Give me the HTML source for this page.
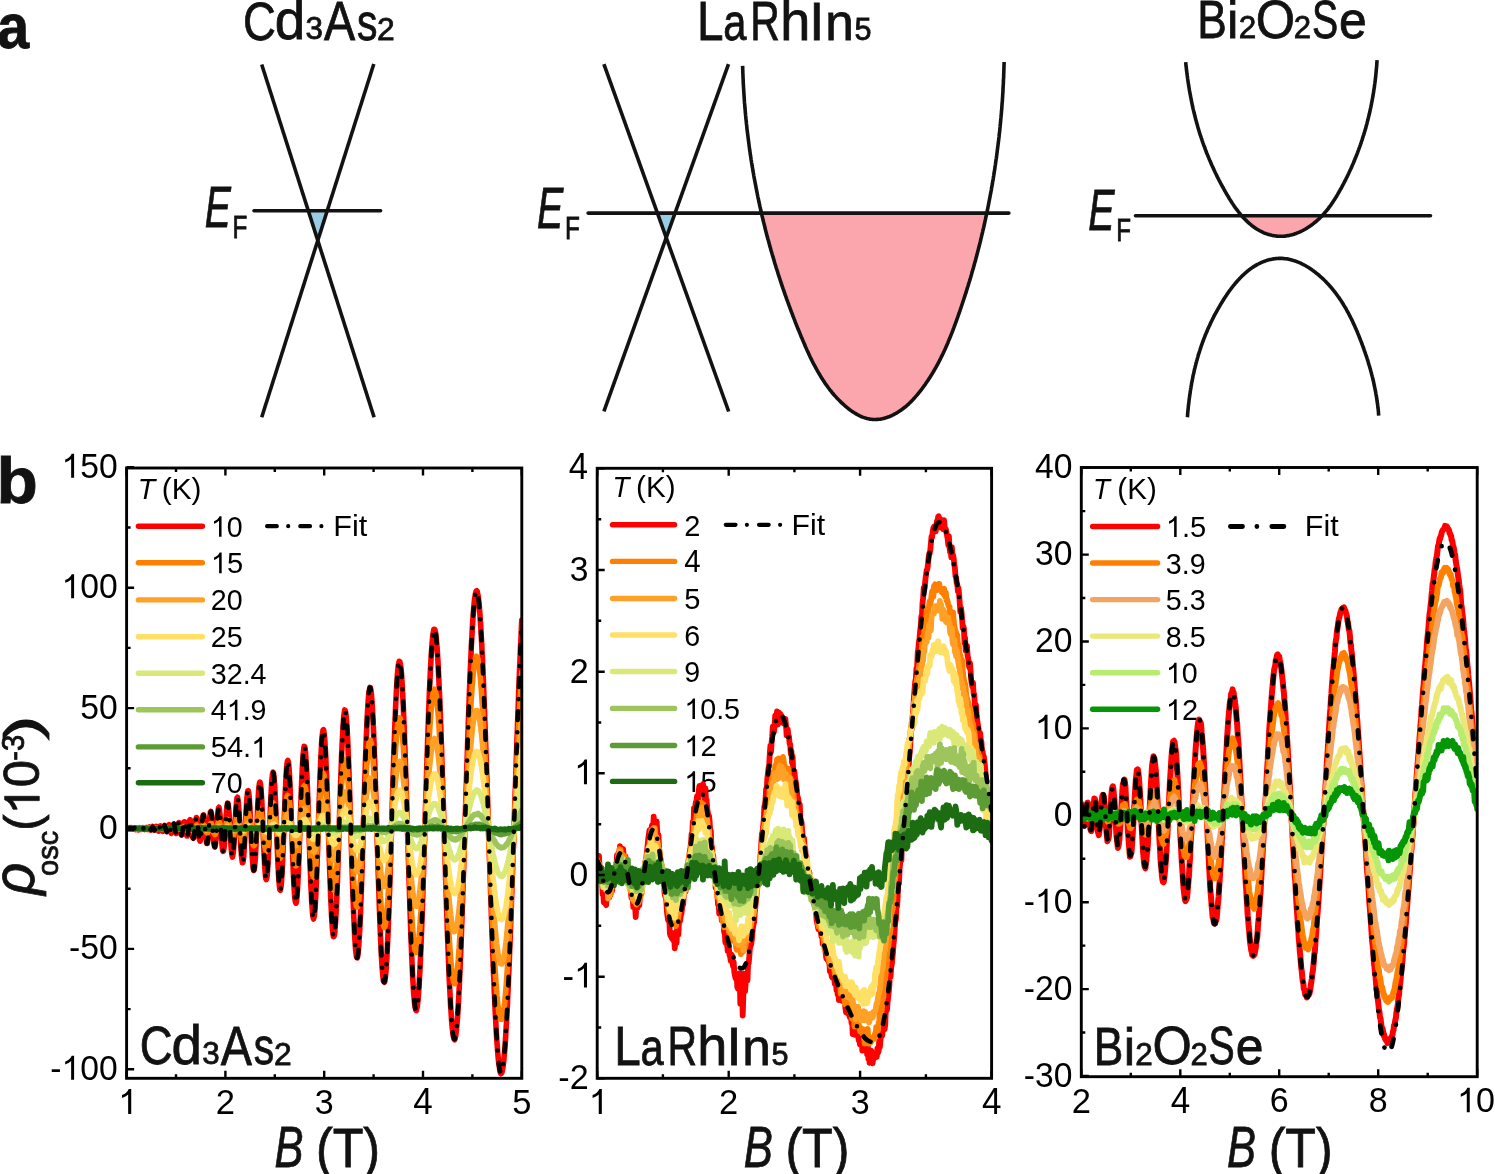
<!DOCTYPE html>
<html><head><meta charset="utf-8"><title>figure</title>
<style>html,body{margin:0;padding:0;background:#fff;overflow:hidden}svg{display:block;will-change:transform}</style></head>
<body><svg width="1495" height="1174" viewBox="0 0 1495 1174" font-family="'Liberation Sans', sans-serif">
<rect width="1495" height="1174" fill="#fff"/>
<text x="-2.68" y="47.99" font-size="62.06" font-weight="bold" textLength="31.92" lengthAdjust="spacingAndGlyphs" fill="#121212" stroke="#121212" stroke-width="0.8">a</text>
<text x="242.89" y="39.57" font-size="54.38" textLength="32.84" lengthAdjust="spacingAndGlyphs" fill="#121212" stroke="#121212" stroke-width="0.8">C</text>
<text x="274.74" y="39.27" font-size="54.74" textLength="30.44" lengthAdjust="spacingAndGlyphs" fill="#121212" stroke="#121212" stroke-width="0.8">d</text>
<text x="305.42" y="39.49" font-size="31.36" textLength="17.44" lengthAdjust="spacingAndGlyphs" fill="#121212" stroke="#121212" stroke-width="0.8">3</text>
<text x="323.91" y="39.90" font-size="54.72" textLength="31.18" lengthAdjust="spacingAndGlyphs" fill="#121212" stroke="#121212" stroke-width="0.8">A</text>
<text x="356.96" y="39.60" font-size="51.06" textLength="20.41" lengthAdjust="spacingAndGlyphs" fill="#121212" stroke="#121212" stroke-width="0.8">s</text>
<text x="377.11" y="39.90" font-size="31.79" textLength="17.68" lengthAdjust="spacingAndGlyphs" fill="#121212" stroke="#121212" stroke-width="0.8">2</text>
<text x="697.09" y="39.90" font-size="54.65" textLength="26.49" lengthAdjust="spacingAndGlyphs" fill="#121212" stroke="#121212" stroke-width="0.8">L</text>
<text x="723.33" y="39.70" font-size="50.93" textLength="23.17" lengthAdjust="spacingAndGlyphs" fill="#121212" stroke="#121212" stroke-width="0.8">a</text>
<text x="750.34" y="39.90" font-size="54.94" textLength="29.56" lengthAdjust="spacingAndGlyphs" fill="#121212" stroke="#121212" stroke-width="0.8">R</text>
<text x="780.15" y="39.70" font-size="55.34" textLength="30.06" lengthAdjust="spacingAndGlyphs" fill="#121212" stroke="#121212" stroke-width="0.8">h</text>
<text x="809.37" y="39.70" font-size="54.22" textLength="15.06" lengthAdjust="spacingAndGlyphs" fill="#121212" stroke="#121212" stroke-width="0.8">I</text>
<text x="825.15" y="39.70" font-size="51.29" textLength="28.53" lengthAdjust="spacingAndGlyphs" fill="#121212" stroke="#121212" stroke-width="0.8">n</text>
<text x="854.38" y="39.59" font-size="31.24" textLength="17.01" lengthAdjust="spacingAndGlyphs" fill="#121212" stroke="#121212" stroke-width="0.8">5</text>
<text x="1197.16" y="38.00" font-size="53.85" textLength="29.58" lengthAdjust="spacingAndGlyphs" fill="#121212" stroke="#121212" stroke-width="0.8">B</text>
<text x="1227.11" y="37.80" font-size="51.34" textLength="11.41" lengthAdjust="spacingAndGlyphs" fill="#121212" stroke="#121212" stroke-width="0.8">i</text>
<text x="1238.74" y="37.80" font-size="31.51" textLength="17.52" lengthAdjust="spacingAndGlyphs" fill="#121212" stroke="#121212" stroke-width="0.8">2</text>
<text x="1255.81" y="37.57" font-size="54.24" textLength="39.31" lengthAdjust="spacingAndGlyphs" fill="#121212" stroke="#121212" stroke-width="0.8">O</text>
<text x="1293.86" y="37.70" font-size="31.08" textLength="17.28" lengthAdjust="spacingAndGlyphs" fill="#121212" stroke="#121212" stroke-width="0.8">2</text>
<text x="1312.02" y="37.57" font-size="54.24" textLength="26.18" lengthAdjust="spacingAndGlyphs" fill="#121212" stroke="#121212" stroke-width="0.8">S</text>
<text x="1339.08" y="37.60" font-size="50.93" textLength="27.73" lengthAdjust="spacingAndGlyphs" fill="#121212" stroke="#121212" stroke-width="0.8">e</text>
<text x="204.79" y="226.50" font-size="57.56" font-style="italic" textLength="26.14" lengthAdjust="spacingAndGlyphs" fill="#121212" stroke="#121212" stroke-width="0.8">E</text>
<text x="232.50" y="237.50" font-size="31.83" textLength="14.87" lengthAdjust="spacingAndGlyphs" fill="#121212" stroke="#121212" stroke-width="0.8">F</text>
<text x="537.09" y="227.70" font-size="57.27" font-style="italic" textLength="26.25" lengthAdjust="spacingAndGlyphs" fill="#121212" stroke="#121212" stroke-width="0.8">E</text>
<text x="565.00" y="239.00" font-size="31.83" textLength="14.87" lengthAdjust="spacingAndGlyphs" fill="#121212" stroke="#121212" stroke-width="0.8">F</text>
<text x="1088.29" y="229.80" font-size="57.27" font-style="italic" textLength="26.25" lengthAdjust="spacingAndGlyphs" fill="#121212" stroke="#121212" stroke-width="0.8">E</text>
<text x="1116.22" y="240.90" font-size="31.54" textLength="14.75" lengthAdjust="spacingAndGlyphs" fill="#121212" stroke="#121212" stroke-width="0.8">F</text>
<polygon points="308.3,210.7 327.2,210.7 317.8,240.5" fill="#9acde3"/>
<line x1="261.7" y1="64.5" x2="374.1" y2="417.2" stroke="#121212" stroke-width="3.6"/>
<line x1="373.8" y1="64.0" x2="261.7" y2="417.2" stroke="#121212" stroke-width="3.6"/>
<line x1="254.0" y1="210.7" x2="380.6" y2="210.7" stroke="#121212" stroke-width="3.6" stroke-linecap="round"/>
<polygon points="657.4,213.1 675.0,213.1 666.2,237.7" fill="#9acde3"/>
<polygon points="761.7,214.1 762.0,215.7 762.4,217.2 762.8,218.8 763.1,220.3 763.5,221.9 763.9,223.4 764.3,224.9 764.7,226.5 765.0,228.0 765.4,229.5 765.8,231.1 766.2,232.6 766.6,234.2 767.0,235.7 767.4,237.2 767.8,238.8 768.3,240.3 768.7,241.8 769.1,243.3 769.5,244.9 769.9,246.4 770.4,247.9 770.8,249.5 771.2,251.0 771.7,252.5 772.1,254.0 772.6,255.6 773.0,257.1 773.5,258.6 773.9,260.1 774.4,261.7 774.8,263.2 775.3,264.7 775.8,266.2 776.2,267.7 776.7,269.2 777.2,270.8 777.7,272.3 778.1,273.8 778.6,275.3 779.1,276.8 779.6,278.3 780.1,279.8 780.6,281.4 781.1,282.9 781.6,284.4 782.1,285.9 782.6,287.4 783.1,288.9 783.7,290.4 784.2,291.9 784.7,293.4 785.2,294.9 785.8,296.4 786.3,297.9 786.8,299.4 787.4,300.9 787.9,302.4 788.5,303.9 789.0,305.4 789.6,306.9 790.1,308.4 790.7,309.9 791.2,311.4 791.8,312.9 792.4,314.4 792.9,315.9 793.5,317.4 794.1,318.9 794.7,320.3 795.2,321.8 795.8,323.3 796.4,324.8 797.0,326.3 797.6,327.8 798.2,329.3 798.8,330.7 799.4,332.2 800.0,333.7 800.6,335.2 801.2,336.7 801.9,338.1 802.5,339.6 803.1,341.1 803.7,342.6 804.4,344.0 805.0,345.5 805.6,347.0 806.3,348.4 806.9,349.9 807.6,351.4 808.3,352.8 808.9,354.3 809.6,355.7 810.3,357.2 811.0,358.6 811.7,360.0 812.4,361.5 813.1,362.9 813.9,364.3 814.6,365.7 815.4,367.1 816.1,368.5 816.9,369.9 817.7,371.3 818.5,372.7 819.3,374.0 820.1,375.4 820.9,376.8 821.7,378.1 822.6,379.4 823.5,380.8 824.3,382.1 825.2,383.4 826.1,384.7 827.1,386.0 828.0,387.3 828.9,388.5 829.9,389.8 830.9,391.0 831.9,392.3 832.9,393.5 833.9,394.7 835.0,395.9 836.1,397.1 837.1,398.3 838.3,399.4 839.4,400.6 840.5,401.7 841.7,402.8 842.9,403.9 844.1,405.0 845.3,406.1 846.5,407.1 847.8,408.2 849.1,409.2 850.3,410.1 851.6,411.1 853.0,412.0 854.3,412.8 855.7,413.6 857.0,414.4 858.4,415.2 859.8,415.8 861.2,416.5 862.6,417.1 864.1,417.6 865.5,418.1 867.0,418.5 868.4,418.8 869.9,419.1 871.4,419.3 872.9,419.5 874.4,419.5 875.9,419.5 877.4,419.4 879.0,419.3 880.5,419.1 882.0,418.8 883.6,418.4 885.1,418.0 886.6,417.6 888.1,417.0 889.6,416.5 891.1,415.8 892.6,415.2 894.0,414.4 895.4,413.7 896.8,412.9 898.2,412.0 899.6,411.1 900.9,410.2 902.2,409.3 903.5,408.3 904.8,407.3 906.0,406.3 907.3,405.2 908.5,404.1 909.6,403.0 910.8,401.9 911.9,400.7 913.1,399.5 914.2,398.3 915.2,397.1 916.3,395.9 917.4,394.7 918.4,393.4 919.4,392.2 920.4,390.9 921.4,389.6 922.4,388.3 923.3,387.0 924.3,385.7 925.2,384.4 926.1,383.1 927.0,381.8 927.9,380.5 928.8,379.1 929.7,377.8 930.5,376.4 931.4,375.1 932.2,373.7 933.0,372.4 933.8,371.0 934.6,369.6 935.4,368.3 936.2,366.9 937.0,365.5 937.7,364.1 938.5,362.7 939.2,361.3 939.9,359.9 940.6,358.5 941.3,357.0 942.0,355.6 942.7,354.2 943.4,352.8 944.1,351.3 944.7,349.9 945.4,348.5 946.0,347.0 946.7,345.6 947.3,344.1 947.9,342.7 948.5,341.2 949.1,339.7 949.7,338.3 950.3,336.8 950.9,335.3 951.5,333.9 952.1,332.4 952.7,330.9 953.2,329.4 953.8,327.9 954.3,326.5 954.9,325.0 955.4,323.5 956.0,322.0 956.5,320.5 957.1,319.0 957.6,317.5 958.1,316.0 958.6,314.5 959.2,313.0 959.7,311.5 960.2,310.0 960.7,308.5 961.2,307.0 961.7,305.5 962.2,304.0 962.7,302.5 963.2,301.0 963.7,299.5 964.2,298.0 964.7,296.4 965.2,294.9 965.7,293.4 966.2,291.9 966.6,290.4 967.1,288.9 967.6,287.3 968.1,285.8 968.5,284.3 969.0,282.8 969.5,281.3 969.9,279.7 970.4,278.2 970.8,276.7 971.3,275.2 971.7,273.6 972.1,272.1 972.6,270.6 973.0,269.1 973.5,267.5 973.9,266.0 974.3,264.5 974.7,262.9 975.2,261.4 975.6,259.9 976.0,258.3 976.4,256.8 976.8,255.2 977.2,253.7 977.6,252.2 978.0,250.6 978.4,249.1 978.8,247.5 979.2,246.0 979.6,244.5 980.0,242.9 980.4,241.4 980.7,239.8 981.1,238.3 981.5,236.7 981.8,235.2 982.2,233.6 982.6,232.1 982.9,230.5 983.3,229.0 983.7,227.4 984.0,225.9 984.4,224.3 984.7,222.8 985.0,221.2 985.4,219.7 985.7,218.1 986.0,216.5 986.4,215.0 986.7,213.4" fill="#fba6ad"/>
<polyline points="742.6,65.9 742.7,67.6 742.7,69.2 742.8,70.8 742.8,72.4 742.9,74.0 743.0,75.6 743.0,77.2 743.1,78.8 743.2,80.4 743.2,82.0 743.3,83.6 743.4,85.2 743.5,86.8 743.6,88.4 743.7,90.0 743.8,91.6 743.9,93.2 744.0,94.8 744.1,96.4 744.2,97.9 744.3,99.5 744.4,101.1 744.5,102.7 744.7,104.3 744.8,105.9 744.9,107.5 745.1,109.1 745.2,110.7 745.3,112.3 745.5,113.9 745.6,115.4 745.8,117.0 745.9,118.6 746.1,120.2 746.3,121.8 746.4,123.4 746.6,125.0 746.8,126.5 746.9,128.1 747.1,129.7 747.3,131.3 747.5,132.9 747.7,134.4 747.9,136.0 748.1,137.6 748.3,139.2 748.5,140.8 748.7,142.3 748.9,143.9 749.1,145.5 749.3,147.1 749.5,148.6 749.7,150.2 750.0,151.8 750.2,153.4 750.4,154.9 750.7,156.5 750.9,158.1 751.1,159.6 751.4,161.2 751.6,162.8 751.9,164.3 752.1,165.9 752.4,167.5 752.7,169.0 752.9,170.6 753.2,172.2 753.5,173.7 753.7,175.3 754.0,176.9 754.3,178.4 754.6,180.0 754.9,181.5 755.2,183.1 755.5,184.7 755.8,186.2 756.1,187.8 756.4,189.3 756.7,190.9 757.0,192.4 757.3,194.0 757.6,195.5 757.9,197.1 758.3,198.7 758.6,200.2 758.9,201.8 759.3,203.3 759.6,204.9 759.9,206.4 760.3,208.0 760.6,209.5 761.0,211.0 761.3,212.6 761.7,214.1 762.0,215.7 762.4,217.2 762.8,218.8 763.1,220.3 763.5,221.9 763.9,223.4 764.3,224.9 764.7,226.5 765.0,228.0 765.4,229.5 765.8,231.1 766.2,232.6 766.6,234.2 767.0,235.7 767.4,237.2 767.8,238.8 768.3,240.3 768.7,241.8 769.1,243.3 769.5,244.9 769.9,246.4 770.4,247.9 770.8,249.5 771.2,251.0 771.7,252.5 772.1,254.0 772.6,255.6 773.0,257.1 773.5,258.6 773.9,260.1 774.4,261.7 774.8,263.2 775.3,264.7 775.8,266.2 776.2,267.7 776.7,269.2 777.2,270.8 777.7,272.3 778.1,273.8 778.6,275.3 779.1,276.8 779.6,278.3 780.1,279.8 780.6,281.4 781.1,282.9 781.6,284.4 782.1,285.9 782.6,287.4 783.1,288.9 783.7,290.4 784.2,291.9 784.7,293.4 785.2,294.9 785.8,296.4 786.3,297.9 786.8,299.4 787.4,300.9 787.9,302.4 788.5,303.9 789.0,305.4 789.6,306.9 790.1,308.4 790.7,309.9 791.2,311.4 791.8,312.9 792.4,314.4 792.9,315.9 793.5,317.4 794.1,318.9 794.7,320.3 795.2,321.8 795.8,323.3 796.4,324.8 797.0,326.3 797.6,327.8 798.2,329.3 798.8,330.7 799.4,332.2 800.0,333.7 800.6,335.2 801.2,336.7 801.9,338.1 802.5,339.6 803.1,341.1 803.7,342.6 804.4,344.0 805.0,345.5 805.6,347.0 806.3,348.4 806.9,349.9 807.6,351.4 808.3,352.8 808.9,354.3 809.6,355.7 810.3,357.2 811.0,358.6 811.7,360.0 812.4,361.5 813.1,362.9 813.9,364.3 814.6,365.7 815.4,367.1 816.1,368.5 816.9,369.9 817.7,371.3 818.5,372.7 819.3,374.0 820.1,375.4 820.9,376.8 821.7,378.1 822.6,379.4 823.5,380.8 824.3,382.1 825.2,383.4 826.1,384.7 827.1,386.0 828.0,387.3 828.9,388.5 829.9,389.8 830.9,391.0 831.9,392.3 832.9,393.5 833.9,394.7 835.0,395.9 836.1,397.1 837.1,398.3 838.3,399.4 839.4,400.6 840.5,401.7 841.7,402.8 842.9,403.9 844.1,405.0 845.3,406.1 846.5,407.1 847.8,408.2 849.1,409.2 850.3,410.1 851.6,411.1 853.0,412.0 854.3,412.8 855.7,413.6 857.0,414.4 858.4,415.2 859.8,415.8 861.2,416.5 862.6,417.1 864.1,417.6 865.5,418.1 867.0,418.5 868.4,418.8 869.9,419.1 871.4,419.3 872.9,419.5 874.4,419.5 875.9,419.5 877.4,419.4 879.0,419.3 880.5,419.1 882.0,418.8 883.6,418.4 885.1,418.0 886.6,417.6 888.1,417.0 889.6,416.5 891.1,415.8 892.6,415.2 894.0,414.4 895.4,413.7 896.8,412.9 898.2,412.0 899.6,411.1 900.9,410.2 902.2,409.3 903.5,408.3 904.8,407.3 906.0,406.3 907.3,405.2 908.5,404.1 909.6,403.0 910.8,401.9 911.9,400.7 913.1,399.5 914.2,398.3 915.2,397.1 916.3,395.9 917.4,394.7 918.4,393.4 919.4,392.2 920.4,390.9 921.4,389.6 922.4,388.3 923.3,387.0 924.3,385.7 925.2,384.4 926.1,383.1 927.0,381.8 927.9,380.5 928.8,379.1 929.7,377.8 930.5,376.4 931.4,375.1 932.2,373.7 933.0,372.4 933.8,371.0 934.6,369.6 935.4,368.3 936.2,366.9 937.0,365.5 937.7,364.1 938.5,362.7 939.2,361.3 939.9,359.9 940.6,358.5 941.3,357.0 942.0,355.6 942.7,354.2 943.4,352.8 944.1,351.3 944.7,349.9 945.4,348.5 946.0,347.0 946.7,345.6 947.3,344.1 947.9,342.7 948.5,341.2 949.1,339.7 949.7,338.3 950.3,336.8 950.9,335.3 951.5,333.9 952.1,332.4 952.7,330.9 953.2,329.4 953.8,327.9 954.3,326.5 954.9,325.0 955.4,323.5 956.0,322.0 956.5,320.5 957.1,319.0 957.6,317.5 958.1,316.0 958.6,314.5 959.2,313.0 959.7,311.5 960.2,310.0 960.7,308.5 961.2,307.0 961.7,305.5 962.2,304.0 962.7,302.5 963.2,301.0 963.7,299.5 964.2,298.0 964.7,296.4 965.2,294.9 965.7,293.4 966.2,291.9 966.6,290.4 967.1,288.9 967.6,287.3 968.1,285.8 968.5,284.3 969.0,282.8 969.5,281.3 969.9,279.7 970.4,278.2 970.8,276.7 971.3,275.2 971.7,273.6 972.1,272.1 972.6,270.6 973.0,269.1 973.5,267.5 973.9,266.0 974.3,264.5 974.7,262.9 975.2,261.4 975.6,259.9 976.0,258.3 976.4,256.8 976.8,255.2 977.2,253.7 977.6,252.2 978.0,250.6 978.4,249.1 978.8,247.5 979.2,246.0 979.6,244.5 980.0,242.9 980.4,241.4 980.7,239.8 981.1,238.3 981.5,236.7 981.8,235.2 982.2,233.6 982.6,232.1 982.9,230.5 983.3,229.0 983.7,227.4 984.0,225.9 984.4,224.3 984.7,222.8 985.0,221.2 985.4,219.7 985.7,218.1 986.0,216.5 986.4,215.0 986.7,213.4 987.0,211.9 987.4,210.3 987.7,208.7 988.0,207.2 988.3,205.6 988.6,204.1 988.9,202.5 989.2,200.9 989.5,199.4 989.8,197.8 990.1,196.2 990.4,194.7 990.7,193.1 991.0,191.5 991.3,190.0 991.5,188.4 991.8,186.8 992.1,185.3 992.4,183.7 992.6,182.1 992.9,180.6 993.2,179.0 993.4,177.4 993.7,175.8 993.9,174.3 994.2,172.7 994.4,171.1 994.7,169.6 994.9,168.0 995.1,166.4 995.4,164.8 995.6,163.3 995.8,161.7 996.0,160.1 996.3,158.5 996.5,157.0 996.7,155.4 996.9,153.8 997.1,152.2 997.3,150.6 997.5,149.1 997.7,147.5 997.9,145.9 998.1,144.3 998.3,142.7 998.5,141.2 998.7,139.6 998.9,138.0 999.1,136.4 999.2,134.8 999.4,133.3 999.6,131.7 999.8,130.1 999.9,128.5 1000.1,126.9 1000.2,125.3 1000.4,123.8 1000.5,122.2 1000.7,120.6 1000.8,119.0 1001.0,117.4 1001.1,115.8 1001.3,114.3 1001.4,112.7 1001.5,111.1 1001.7,109.5 1001.8,107.9 1001.9,106.3 1002.0,104.8 1002.1,103.2 1002.3,101.6 1002.4,100.0 1002.5,98.4 1002.6,96.8 1002.7,95.2 1002.8,93.7 1002.9,92.1 1003.0,90.5 1003.0,88.9 1003.1,87.3 1003.2,85.7 1003.3,84.1 1003.4,82.6 1003.4,81.0 1003.5,79.4 1003.6,77.8 1003.7,76.2 1003.7,74.6 1003.8,73.0 1003.8,71.5 1003.9,69.9 1003.9,68.3 1004.0,66.7 1004.0,65.1 1004.1,63.5 1004.1,61.9" fill="none" stroke="#121212" stroke-width="3.6"/>
<line x1="603.9" y1="64.2" x2="728.7" y2="411.5" stroke="#121212" stroke-width="3.6"/>
<line x1="728.5" y1="64.2" x2="603.9" y2="411.3" stroke="#121212" stroke-width="3.6"/>
<line x1="588.1" y1="213.1" x2="1008.9" y2="213.1" stroke="#121212" stroke-width="3.6" stroke-linecap="round"/>
<polygon points="1242.4,216.5 1243.1,217.4 1243.9,218.1 1244.6,218.9 1245.3,219.7 1246.1,220.4 1246.8,221.2 1247.6,221.9 1248.4,222.6 1249.2,223.3 1250.0,224.0 1250.8,224.7 1251.6,225.4 1252.4,226.0 1253.2,226.6 1254.1,227.2 1254.9,227.8 1255.8,228.4 1256.6,229.0 1257.5,229.5 1258.4,230.0 1259.3,230.5 1260.2,231.0 1261.1,231.5 1262.0,231.9 1263.0,232.4 1263.9,232.8 1264.9,233.2 1265.8,233.5 1266.8,233.9 1267.8,234.2 1268.8,234.5 1269.7,234.8 1270.7,235.0 1271.7,235.3 1272.7,235.5 1273.7,235.7 1274.7,235.8 1275.8,236.0 1276.8,236.1 1277.8,236.2 1278.8,236.2 1279.8,236.3 1280.8,236.3 1281.9,236.3 1282.9,236.2 1283.9,236.2 1284.9,236.1 1285.9,236.0 1286.9,235.8 1288.0,235.6 1289.0,235.5 1290.0,235.2 1291.0,235.0 1292.0,234.8 1293.0,234.5 1294.0,234.2 1295.0,233.8 1296.0,233.5 1296.9,233.1 1297.9,232.7 1298.9,232.3 1299.9,231.9 1300.8,231.5 1301.8,231.0 1302.8,230.5 1303.7,230.0 1304.6,229.5 1305.6,229.0 1306.5,228.4 1307.4,227.8 1308.3,227.3 1309.3,226.6 1310.2,226.0 1311.0,225.4 1311.9,224.8 1312.8,224.1 1313.7,223.4 1314.5,222.7 1315.4,222.0 1316.2,221.3 1317.0,220.6 1317.9,219.9 1318.7,219.1 1319.5,218.4 1320.3,217.6 1321.0,216.8 1321.8,216.1" fill="#fba6ad"/>
<polyline points="1185.7,62.2 1185.8,63.3 1185.9,64.4 1186.0,65.5 1186.1,66.6 1186.3,67.7 1186.4,68.7 1186.5,69.8 1186.6,70.9 1186.8,72.0 1186.9,73.1 1187.0,74.2 1187.2,75.2 1187.3,76.3 1187.5,77.4 1187.6,78.5 1187.8,79.5 1187.9,80.6 1188.1,81.7 1188.2,82.8 1188.4,83.8 1188.6,84.9 1188.7,85.9 1188.9,87.0 1189.1,88.1 1189.2,89.1 1189.4,90.2 1189.6,91.2 1189.8,92.3 1190.0,93.3 1190.2,94.4 1190.4,95.4 1190.6,96.5 1190.8,97.5 1191.0,98.5 1191.2,99.6 1191.4,100.6 1191.6,101.7 1191.8,102.7 1192.0,103.7 1192.2,104.8 1192.5,105.8 1192.7,106.8 1192.9,107.9 1193.1,108.9 1193.4,109.9 1193.6,110.9 1193.9,112.0 1194.1,113.0 1194.4,114.0 1194.6,115.0 1194.9,116.0 1195.1,117.0 1195.4,118.1 1195.6,119.1 1195.9,120.1 1196.2,121.1 1196.5,122.1 1196.7,123.1 1197.0,124.1 1197.3,125.1 1197.6,126.1 1197.9,127.2 1198.2,128.2 1198.5,129.2 1198.8,130.2 1199.1,131.2 1199.4,132.2 1199.7,133.2 1200.0,134.2 1200.3,135.2 1200.7,136.1 1201.0,137.1 1201.3,138.1 1201.7,139.1 1202.0,140.1 1202.3,141.1 1202.7,142.1 1203.0,143.1 1203.4,144.1 1203.7,145.1 1204.1,146.1 1204.5,147.0 1204.8,148.0 1205.2,149.0 1205.6,150.0 1205.9,151.0 1206.3,152.0 1206.7,153.0 1207.1,153.9 1207.5,154.9 1207.9,155.9 1208.3,156.9 1208.7,157.9 1209.1,158.8 1209.5,159.8 1209.9,160.8 1210.4,161.8 1210.8,162.8 1211.2,163.7 1211.6,164.7 1212.1,165.7 1212.5,166.7 1213.0,167.6 1213.4,168.6 1213.9,169.6 1214.3,170.6 1214.8,171.5 1215.2,172.5 1215.7,173.5 1216.2,174.4 1216.7,175.4 1217.1,176.4 1217.6,177.4 1218.1,178.3 1218.6,179.3 1219.1,180.3 1219.6,181.2 1220.1,182.2 1220.6,183.2 1221.1,184.2 1221.7,185.1 1222.2,186.1 1222.7,187.1 1223.3,188.0 1223.8,189.0 1224.3,190.0 1224.9,191.0 1225.4,191.9 1226.0,192.9 1226.5,193.9 1227.1,194.8 1227.7,195.8 1228.3,196.7 1228.8,197.7 1229.4,198.7 1230.0,199.6 1230.6,200.6 1231.2,201.5 1231.8,202.4 1232.4,203.4 1233.0,204.3 1233.7,205.2 1234.3,206.2 1234.9,207.1 1235.6,208.0 1236.2,208.9 1236.9,209.8 1237.6,210.6 1238.2,211.5 1238.9,212.4 1239.6,213.2 1240.3,214.1 1241.0,214.9 1241.7,215.7 1242.4,216.5 1243.1,217.4 1243.9,218.1 1244.6,218.9 1245.3,219.7 1246.1,220.4 1246.8,221.2 1247.6,221.9 1248.4,222.6 1249.2,223.3 1250.0,224.0 1250.8,224.7 1251.6,225.4 1252.4,226.0 1253.2,226.6 1254.1,227.2 1254.9,227.8 1255.8,228.4 1256.6,229.0 1257.5,229.5 1258.4,230.0 1259.3,230.5 1260.2,231.0 1261.1,231.5 1262.0,231.9 1263.0,232.4 1263.9,232.8 1264.9,233.2 1265.8,233.5 1266.8,233.9 1267.8,234.2 1268.8,234.5 1269.7,234.8 1270.7,235.0 1271.7,235.3 1272.7,235.5 1273.7,235.7 1274.7,235.8 1275.8,236.0 1276.8,236.1 1277.8,236.2 1278.8,236.2 1279.8,236.3 1280.8,236.3 1281.9,236.3 1282.9,236.2 1283.9,236.2 1284.9,236.1 1285.9,236.0 1286.9,235.8 1288.0,235.6 1289.0,235.5 1290.0,235.2 1291.0,235.0 1292.0,234.8 1293.0,234.5 1294.0,234.2 1295.0,233.8 1296.0,233.5 1296.9,233.1 1297.9,232.7 1298.9,232.3 1299.9,231.9 1300.8,231.5 1301.8,231.0 1302.8,230.5 1303.7,230.0 1304.6,229.5 1305.6,229.0 1306.5,228.4 1307.4,227.8 1308.3,227.3 1309.3,226.6 1310.2,226.0 1311.0,225.4 1311.9,224.8 1312.8,224.1 1313.7,223.4 1314.5,222.7 1315.4,222.0 1316.2,221.3 1317.0,220.6 1317.9,219.9 1318.7,219.1 1319.5,218.4 1320.3,217.6 1321.0,216.8 1321.8,216.1 1322.5,215.3 1323.3,214.5 1324.0,213.6 1324.7,212.8 1325.4,212.0 1326.1,211.2 1326.8,210.3 1327.5,209.5 1328.2,208.6 1328.8,207.7 1329.5,206.9 1330.1,206.0 1330.8,205.1 1331.4,204.2 1332.0,203.3 1332.6,202.4 1333.2,201.5 1333.8,200.6 1334.4,199.7 1335.0,198.8 1335.5,197.9 1336.1,197.0 1336.7,196.0 1337.2,195.1 1337.8,194.2 1338.3,193.2 1338.8,192.3 1339.4,191.3 1339.9,190.4 1340.4,189.5 1341.0,188.5 1341.5,187.6 1342.0,186.6 1342.5,185.7 1343.0,184.7 1343.5,183.8 1344.0,182.8 1344.5,181.9 1345.0,180.9 1345.5,179.9 1346.0,179.0 1346.4,178.0 1346.9,177.1 1347.4,176.1 1347.9,175.1 1348.3,174.2 1348.8,173.2 1349.2,172.2 1349.7,171.3 1350.1,170.3 1350.6,169.3 1351.0,168.4 1351.5,167.4 1351.9,166.4 1352.3,165.4 1352.7,164.4 1353.2,163.5 1353.6,162.5 1354.0,161.5 1354.4,160.5 1354.8,159.5 1355.2,158.6 1355.6,157.6 1356.0,156.6 1356.4,155.6 1356.8,154.6 1357.2,153.6 1357.6,152.6 1357.9,151.6 1358.3,150.6 1358.7,149.6 1359.0,148.6 1359.4,147.6 1359.8,146.6 1360.1,145.6 1360.5,144.6 1360.8,143.6 1361.2,142.6 1361.5,141.6 1361.8,140.6 1362.2,139.6 1362.5,138.6 1362.8,137.6 1363.1,136.6 1363.4,135.6 1363.8,134.6 1364.1,133.6 1364.4,132.5 1364.7,131.5 1365.0,130.5 1365.3,129.5 1365.6,128.5 1365.9,127.5 1366.1,126.4 1366.4,125.4 1366.7,124.4 1367.0,123.4 1367.2,122.3 1367.5,121.3 1367.8,120.3 1368.0,119.3 1368.3,118.2 1368.5,117.2 1368.8,116.2 1369.0,115.1 1369.3,114.1 1369.5,113.1 1369.8,112.0 1370.0,111.0 1370.2,110.0 1370.4,108.9 1370.7,107.9 1370.9,106.8 1371.1,105.8 1371.3,104.8 1371.5,103.7 1371.7,102.7 1371.9,101.6 1372.1,100.6 1372.3,99.5 1372.5,98.5 1372.7,97.4 1372.9,96.4 1373.0,95.3 1373.2,94.3 1373.4,93.2 1373.6,92.2 1373.7,91.1 1373.9,90.1 1374.0,89.0 1374.2,88.0 1374.4,86.9 1374.5,85.9 1374.6,84.8 1374.8,83.7 1374.9,82.7 1375.1,81.6 1375.2,80.5 1375.3,79.5 1375.4,78.4 1375.6,77.4 1375.7,76.3 1375.8,75.2 1375.9,74.2 1376.0,73.1 1376.1,72.0 1376.2,70.9 1376.3,69.9 1376.4,68.8 1376.5,67.7 1376.6,66.7 1376.7,65.6 1376.8,64.5 1376.8,63.4 1376.9,62.4 1377.0,61.3 1377.1,60.2" fill="none" stroke="#121212" stroke-width="3.6"/>
<polyline points="1187.4,417.3 1187.5,416.3 1187.6,415.3 1187.6,414.2 1187.7,413.2 1187.8,412.2 1187.9,411.2 1188.0,410.2 1188.1,409.2 1188.2,408.1 1188.3,407.1 1188.4,406.1 1188.5,405.1 1188.6,404.1 1188.8,403.1 1188.9,402.1 1189.0,401.1 1189.1,400.1 1189.2,399.1 1189.4,398.1 1189.5,397.1 1189.6,396.2 1189.8,395.2 1189.9,394.2 1190.1,393.2 1190.2,392.2 1190.3,391.2 1190.5,390.2 1190.7,389.3 1190.8,388.3 1191.0,387.3 1191.1,386.3 1191.3,385.4 1191.5,384.4 1191.6,383.4 1191.8,382.4 1192.0,381.5 1192.2,380.5 1192.4,379.5 1192.6,378.6 1192.8,377.6 1192.9,376.6 1193.1,375.7 1193.3,374.7 1193.6,373.8 1193.8,372.8 1194.0,371.9 1194.2,370.9 1194.4,369.9 1194.6,369.0 1194.9,368.0 1195.1,367.1 1195.3,366.1 1195.6,365.2 1195.8,364.3 1196.1,363.3 1196.3,362.4 1196.6,361.4 1196.8,360.5 1197.1,359.5 1197.3,358.6 1197.6,357.7 1197.9,356.7 1198.1,355.8 1198.4,354.9 1198.7,353.9 1199.0,353.0 1199.3,352.1 1199.6,351.2 1199.9,350.2 1200.2,349.3 1200.5,348.4 1200.8,347.4 1201.1,346.5 1201.4,345.6 1201.7,344.7 1202.1,343.8 1202.4,342.8 1202.7,341.9 1203.1,341.0 1203.4,340.1 1203.7,339.2 1204.1,338.3 1204.5,337.4 1204.8,336.4 1205.2,335.5 1205.5,334.6 1205.9,333.7 1206.3,332.8 1206.7,331.9 1207.1,331.0 1207.4,330.1 1207.8,329.2 1208.2,328.3 1208.6,327.4 1209.0,326.5 1209.5,325.6 1209.9,324.7 1210.3,323.8 1210.7,322.9 1211.1,322.0 1211.6,321.1 1212.0,320.2 1212.5,319.3 1212.9,318.4 1213.4,317.5 1213.8,316.6 1214.3,315.7 1214.7,314.8 1215.2,314.0 1215.7,313.1 1216.2,312.2 1216.7,311.3 1217.2,310.4 1217.7,309.5 1218.2,308.6 1218.7,307.7 1219.2,306.9 1219.7,306.0 1220.2,305.1 1220.7,304.2 1221.3,303.3 1221.8,302.5 1222.3,301.6 1222.9,300.7 1223.4,299.8 1224.0,298.9 1224.6,298.1 1225.1,297.2 1225.7,296.3 1226.3,295.5 1226.9,294.6 1227.4,293.8 1228.0,292.9 1228.6,292.0 1229.2,291.2 1229.8,290.4 1230.5,289.5 1231.1,288.7 1231.7,287.9 1232.3,287.0 1233.0,286.2 1233.6,285.4 1234.3,284.6 1234.9,283.8 1235.6,283.0 1236.3,282.2 1236.9,281.5 1237.6,280.7 1238.3,279.9 1239.0,279.2 1239.7,278.4 1240.4,277.7 1241.1,277.0 1241.8,276.3 1242.5,275.6 1243.3,274.9 1244.0,274.2 1244.7,273.5 1245.5,272.9 1246.2,272.2 1247.0,271.6 1247.8,270.9 1248.5,270.3 1249.3,269.7 1250.1,269.1 1250.9,268.5 1251.7,268.0 1252.5,267.4 1253.3,266.9 1254.1,266.4 1255.0,265.9 1255.8,265.4 1256.6,264.9 1257.5,264.4 1258.3,264.0 1259.2,263.5 1260.1,263.1 1260.9,262.7 1261.8,262.3 1262.7,261.9 1263.6,261.6 1264.5,261.3 1265.4,260.9 1266.3,260.6 1267.2,260.3 1268.1,260.1 1269.1,259.8 1270.0,259.6 1270.9,259.4 1271.9,259.2 1272.8,259.0 1273.7,258.9 1274.7,258.8 1275.6,258.6 1276.6,258.5 1277.5,258.5 1278.5,258.4 1279.4,258.4 1280.3,258.4 1281.3,258.4 1282.2,258.4 1283.2,258.5 1284.1,258.6 1285.1,258.7 1286.0,258.8 1286.9,258.9 1287.9,259.1 1288.8,259.3 1289.7,259.5 1290.7,259.7 1291.6,259.9 1292.5,260.2 1293.4,260.4 1294.3,260.7 1295.3,261.0 1296.2,261.4 1297.1,261.7 1298.0,262.1 1298.9,262.4 1299.8,262.8 1300.7,263.2 1301.6,263.7 1302.4,264.1 1303.3,264.5 1304.2,265.0 1305.1,265.5 1306.0,266.0 1306.8,266.5 1307.7,267.0 1308.5,267.5 1309.4,268.1 1310.2,268.6 1311.1,269.2 1311.9,269.8 1312.7,270.4 1313.6,271.0 1314.4,271.6 1315.2,272.2 1316.0,272.8 1316.8,273.5 1317.6,274.1 1318.4,274.8 1319.2,275.4 1319.9,276.1 1320.7,276.8 1321.5,277.5 1322.2,278.2 1323.0,278.9 1323.7,279.6 1324.4,280.3 1325.2,281.0 1325.9,281.7 1326.6,282.5 1327.3,283.2 1328.0,283.9 1328.7,284.7 1329.3,285.4 1330.0,286.2 1330.7,287.0 1331.3,287.7 1332.0,288.5 1332.6,289.3 1333.3,290.1 1333.9,290.8 1334.5,291.6 1335.1,292.4 1335.7,293.2 1336.3,294.0 1336.9,294.8 1337.5,295.7 1338.1,296.5 1338.7,297.3 1339.3,298.1 1339.8,298.9 1340.4,299.8 1340.9,300.6 1341.5,301.4 1342.0,302.3 1342.6,303.1 1343.1,304.0 1343.6,304.8 1344.1,305.7 1344.6,306.5 1345.2,307.4 1345.7,308.3 1346.2,309.1 1346.6,310.0 1347.1,310.9 1347.6,311.8 1348.1,312.6 1348.6,313.5 1349.0,314.4 1349.5,315.3 1349.9,316.2 1350.4,317.1 1350.8,318.0 1351.3,318.8 1351.7,319.7 1352.2,320.6 1352.6,321.5 1353.0,322.4 1353.4,323.4 1353.9,324.3 1354.3,325.2 1354.7,326.1 1355.1,327.0 1355.5,327.9 1355.9,328.8 1356.3,329.7 1356.7,330.6 1357.1,331.6 1357.5,332.5 1357.8,333.4 1358.2,334.3 1358.6,335.2 1359.0,336.2 1359.3,337.1 1359.7,338.0 1360.1,338.9 1360.4,339.9 1360.8,340.8 1361.1,341.7 1361.5,342.6 1361.8,343.6 1362.2,344.5 1362.5,345.4 1362.9,346.4 1363.2,347.3 1363.6,348.2 1363.9,349.1 1364.2,350.1 1364.5,351.0 1364.9,351.9 1365.2,352.9 1365.5,353.8 1365.8,354.7 1366.1,355.7 1366.5,356.6 1366.8,357.5 1367.1,358.5 1367.4,359.4 1367.7,360.4 1368.0,361.3 1368.3,362.2 1368.5,363.2 1368.8,364.1 1369.1,365.1 1369.4,366.0 1369.7,366.9 1369.9,367.9 1370.2,368.8 1370.5,369.8 1370.7,370.7 1371.0,371.7 1371.2,372.6 1371.5,373.6 1371.7,374.5 1372.0,375.5 1372.2,376.4 1372.5,377.4 1372.7,378.3 1372.9,379.3 1373.2,380.3 1373.4,381.2 1373.6,382.2 1373.8,383.1 1374.0,384.1 1374.2,385.1 1374.4,386.0 1374.6,387.0 1374.8,388.0 1375.0,388.9 1375.2,389.9 1375.4,390.9 1375.6,391.8 1375.8,392.8 1375.9,393.8 1376.1,394.8 1376.3,395.8 1376.4,396.7 1376.6,397.7 1376.8,398.7 1376.9,399.7 1377.0,400.7 1377.2,401.7 1377.3,402.6 1377.5,403.6 1377.6,404.6 1377.7,405.6 1377.8,406.6 1377.9,407.6 1378.1,408.6 1378.2,409.6 1378.3,410.6 1378.4,411.6 1378.5,412.6 1378.5,413.6 1378.6,414.6 1378.7,415.7" fill="none" stroke="#121212" stroke-width="3.6"/>
<line x1="1135.5" y1="215.8" x2="1430.5" y2="215.8" stroke="#121212" stroke-width="3.6" stroke-linecap="round"/>
<text x="-3.46" y="503.07" font-size="64.95" font-weight="bold" textLength="41.34" lengthAdjust="spacingAndGlyphs" fill="#121212" stroke="#121212" stroke-width="0.8">b</text>
<g transform="translate(33.65,894.92) rotate(-90)"><text x="0.00" y="0.00" font-size="59.01" font-style="italic" textLength="32.26" lengthAdjust="spacingAndGlyphs" fill="#121212" stroke="#121212" stroke-width="0.8">ρ</text></g>
<g transform="translate(58.01,875.92) rotate(-90)"><text x="0.00" y="0.00" font-size="29.75" textLength="45.08" lengthAdjust="spacingAndGlyphs" fill="#121212" stroke="#121212" stroke-width="0.8">osc</text></g>
<g transform="translate(39.28,830.84) rotate(-90)"><text x="0.00" y="0.00" font-size="50.34" textLength="16.30" lengthAdjust="spacingAndGlyphs" fill="#121212" stroke="#121212" stroke-width="0.8">(</text><use href="#one" transform="translate(16.30,0.00) scale(0.02390,-0.02458)" fill="#121212" stroke="#121212" stroke-width="32.5"/><text x="43.52" y="0.00" font-size="50.34" textLength="27.22" lengthAdjust="spacingAndGlyphs" fill="#121212" stroke="#121212" stroke-width="0.8">0</text></g>
<g transform="translate(24.10,760.70) rotate(-90)"><text x="0.00" y="0.00" font-size="30.51" textLength="25.98" lengthAdjust="spacingAndGlyphs" fill="#121212" stroke="#121212" stroke-width="0.8">-3</text></g>
<g transform="translate(39.28,740.14) rotate(-90)"><text x="0.00" y="0.00" font-size="50.34" textLength="24.74" lengthAdjust="spacingAndGlyphs" fill="#121212" stroke="#121212" stroke-width="0.8">)</text></g>
<defs>
<path id="one" d="M763,0L583,0L583,1100Q520,1040 420,985Q320,930 223,900L223,1070Q330,1110 450,1190Q560,1270 620,1409L763,1409Z"/>
<clipPath id="c1"><rect x="127.1" y="468.5" width="394.2" height="609.3"/></clipPath>
<clipPath id="c2"><rect x="597.7" y="468.8" width="393.4" height="609.0"/></clipPath>
<clipPath id="c3"><rect x="1081.8" y="468.0" width="394.9" height="608.2"/></clipPath>
</defs>
<text x="137.73" y="499.20" font-size="30.23" font-style="italic" textLength="17.48" lengthAdjust="spacingAndGlyphs" fill="#000">T</text>
<text x="161.75" y="499.20" font-size="30.14" textLength="39.80" lengthAdjust="spacingAndGlyphs" fill="#000">(K)</text>
<line x1="138.39999999999998" y1="526.2" x2="202.4" y2="526.2" stroke="#ff0000" stroke-width="5.4" stroke-linecap="round"/>
<use href="#one" transform="translate(210.88,536.76) scale(0.01398,-0.01455)" fill="#000"/><text x="226.81" y="536.76" font-size="29.80" textLength="15.93" lengthAdjust="spacingAndGlyphs" fill="#000">0</text>
<line x1="138.39999999999998" y1="562.8" x2="202.4" y2="562.8" stroke="#ff7f00" stroke-width="5.4" stroke-linecap="round"/>
<use href="#one" transform="translate(210.84,573.35) scale(0.01419,-0.01477)" fill="#000"/><text x="227.00" y="573.35" font-size="30.24" textLength="16.16" lengthAdjust="spacingAndGlyphs" fill="#000">5</text>
<line x1="138.39999999999998" y1="599.9" x2="202.4" y2="599.9" stroke="#ffa126" stroke-width="5.4" stroke-linecap="round"/>
<text x="210.83" y="610.46" font-size="29.80" textLength="31.85" lengthAdjust="spacingAndGlyphs" fill="#000">20</text>
<line x1="138.39999999999998" y1="636.7" x2="202.4" y2="636.7" stroke="#ffe066" stroke-width="5.4" stroke-linecap="round"/>
<text x="210.83" y="647.26" font-size="29.80" textLength="31.85" lengthAdjust="spacingAndGlyphs" fill="#000">25</text>
<line x1="138.39999999999998" y1="673.2" x2="202.4" y2="673.2" stroke="#d9e876" stroke-width="5.4" stroke-linecap="round"/>
<text x="210.82" y="683.76" font-size="29.80" textLength="55.73" lengthAdjust="spacingAndGlyphs" fill="#000">32.4</text>
<line x1="138.39999999999998" y1="709.8" x2="202.4" y2="709.8" stroke="#9dc55b" stroke-width="5.4" stroke-linecap="round"/>
<text x="210.81" y="720.36" font-size="29.80" textLength="15.93" lengthAdjust="spacingAndGlyphs" fill="#000">4</text><use href="#one" transform="translate(226.74,720.36) scale(0.01398,-0.01455)" fill="#000"/><text x="242.66" y="720.36" font-size="29.80" textLength="23.88" lengthAdjust="spacingAndGlyphs" fill="#000">.9</text>
<line x1="138.39999999999998" y1="746.9" x2="202.4" y2="746.9" stroke="#5d9b34" stroke-width="5.4" stroke-linecap="round"/>
<text x="210.81" y="757.45" font-size="30.24" textLength="40.39" lengthAdjust="spacingAndGlyphs" fill="#000">54.</text><use href="#one" transform="translate(251.20,757.45) scale(0.01419,-0.01477)" fill="#000"/>
<line x1="138.39999999999998" y1="782.8" x2="202.4" y2="782.8" stroke="#1c6c12" stroke-width="5.4" stroke-linecap="round"/>
<text x="210.83" y="793.36" font-size="29.80" textLength="31.85" lengthAdjust="spacingAndGlyphs" fill="#000">70</text>
<line x1="267.1" y1="526.2" x2="323.2" y2="526.2" stroke="#000" stroke-width="4.2" stroke-linecap="round" stroke-dasharray="9.7 11.4 0 12.1"/>
<text x="333.19" y="536.17" font-size="29.35" textLength="34.04" lengthAdjust="spacingAndGlyphs" fill="#000">Fit</text>
<text x="612.41" y="497.10" font-size="29.51" font-style="italic" textLength="16.95" lengthAdjust="spacingAndGlyphs" fill="#000">T</text>
<text x="636.06" y="497.10" font-size="29.42" textLength="39.58" lengthAdjust="spacingAndGlyphs" fill="#000">(K)</text>
<line x1="612.5" y1="524.8" x2="674.5999999999999" y2="524.8" stroke="#ff0000" stroke-width="5.4" stroke-linecap="round"/>
<text x="684.24" y="535.65" font-size="30.22" textLength="16.15" lengthAdjust="spacingAndGlyphs" fill="#000">2</text>
<line x1="612.5" y1="561.4" x2="674.5999999999999" y2="561.4" stroke="#ff7f00" stroke-width="5.4" stroke-linecap="round"/>
<text x="684.22" y="572.25" font-size="30.67" textLength="16.39" lengthAdjust="spacingAndGlyphs" fill="#000">4</text>
<line x1="612.5" y1="598.5" x2="674.5999999999999" y2="598.5" stroke="#ffa126" stroke-width="5.4" stroke-linecap="round"/>
<text x="684.23" y="609.05" font-size="30.24" textLength="16.16" lengthAdjust="spacingAndGlyphs" fill="#000">5</text>
<line x1="612.5" y1="635.0" x2="674.5999999999999" y2="635.0" stroke="#ffe066" stroke-width="5.4" stroke-linecap="round"/>
<text x="684.26" y="645.56" font-size="29.80" textLength="15.93" lengthAdjust="spacingAndGlyphs" fill="#000">6</text>
<line x1="612.5" y1="671.5" x2="674.5999999999999" y2="671.5" stroke="#d9e876" stroke-width="5.4" stroke-linecap="round"/>
<text x="684.26" y="682.06" font-size="29.80" textLength="15.93" lengthAdjust="spacingAndGlyphs" fill="#000">9</text>
<line x1="612.5" y1="708.4" x2="674.5999999999999" y2="708.4" stroke="#9dc55b" stroke-width="5.4" stroke-linecap="round"/>
<use href="#one" transform="translate(684.31,718.96) scale(0.01398,-0.01455)" fill="#000"/><text x="700.23" y="718.96" font-size="29.80" textLength="39.81" lengthAdjust="spacingAndGlyphs" fill="#000">0.5</text>
<line x1="612.5" y1="745.5" x2="674.5999999999999" y2="745.5" stroke="#5d9b34" stroke-width="5.4" stroke-linecap="round"/>
<use href="#one" transform="translate(684.26,756.35) scale(0.01418,-0.01476)" fill="#000"/><text x="700.41" y="756.35" font-size="30.22" textLength="16.15" lengthAdjust="spacingAndGlyphs" fill="#000">2</text>
<line x1="612.5" y1="781.4" x2="674.5999999999999" y2="781.4" stroke="#1c6c12" stroke-width="5.4" stroke-linecap="round"/>
<use href="#one" transform="translate(684.26,791.95) scale(0.01419,-0.01477)" fill="#000"/><text x="700.42" y="791.95" font-size="30.24" textLength="16.16" lengthAdjust="spacingAndGlyphs" fill="#000">5</text>
<line x1="725.8000000000001" y1="524.8" x2="782.7" y2="524.8" stroke="#000" stroke-width="4.2" stroke-linecap="round" stroke-dasharray="9.7 11.4 0 12.1"/>
<text x="791.52" y="534.77" font-size="29.35" textLength="33.60" lengthAdjust="spacingAndGlyphs" fill="#000">Fit</text>
<text x="1093.11" y="499.40" font-size="29.80" font-style="italic" textLength="16.95" lengthAdjust="spacingAndGlyphs" fill="#000">T</text>
<text x="1117.36" y="499.40" font-size="29.71" textLength="39.47" lengthAdjust="spacingAndGlyphs" fill="#000">(K)</text>
<line x1="1092.6000000000001" y1="526.5" x2="1157.6" y2="526.5" stroke="#ff0000" stroke-width="5.4" stroke-linecap="round"/>
<use href="#one" transform="translate(1165.84,537.05) scale(0.01419,-0.01477)" fill="#000"/><text x="1182.00" y="537.05" font-size="30.24" textLength="24.23" lengthAdjust="spacingAndGlyphs" fill="#000">.5</text>
<line x1="1092.6000000000001" y1="563.0" x2="1157.6" y2="563.0" stroke="#ff8000" stroke-width="5.4" stroke-linecap="round"/>
<text x="1165.82" y="573.56" font-size="29.80" textLength="39.81" lengthAdjust="spacingAndGlyphs" fill="#000">3.9</text>
<line x1="1092.6000000000001" y1="599.6" x2="1157.6" y2="599.6" stroke="#f4a460" stroke-width="5.4" stroke-linecap="round"/>
<text x="1165.82" y="610.16" font-size="29.80" textLength="39.81" lengthAdjust="spacingAndGlyphs" fill="#000">5.3</text>
<line x1="1092.6000000000001" y1="636.1" x2="1157.6" y2="636.1" stroke="#ece878" stroke-width="5.4" stroke-linecap="round"/>
<text x="1165.83" y="646.66" font-size="29.80" textLength="39.81" lengthAdjust="spacingAndGlyphs" fill="#000">8.5</text>
<line x1="1092.6000000000001" y1="672.7" x2="1157.6" y2="672.7" stroke="#b8ec70" stroke-width="5.4" stroke-linecap="round"/>
<use href="#one" transform="translate(1165.88,683.26) scale(0.01398,-0.01455)" fill="#000"/><text x="1181.81" y="683.26" font-size="29.80" textLength="15.93" lengthAdjust="spacingAndGlyphs" fill="#000">0</text>
<line x1="1092.6000000000001" y1="709.2" x2="1157.6" y2="709.2" stroke="#049604" stroke-width="5.4" stroke-linecap="round"/>
<use href="#one" transform="translate(1165.84,720.05) scale(0.01418,-0.01476)" fill="#000"/><text x="1181.99" y="720.05" font-size="30.22" textLength="16.15" lengthAdjust="spacingAndGlyphs" fill="#000">2</text>
<line x1="1230.4" y1="526.5" x2="1286.2" y2="526.5" stroke="#000" stroke-width="4.8" stroke-linecap="round" stroke-dasharray="12.1 14.4 0 14.9"/>
<text x="1304.80" y="536.47" font-size="29.35" textLength="33.82" lengthAdjust="spacingAndGlyphs" fill="#000">Fit</text>
<g clip-path="url(#c1)">
<polyline points="126.6,828.4 127.1,828.2 127.5,828.6 128.0,829.0 128.4,828.8 128.9,828.7 129.3,828.2 129.8,828.0 130.2,828.9 130.7,828.9 131.1,828.3 131.6,828.1 132.0,828.2 132.5,828.9 132.9,828.9 133.4,828.5 133.8,828.7 134.3,828.2 134.7,828.9 135.2,829.1 135.6,829.5 136.1,828.8 136.5,828.6 137.0,827.9 137.4,828.2 137.9,828.8 138.3,829.8 138.8,829.0 139.2,828.3 139.7,827.8 140.1,828.5 140.6,828.8 141.0,829.4 141.5,829.4 141.9,828.3 142.4,828.2 142.8,827.7 143.3,827.9 143.7,829.1 144.2,829.4 144.6,829.2 145.1,828.5 145.5,828.1 146.0,827.5 146.4,827.6 146.9,829.4 147.3,829.3 147.8,829.5 148.2,828.9 148.7,827.2 149.1,827.0 149.6,827.9 150.0,828.5 150.5,829.3 150.9,830.0 151.4,829.2 151.8,828.4 152.3,827.1 152.7,826.5 153.2,827.7 153.6,828.6 154.1,829.9 154.5,830.2 155.0,830.1 155.4,828.7 155.9,827.3 156.3,826.3 156.8,826.6 157.2,828.5 157.7,829.8 158.1,830.4 158.6,831.1 159.0,829.6 159.5,827.9 159.9,826.2 160.4,825.9 160.8,826.8 161.3,828.4 161.7,830.1 162.2,830.7 162.7,831.2 163.1,830.0 163.6,828.0 164.0,826.4 164.5,825.5 164.9,826.2 165.4,827.4 165.8,829.5 166.3,830.8 166.7,831.7 167.2,831.3 167.6,829.4 168.1,827.5 168.5,825.2 169.0,824.7 169.4,825.1 169.9,827.4 170.3,829.3 170.8,832.0 171.2,833.3 171.7,832.5 172.1,831.0 172.6,828.2 173.0,825.1 173.5,824.4 173.9,824.0 174.4,825.0 174.8,827.3 175.3,830.3 175.7,832.6 176.2,833.5 176.6,833.1 177.1,831.7 177.5,828.6 178.0,825.6 178.4,823.7 178.9,822.6 179.3,823.7 179.8,825.5 180.2,828.9 180.7,832.0 181.1,834.4 181.6,835.1 182.0,834.6 182.5,831.9 182.9,828.2 183.4,825.5 183.8,822.1 184.3,821.7 184.7,821.7 185.2,824.5 185.6,827.5 186.1,831.4 186.5,835.0 187.0,836.0 187.4,836.0 187.9,834.6 188.3,831.4 188.8,827.5 189.2,823.9 189.7,820.4 190.1,819.7 190.6,820.2 191.0,822.9 191.5,826.6 191.9,831.1 192.4,834.3 192.8,837.5 193.3,838.2 193.7,837.6 194.2,835.1 194.6,830.9 195.1,826.4 195.5,822.0 196.0,818.9 196.4,817.5 196.9,818.4 197.3,820.8 197.8,824.1 198.2,829.6 198.7,834.5 199.2,838.0 199.6,840.0 200.1,841.2 200.5,839.0 201.0,835.6 201.4,831.1 201.9,825.2 202.3,820.5 202.8,816.8 203.2,815.2 203.7,815.0 204.1,817.6 204.6,821.6 205.0,827.1 205.5,832.7 205.9,837.1 206.4,841.5 206.8,843.4 207.3,843.4 207.7,841.3 208.2,837.3 208.6,831.6 209.1,825.9 209.5,820.1 210.0,815.4 210.4,812.1 210.9,811.4 211.3,812.9 211.8,816.6 212.2,821.9 212.7,827.4 213.1,833.7 213.6,839.8 214.0,844.0 214.5,846.5 214.9,846.9 215.4,844.9 215.8,841.4 216.3,835.2 216.7,829.5 217.2,822.2 217.6,816.2 218.1,811.2 218.5,808.0 219.0,807.3 219.4,809.7 219.9,813.5 220.3,818.3 220.8,825.5 221.2,832.4 221.7,839.0 222.1,845.5 222.6,849.9 223.0,851.3 223.5,851.1 223.9,848.6 224.4,843.9 224.8,837.9 225.3,830.8 225.7,822.9 226.2,816.0 226.6,810.1 227.1,805.2 227.5,803.2 228.0,803.3 228.4,806.2 228.9,810.8 229.3,817.3 229.8,824.8 230.2,832.5 230.7,840.5 231.1,847.0 231.6,852.3 232.0,855.1 232.5,857.1 232.9,855.0 233.4,851.6 233.8,845.9 234.3,839.1 234.8,830.6 235.2,821.8 235.7,814.0 236.1,807.0 236.6,801.7 237.0,798.0 237.5,797.3 237.9,799.4 238.4,802.7 238.8,808.8 239.3,816.5 239.7,824.2 240.2,832.6 240.6,841.6 241.1,849.8 241.5,856.2 242.0,860.1 242.4,862.7 242.9,862.6 243.3,860.2 243.8,855.4 244.2,848.5 244.7,840.5 245.1,831.5 245.6,822.5 246.0,813.0 246.5,805.2 246.9,798.0 247.4,793.8 247.8,790.9 248.3,790.6 248.7,793.2 249.2,796.7 249.6,803.3 250.1,811.9 250.5,820.8 251.0,830.6 251.4,841.2 251.9,849.6 252.3,857.6 252.8,863.9 253.2,868.6 253.7,870.5 254.1,870.1 254.6,867.0 255.0,862.3 255.5,855.5 255.9,846.6 256.4,837.5 256.8,827.3 257.3,817.5 257.7,806.7 258.2,798.2 258.6,791.1 259.1,785.8 259.5,782.9 260.0,782.1 260.4,783.9 260.9,787.8 261.3,793.7 261.8,801.2 262.2,810.8 262.7,821.2 263.1,832.1 263.6,842.8 264.0,852.2 264.5,861.6 264.9,869.2 265.4,875.0 265.8,878.7 266.3,879.6 266.7,878.2 267.2,875.1 267.6,869.5 268.1,861.9 268.5,852.7 269.0,842.9 269.4,831.6 269.9,820.5 270.4,809.0 270.8,799.3 271.3,789.8 271.7,782.0 272.2,777.0 272.6,773.6 273.1,772.1 273.5,773.3 274.0,777.0 274.4,782.1 274.9,789.2 275.3,799.0 275.8,809.3 276.2,820.8 276.7,832.1 277.1,844.1 277.6,855.2 278.0,864.7 278.5,874.2 278.9,880.8 279.4,886.0 279.8,889.5 280.3,890.3 280.7,888.5 281.2,885.5 281.6,879.9 282.1,872.5 282.5,862.8 283.0,851.8 283.4,840.5 283.9,829.0 284.3,816.9 284.8,805.0 285.2,793.7 285.7,783.9 286.1,775.2 286.6,768.4 287.0,763.7 287.5,760.9 287.9,760.4 288.4,762.2 288.8,765.9 289.3,771.5 289.7,779.7 290.2,789.3 290.6,800.5 291.1,811.6 291.5,824.6 292.0,837.0 292.4,848.8 292.9,860.7 293.3,871.9 293.8,882.1 294.2,889.9 294.7,896.4 295.1,900.5 295.6,902.4 296.0,903.2 296.5,901.5 296.9,897.5 297.4,891.1 297.8,883.3 298.3,874.1 298.7,862.9 299.2,851.4 299.6,838.2 300.1,825.3 300.5,812.3 301.0,800.2 301.4,788.0 301.9,777.3 302.3,767.8 302.8,759.7 303.2,753.7 303.7,749.4 304.1,746.4 304.6,746.5 305.0,748.2 305.5,751.9 305.9,758.6 306.4,766.0 306.9,775.0 307.3,785.6 307.8,797.6 308.2,809.8 308.7,823.2 309.1,837.0 309.6,850.1 310.0,862.4 310.5,874.6 310.9,886.3 311.4,895.2 311.8,903.6 312.3,910.0 312.7,915.2 313.2,918.0 313.6,919.0 314.1,916.7 314.5,914.2 315.0,908.5 315.4,902.2 315.9,893.3 316.3,883.8 316.8,872.0 317.2,859.3 317.7,846.9 318.1,832.7 318.6,819.2 319.0,806.0 319.5,792.6 319.9,780.1 320.4,768.5 320.8,758.2 321.3,749.3 321.7,741.7 322.2,736.1 322.6,732.3 323.1,729.9 323.5,729.6 324.0,732.2 324.4,735.5 324.9,741.3 325.3,748.7 325.8,757.0 326.2,767.7 326.7,778.6 327.1,791.8 327.6,804.7 328.0,818.6 328.5,832.7 328.9,846.3 329.4,860.3 329.8,873.2 330.3,885.9 330.7,897.7 331.2,907.7 331.6,916.6 332.1,923.8 332.5,930.2 333.0,934.0 333.4,936.7 333.9,936.5 334.3,935.5 334.8,932.5 335.2,926.9 335.7,919.9 336.1,912.4 336.6,902.6 337.0,891.5 337.5,879.6 337.9,866.2 338.4,853.0 338.8,838.9 339.3,824.3 339.7,810.4 340.2,796.0 340.6,782.8 341.1,770.0 341.5,758.1 342.0,746.0 342.5,736.9 342.9,728.3 343.4,721.4 343.8,716.0 344.3,712.4 344.7,709.9 345.2,710.6 345.6,712.3 346.1,715.4 346.5,720.5 347.0,726.4 347.4,734.5 347.9,744.4 348.3,755.3 348.8,766.7 349.2,778.9 349.7,793.6 350.1,806.6 350.6,821.5 351.0,835.4 351.5,850.4 351.9,864.4 352.4,878.6 352.8,891.6 353.3,903.3 353.7,914.9 354.2,925.5 354.6,934.7 355.1,942.7 355.5,948.5 356.0,953.1 356.4,956.2 356.9,957.7 357.3,957.8 357.8,955.7 358.2,952.2 358.7,946.8 359.1,940.1 359.6,932.7 360.0,923.6 360.5,913.0 360.9,901.6 361.4,889.1 361.8,875.7 362.3,862.1 362.7,847.3 363.2,832.9 363.6,818.1 364.1,803.6 364.5,789.4 365.0,775.5 365.4,761.9 365.9,749.3 366.3,737.3 366.8,726.6 367.2,717.3 367.7,708.5 368.1,701.8 368.6,695.8 369.0,691.5 369.5,689.3 369.9,687.4 370.4,687.7 370.8,689.7 371.3,693.2 371.7,698.0 372.2,704.5 372.6,711.9 373.1,720.8 373.5,730.7 374.0,742.2 374.4,753.8 374.9,766.7 375.3,780.3 375.8,794.5 376.2,808.7 376.7,824.1 377.1,838.2 377.6,853.1 378.0,867.6 378.5,881.8 379.0,895.8 379.4,908.7 379.9,920.8 380.3,932.3 380.8,942.9 381.2,952.8 381.7,960.5 382.1,967.3 382.6,973.0 383.0,977.6 383.5,981.0 383.9,981.8 384.4,982.2 384.8,981.6 385.3,978.0 385.7,974.4 386.2,968.8 386.6,961.9 387.1,953.3 387.5,944.6 388.0,934.2 388.4,922.6 388.9,910.6 389.3,898.3 389.8,884.9 390.2,871.2 390.7,856.6 391.1,841.6 391.6,826.8 392.0,812.0 392.5,797.0 392.9,783.0 393.4,768.6 393.8,754.7 394.3,741.6 394.7,729.1 395.2,717.6 395.6,707.1 396.1,697.1 396.5,688.7 397.0,681.3 397.4,674.2 397.9,669.2 398.3,665.2 398.8,663.1 399.2,661.3 399.7,661.4 400.1,662.7 400.6,665.7 401.0,669.0 401.5,673.8 401.9,680.2 402.4,688.0 402.8,696.4 403.3,705.7 403.7,717.3 404.2,727.9 404.6,739.9 405.1,752.7 405.5,765.8 406.0,779.9 406.4,794.5 406.9,809.1 407.3,823.7 407.8,838.9 408.2,853.6 408.7,867.9 409.1,882.0 409.6,896.7 410.0,910.2 410.5,923.2 410.9,935.3 411.4,947.3 411.8,957.8 412.3,968.5 412.7,977.3 413.2,985.4 413.6,992.1 414.1,997.9 414.6,1003.4 415.0,1006.8 415.5,1008.8 415.9,1010.3 416.4,1010.6 416.8,1008.7 417.3,1006.4 417.7,1002.9 418.2,998.4 418.6,992.2 419.1,985.7 419.5,977.4 420.0,969.1 420.4,959.3 420.9,948.4 421.3,937.2 421.8,924.7 422.2,912.1 422.7,899.1 423.1,885.1 423.6,871.0 424.0,856.2 424.5,842.1 424.9,827.2 425.4,812.0 425.8,797.0 426.3,782.5 426.7,768.7 427.2,754.7 427.6,740.7 428.1,728.1 428.5,715.8 429.0,703.6 429.4,692.2 429.9,682.1 430.3,672.7 430.8,663.9 431.2,655.4 431.7,648.9 432.1,642.8 432.6,637.8 433.0,633.8 433.5,631.4 433.9,629.4 434.4,629.2 434.8,629.5 435.3,631.3 435.7,633.3 436.2,637.3 436.6,642.2 437.1,647.8 437.5,654.4 438.0,661.8 438.4,670.9 438.9,680.1 439.3,690.0 439.8,700.0 440.2,712.0 440.7,724.4 441.1,736.8 441.6,749.6 442.0,763.8 442.5,777.7 442.9,791.4 443.4,805.9 443.8,820.3 444.3,835.2 444.7,849.0 445.2,863.4 445.6,878.0 446.1,892.0 446.5,906.4 447.0,919.0 447.4,932.1 447.9,944.3 448.3,956.0 448.8,967.5 449.2,978.5 449.7,987.7 450.2,997.1 450.6,1005.3 451.1,1012.8 451.5,1019.3 452.0,1025.5 452.4,1029.3 452.9,1033.4 453.3,1036.0 453.8,1037.7 454.2,1039.2 454.7,1039.7 455.1,1038.4 455.6,1036.5 456.0,1033.4 456.5,1029.4 456.9,1025.2 457.4,1018.9 457.8,1012.9 458.3,1005.0 458.7,996.9 459.2,988.1 459.6,978.4 460.1,968.2 460.5,957.3 461.0,946.0 461.4,933.5 461.9,920.4 462.3,907.4 462.8,894.3 463.2,880.8 463.7,867.3 464.1,852.6 464.6,838.8 465.0,824.5 465.5,810.2 465.9,795.8 466.4,781.8 466.8,767.6 467.3,754.1 467.7,740.3 468.2,726.3 468.6,714.1 469.1,701.7 469.5,689.5 470.0,678.0 470.4,667.6 470.9,657.1 471.3,647.1 471.8,638.3 472.2,630.0 472.7,622.0 473.1,615.9 473.6,609.7 474.0,604.6 474.5,599.7 474.9,597.1 475.4,594.1 475.8,592.2 476.3,590.9 476.7,590.7 477.2,591.3 477.6,593.7 478.1,595.5 478.5,599.0 479.0,603.2 479.4,607.8 479.9,613.8 480.3,620.6 480.8,627.3 481.2,635.4 481.7,643.7 482.1,652.6 482.6,662.4 483.0,672.5 483.5,683.9 483.9,695.7 484.4,707.4 484.8,719.7 485.3,732.4 485.7,744.9 486.2,758.5 486.7,772.3 487.1,785.2 487.6,799.3 488.0,813.0 488.5,827.0 488.9,840.8 489.4,854.9 489.8,868.3 490.3,882.2 490.7,895.7 491.2,908.9 491.6,922.4 492.1,934.7 492.5,947.0 493.0,958.8 493.4,970.7 493.9,980.9 494.3,991.8 494.8,1002.2 495.2,1011.8 495.7,1020.3 496.1,1028.4 496.6,1036.2 497.0,1042.9 497.5,1049.4 497.9,1054.7 498.4,1059.9 498.8,1063.8 499.3,1066.9 499.7,1069.2 500.2,1072.1 500.6,1073.1 501.1,1073.7 501.5,1072.9 502.0,1072.3 502.4,1070.3 502.9,1067.6 503.3,1064.6 503.8,1060.6 504.2,1055.8 504.7,1050.9 505.1,1044.7 505.6,1037.7 506.0,1030.2 506.5,1022.4 506.9,1014.3 507.4,1004.9 507.8,995.0 508.3,985.0 508.7,974.6 509.2,963.9 509.6,952.1 510.1,940.7 510.5,928.8 511.0,916.3 511.4,903.1 511.9,890.5 512.3,877.2 512.8,864.4 513.2,850.7 513.7,837.7 514.1,824.1 514.6,809.8 515.0,796.8 515.5,783.8 515.9,770.4 516.4,757.0 516.8,743.8 517.3,731.4 517.7,719.2 518.2,706.4 518.6,694.3 519.1,682.5 519.5,670.8 520.0,660.1 520.4,649.4 520.9,639.8 521.3,629.6 521.8,620.0" fill="none" stroke="#ff0000" stroke-width="5.6" stroke-linejoin="round" stroke-linecap="round"/>
<polyline points="126.6,828.3 127.1,828.4 127.5,828.5 128.0,828.0 128.4,828.8 128.9,828.5 129.3,828.3 129.8,828.3 130.2,828.6 130.7,828.4 131.1,828.6 131.6,828.4 132.0,828.5 132.5,828.8 132.9,828.5 133.4,828.3 133.8,828.8 134.3,828.5 134.7,828.3 135.2,828.8 135.6,828.5 136.1,828.8 136.5,828.1 137.0,827.8 137.4,827.9 137.9,828.6 138.3,828.3 138.8,828.5 139.2,828.4 139.7,828.0 140.1,828.8 140.6,828.2 141.0,828.6 141.5,828.2 141.9,828.5 142.4,828.6 142.8,828.3 143.3,828.2 143.7,828.5 144.2,828.5 144.6,828.7 145.1,829.1 145.5,828.1 146.0,828.2 146.4,828.4 146.9,828.5 147.3,828.3 147.8,828.8 148.2,828.7 148.7,828.5 149.1,828.0 149.6,828.8 150.0,828.2 150.5,828.8 150.9,829.0 151.4,828.3 151.8,828.5 152.3,828.7 152.7,828.4 153.2,828.1 153.6,828.2 154.1,828.8 154.5,828.6 155.0,828.5 155.4,828.7 155.9,828.2 156.3,828.2 156.8,828.4 157.2,828.6 157.7,828.7 158.1,828.8 158.6,829.0 159.0,828.8 159.5,828.1 159.9,828.1 160.4,827.8 160.8,827.9 161.3,828.3 161.7,828.1 162.2,829.2 162.7,828.7 163.1,828.8 163.6,827.9 164.0,827.6 164.5,828.5 164.9,828.3 165.4,828.1 165.8,828.4 166.3,828.8 166.7,829.2 167.2,828.9 167.6,828.5 168.1,828.3 168.5,827.6 169.0,828.4 169.4,827.7 169.9,828.5 170.3,828.4 170.8,829.2 171.2,829.6 171.7,829.2 172.1,829.2 172.6,828.7 173.0,828.4 173.5,827.6 173.9,827.4 174.4,827.5 174.8,828.3 175.3,828.6 175.7,829.4 176.2,829.6 176.6,829.4 177.1,828.8 177.5,828.6 178.0,827.9 178.4,827.4 178.9,827.2 179.3,827.7 179.8,827.6 180.2,828.7 180.7,829.2 181.1,830.0 181.6,829.9 182.0,829.7 182.5,829.3 182.9,827.9 183.4,827.6 183.8,826.5 184.3,826.5 184.7,827.1 185.2,827.6 185.6,828.2 186.1,829.2 186.5,829.9 187.0,830.5 187.4,830.9 187.9,830.1 188.3,829.8 188.8,828.1 189.2,827.5 189.7,826.8 190.1,826.3 190.6,826.3 191.0,827.4 191.5,828.5 191.9,829.4 192.4,830.7 192.8,831.1 193.3,830.6 193.7,831.2 194.2,830.0 194.6,829.5 195.1,827.8 195.5,826.9 196.0,825.9 196.4,825.4 196.9,825.2 197.3,826.3 197.8,827.4 198.2,829.0 198.7,829.9 199.2,831.2 199.6,831.6 200.1,831.9 200.5,830.9 201.0,831.0 201.4,829.2 201.9,827.4 202.3,826.3 202.8,825.4 203.2,824.7 203.7,825.1 204.1,825.3 204.6,825.8 205.0,827.7 205.5,829.9 205.9,831.4 206.4,832.4 206.8,832.6 207.3,833.2 207.7,832.5 208.2,830.8 208.6,829.2 209.1,827.8 209.5,826.3 210.0,825.0 210.4,823.8 210.9,824.0 211.3,823.5 211.8,825.0 212.2,826.2 212.7,827.7 213.1,829.9 213.6,832.4 214.0,833.2 214.5,833.9 214.9,834.6 215.4,834.1 215.8,832.6 216.3,831.3 216.7,828.3 217.2,827.2 217.6,824.9 218.1,823.0 218.5,822.0 219.0,821.6 219.4,822.1 219.9,823.5 220.3,824.9 220.8,828.0 221.2,829.8 221.7,832.3 222.1,834.0 222.6,835.4 223.0,836.5 223.5,836.4 223.9,835.1 224.4,833.7 224.8,831.8 225.3,828.6 225.7,825.9 226.2,824.5 226.6,821.9 227.1,819.7 227.5,819.4 228.0,819.6 228.4,820.6 228.9,822.3 229.3,824.5 229.8,827.2 230.2,829.7 230.7,832.8 231.1,835.3 231.6,837.5 232.0,838.3 232.5,839.0 232.9,838.3 233.4,836.6 233.8,834.8 234.3,832.1 234.8,829.1 235.2,826.1 235.7,823.2 236.1,820.6 236.6,818.3 237.0,817.5 237.5,816.4 237.9,817.3 238.4,818.9 238.8,821.0 239.3,823.8 239.7,826.8 240.2,830.4 240.6,833.2 241.1,836.8 241.5,839.7 242.0,841.0 242.4,842.3 242.9,841.7 243.3,840.5 243.8,838.8 244.2,836.8 244.7,833.5 245.1,829.2 245.6,825.9 246.0,822.4 246.5,818.9 246.9,815.8 247.4,814.2 247.8,813.4 248.3,813.2 248.7,814.0 249.2,816.1 249.6,818.8 250.1,821.7 250.5,825.7 251.0,829.4 251.4,833.4 251.9,836.5 252.3,840.7 252.8,843.1 253.2,844.9 253.7,845.7 254.1,845.4 254.6,844.8 255.0,842.8 255.5,840.2 255.9,836.5 256.4,832.1 256.8,827.9 257.3,823.9 257.7,819.6 258.2,815.8 258.6,812.6 259.1,810.6 259.5,809.2 260.0,809.2 260.4,809.7 260.9,810.5 261.3,814.2 261.8,817.0 262.2,820.8 262.7,825.4 263.1,830.2 263.6,834.6 264.0,839.0 264.5,843.0 264.9,846.9 265.4,848.9 265.8,850.7 266.3,851.2 266.7,850.5 267.2,848.9 267.6,846.4 268.1,843.5 268.5,839.1 269.0,834.4 269.4,829.5 269.9,824.4 270.4,819.9 270.8,815.3 271.3,810.9 271.7,808.1 272.2,805.0 272.6,803.6 273.1,803.0 273.5,803.8 274.0,805.1 274.4,807.3 274.9,810.4 275.3,814.6 275.8,819.7 276.2,824.9 276.7,830.4 277.1,835.5 277.6,840.8 278.0,845.4 278.5,849.2 278.9,853.1 279.4,856.1 279.8,857.4 280.3,858.1 280.7,857.4 281.2,855.0 281.6,852.7 282.1,849.6 282.5,844.6 283.0,839.5 283.4,834.5 283.9,828.8 284.3,822.9 284.8,817.1 285.2,811.6 285.7,806.6 286.1,802.5 286.6,799.1 287.0,796.7 287.5,795.5 287.9,795.8 288.4,796.2 288.8,797.9 289.3,801.0 289.7,804.4 290.2,809.4 290.6,814.8 291.1,819.8 291.5,826.1 292.0,832.5 292.4,838.4 292.9,844.3 293.3,849.9 293.8,855.6 294.2,859.3 294.7,862.5 295.1,864.9 295.6,865.8 296.0,865.7 296.5,865.3 296.9,863.5 297.4,859.5 297.8,856.3 298.3,851.8 298.7,845.9 299.2,839.8 299.6,833.8 300.1,826.8 300.5,820.5 301.0,814.2 301.4,807.8 301.9,802.0 302.3,797.4 302.8,792.9 303.2,789.7 303.7,786.6 304.1,786.3 304.6,785.5 305.0,786.9 305.5,788.8 305.9,791.6 306.4,795.5 306.9,800.2 307.3,806.0 307.8,812.4 308.2,819.0 308.7,825.6 309.1,832.6 309.6,839.4 310.0,846.4 310.5,852.7 310.9,858.4 311.4,864.1 311.8,869.0 312.3,872.5 312.7,875.1 313.2,875.8 313.6,877.0 314.1,875.8 314.5,874.3 315.0,871.3 315.4,867.8 315.9,863.5 316.3,858.1 316.8,852.0 317.2,845.3 317.7,838.4 318.1,830.9 318.6,823.0 319.0,816.6 319.5,808.8 319.9,802.3 320.4,795.6 320.8,789.7 321.3,784.9 321.7,780.5 322.2,778.0 322.6,775.0 323.1,774.3 323.5,773.8 324.0,774.9 324.4,777.7 324.9,780.2 325.3,783.9 325.8,788.4 326.2,794.5 326.7,800.8 327.1,808.3 327.6,814.8 328.0,822.4 328.5,830.7 328.9,838.7 329.4,846.8 329.8,853.5 330.3,860.1 330.7,867.2 331.2,872.9 331.6,878.3 332.1,883.0 332.5,885.7 333.0,888.8 333.4,889.9 333.9,890.1 334.3,889.1 334.8,887.5 335.2,884.7 335.7,881.3 336.1,876.7 336.6,870.8 337.0,864.8 337.5,858.1 337.9,850.7 338.4,842.6 338.8,834.9 339.3,826.5 339.7,818.3 340.2,809.7 340.6,801.7 341.1,793.7 341.5,787.6 342.0,780.9 342.5,774.7 342.9,770.0 343.4,765.9 343.8,762.1 344.3,760.5 344.7,759.5 345.2,759.4 345.6,759.7 346.1,761.6 346.5,764.9 347.0,768.6 347.4,772.9 347.9,778.4 348.3,785.0 348.8,791.6 349.2,799.1 349.7,807.8 350.1,815.7 350.6,824.0 351.0,832.9 351.5,842.0 351.9,850.0 352.4,858.0 352.8,865.7 353.3,874.3 353.7,879.8 354.2,887.1 354.6,892.1 355.1,896.7 355.5,900.6 356.0,903.8 356.4,906.1 356.9,906.6 357.3,906.9 357.8,906.4 358.2,902.9 358.7,900.5 359.1,896.3 359.6,892.3 360.0,886.0 360.5,879.6 360.9,872.6 361.4,865.5 361.8,857.8 362.3,849.0 362.7,840.8 363.2,831.7 363.6,822.1 364.1,813.4 364.5,804.3 365.0,795.6 365.4,786.7 365.9,779.0 366.3,772.1 366.8,765.0 367.2,759.5 367.7,754.0 368.1,749.2 368.6,746.2 369.0,743.1 369.5,741.7 369.9,740.4 370.4,740.1 370.8,741.9 371.3,743.6 371.7,746.9 372.2,750.8 372.6,755.6 373.1,760.3 373.5,766.3 374.0,773.8 374.4,781.7 374.9,789.3 375.3,798.1 375.8,806.7 376.2,816.0 376.7,825.3 377.1,834.6 377.6,844.3 378.0,853.5 378.5,862.9 379.0,871.3 379.4,880.0 379.9,887.6 380.3,895.2 380.8,901.6 381.2,907.6 381.7,913.5 382.1,917.9 382.6,921.7 383.0,924.0 383.5,925.7 383.9,927.0 384.4,927.5 384.8,926.2 385.3,925.4 385.7,922.0 386.2,919.1 386.6,915.4 387.1,908.8 387.5,903.2 388.0,897.4 388.4,889.9 388.9,882.2 389.3,873.8 389.8,865.6 390.2,856.2 390.7,846.6 391.1,837.1 391.6,827.1 392.0,817.7 392.5,807.4 392.9,798.8 393.4,789.2 393.8,780.8 394.3,771.9 394.7,763.0 395.2,755.9 395.6,748.4 396.1,742.0 396.5,736.5 397.0,731.2 397.4,726.9 397.9,723.4 398.3,720.3 398.8,718.5 399.2,717.8 399.7,717.8 400.1,718.2 400.6,720.0 401.0,722.1 401.5,725.0 401.9,729.6 402.4,734.8 402.8,740.4 403.3,746.9 403.7,753.9 404.2,761.5 404.6,769.4 405.1,778.0 405.5,786.6 406.0,796.3 406.4,805.8 406.9,815.9 407.3,824.9 407.8,835.3 408.2,844.8 408.7,855.0 409.1,864.5 409.6,874.5 410.0,883.5 410.5,891.8 410.9,901.3 411.4,908.6 411.8,915.9 412.3,923.1 412.7,929.2 413.2,934.6 413.6,940.0 414.1,943.8 414.6,947.6 415.0,950.1 415.5,951.8 415.9,952.6 416.4,952.6 416.8,951.8 417.3,950.9 417.7,947.6 418.2,944.7 418.6,941.0 419.1,936.7 419.5,931.3 420.0,925.1 420.4,918.5 420.9,911.9 421.3,903.4 421.8,894.5 422.2,887.2 422.7,877.3 423.1,868.0 423.6,858.5 424.0,848.1 424.5,838.8 424.9,828.2 425.4,817.6 425.8,807.9 426.3,797.9 426.7,787.8 427.2,778.3 427.6,768.2 428.1,759.8 428.5,750.6 429.0,742.9 429.4,734.4 429.9,727.3 430.3,721.3 430.8,714.3 431.2,709.1 431.7,704.0 432.1,699.2 432.6,696.6 433.0,693.8 433.5,691.0 433.9,690.2 434.4,689.3 434.8,689.9 435.3,691.3 435.7,692.8 436.2,695.0 436.6,698.3 437.1,702.6 437.5,707.2 438.0,712.5 438.4,718.6 438.9,724.4 439.3,732.1 439.8,740.1 440.2,748.0 440.7,756.2 441.1,765.2 441.6,774.7 442.0,784.5 442.5,794.1 442.9,804.7 443.4,814.8 443.8,824.5 444.3,835.2 444.7,845.3 445.2,855.4 445.6,865.8 446.1,876.0 446.5,885.2 447.0,895.2 447.4,904.8 447.9,913.4 448.3,922.0 448.8,930.5 449.2,937.9 449.7,945.1 450.2,952.3 450.6,957.8 451.1,963.3 451.5,968.1 452.0,972.7 452.4,975.9 452.9,978.6 453.3,980.8 453.8,982.6 454.2,982.9 454.7,983.6 455.1,982.7 455.6,980.9 456.0,979.5 456.5,976.8 456.9,973.0 457.4,969.4 457.8,964.8 458.3,959.4 458.7,953.3 459.2,947.9 459.6,940.6 460.1,933.2 460.5,925.4 461.0,917.0 461.4,908.3 461.9,898.9 462.3,889.8 462.8,879.9 463.2,869.9 463.7,860.1 464.1,849.6 464.6,838.8 465.0,828.8 465.5,818.6 465.9,808.0 466.4,797.8 466.8,787.2 467.3,776.9 467.7,767.4 468.2,757.5 468.6,747.7 469.1,739.0 469.5,729.9 470.0,721.8 470.4,713.7 470.9,706.0 471.3,698.1 471.8,692.1 472.2,686.0 472.7,680.4 473.1,675.2 473.6,670.5 474.0,666.7 474.5,662.9 474.9,660.7 475.4,658.3 475.8,657.2 476.3,656.3 476.7,656.8 477.2,656.9 477.6,658.0 478.1,659.8 478.5,662.7 479.0,664.8 479.4,668.7 479.9,672.9 480.3,677.6 480.8,682.9 481.2,688.5 481.7,695.3 482.1,702.0 482.6,709.0 483.0,716.7 483.5,725.0 483.9,733.5 484.4,742.4 484.8,751.4 485.3,760.4 485.7,770.8 486.2,779.9 486.7,790.2 487.1,800.8 487.6,810.8 488.0,821.9 488.5,832.4 488.9,842.8 489.4,853.0 489.8,863.4 490.3,873.7 490.7,883.7 491.2,894.3 491.6,903.4 492.1,913.5 492.5,922.6 493.0,931.6 493.4,940.6 493.9,949.0 494.3,956.9 494.8,964.3 495.2,971.3 495.7,978.1 496.1,984.8 496.6,990.6 497.0,996.0 497.5,1000.4 497.9,1005.5 498.4,1008.3 498.8,1012.0 499.3,1014.8 499.7,1016.6 500.2,1017.9 500.6,1019.1 501.1,1019.3 501.5,1019.4 502.0,1018.4 502.4,1017.1 502.9,1015.6 503.3,1012.7 503.8,1010.1 504.2,1006.6 504.7,1002.9 505.1,998.2 505.6,992.8 506.0,987.9 506.5,981.3 506.9,975.0 507.4,968.1 507.8,961.6 508.3,953.3 508.7,945.1 509.2,937.1 509.6,928.2 510.1,919.9 510.5,909.8 511.0,900.7 511.4,890.6 511.9,881.5 512.3,870.7 512.8,860.8 513.2,850.2 513.7,840.4 514.1,829.9 514.6,818.6 515.0,809.1 515.5,798.7 515.9,788.3 516.4,778.3 516.8,767.5 517.3,757.4 517.7,748.4 518.2,739.1 518.6,728.9 519.1,719.8 519.5,711.0 520.0,702.3 520.4,694.6 520.9,686.5 521.3,679.3 521.8,672.1" fill="none" stroke="#ff7f00" stroke-width="5.6" stroke-linejoin="round" stroke-linecap="round"/>
<polyline points="126.6,828.2 127.1,828.7 127.5,827.8 128.0,828.5 128.4,828.7 128.9,828.3 129.3,828.0 129.8,828.4 130.2,828.9 130.7,828.4 131.1,828.1 131.6,828.6 132.0,828.7 132.5,828.2 132.9,828.5 133.4,828.8 133.8,828.6 134.3,828.7 134.7,828.4 135.2,828.5 135.6,828.2 136.1,828.3 136.5,828.9 137.0,828.4 137.4,828.2 137.9,828.4 138.3,828.2 138.8,828.7 139.2,828.8 139.7,828.2 140.1,828.8 140.6,829.1 141.0,828.2 141.5,828.7 141.9,828.6 142.4,828.9 142.8,828.9 143.3,828.8 143.7,828.6 144.2,828.4 144.6,829.2 145.1,828.3 145.5,828.8 146.0,828.8 146.4,828.3 146.9,828.5 147.3,829.0 147.8,828.0 148.2,828.8 148.7,828.4 149.1,828.4 149.6,828.1 150.0,828.6 150.5,828.2 150.9,828.7 151.4,828.2 151.8,828.7 152.3,828.6 152.7,827.9 153.2,828.4 153.6,828.5 154.1,827.9 154.5,828.4 155.0,828.8 155.4,828.3 155.9,828.8 156.3,828.1 156.8,828.1 157.2,828.7 157.7,828.7 158.1,828.5 158.6,828.5 159.0,828.8 159.5,828.3 159.9,829.0 160.4,828.6 160.8,828.6 161.3,828.6 161.7,828.5 162.2,828.9 162.7,828.4 163.1,828.6 163.6,828.7 164.0,828.8 164.5,828.8 164.9,828.3 165.4,828.7 165.8,828.5 166.3,828.3 166.7,828.3 167.2,828.1 167.6,828.6 168.1,828.8 168.5,828.1 169.0,828.3 169.4,828.1 169.9,828.4 170.3,828.2 170.8,828.4 171.2,828.4 171.7,828.5 172.1,828.5 172.6,828.4 173.0,828.3 173.5,828.1 173.9,828.5 174.4,827.9 174.8,828.5 175.3,828.3 175.7,828.7 176.2,828.8 176.6,828.1 177.1,828.7 177.5,828.9 178.0,828.6 178.4,828.4 178.9,827.6 179.3,828.2 179.8,828.1 180.2,828.8 180.7,828.6 181.1,828.6 181.6,828.3 182.0,829.0 182.5,828.5 182.9,828.4 183.4,828.6 183.8,828.2 184.3,828.2 184.7,828.8 185.2,828.1 185.6,828.3 186.1,828.8 186.5,829.2 187.0,828.5 187.4,828.8 187.9,828.5 188.3,828.2 188.8,828.6 189.2,828.0 189.7,828.1 190.1,828.0 190.6,828.1 191.0,828.2 191.5,828.1 191.9,828.6 192.4,828.9 192.8,829.1 193.3,829.0 193.7,829.3 194.2,829.0 194.6,828.7 195.1,828.5 195.5,828.1 196.0,828.1 196.4,827.2 196.9,827.4 197.3,827.9 197.8,828.3 198.2,827.9 198.7,828.8 199.2,829.2 199.6,829.2 200.1,829.3 200.5,828.8 201.0,829.0 201.4,828.0 201.9,828.5 202.3,827.7 202.8,827.9 203.2,827.0 203.7,827.6 204.1,827.7 204.6,827.7 205.0,828.0 205.5,829.1 205.9,829.3 206.4,829.9 206.8,829.6 207.3,829.7 207.7,829.6 208.2,829.4 208.6,828.9 209.1,828.5 209.5,827.7 210.0,827.0 210.4,827.7 210.9,827.1 211.3,827.3 211.8,827.3 212.2,828.2 212.7,828.5 213.1,829.3 213.6,829.3 214.0,829.9 214.5,830.2 214.9,830.1 215.4,830.1 215.8,830.1 216.3,829.0 216.7,828.5 217.2,828.0 217.6,827.1 218.1,826.5 218.5,826.9 219.0,826.7 219.4,826.2 219.9,826.6 220.3,827.7 220.8,828.5 221.2,829.1 221.7,829.7 222.1,830.6 222.6,830.6 223.0,831.2 223.5,831.2 223.9,830.3 224.4,830.3 224.8,829.5 225.3,828.5 225.7,827.7 226.2,827.2 226.6,826.5 227.1,826.2 227.5,825.2 228.0,825.6 228.4,826.3 228.9,826.5 229.3,827.0 229.8,827.9 230.2,828.4 230.7,829.4 231.1,830.8 231.6,831.3 232.0,832.0 232.5,831.7 232.9,831.6 233.4,830.5 233.8,830.5 234.3,830.3 234.8,828.9 235.2,827.7 235.7,827.1 236.1,826.1 236.6,825.3 237.0,824.7 237.5,824.7 237.9,825.0 238.4,825.0 238.8,826.1 239.3,827.0 239.7,828.3 240.2,829.3 240.6,830.0 241.1,831.7 241.5,832.1 242.0,832.5 242.4,833.2 242.9,833.0 243.3,833.1 243.8,831.8 244.2,830.9 244.7,830.1 245.1,829.4 245.6,827.9 246.0,826.1 246.5,824.7 246.9,824.2 247.4,823.2 247.8,823.3 248.3,823.1 248.7,823.4 249.2,823.9 249.6,825.3 250.1,825.8 250.5,827.0 251.0,829.2 251.4,830.7 251.9,831.5 252.3,833.1 252.8,834.5 253.2,834.3 253.7,834.8 254.1,835.0 254.6,833.9 255.0,833.7 255.5,832.9 255.9,831.4 256.4,830.2 256.8,828.5 257.3,826.6 257.7,825.3 258.2,823.8 258.6,822.0 259.1,821.4 259.5,820.9 260.0,820.8 260.4,821.0 260.9,821.4 261.3,822.8 261.8,823.5 262.2,825.8 262.7,827.3 263.1,829.5 263.6,831.0 264.0,832.5 264.5,833.8 264.9,835.7 265.4,836.5 265.8,837.2 266.3,837.6 266.7,837.6 267.2,836.7 267.6,836.2 268.1,834.4 268.5,832.8 269.0,831.2 269.4,829.3 269.9,827.4 270.4,824.5 270.8,823.5 271.3,821.0 271.7,819.9 272.2,819.1 272.6,818.6 273.1,817.7 273.5,817.7 274.0,819.1 274.4,819.9 274.9,820.9 275.3,822.8 275.8,824.3 276.2,827.1 276.7,829.0 277.1,831.8 277.6,833.0 278.0,835.8 278.5,838.0 278.9,838.9 279.4,840.0 279.8,840.0 280.3,840.9 280.7,840.6 281.2,839.7 281.6,838.3 282.1,837.3 282.5,835.2 283.0,833.2 283.4,831.1 283.9,828.5 284.3,826.1 284.8,823.9 285.2,820.9 285.7,819.6 286.1,817.0 286.6,815.6 287.0,814.9 287.5,814.4 287.9,814.1 288.4,814.2 288.8,814.9 289.3,816.3 289.7,817.7 290.2,820.2 290.6,822.3 291.1,825.3 291.5,827.3 292.0,830.2 292.4,833.1 292.9,835.3 293.3,837.9 293.8,841.1 294.2,842.2 294.7,844.1 295.1,844.4 295.6,844.6 296.0,845.6 296.5,845.0 296.9,844.3 297.4,842.7 297.8,840.9 298.3,838.6 298.7,836.7 299.2,833.3 299.6,831.1 300.1,827.7 300.5,824.4 301.0,821.6 301.4,819.2 301.9,816.6 302.3,814.2 302.8,812.1 303.2,810.2 303.7,809.8 304.1,808.6 304.6,808.5 305.0,808.9 305.5,809.8 305.9,810.9 306.4,813.0 306.9,815.1 307.3,817.8 307.8,820.3 308.2,824.5 308.7,826.8 309.1,830.6 309.6,833.9 310.0,837.4 310.5,840.7 310.9,843.1 311.4,845.7 311.8,847.5 312.3,849.9 312.7,850.3 313.2,851.4 313.6,851.8 314.1,851.7 314.5,851.0 315.0,849.8 315.4,847.9 315.9,845.5 316.3,842.9 316.8,840.4 317.2,836.8 317.7,833.5 318.1,829.6 318.6,825.5 319.0,822.2 319.5,818.9 319.9,815.9 320.4,812.7 320.8,809.9 321.3,806.7 321.7,805.1 322.2,803.2 322.6,802.2 323.1,801.4 323.5,800.9 324.0,802.0 324.4,802.8 324.9,804.5 325.3,805.9 325.8,808.9 326.2,811.8 326.7,815.0 327.1,818.5 327.6,821.7 328.0,824.9 328.5,829.9 328.9,833.3 329.4,837.5 329.8,841.7 330.3,845.1 330.7,848.4 331.2,851.6 331.6,853.5 332.1,856.8 332.5,857.9 333.0,859.2 333.4,860.2 333.9,860.2 334.3,859.7 334.8,859.0 335.2,857.5 335.7,855.5 336.1,853.9 336.6,850.1 337.0,846.6 337.5,843.4 337.9,839.6 338.4,836.2 338.8,831.6 339.3,827.5 339.7,823.1 340.2,818.4 340.6,814.7 341.1,810.5 341.5,807.3 342.0,803.3 342.5,800.2 342.9,797.7 343.4,795.5 343.8,793.0 344.3,792.7 344.7,792.0 345.2,791.7 345.6,791.6 346.1,792.2 346.5,794.2 347.0,796.5 347.4,798.9 347.9,801.4 348.3,805.3 348.8,808.3 349.2,812.4 349.7,817.0 350.1,821.3 350.6,825.9 351.0,830.4 351.5,835.8 351.9,839.8 352.4,844.8 352.8,849.2 353.3,853.0 353.7,856.9 354.2,860.6 354.6,863.8 355.1,866.3 355.5,867.7 356.0,869.2 356.4,870.7 356.9,871.2 357.3,871.7 357.8,871.0 358.2,869.9 358.7,868.7 359.1,866.5 359.6,863.6 360.0,860.7 360.5,857.4 360.9,853.2 361.4,849.1 361.8,844.3 362.3,839.9 362.7,835.1 363.2,830.0 363.6,825.0 364.1,820.1 364.5,815.0 365.0,809.8 365.4,805.2 365.9,800.5 366.3,797.2 366.8,793.0 367.2,789.5 367.7,786.3 368.1,783.9 368.6,781.8 369.0,779.9 369.5,779.0 369.9,778.8 370.4,778.1 370.8,778.8 371.3,780.3 371.7,781.6 372.2,784.2 372.6,786.3 373.1,789.8 373.5,793.5 374.0,797.3 374.4,801.7 374.9,806.1 375.3,810.9 375.8,816.1 376.2,821.5 376.7,827.8 377.1,832.1 377.6,838.1 378.0,842.8 378.5,847.8 379.0,853.2 379.4,858.3 379.9,862.9 380.3,867.2 380.8,871.3 381.2,874.9 381.7,878.1 382.1,880.2 382.6,882.8 383.0,884.3 383.5,885.8 383.9,886.4 384.4,886.6 384.8,886.1 385.3,885.0 385.7,883.7 386.2,882.0 386.6,879.5 387.1,875.9 387.5,873.0 388.0,869.2 388.4,864.5 388.9,860.0 389.3,855.3 389.8,850.4 390.2,844.2 390.7,839.2 391.1,833.5 391.6,827.9 392.0,822.5 392.5,816.7 392.9,810.5 393.4,804.9 393.8,799.7 394.3,794.7 394.7,789.8 395.2,784.8 395.6,780.8 396.1,776.2 396.5,772.5 397.0,768.9 397.4,766.8 397.9,765.1 398.3,763.4 398.8,763.0 399.2,761.5 399.7,761.3 400.1,761.4 400.6,762.4 401.0,763.8 401.5,765.9 401.9,768.2 402.4,770.9 402.8,775.0 403.3,778.7 403.7,783.2 404.2,786.9 404.6,791.9 405.1,797.2 405.5,803.3 406.0,808.6 406.4,814.6 406.9,820.5 407.3,826.7 407.8,832.6 408.2,839.0 408.7,844.8 409.1,851.0 409.6,857.0 410.0,862.7 410.5,868.3 410.9,873.2 411.4,878.5 411.8,883.0 412.3,887.5 412.7,891.7 413.2,894.5 413.6,898.2 414.1,900.3 414.6,902.5 415.0,904.8 415.5,905.7 415.9,906.3 416.4,906.5 416.8,906.2 417.3,904.8 417.7,903.7 418.2,901.6 418.6,899.5 419.1,896.4 419.5,893.4 420.0,889.5 420.4,885.2 420.9,880.8 421.3,876.1 421.8,871.1 422.2,865.3 422.7,859.5 423.1,853.7 423.6,847.7 424.0,841.0 424.5,834.1 424.9,828.4 425.4,821.8 425.8,815.3 426.3,809.7 426.7,802.6 427.2,796.6 427.6,789.9 428.1,784.5 428.5,779.0 429.0,773.5 429.4,768.3 429.9,763.8 430.3,759.2 430.8,755.6 431.2,751.6 431.7,748.1 432.1,745.0 432.6,743.1 433.0,741.4 433.5,739.8 433.9,738.9 434.4,738.4 434.8,738.6 435.3,739.6 435.7,740.6 436.2,742.2 436.6,744.2 437.1,746.7 437.5,750.0 438.0,753.7 438.4,757.1 438.9,761.7 439.3,765.7 439.8,770.6 440.2,776.4 440.7,781.2 441.1,787.0 441.6,793.3 442.0,799.1 442.5,805.5 442.9,812.9 443.4,819.0 443.8,825.9 444.3,832.7 444.7,839.4 445.2,846.6 445.6,853.3 446.1,860.0 446.5,866.5 447.0,872.6 447.4,879.2 447.9,885.0 448.3,890.2 448.8,895.8 449.2,900.8 449.7,906.2 450.2,910.3 450.6,914.3 451.1,917.8 451.5,921.3 452.0,923.7 452.4,926.4 452.9,928.4 453.3,929.9 453.8,930.7 454.2,931.7 454.7,931.4 455.1,931.2 455.6,930.5 456.0,929.3 456.5,927.4 456.9,925.1 457.4,922.5 457.8,919.6 458.3,916.0 458.7,912.4 459.2,907.9 459.6,903.6 460.1,899.3 460.5,893.1 461.0,887.9 461.4,882.4 461.9,876.0 462.3,869.9 462.8,862.6 463.2,856.4 463.7,850.2 464.1,842.6 464.6,835.9 465.0,828.2 465.5,822.0 465.9,815.2 466.4,807.5 466.8,800.6 467.3,793.7 467.7,787.5 468.2,780.1 468.6,773.2 469.1,768.0 469.5,761.1 470.0,755.7 470.4,749.4 470.9,744.7 471.3,739.9 471.8,734.9 472.2,730.8 472.7,727.2 473.1,723.3 473.6,720.5 474.0,718.1 474.5,714.7 474.9,713.5 475.4,712.1 475.8,710.8 476.3,710.7 476.7,710.5 477.2,710.5 477.6,711.2 478.1,712.2 478.5,713.4 479.0,715.9 479.4,718.0 479.9,720.8 480.3,724.5 480.8,727.7 481.2,732.0 481.7,735.7 482.1,740.6 482.6,745.7 483.0,751.4 483.5,756.5 483.9,762.7 484.4,768.3 484.8,774.9 485.3,781.6 485.7,787.8 486.2,794.8 486.7,802.2 487.1,808.8 487.6,816.4 488.0,823.7 488.5,830.9 488.9,838.4 489.4,845.7 489.8,852.9 490.3,859.6 490.7,866.7 491.2,874.3 491.6,880.6 492.1,887.9 492.5,894.3 493.0,900.6 493.4,906.9 493.9,912.2 494.3,918.6 494.8,924.4 495.2,928.8 495.7,934.1 496.1,938.6 496.6,943.6 497.0,946.2 497.5,949.8 497.9,952.9 498.4,955.6 498.8,957.7 499.3,960.2 499.7,961.5 500.2,963.1 500.6,963.8 501.1,963.7 501.5,963.9 502.0,963.9 502.4,962.6 502.9,961.5 503.3,960.0 503.8,957.6 504.2,955.4 504.7,952.9 505.1,949.6 505.6,945.3 506.0,942.3 506.5,937.6 506.9,933.0 507.4,928.1 507.8,923.5 508.3,917.8 508.7,912.0 509.2,905.9 509.6,900.1 510.1,893.8 510.5,886.6 511.0,879.8 511.4,873.1 511.9,866.3 512.3,858.8 512.8,851.6 513.2,844.0 513.7,837.2 514.1,829.3 514.6,821.9 515.0,814.7 515.5,806.8 515.9,799.4 516.4,792.2 516.8,784.6 517.3,778.0 517.7,770.5 518.2,763.4 518.6,756.6 519.1,749.7 519.5,743.9 520.0,737.8 520.4,731.3 520.9,725.4 521.3,719.4 521.8,714.5" fill="none" stroke="#ffa126" stroke-width="5.6" stroke-linejoin="round" stroke-linecap="round"/>
<polyline points="126.6,828.8 127.1,828.3 127.5,828.7 128.0,828.9 128.4,827.7 128.9,828.4 129.3,828.3 129.8,828.3 130.2,828.0 130.7,828.4 131.1,828.1 131.6,828.8 132.0,828.9 132.5,828.1 132.9,828.1 133.4,828.4 133.8,828.4 134.3,828.5 134.7,828.7 135.2,828.1 135.6,828.3 136.1,828.4 136.5,828.4 137.0,828.2 137.4,828.4 137.9,828.3 138.3,828.8 138.8,828.4 139.2,827.9 139.7,828.6 140.1,828.5 140.6,828.2 141.0,828.2 141.5,828.3 141.9,829.0 142.4,828.4 142.8,828.8 143.3,828.7 143.7,828.3 144.2,828.6 144.6,828.3 145.1,827.6 145.5,828.3 146.0,828.3 146.4,828.8 146.9,828.7 147.3,828.8 147.8,828.7 148.2,828.8 148.7,828.7 149.1,828.6 149.6,828.8 150.0,828.9 150.5,828.9 150.9,828.4 151.4,828.5 151.8,828.2 152.3,828.2 152.7,828.6 153.2,828.3 153.6,828.9 154.1,827.8 154.5,828.2 155.0,828.6 155.4,828.8 155.9,828.4 156.3,829.0 156.8,828.7 157.2,828.3 157.7,828.5 158.1,828.6 158.6,828.2 159.0,828.8 159.5,828.4 159.9,828.6 160.4,828.7 160.8,828.4 161.3,828.8 161.7,828.0 162.2,828.7 162.7,827.9 163.1,828.8 163.6,828.3 164.0,828.8 164.5,828.9 164.9,828.4 165.4,828.3 165.8,828.9 166.3,828.2 166.7,828.7 167.2,828.5 167.6,828.4 168.1,828.3 168.5,829.0 169.0,828.0 169.4,828.3 169.9,828.6 170.3,828.8 170.8,829.0 171.2,828.9 171.7,828.4 172.1,828.6 172.6,828.8 173.0,828.6 173.5,828.0 173.9,828.6 174.4,828.6 174.8,828.1 175.3,828.4 175.7,828.5 176.2,828.7 176.6,829.0 177.1,828.9 177.5,828.6 178.0,828.5 178.4,828.4 178.9,828.3 179.3,828.4 179.8,828.4 180.2,828.8 180.7,829.2 181.1,828.7 181.6,828.8 182.0,828.7 182.5,828.6 182.9,828.9 183.4,828.8 183.8,828.5 184.3,828.4 184.7,828.6 185.2,828.3 185.6,828.6 186.1,828.8 186.5,828.6 187.0,828.0 187.4,828.8 187.9,828.2 188.3,828.1 188.8,828.1 189.2,828.7 189.7,827.8 190.1,828.4 190.6,828.5 191.0,828.5 191.5,828.3 191.9,828.5 192.4,828.6 192.8,828.2 193.3,828.8 193.7,828.9 194.2,828.4 194.6,828.3 195.1,828.2 195.5,828.7 196.0,828.1 196.4,828.2 196.9,827.8 197.3,828.7 197.8,828.4 198.2,828.6 198.7,829.0 199.2,828.9 199.6,828.4 200.1,828.8 200.5,828.9 201.0,828.4 201.4,828.2 201.9,828.2 202.3,828.6 202.8,828.3 203.2,828.0 203.7,828.5 204.1,828.5 204.6,828.1 205.0,828.0 205.5,828.9 205.9,829.4 206.4,829.2 206.8,829.1 207.3,828.8 207.7,828.6 208.2,828.7 208.6,828.8 209.1,828.4 209.5,828.6 210.0,828.2 210.4,828.3 210.9,827.4 211.3,827.9 211.8,828.5 212.2,828.6 212.7,828.6 213.1,829.1 213.6,829.0 214.0,829.1 214.5,828.7 214.9,829.1 215.4,829.1 215.8,829.2 216.3,829.0 216.7,828.5 217.2,828.4 217.6,827.9 218.1,828.2 218.5,827.7 219.0,827.9 219.4,828.0 219.9,828.7 220.3,828.6 220.8,828.2 221.2,828.2 221.7,828.7 222.1,828.7 222.6,829.2 223.0,829.3 223.5,829.3 223.9,828.8 224.4,828.9 224.8,828.8 225.3,828.7 225.7,828.2 226.2,828.0 226.6,828.2 227.1,827.3 227.5,827.6 228.0,827.7 228.4,827.3 228.9,827.6 229.3,828.1 229.8,828.2 230.2,828.9 230.7,829.1 231.1,829.8 231.6,829.0 232.0,830.0 232.5,829.3 232.9,829.7 233.4,829.6 233.8,829.2 234.3,828.8 234.8,828.4 235.2,827.7 235.7,827.8 236.1,827.4 236.6,827.6 237.0,827.1 237.5,827.2 237.9,827.5 238.4,827.5 238.8,827.7 239.3,827.9 239.7,828.2 240.2,828.8 240.6,829.3 241.1,829.2 241.5,830.1 242.0,830.0 242.4,829.5 242.9,830.8 243.3,830.1 243.8,829.5 244.2,829.9 244.7,828.3 245.1,829.4 245.6,827.8 246.0,827.3 246.5,827.1 246.9,827.2 247.4,826.7 247.8,827.0 248.3,826.5 248.7,827.1 249.2,827.1 249.6,827.0 250.1,828.0 250.5,828.2 251.0,828.6 251.4,829.5 251.9,829.2 252.3,829.9 252.8,830.8 253.2,830.6 253.7,830.9 254.1,830.9 254.6,830.6 255.0,830.5 255.5,829.7 255.9,829.7 256.4,828.7 256.8,828.4 257.3,827.6 257.7,827.5 258.2,826.9 258.6,826.7 259.1,825.9 259.5,825.6 260.0,825.2 260.4,825.5 260.9,826.0 261.3,826.5 261.8,826.8 262.2,827.4 262.7,827.6 263.1,828.4 263.6,829.6 264.0,830.2 264.5,830.2 264.9,831.0 265.4,831.5 265.8,831.3 266.3,831.9 266.7,831.8 267.2,831.7 267.6,831.8 268.1,830.5 268.5,830.5 269.0,829.6 269.4,828.9 269.9,827.7 270.4,827.2 270.8,826.5 271.3,826.3 271.7,825.3 272.2,825.3 272.6,824.5 273.1,824.4 273.5,824.6 274.0,824.2 274.4,825.0 274.9,825.5 275.3,826.3 275.8,827.1 276.2,827.6 276.7,828.5 277.1,830.0 277.6,830.2 278.0,831.1 278.5,831.7 278.9,832.4 279.4,833.4 279.8,833.6 280.3,832.8 280.7,833.2 281.2,833.4 281.6,832.5 282.1,832.1 282.5,831.8 283.0,831.1 283.4,830.0 283.9,828.4 284.3,827.5 284.8,826.6 285.2,825.5 285.7,824.6 286.1,824.6 286.6,823.5 287.0,823.2 287.5,823.0 287.9,822.7 288.4,822.7 288.8,823.1 289.3,823.9 289.7,824.3 290.2,824.4 290.6,826.2 291.1,827.5 291.5,828.0 292.0,829.1 292.4,830.3 292.9,831.8 293.3,832.2 293.8,833.7 294.2,834.6 294.7,835.1 295.1,835.4 295.6,835.4 296.0,835.5 296.5,835.5 296.9,834.9 297.4,834.6 297.8,833.6 298.3,833.4 298.7,832.4 299.2,830.5 299.6,829.9 300.1,828.3 300.5,826.9 301.0,825.7 301.4,824.5 301.9,822.8 302.3,822.9 302.8,821.1 303.2,820.0 303.7,820.2 304.1,819.9 304.6,819.6 305.0,819.4 305.5,820.7 305.9,820.9 306.4,821.8 306.9,822.5 307.3,823.8 307.8,824.9 308.2,826.6 308.7,827.9 309.1,829.6 309.6,831.1 310.0,832.4 310.5,833.8 310.9,835.3 311.4,835.7 311.8,837.2 312.3,838.3 312.7,838.2 313.2,839.1 313.6,838.9 314.1,838.9 314.5,838.5 315.0,838.0 315.4,837.4 315.9,836.2 316.3,834.5 316.8,834.4 317.2,832.2 317.7,830.6 318.1,829.3 318.6,827.8 319.0,825.1 319.5,824.1 319.9,821.9 320.4,820.8 320.8,819.6 321.3,818.3 321.7,817.3 322.2,816.4 322.6,816.0 323.1,815.8 323.5,815.7 324.0,815.6 324.4,816.2 324.9,817.4 325.3,818.2 325.8,819.0 326.2,820.6 326.7,822.0 327.1,823.8 327.6,825.4 328.0,827.0 328.5,828.8 328.9,830.9 329.4,832.2 329.8,834.7 330.3,835.5 330.7,837.7 331.2,839.3 331.6,840.9 332.1,842.7 332.5,842.8 333.0,843.3 333.4,843.2 333.9,844.3 334.3,843.2 334.8,843.4 335.2,842.4 335.7,842.5 336.1,840.6 336.6,839.3 337.0,837.5 337.5,835.9 337.9,834.4 338.4,831.8 338.8,829.8 339.3,827.7 339.7,825.5 340.2,823.3 340.6,821.6 341.1,820.0 341.5,818.1 342.0,815.6 342.5,814.2 342.9,813.1 343.4,812.1 343.8,811.1 344.3,810.4 344.7,810.2 345.2,810.2 345.6,809.5 346.1,810.5 346.5,811.5 347.0,812.7 347.4,813.7 347.9,814.8 348.3,816.4 348.8,818.6 349.2,820.5 349.7,822.8 350.1,825.3 350.6,826.9 351.0,829.6 351.5,831.4 351.9,834.7 352.4,836.8 352.8,838.7 353.3,841.2 353.7,843.4 354.2,845.1 354.6,846.4 355.1,847.7 355.5,849.0 356.0,849.5 356.4,850.1 356.9,850.6 357.3,850.8 357.8,850.6 358.2,849.9 358.7,848.9 359.1,848.1 359.6,846.7 360.0,845.3 360.5,843.8 360.9,841.7 361.4,839.0 361.8,836.8 362.3,834.0 362.7,831.9 363.2,829.0 363.6,826.3 364.1,823.7 364.5,821.5 365.0,818.8 365.4,816.2 365.9,814.2 366.3,811.5 366.8,809.3 367.2,807.9 367.7,805.5 368.1,804.8 368.6,803.6 369.0,802.7 369.5,802.3 369.9,801.6 370.4,801.7 370.8,801.5 371.3,802.4 371.7,803.3 372.2,804.6 372.6,806.4 373.1,807.6 373.5,809.7 374.0,811.3 374.4,813.9 374.9,815.9 375.3,818.8 375.8,821.5 376.2,824.5 376.7,827.5 377.1,830.3 377.6,833.2 378.0,836.6 378.5,839.1 379.0,841.3 379.4,844.7 379.9,847.4 380.3,849.9 380.8,852.3 381.2,853.5 381.7,855.6 382.1,857.1 382.6,857.9 383.0,858.7 383.5,860.4 383.9,860.2 384.4,860.4 384.8,860.3 385.3,859.8 385.7,859.2 386.2,857.6 386.6,856.6 387.1,855.0 387.5,852.9 388.0,850.9 388.4,848.7 388.9,846.2 389.3,843.0 389.8,840.5 390.2,837.7 390.7,834.8 391.1,831.5 391.6,828.5 392.0,824.9 392.5,821.6 392.9,819.0 393.4,815.2 393.8,812.0 394.3,809.2 394.7,806.7 395.2,803.3 395.6,801.4 396.1,799.3 396.5,797.2 397.0,795.1 397.4,793.3 397.9,791.9 398.3,791.2 398.8,790.9 399.2,790.3 399.7,790.3 400.1,790.3 400.6,791.2 401.0,791.5 401.5,792.4 401.9,794.0 402.4,795.5 402.8,797.8 403.3,800.1 403.7,802.3 404.2,804.4 404.6,807.3 405.1,810.7 405.5,813.4 406.0,817.1 406.4,819.9 406.9,823.7 407.3,827.5 407.8,830.7 408.2,834.8 408.7,838.4 409.1,842.0 409.6,845.0 410.0,848.5 410.5,851.7 410.9,854.9 411.4,857.3 411.8,860.6 412.3,863.2 412.7,865.0 413.2,867.0 413.6,869.2 414.1,871.4 414.6,872.3 415.0,873.0 415.5,873.9 415.9,873.9 416.4,874.8 416.8,874.1 417.3,874.0 417.7,872.6 418.2,871.9 418.6,870.2 419.1,869.1 419.5,867.4 420.0,865.1 420.4,862.5 420.9,860.0 421.3,856.5 421.8,853.4 422.2,850.4 422.7,847.4 423.1,843.6 423.6,840.1 424.0,835.7 424.5,832.2 424.9,828.3 425.4,824.6 425.8,821.2 426.3,816.9 426.7,813.2 427.2,809.0 427.6,805.4 428.1,802.1 428.5,798.6 429.0,794.7 429.4,792.4 429.9,789.4 430.3,786.6 430.8,784.2 431.2,781.9 431.7,779.6 432.1,777.6 432.6,777.1 433.0,775.5 433.5,774.6 433.9,774.1 434.4,773.8 434.8,773.9 435.3,773.8 435.7,774.9 436.2,775.7 436.6,776.9 437.1,778.3 437.5,780.2 438.0,781.9 438.4,784.5 438.9,787.0 439.3,789.9 439.8,793.1 440.2,796.3 440.7,799.8 441.1,803.0 441.6,807.0 442.0,810.9 442.5,814.5 442.9,818.5 443.4,823.3 443.8,826.5 444.3,831.2 444.7,835.5 445.2,839.3 445.6,843.8 446.1,848.1 446.5,851.4 447.0,856.3 447.4,859.9 447.9,863.3 448.3,867.5 448.8,870.6 449.2,873.7 449.7,876.1 450.2,879.9 450.6,882.2 451.1,884.4 451.5,886.6 452.0,888.9 452.4,890.0 452.9,891.3 453.3,892.2 453.8,892.7 454.2,893.2 454.7,893.5 455.1,893.4 455.6,893.3 456.0,892.3 456.5,891.1 456.9,890.0 457.4,888.2 457.8,886.6 458.3,883.8 458.7,881.2 459.2,879.3 459.6,876.2 460.1,873.2 460.5,869.5 461.0,866.2 461.4,862.6 461.9,858.9 462.3,854.8 462.8,851.0 463.2,846.2 463.7,842.3 464.1,837.5 464.6,833.1 465.0,828.3 465.5,824.1 465.9,819.3 466.4,815.3 466.8,810.3 467.3,806.1 467.7,801.6 468.2,797.4 468.6,792.9 469.1,789.7 469.5,785.1 470.0,781.8 470.4,777.4 470.9,774.9 471.3,771.4 471.8,768.6 472.2,764.8 472.7,763.1 473.1,760.4 473.6,758.5 474.0,757.0 474.5,755.0 474.9,753.4 475.4,752.7 475.8,751.6 476.3,751.5 476.7,751.3 477.2,751.5 477.6,751.7 478.1,752.0 478.5,753.4 479.0,754.7 479.4,756.4 479.9,758.3 480.3,759.7 480.8,762.8 481.2,765.3 481.7,767.8 482.1,770.9 482.6,773.5 483.0,778.2 483.5,781.1 483.9,784.8 484.4,789.3 484.8,793.3 485.3,797.3 485.7,801.4 486.2,806.6 486.7,811.4 487.1,815.4 487.6,820.0 488.0,825.3 488.5,830.7 488.9,834.5 489.4,839.9 489.8,844.3 490.3,849.5 490.7,854.3 491.2,859.0 491.6,863.1 492.1,867.6 492.5,873.0 493.0,877.0 493.4,880.3 493.9,884.9 494.3,889.1 494.8,892.3 495.2,895.8 495.7,899.1 496.1,902.3 496.6,905.0 497.0,907.7 497.5,909.8 497.9,912.3 498.4,914.0 498.8,915.6 499.3,916.6 499.7,918.0 500.2,918.9 500.6,919.3 501.1,919.6 501.5,919.5 502.0,919.4 502.4,918.5 502.9,917.8 503.3,917.2 503.8,915.9 504.2,914.0 504.7,912.2 505.1,910.3 505.6,908.3 506.0,905.9 506.5,902.4 506.9,899.3 507.4,896.0 507.8,893.1 508.3,888.8 508.7,885.4 509.2,881.2 509.6,877.0 510.1,873.0 510.5,868.5 511.0,864.3 511.4,859.3 511.9,854.7 512.3,849.2 512.8,844.3 513.2,839.0 513.7,834.1 514.1,829.3 514.6,823.9 515.0,818.9 515.5,813.5 515.9,808.5 516.4,803.8 516.8,798.5 517.3,793.5 517.7,788.7 518.2,783.6 518.6,778.6 519.1,774.6 519.5,770.2 520.0,766.4 520.4,761.6 520.9,757.6 521.3,754.3 521.8,749.9" fill="none" stroke="#ffe066" stroke-width="5.6" stroke-linejoin="round" stroke-linecap="round"/>
<polyline points="126.6,828.3 127.1,828.7 127.5,828.6 128.0,828.8 128.4,828.3 128.9,828.9 129.3,828.6 129.8,827.9 130.2,828.5 130.7,828.4 131.1,828.5 131.6,828.8 132.0,828.5 132.5,828.4 132.9,828.8 133.4,828.4 133.8,828.1 134.3,828.2 134.7,829.0 135.2,828.8 135.6,829.0 136.1,828.2 136.5,828.3 137.0,828.3 137.4,828.8 137.9,828.8 138.3,828.5 138.8,828.5 139.2,828.7 139.7,828.5 140.1,828.3 140.6,828.4 141.0,828.8 141.5,829.1 141.9,828.6 142.4,828.5 142.8,828.6 143.3,828.6 143.7,828.7 144.2,828.3 144.6,828.5 145.1,828.5 145.5,828.8 146.0,828.7 146.4,828.5 146.9,828.8 147.3,828.9 147.8,828.6 148.2,828.2 148.7,828.4 149.1,828.1 149.6,828.5 150.0,828.6 150.5,828.9 150.9,828.7 151.4,828.1 151.8,828.4 152.3,828.3 152.7,828.3 153.2,828.5 153.6,828.6 154.1,828.5 154.5,828.3 155.0,828.4 155.4,828.4 155.9,828.5 156.3,828.7 156.8,828.6 157.2,828.8 157.7,828.2 158.1,829.1 158.6,828.6 159.0,827.8 159.5,828.6 159.9,828.8 160.4,828.5 160.8,828.1 161.3,828.5 161.7,828.3 162.2,828.5 162.7,828.6 163.1,827.6 163.6,828.5 164.0,828.7 164.5,828.6 164.9,828.4 165.4,828.4 165.8,828.3 166.3,828.5 166.7,828.9 167.2,828.3 167.6,828.6 168.1,828.6 168.5,828.9 169.0,828.7 169.4,828.7 169.9,828.5 170.3,828.9 170.8,828.5 171.2,828.5 171.7,828.8 172.1,828.7 172.6,828.7 173.0,828.2 173.5,829.2 173.9,828.6 174.4,829.0 174.8,828.6 175.3,828.3 175.7,828.7 176.2,828.5 176.6,828.7 177.1,827.9 177.5,828.2 178.0,828.2 178.4,828.9 178.9,828.8 179.3,828.2 179.8,828.6 180.2,828.6 180.7,828.4 181.1,828.9 181.6,828.3 182.0,828.5 182.5,828.4 182.9,828.7 183.4,828.3 183.8,828.7 184.3,828.2 184.7,828.2 185.2,828.2 185.6,828.4 186.1,828.3 186.5,829.3 187.0,828.3 187.4,828.6 187.9,828.5 188.3,828.6 188.8,828.9 189.2,828.7 189.7,828.3 190.1,828.1 190.6,828.7 191.0,828.8 191.5,828.1 191.9,828.8 192.4,827.9 192.8,828.5 193.3,828.8 193.7,828.2 194.2,828.0 194.6,828.9 195.1,828.0 195.5,828.6 196.0,828.1 196.4,828.6 196.9,828.9 197.3,828.3 197.8,828.2 198.2,827.9 198.7,828.0 199.2,828.3 199.6,828.6 200.1,828.7 200.5,828.6 201.0,828.8 201.4,828.6 201.9,829.2 202.3,828.4 202.8,828.5 203.2,827.7 203.7,828.3 204.1,828.6 204.6,828.3 205.0,828.9 205.5,828.7 205.9,829.1 206.4,828.1 206.8,828.4 207.3,828.9 207.7,828.5 208.2,828.2 208.6,828.4 209.1,828.4 209.5,828.7 210.0,828.7 210.4,828.4 210.9,828.2 211.3,828.7 211.8,828.8 212.2,828.1 212.7,828.8 213.1,828.2 213.6,828.5 214.0,828.3 214.5,828.1 214.9,828.4 215.4,828.3 215.8,828.8 216.3,828.7 216.7,828.3 217.2,828.0 217.6,828.1 218.1,827.8 218.5,828.3 219.0,828.4 219.4,828.1 219.9,828.4 220.3,828.5 220.8,828.8 221.2,828.2 221.7,828.9 222.1,828.4 222.6,829.0 223.0,828.3 223.5,828.9 223.9,828.3 224.4,829.0 224.8,828.7 225.3,828.2 225.7,828.7 226.2,828.4 226.6,828.6 227.1,829.1 227.5,828.3 228.0,828.3 228.4,828.7 228.9,828.2 229.3,828.7 229.8,828.8 230.2,828.5 230.7,828.8 231.1,827.9 231.6,829.1 232.0,828.4 232.5,828.4 232.9,829.2 233.4,829.1 233.8,828.4 234.3,828.7 234.8,828.4 235.2,828.1 235.7,828.5 236.1,828.7 236.6,829.1 237.0,828.2 237.5,828.6 237.9,828.2 238.4,828.3 238.8,828.8 239.3,827.9 239.7,828.2 240.2,828.3 240.6,828.9 241.1,828.8 241.5,828.9 242.0,828.9 242.4,829.1 242.9,828.6 243.3,828.7 243.8,828.6 244.2,828.8 244.7,828.2 245.1,828.5 245.6,829.2 246.0,828.6 246.5,828.3 246.9,828.0 247.4,828.3 247.8,828.2 248.3,828.4 248.7,828.0 249.2,828.3 249.6,828.4 250.1,828.6 250.5,828.3 251.0,828.7 251.4,829.1 251.9,828.5 252.3,829.0 252.8,828.7 253.2,828.8 253.7,828.6 254.1,828.6 254.6,829.1 255.0,828.9 255.5,829.2 255.9,828.2 256.4,828.5 256.8,828.1 257.3,828.5 257.7,828.9 258.2,827.7 258.6,828.0 259.1,828.0 259.5,827.9 260.0,827.8 260.4,827.8 260.9,828.5 261.3,827.8 261.8,828.3 262.2,828.4 262.7,827.9 263.1,828.3 263.6,828.8 264.0,829.4 264.5,828.9 264.9,828.9 265.4,829.1 265.8,829.5 266.3,829.4 266.7,829.6 267.2,829.1 267.6,828.8 268.1,828.7 268.5,829.1 269.0,828.6 269.4,828.4 269.9,828.5 270.4,828.3 270.8,827.4 271.3,827.8 271.7,827.5 272.2,827.8 272.6,827.6 273.1,828.1 273.5,827.6 274.0,827.3 274.4,827.1 274.9,827.5 275.3,827.8 275.8,828.2 276.2,828.5 276.7,828.6 277.1,828.6 277.6,829.2 278.0,828.9 278.5,829.6 278.9,830.0 279.4,829.8 279.8,830.1 280.3,830.0 280.7,829.3 281.2,829.6 281.6,829.4 282.1,829.0 282.5,828.8 283.0,829.1 283.4,828.4 283.9,828.4 284.3,828.3 284.8,827.9 285.2,828.2 285.7,827.8 286.1,827.4 286.6,827.1 287.0,827.2 287.5,827.1 287.9,826.7 288.4,826.6 288.8,826.9 289.3,826.9 289.7,827.5 290.2,827.7 290.6,827.8 291.1,828.2 291.5,828.5 292.0,828.2 292.4,829.0 292.9,829.5 293.3,829.4 293.8,829.2 294.2,830.0 294.7,829.8 295.1,830.4 295.6,830.5 296.0,830.6 296.5,830.4 296.9,829.7 297.4,830.4 297.8,829.4 298.3,830.0 298.7,829.5 299.2,828.9 299.6,828.6 300.1,828.3 300.5,828.5 301.0,827.6 301.4,827.7 301.9,826.3 302.3,826.9 302.8,826.5 303.2,826.7 303.7,826.4 304.1,826.5 304.6,825.8 305.0,826.2 305.5,826.1 305.9,826.6 306.4,826.8 306.9,826.5 307.3,827.5 307.8,828.1 308.2,827.8 308.7,828.7 309.1,828.9 309.6,828.9 310.0,829.8 310.5,829.7 310.9,830.5 311.4,830.2 311.8,830.6 312.3,831.3 312.7,831.4 313.2,831.7 313.6,831.5 314.1,831.2 314.5,831.8 315.0,831.0 315.4,831.4 315.9,831.0 316.3,830.9 316.8,829.4 317.2,829.6 317.7,829.1 318.1,828.9 318.6,827.9 319.0,828.3 319.5,827.2 319.9,826.1 320.4,826.4 320.8,825.8 321.3,825.3 321.7,825.4 322.2,824.9 322.6,824.5 323.1,824.6 323.5,824.5 324.0,824.8 324.4,824.7 324.9,825.0 325.3,824.9 325.8,825.4 326.2,826.1 326.7,827.2 327.1,826.8 327.6,827.3 328.0,828.3 328.5,829.2 328.9,829.6 329.4,829.6 329.8,830.7 330.3,831.1 330.7,831.4 331.2,831.6 331.6,832.4 332.1,832.7 332.5,833.2 333.0,832.7 333.4,833.0 333.9,833.4 334.3,833.8 334.8,833.5 335.2,832.9 335.7,833.0 336.1,832.1 336.6,831.9 337.0,831.4 337.5,830.7 337.9,830.2 338.4,829.9 338.8,829.1 339.3,827.6 339.7,828.0 340.2,827.0 340.6,825.9 341.1,825.6 341.5,825.2 342.0,824.8 342.5,823.7 342.9,823.1 343.4,822.6 343.8,822.7 344.3,822.2 344.7,822.6 345.2,822.3 345.6,822.5 346.1,822.4 346.5,822.5 347.0,822.7 347.4,823.7 347.9,823.6 348.3,824.6 348.8,825.4 349.2,825.8 349.7,826.9 350.1,827.3 350.6,828.0 351.0,829.0 351.5,829.6 351.9,830.6 352.4,831.3 352.8,832.5 353.3,832.8 353.7,833.8 354.2,834.3 354.6,834.8 355.1,835.2 355.5,836.1 356.0,836.4 356.4,836.3 356.9,836.2 357.3,836.2 357.8,836.0 358.2,835.7 358.7,835.7 359.1,835.5 359.6,835.3 360.0,834.7 360.5,834.0 360.9,833.0 361.4,832.3 361.8,831.5 362.3,830.7 362.7,829.5 363.2,828.7 363.6,827.7 364.1,826.8 364.5,826.1 365.0,825.3 365.4,823.9 365.9,823.1 366.3,822.4 366.8,821.7 367.2,820.3 367.7,820.5 368.1,819.8 368.6,819.3 369.0,819.3 369.5,818.7 369.9,818.1 370.4,818.3 370.8,818.5 371.3,818.7 371.7,819.1 372.2,819.3 372.6,820.1 373.1,820.8 373.5,821.4 374.0,821.9 374.4,822.9 374.9,823.8 375.3,825.5 375.8,825.6 376.2,826.4 376.7,827.7 377.1,829.3 377.6,830.6 378.0,831.4 378.5,832.9 379.0,833.5 379.4,834.8 379.9,835.4 380.3,836.2 380.8,838.1 381.2,838.2 381.7,839.1 382.1,840.0 382.6,840.2 383.0,840.5 383.5,840.4 383.9,841.4 384.4,840.7 384.8,840.3 385.3,840.6 385.7,840.3 386.2,840.1 386.6,839.9 387.1,838.8 387.5,838.1 388.0,837.2 388.4,835.8 388.9,835.3 389.3,834.3 389.8,832.9 390.2,832.5 390.7,831.2 391.1,829.8 391.6,828.5 392.0,826.9 392.5,825.9 392.9,824.0 393.4,822.8 393.8,821.7 394.3,820.9 394.7,819.4 395.2,818.3 395.6,817.8 396.1,816.5 396.5,815.5 397.0,814.9 397.4,813.9 397.9,813.4 398.3,813.6 398.8,813.0 399.2,813.1 399.7,812.6 400.1,813.1 400.6,812.8 401.0,813.2 401.5,813.5 401.9,814.4 402.4,815.4 402.8,815.2 403.3,816.7 403.7,817.2 404.2,818.5 404.6,819.6 405.1,820.5 405.5,822.3 406.0,823.3 406.4,825.5 406.9,826.3 407.3,828.1 407.8,829.6 408.2,831.0 408.7,832.4 409.1,833.5 409.6,836.0 410.0,836.9 410.5,838.5 410.9,839.3 411.4,841.0 411.8,841.9 412.3,843.2 412.7,843.9 413.2,844.8 413.6,846.0 414.1,846.5 414.6,847.5 415.0,847.5 415.5,847.7 415.9,848.3 416.4,847.9 416.8,848.7 417.3,848.5 417.7,848.1 418.2,847.4 418.6,846.6 419.1,846.0 419.5,845.2 420.0,844.0 420.4,843.3 420.9,842.4 421.3,841.2 421.8,838.9 422.2,838.8 422.7,836.7 423.1,834.6 423.6,833.3 424.0,832.1 424.5,830.2 424.9,828.2 425.4,826.4 425.8,825.3 426.3,823.1 426.7,821.5 427.2,819.6 427.6,817.9 428.1,816.8 428.5,815.6 429.0,813.6 429.4,811.8 429.9,810.8 430.3,809.7 430.8,808.0 431.2,807.9 431.7,806.5 432.1,806.1 432.6,805.2 433.0,804.7 433.5,803.9 433.9,804.3 434.4,804.0 434.8,804.3 435.3,803.8 435.7,804.3 436.2,804.5 436.6,805.4 437.1,805.9 437.5,806.3 438.0,807.5 438.4,808.3 438.9,809.5 439.3,811.0 439.8,812.7 440.2,813.4 440.7,815.2 441.1,816.6 441.6,819.1 442.0,820.8 442.5,822.7 442.9,824.2 443.4,825.6 443.8,827.6 444.3,829.8 444.7,831.7 445.2,833.4 445.6,835.7 446.1,837.4 446.5,839.4 447.0,841.9 447.4,843.2 447.9,844.4 448.3,846.6 448.8,848.2 449.2,849.8 449.7,851.2 450.2,852.1 450.6,853.8 451.1,855.1 451.5,856.7 452.0,856.9 452.4,858.1 452.9,858.6 453.3,858.4 453.8,858.8 454.2,859.8 454.7,859.1 455.1,859.1 455.6,859.3 456.0,858.5 456.5,858.8 456.9,858.0 457.4,857.4 457.8,856.4 458.3,854.8 458.7,854.4 459.2,853.1 459.6,851.7 460.1,849.9 460.5,848.4 461.0,846.4 461.4,845.1 461.9,843.5 462.3,841.3 462.8,839.2 463.2,837.4 463.7,835.0 464.1,832.4 464.6,830.9 465.0,828.6 465.5,826.0 465.9,824.3 466.4,822.2 466.8,820.1 467.3,817.5 467.7,815.3 468.2,813.4 468.6,811.2 469.1,808.9 469.5,807.1 470.0,805.8 470.4,803.6 470.9,801.9 471.3,800.1 471.8,798.9 472.2,797.6 472.7,796.2 473.1,795.4 473.6,793.9 474.0,793.1 474.5,792.0 474.9,791.7 475.4,791.0 475.8,790.8 476.3,790.5 476.7,789.9 477.2,790.3 477.6,790.2 478.1,790.9 478.5,791.0 479.0,792.2 479.4,792.5 479.9,793.4 480.3,794.1 480.8,795.3 481.2,796.7 481.7,797.8 482.1,799.5 482.6,801.0 483.0,802.6 483.5,804.7 483.9,806.6 484.4,808.5 484.8,810.8 485.3,812.7 485.7,814.7 486.2,817.0 486.7,819.7 487.1,822.4 487.6,824.4 488.0,826.9 488.5,829.0 488.9,831.9 489.4,834.3 489.8,836.5 490.3,839.4 490.7,841.7 491.2,843.6 491.6,846.0 492.1,848.6 492.5,851.0 493.0,853.6 493.4,855.3 493.9,857.5 494.3,859.4 494.8,861.6 495.2,863.2 495.7,865.0 496.1,866.5 496.6,867.7 497.0,869.4 497.5,871.2 497.9,872.2 498.4,873.3 498.8,874.0 499.3,874.4 499.7,875.0 500.2,875.8 500.6,875.9 501.1,876.4 501.5,876.6 502.0,876.5 502.4,876.1 502.9,875.1 503.3,875.4 503.8,874.0 504.2,873.1 504.7,872.6 505.1,871.5 505.6,870.5 506.0,869.0 506.5,867.3 506.9,866.0 507.4,864.0 507.8,862.1 508.3,860.5 508.7,858.5 509.2,856.5 509.6,854.2 510.1,852.3 510.5,849.5 511.0,847.2 511.4,845.0 511.9,841.6 512.3,839.9 512.8,837.2 513.2,834.2 513.7,832.1 514.1,829.1 514.6,826.5 515.0,823.6 515.5,820.6 515.9,817.7 516.4,814.8 516.8,812.2 517.3,809.4 517.7,806.9 518.2,804.6 518.6,801.6 519.1,799.5 519.5,797.1 520.0,794.2 520.4,792.1 520.9,790.0 521.3,787.8 521.8,785.7" fill="none" stroke="#d9e876" stroke-width="5.6" stroke-linejoin="round" stroke-linecap="round"/>
<polyline points="126.6,828.9 127.1,828.5 127.5,828.9 128.0,828.5 128.4,828.7 128.9,828.1 129.3,828.4 129.8,828.8 130.2,828.5 130.7,828.9 131.1,828.5 131.6,828.4 132.0,828.4 132.5,829.1 132.9,828.6 133.4,828.4 133.8,828.4 134.3,828.2 134.7,828.9 135.2,828.4 135.6,828.7 136.1,828.5 136.5,828.4 137.0,828.3 137.4,828.7 137.9,828.5 138.3,828.9 138.8,828.9 139.2,828.4 139.7,828.5 140.1,829.0 140.6,828.8 141.0,828.5 141.5,828.1 141.9,828.2 142.4,828.3 142.8,829.0 143.3,828.5 143.7,828.4 144.2,828.4 144.6,828.4 145.1,828.6 145.5,828.0 146.0,828.1 146.4,828.5 146.9,828.8 147.3,827.9 147.8,828.7 148.2,828.2 148.7,828.0 149.1,828.8 149.6,828.4 150.0,828.6 150.5,828.4 150.9,828.4 151.4,828.0 151.8,828.3 152.3,828.5 152.7,828.2 153.2,828.6 153.6,828.6 154.1,827.9 154.5,828.8 155.0,828.7 155.4,828.5 155.9,828.8 156.3,829.1 156.8,828.2 157.2,828.7 157.7,828.7 158.1,828.6 158.6,828.8 159.0,828.8 159.5,828.5 159.9,827.8 160.4,828.3 160.8,828.3 161.3,829.0 161.7,828.5 162.2,828.9 162.7,828.3 163.1,828.6 163.6,828.5 164.0,828.5 164.5,828.7 164.9,829.0 165.4,828.3 165.8,828.9 166.3,828.9 166.7,828.6 167.2,828.7 167.6,828.4 168.1,828.2 168.5,828.4 169.0,828.5 169.4,828.5 169.9,828.3 170.3,829.1 170.8,828.4 171.2,828.8 171.7,828.9 172.1,828.5 172.6,828.6 173.0,828.3 173.5,828.2 173.9,829.2 174.4,828.5 174.8,828.0 175.3,828.3 175.7,828.1 176.2,828.5 176.6,828.9 177.1,828.8 177.5,828.3 178.0,828.2 178.4,828.7 178.9,828.6 179.3,828.4 179.8,829.0 180.2,828.6 180.7,828.0 181.1,827.9 181.6,828.5 182.0,828.0 182.5,828.7 182.9,828.8 183.4,829.2 183.8,828.2 184.3,828.6 184.7,827.8 185.2,828.4 185.6,828.5 186.1,829.0 186.5,828.1 187.0,828.6 187.4,828.6 187.9,829.2 188.3,828.2 188.8,828.2 189.2,828.7 189.7,828.5 190.1,828.4 190.6,828.2 191.0,828.5 191.5,828.0 191.9,828.6 192.4,828.7 192.8,828.7 193.3,829.3 193.7,828.7 194.2,828.2 194.6,828.4 195.1,828.8 195.5,828.4 196.0,829.1 196.4,828.6 196.9,828.4 197.3,828.3 197.8,828.7 198.2,828.3 198.7,828.0 199.2,828.6 199.6,828.3 200.1,829.0 200.5,829.1 201.0,828.3 201.4,828.5 201.9,828.5 202.3,828.7 202.8,828.6 203.2,828.3 203.7,828.0 204.1,828.6 204.6,829.0 205.0,828.1 205.5,828.3 205.9,828.3 206.4,828.5 206.8,827.8 207.3,828.5 207.7,828.4 208.2,829.1 208.6,828.7 209.1,828.7 209.5,828.5 210.0,828.4 210.4,828.7 210.9,828.0 211.3,828.8 211.8,828.6 212.2,828.4 212.7,828.9 213.1,828.4 213.6,828.3 214.0,828.6 214.5,828.0 214.9,828.5 215.4,828.4 215.8,828.8 216.3,829.0 216.7,828.7 217.2,828.6 217.6,828.6 218.1,828.3 218.5,829.2 219.0,828.8 219.4,829.0 219.9,828.1 220.3,828.7 220.8,828.7 221.2,828.8 221.7,828.3 222.1,828.6 222.6,828.5 223.0,829.1 223.5,828.2 223.9,828.4 224.4,828.4 224.8,828.2 225.3,828.6 225.7,828.6 226.2,828.3 226.6,828.4 227.1,828.6 227.5,828.5 228.0,828.7 228.4,828.3 228.9,828.2 229.3,828.5 229.8,828.0 230.2,829.0 230.7,828.6 231.1,828.0 231.6,828.6 232.0,829.0 232.5,828.1 232.9,828.4 233.4,828.9 233.8,828.3 234.3,828.8 234.8,828.9 235.2,828.6 235.7,828.6 236.1,828.8 236.6,828.6 237.0,828.8 237.5,828.5 237.9,828.5 238.4,828.3 238.8,828.6 239.3,828.9 239.7,828.9 240.2,828.6 240.6,828.1 241.1,828.3 241.5,828.7 242.0,828.3 242.4,828.9 242.9,828.2 243.3,828.6 243.8,828.3 244.2,828.3 244.7,828.6 245.1,828.4 245.6,828.8 246.0,828.5 246.5,828.2 246.9,827.3 247.4,828.3 247.8,828.5 248.3,828.8 248.7,828.2 249.2,829.0 249.6,828.7 250.1,828.4 250.5,828.9 251.0,828.1 251.4,828.2 251.9,828.7 252.3,828.7 252.8,828.9 253.2,829.0 253.7,828.4 254.1,828.4 254.6,828.5 255.0,828.5 255.5,828.7 255.9,828.4 256.4,829.0 256.8,828.5 257.3,828.1 257.7,828.1 258.2,828.6 258.6,828.6 259.1,828.1 259.5,827.9 260.0,828.9 260.4,828.6 260.9,828.4 261.3,828.1 261.8,828.7 262.2,828.3 262.7,828.6 263.1,827.8 263.6,828.4 264.0,828.6 264.5,828.7 264.9,828.3 265.4,828.4 265.8,828.9 266.3,828.5 266.7,829.0 267.2,828.8 267.6,829.0 268.1,829.0 268.5,828.8 269.0,828.8 269.4,828.4 269.9,828.3 270.4,828.5 270.8,828.8 271.3,828.2 271.7,829.0 272.2,829.0 272.6,828.2 273.1,828.2 273.5,828.1 274.0,828.5 274.4,828.8 274.9,828.6 275.3,828.3 275.8,828.7 276.2,828.7 276.7,828.9 277.1,828.9 277.6,828.3 278.0,828.5 278.5,829.0 278.9,829.0 279.4,828.8 279.8,828.5 280.3,829.0 280.7,828.7 281.2,829.3 281.6,829.0 282.1,828.5 282.5,828.4 283.0,828.9 283.4,828.8 283.9,828.3 284.3,828.6 284.8,828.6 285.2,828.3 285.7,828.3 286.1,828.0 286.6,828.1 287.0,828.5 287.5,828.3 287.9,828.3 288.4,828.7 288.8,828.6 289.3,828.0 289.7,828.8 290.2,828.1 290.6,828.3 291.1,828.5 291.5,828.3 292.0,828.4 292.4,828.2 292.9,828.8 293.3,828.7 293.8,828.8 294.2,828.2 294.7,828.5 295.1,829.1 295.6,828.9 296.0,829.0 296.5,828.8 296.9,828.7 297.4,828.1 297.8,829.3 298.3,828.4 298.7,828.5 299.2,828.8 299.6,828.6 300.1,828.6 300.5,828.4 301.0,828.1 301.4,828.8 301.9,827.9 302.3,828.3 302.8,827.7 303.2,828.0 303.7,827.8 304.1,827.9 304.6,827.8 305.0,828.1 305.5,828.4 305.9,827.9 306.4,828.0 306.9,827.6 307.3,828.9 307.8,828.4 308.2,828.1 308.7,828.8 309.1,828.6 309.6,828.0 310.0,828.3 310.5,829.0 310.9,828.4 311.4,828.6 311.8,828.7 312.3,828.9 312.7,829.0 313.2,829.3 313.6,829.2 314.1,828.9 314.5,829.0 315.0,828.5 315.4,829.1 315.9,829.6 316.3,829.0 316.8,828.7 317.2,828.6 317.7,828.6 318.1,828.8 318.6,828.0 319.0,828.5 319.5,828.0 319.9,828.2 320.4,828.4 320.8,827.6 321.3,828.6 321.7,828.1 322.2,827.7 322.6,827.9 323.1,827.5 323.5,827.8 324.0,827.9 324.4,827.1 324.9,827.9 325.3,827.9 325.8,828.2 326.2,828.2 326.7,827.9 327.1,828.0 327.6,828.3 328.0,828.6 328.5,828.3 328.9,829.2 329.4,828.9 329.8,829.0 330.3,829.3 330.7,829.1 331.2,829.4 331.6,829.6 332.1,828.9 332.5,829.2 333.0,829.2 333.4,829.5 333.9,829.3 334.3,829.3 334.8,829.2 335.2,828.8 335.7,829.5 336.1,829.3 336.6,829.3 337.0,830.2 337.5,829.4 337.9,828.9 338.4,828.6 338.8,828.8 339.3,828.1 339.7,827.9 340.2,828.3 340.6,827.6 341.1,827.3 341.5,827.6 342.0,827.9 342.5,827.0 342.9,827.4 343.4,827.4 343.8,827.2 344.3,827.3 344.7,826.8 345.2,826.9 345.6,826.7 346.1,827.0 346.5,827.4 347.0,827.3 347.4,827.1 347.9,827.6 348.3,826.7 348.8,827.8 349.2,828.0 349.7,827.7 350.1,828.0 350.6,828.4 351.0,828.7 351.5,828.7 351.9,828.7 352.4,829.0 352.8,829.4 353.3,829.4 353.7,829.5 354.2,829.6 354.6,830.9 355.1,830.4 355.5,830.4 356.0,830.4 356.4,830.3 356.9,830.1 357.3,830.2 357.8,830.4 358.2,830.3 358.7,829.8 359.1,830.4 359.6,830.0 360.0,829.5 360.5,829.7 360.9,830.2 361.4,829.3 361.8,829.4 362.3,829.1 362.7,828.5 363.2,828.4 363.6,828.4 364.1,827.8 364.5,827.7 365.0,827.6 365.4,827.3 365.9,827.1 366.3,827.0 366.8,826.9 367.2,826.6 367.7,826.7 368.1,826.6 368.6,825.8 369.0,826.1 369.5,826.0 369.9,826.0 370.4,825.9 370.8,826.0 371.3,826.0 371.7,826.3 372.2,825.9 372.6,826.5 373.1,826.2 373.5,827.2 374.0,827.1 374.4,826.8 374.9,827.3 375.3,827.7 375.8,827.7 376.2,828.4 376.7,828.4 377.1,829.3 377.6,829.1 378.0,829.5 378.5,829.4 379.0,829.6 379.4,830.4 379.9,830.0 380.3,830.9 380.8,831.5 381.2,831.8 381.7,830.9 382.1,831.5 382.6,831.8 383.0,832.0 383.5,832.2 383.9,831.5 384.4,832.0 384.8,831.4 385.3,831.9 385.7,832.5 386.2,831.5 386.6,831.7 387.1,831.5 387.5,830.8 388.0,831.1 388.4,830.4 388.9,830.5 389.3,830.4 389.8,829.7 390.2,829.7 390.7,828.8 391.1,828.5 391.6,828.4 392.0,827.9 392.5,827.6 392.9,827.4 393.4,826.7 393.8,826.7 394.3,826.1 394.7,826.2 395.2,825.6 395.6,825.2 396.1,825.3 396.5,824.9 397.0,824.7 397.4,824.2 397.9,824.4 398.3,824.0 398.8,823.5 399.2,823.8 399.7,824.4 400.1,823.9 400.6,823.6 401.0,824.1 401.5,823.8 401.9,824.1 402.4,824.4 402.8,824.8 403.3,825.1 403.7,825.3 404.2,825.5 404.6,825.7 405.1,826.1 405.5,826.7 406.0,827.0 406.4,827.4 406.9,828.4 407.3,828.6 407.8,829.0 408.2,829.3 408.7,829.8 409.1,830.2 409.6,830.9 410.0,830.9 410.5,831.4 410.9,832.4 411.4,832.3 411.8,833.0 412.3,832.5 412.7,833.5 413.2,833.7 413.6,833.8 414.1,834.2 414.6,834.3 415.0,834.0 415.5,834.5 415.9,834.4 416.4,834.3 416.8,834.9 417.3,834.1 417.7,834.3 418.2,834.1 418.6,834.5 419.1,833.8 419.5,833.6 420.0,833.6 420.4,832.5 420.9,832.6 421.3,832.5 421.8,831.9 422.2,831.3 422.7,830.8 423.1,830.4 423.6,829.7 424.0,829.1 424.5,829.4 424.9,828.6 425.4,828.2 425.8,827.3 426.3,826.4 426.7,826.1 427.2,826.0 427.6,825.3 428.1,824.4 428.5,824.3 429.0,823.7 429.4,823.1 429.9,823.3 430.3,822.1 430.8,821.9 431.2,821.5 431.7,821.6 432.1,821.3 432.6,821.0 433.0,820.5 433.5,820.4 433.9,820.3 434.4,819.8 434.8,819.9 435.3,820.5 435.7,820.6 436.2,820.0 436.6,820.7 437.1,820.5 437.5,820.6 438.0,821.6 438.4,821.8 438.9,822.1 439.3,822.8 439.8,823.3 440.2,823.6 440.7,823.7 441.1,824.7 441.6,825.2 442.0,825.8 442.5,826.7 442.9,826.5 443.4,828.3 443.8,828.4 444.3,828.8 444.7,830.0 445.2,830.1 445.6,830.6 446.1,831.9 446.5,832.2 447.0,833.2 447.4,833.4 447.9,834.2 448.3,834.7 448.8,834.9 449.2,835.8 449.7,836.0 450.2,836.7 450.6,837.7 451.1,837.7 451.5,838.0 452.0,838.9 452.4,838.3 452.9,838.9 453.3,839.0 453.8,839.6 454.2,839.4 454.7,839.4 455.1,839.5 455.6,839.4 456.0,839.9 456.5,838.7 456.9,839.3 457.4,839.3 457.8,838.7 458.3,838.3 458.7,837.5 459.2,837.5 459.6,836.7 460.1,836.5 460.5,835.0 461.0,834.9 461.4,833.9 461.9,834.1 462.3,832.9 462.8,832.7 463.2,831.5 463.7,830.7 464.1,830.6 464.6,829.7 465.0,828.9 465.5,828.1 465.9,827.1 466.4,826.4 466.8,825.7 467.3,824.4 467.7,823.5 468.2,823.3 468.6,822.3 469.1,821.4 469.5,820.7 470.0,820.1 470.4,819.0 470.9,818.4 471.3,817.8 471.8,817.5 472.2,816.3 472.7,815.9 473.1,816.0 473.6,815.5 474.0,814.8 474.5,815.0 474.9,814.4 475.4,814.3 475.8,814.3 476.3,814.1 476.7,814.4 477.2,814.1 477.6,814.6 478.1,813.4 478.5,813.8 479.0,814.1 479.4,814.6 479.9,814.8 480.3,815.0 480.8,815.5 481.2,816.0 481.7,817.1 482.1,817.2 482.6,818.1 483.0,819.0 483.5,819.6 483.9,819.9 484.4,820.5 484.8,822.0 485.3,821.9 485.7,822.8 486.2,824.3 486.7,825.2 487.1,826.0 487.6,826.6 488.0,828.0 488.5,829.1 488.9,829.7 489.4,831.4 489.8,831.7 490.3,832.4 490.7,833.6 491.2,834.4 491.6,835.4 492.1,836.3 492.5,837.4 493.0,838.5 493.4,839.2 493.9,840.0 494.3,840.4 494.8,841.1 495.2,842.2 495.7,843.2 496.1,843.9 496.6,844.3 497.0,844.4 497.5,845.3 497.9,845.9 498.4,846.5 498.8,846.4 499.3,846.9 499.7,847.2 500.2,847.4 500.6,847.1 501.1,847.7 501.5,847.3 502.0,847.4 502.4,847.6 502.9,847.3 503.3,847.4 503.8,847.3 504.2,846.9 504.7,846.7 505.1,845.9 505.6,845.5 506.0,844.9 506.5,844.2 506.9,844.7 507.4,843.1 507.8,842.9 508.3,841.6 508.7,841.1 509.2,840.0 509.6,838.7 510.1,838.7 510.5,837.2 511.0,836.2 511.4,835.8 511.9,834.0 512.3,833.1 512.8,832.1 513.2,831.1 513.7,828.8 514.1,828.7 514.6,828.0 515.0,826.6 515.5,825.3 515.9,824.1 516.4,822.9 516.8,822.1 517.3,820.5 517.7,819.6 518.2,818.8 518.6,817.6 519.1,816.4 519.5,815.0 520.0,814.1 520.4,813.3 520.9,812.3 521.3,811.3 521.8,809.9" fill="none" stroke="#9dc55b" stroke-width="5.6" stroke-linejoin="round" stroke-linecap="round"/>
<polyline points="126.6,828.7 127.1,828.4 127.5,828.3 128.0,828.8 128.4,828.4 128.9,828.5 129.3,828.6 129.8,828.3 130.2,828.2 130.7,828.2 131.1,828.6 131.6,828.4 132.0,827.8 132.5,828.8 132.9,828.4 133.4,828.2 133.8,828.5 134.3,828.3 134.7,828.5 135.2,828.3 135.6,828.1 136.1,828.6 136.5,828.4 137.0,828.5 137.4,828.6 137.9,828.5 138.3,828.8 138.8,828.3 139.2,828.0 139.7,828.0 140.1,828.1 140.6,828.8 141.0,828.1 141.5,828.7 141.9,828.5 142.4,828.0 142.8,828.8 143.3,828.3 143.7,828.4 144.2,828.5 144.6,828.8 145.1,828.4 145.5,828.6 146.0,828.2 146.4,828.1 146.9,828.9 147.3,828.6 147.8,828.6 148.2,828.8 148.7,828.8 149.1,828.5 149.6,828.6 150.0,829.0 150.5,828.7 150.9,828.4 151.4,828.8 151.8,828.8 152.3,828.0 152.7,828.1 153.2,829.0 153.6,828.9 154.1,828.4 154.5,828.8 155.0,828.6 155.4,828.6 155.9,828.3 156.3,829.2 156.8,829.1 157.2,828.9 157.7,828.2 158.1,828.5 158.6,829.0 159.0,828.4 159.5,828.3 159.9,828.6 160.4,828.6 160.8,828.4 161.3,828.2 161.7,828.5 162.2,828.3 162.7,828.5 163.1,828.6 163.6,828.8 164.0,828.4 164.5,828.6 164.9,828.6 165.4,828.2 165.8,828.4 166.3,828.2 166.7,829.0 167.2,828.3 167.6,828.7 168.1,828.7 168.5,828.7 169.0,828.1 169.4,828.3 169.9,828.7 170.3,828.8 170.8,828.5 171.2,828.6 171.7,828.0 172.1,828.9 172.6,829.0 173.0,828.6 173.5,828.5 173.9,828.5 174.4,828.3 174.8,827.9 175.3,828.6 175.7,828.7 176.2,829.0 176.6,828.4 177.1,828.3 177.5,828.6 178.0,828.2 178.4,828.5 178.9,828.1 179.3,828.4 179.8,828.8 180.2,828.7 180.7,828.9 181.1,829.0 181.6,828.4 182.0,828.2 182.5,827.9 182.9,828.5 183.4,828.6 183.8,828.8 184.3,828.2 184.7,828.4 185.2,828.7 185.6,828.3 186.1,828.3 186.5,829.0 187.0,828.3 187.4,828.5 187.9,828.6 188.3,828.6 188.8,828.0 189.2,828.1 189.7,828.0 190.1,828.8 190.6,828.7 191.0,828.2 191.5,828.8 191.9,828.7 192.4,829.0 192.8,828.0 193.3,828.2 193.7,828.4 194.2,828.4 194.6,828.6 195.1,828.6 195.5,828.3 196.0,828.7 196.4,828.1 196.9,828.6 197.3,828.8 197.8,828.1 198.2,828.5 198.7,828.3 199.2,828.6 199.6,829.2 200.1,828.3 200.5,828.9 201.0,828.2 201.4,828.9 201.9,829.0 202.3,828.4 202.8,828.4 203.2,828.5 203.7,828.9 204.1,828.2 204.6,828.9 205.0,828.6 205.5,828.7 205.9,828.6 206.4,828.3 206.8,828.7 207.3,828.3 207.7,828.3 208.2,829.0 208.6,828.8 209.1,828.6 209.5,828.7 210.0,828.4 210.4,829.1 210.9,828.3 211.3,828.3 211.8,828.5 212.2,828.9 212.7,828.5 213.1,828.7 213.6,828.3 214.0,828.5 214.5,828.3 214.9,828.6 215.4,828.1 215.8,829.2 216.3,828.8 216.7,828.4 217.2,828.9 217.6,828.3 218.1,828.9 218.5,828.5 219.0,828.8 219.4,828.6 219.9,828.4 220.3,828.5 220.8,828.6 221.2,827.9 221.7,828.5 222.1,828.8 222.6,828.2 223.0,828.3 223.5,828.1 223.9,828.0 224.4,828.8 224.8,828.2 225.3,828.2 225.7,828.5 226.2,828.4 226.6,829.4 227.1,828.7 227.5,828.0 228.0,829.0 228.4,828.7 228.9,828.4 229.3,828.3 229.8,828.0 230.2,829.0 230.7,828.5 231.1,828.3 231.6,828.9 232.0,828.5 232.5,828.0 232.9,828.1 233.4,828.3 233.8,829.3 234.3,828.5 234.8,828.4 235.2,828.6 235.7,828.5 236.1,827.6 236.6,828.6 237.0,828.8 237.5,828.4 237.9,828.6 238.4,828.6 238.8,828.5 239.3,828.3 239.7,828.4 240.2,828.8 240.6,828.5 241.1,828.4 241.5,828.6 242.0,828.2 242.4,828.3 242.9,828.8 243.3,828.4 243.8,827.9 244.2,828.0 244.7,828.5 245.1,828.2 245.6,828.7 246.0,828.9 246.5,828.3 246.9,828.4 247.4,828.3 247.8,828.5 248.3,828.4 248.7,828.6 249.2,828.4 249.6,828.3 250.1,828.5 250.5,828.3 251.0,829.0 251.4,828.7 251.9,828.1 252.3,828.0 252.8,828.4 253.2,828.5 253.7,828.9 254.1,828.4 254.6,828.3 255.0,828.9 255.5,828.3 255.9,828.4 256.4,828.4 256.8,828.8 257.3,828.3 257.7,828.9 258.2,828.1 258.6,828.5 259.1,828.8 259.5,828.1 260.0,828.2 260.4,828.7 260.9,827.9 261.3,828.8 261.8,828.4 262.2,828.2 262.7,829.2 263.1,828.2 263.6,828.5 264.0,828.5 264.5,828.8 264.9,828.4 265.4,828.8 265.8,828.8 266.3,828.6 266.7,828.9 267.2,828.1 267.6,828.9 268.1,828.7 268.5,828.6 269.0,828.5 269.4,828.3 269.9,828.3 270.4,828.6 270.8,828.6 271.3,828.5 271.7,828.3 272.2,828.3 272.6,828.6 273.1,829.1 273.5,827.9 274.0,828.2 274.4,828.4 274.9,828.4 275.3,828.6 275.8,828.8 276.2,828.6 276.7,828.6 277.1,828.7 277.6,828.9 278.0,828.6 278.5,828.3 278.9,828.7 279.4,828.5 279.8,829.1 280.3,828.6 280.7,828.5 281.2,828.9 281.6,829.0 282.1,828.4 282.5,828.7 283.0,828.4 283.4,828.6 283.9,828.3 284.3,828.6 284.8,828.9 285.2,828.5 285.7,828.6 286.1,828.3 286.6,828.6 287.0,828.6 287.5,828.2 287.9,828.1 288.4,828.3 288.8,828.2 289.3,828.4 289.7,828.3 290.2,828.2 290.6,828.4 291.1,828.5 291.5,828.5 292.0,827.8 292.4,828.5 292.9,828.6 293.3,828.6 293.8,828.5 294.2,828.5 294.7,828.9 295.1,829.1 295.6,828.4 296.0,829.0 296.5,828.5 296.9,828.5 297.4,828.2 297.8,828.0 298.3,828.4 298.7,828.7 299.2,828.8 299.6,828.7 300.1,828.5 300.5,829.1 301.0,828.5 301.4,828.5 301.9,828.3 302.3,828.6 302.8,828.4 303.2,828.7 303.7,828.6 304.1,829.0 304.6,828.4 305.0,828.0 305.5,828.4 305.9,828.4 306.4,828.7 306.9,828.1 307.3,828.7 307.8,828.3 308.2,828.5 308.7,828.8 309.1,828.2 309.6,828.5 310.0,828.5 310.5,828.4 310.9,828.5 311.4,828.7 311.8,828.4 312.3,828.7 312.7,828.5 313.2,828.8 313.6,829.0 314.1,828.8 314.5,828.7 315.0,828.6 315.4,828.2 315.9,829.0 316.3,828.5 316.8,829.2 317.2,828.8 317.7,828.7 318.1,829.2 318.6,829.0 319.0,828.4 319.5,828.4 319.9,828.5 320.4,828.7 320.8,827.8 321.3,828.5 321.7,828.7 322.2,827.9 322.6,828.2 323.1,828.5 323.5,828.1 324.0,828.4 324.4,828.2 324.9,828.3 325.3,828.7 325.8,828.1 326.2,828.4 326.7,828.7 327.1,828.7 327.6,828.2 328.0,828.6 328.5,828.5 328.9,828.3 329.4,828.5 329.8,829.0 330.3,828.4 330.7,828.3 331.2,828.3 331.6,828.1 332.1,828.5 332.5,828.4 333.0,828.2 333.4,828.7 333.9,828.1 334.3,828.1 334.8,828.4 335.2,828.1 335.7,828.4 336.1,828.9 336.6,828.3 337.0,828.5 337.5,828.4 337.9,828.5 338.4,828.1 338.8,828.4 339.3,828.7 339.7,828.3 340.2,828.2 340.6,828.6 341.1,828.5 341.5,828.5 342.0,828.6 342.5,828.3 342.9,828.0 343.4,827.8 343.8,828.0 344.3,828.0 344.7,828.0 345.2,827.9 345.6,828.4 346.1,828.1 346.5,828.2 347.0,828.4 347.4,828.5 347.9,828.5 348.3,828.4 348.8,828.7 349.2,828.3 349.7,828.4 350.1,828.4 350.6,828.4 351.0,828.3 351.5,828.7 351.9,828.6 352.4,829.1 352.8,829.3 353.3,829.2 353.7,828.2 354.2,829.2 354.6,828.6 355.1,828.3 355.5,828.9 356.0,828.3 356.4,828.2 356.9,828.5 357.3,828.1 357.8,828.6 358.2,829.0 358.7,828.6 359.1,828.9 359.6,829.1 360.0,829.1 360.5,828.0 360.9,828.8 361.4,828.7 361.8,828.8 362.3,828.5 362.7,828.6 363.2,828.6 363.6,828.8 364.1,828.8 364.5,828.6 365.0,828.3 365.4,827.7 365.9,828.0 366.3,827.7 366.8,828.1 367.2,828.2 367.7,828.5 368.1,828.1 368.6,828.7 369.0,828.2 369.5,827.6 369.9,828.0 370.4,827.8 370.8,828.2 371.3,828.5 371.7,828.2 372.2,828.2 372.6,827.8 373.1,827.6 373.5,828.4 374.0,828.3 374.4,828.3 374.9,828.4 375.3,828.7 375.8,828.4 376.2,828.3 376.7,828.4 377.1,828.9 377.6,828.6 378.0,829.1 378.5,828.4 379.0,829.0 379.4,828.9 379.9,829.0 380.3,829.0 380.8,829.2 381.2,829.5 381.7,828.5 382.1,828.9 382.6,829.0 383.0,828.5 383.5,829.1 383.9,828.9 384.4,829.1 384.8,828.8 385.3,828.9 385.7,829.0 386.2,829.1 386.6,829.0 387.1,828.7 387.5,829.6 388.0,829.0 388.4,829.0 388.9,828.9 389.3,829.4 389.8,828.5 390.2,828.9 390.7,828.7 391.1,828.7 391.6,829.0 392.0,828.5 392.5,828.9 392.9,828.5 393.4,828.3 393.8,828.1 394.3,828.1 394.7,828.1 395.2,827.3 395.6,827.8 396.1,828.2 396.5,828.0 397.0,827.9 397.4,827.8 397.9,827.8 398.3,827.9 398.8,827.1 399.2,827.6 399.7,827.7 400.1,827.7 400.6,827.7 401.0,827.2 401.5,827.5 401.9,827.3 402.4,828.6 402.8,827.7 403.3,827.5 403.7,827.3 404.2,827.9 404.6,828.5 405.1,827.9 405.5,828.3 406.0,828.7 406.4,828.5 406.9,828.1 407.3,828.1 407.8,828.3 408.2,828.9 408.7,828.0 409.1,829.2 409.6,828.9 410.0,829.4 410.5,828.7 410.9,829.1 411.4,829.0 411.8,829.3 412.3,829.4 412.7,829.4 413.2,830.1 413.6,829.3 414.1,829.4 414.6,829.8 415.0,829.7 415.5,829.7 415.9,829.3 416.4,829.6 416.8,829.8 417.3,829.9 417.7,830.2 418.2,829.9 418.6,829.7 419.1,829.7 419.5,829.6 420.0,829.3 420.4,829.4 420.9,829.3 421.3,829.1 421.8,829.2 422.2,829.2 422.7,828.9 423.1,829.4 423.6,828.5 424.0,829.1 424.5,828.4 424.9,828.5 425.4,828.0 425.8,828.2 426.3,828.4 426.7,827.7 427.2,827.8 427.6,827.7 428.1,827.6 428.5,827.2 429.0,827.2 429.4,827.2 429.9,827.7 430.3,827.2 430.8,827.0 431.2,826.4 431.7,826.8 432.1,826.8 432.6,826.4 433.0,826.7 433.5,826.7 433.9,826.6 434.4,827.1 434.8,826.3 435.3,826.5 435.7,826.7 436.2,827.0 436.6,826.6 437.1,826.3 437.5,827.0 438.0,827.2 438.4,826.8 438.9,827.5 439.3,827.7 439.8,827.3 440.2,827.5 440.7,827.5 441.1,827.7 441.6,827.6 442.0,827.9 442.5,828.1 442.9,828.3 443.4,828.1 443.8,828.1 444.3,828.3 444.7,828.5 445.2,829.9 445.6,829.4 446.1,829.3 446.5,829.3 447.0,830.0 447.4,829.3 447.9,829.8 448.3,830.2 448.8,830.1 449.2,830.4 449.7,830.6 450.2,830.4 450.6,830.8 451.1,831.1 451.5,831.0 452.0,830.9 452.4,831.3 452.9,830.7 453.3,831.4 453.8,830.6 454.2,830.9 454.7,831.4 455.1,831.1 455.6,830.8 456.0,831.2 456.5,831.5 456.9,831.0 457.4,830.4 457.8,831.4 458.3,830.7 458.7,830.8 459.2,830.7 459.6,830.7 460.1,830.5 460.5,830.0 461.0,830.0 461.4,830.3 461.9,829.4 462.3,830.0 462.8,829.3 463.2,829.2 463.7,828.7 464.1,828.8 464.6,828.4 465.0,828.5 465.5,828.0 465.9,828.0 466.4,827.2 466.8,827.9 467.3,827.1 467.7,827.1 468.2,827.0 468.6,827.0 469.1,826.5 469.5,826.9 470.0,826.6 470.4,825.9 470.9,826.3 471.3,825.3 471.8,825.7 472.2,825.4 472.7,825.3 473.1,825.0 473.6,825.1 474.0,825.1 474.5,824.9 474.9,824.5 475.4,824.4 475.8,824.3 476.3,824.5 476.7,824.7 477.2,825.1 477.6,824.4 478.1,824.4 478.5,824.8 479.0,824.5 479.4,824.4 479.9,824.8 480.3,824.6 480.8,825.0 481.2,825.7 481.7,825.4 482.1,825.6 482.6,825.5 483.0,826.0 483.5,826.1 483.9,826.4 484.4,826.4 484.8,826.6 485.3,826.5 485.7,826.8 486.2,827.2 486.7,827.5 487.1,827.7 487.6,828.0 488.0,827.9 488.5,829.3 488.9,828.9 489.4,829.0 489.8,829.1 490.3,830.0 490.7,829.8 491.2,829.9 491.6,830.6 492.1,831.3 492.5,831.1 493.0,831.6 493.4,831.3 493.9,832.0 494.3,831.4 494.8,832.1 495.2,832.6 495.7,832.7 496.1,833.1 496.6,832.9 497.0,832.7 497.5,833.4 497.9,833.2 498.4,833.8 498.8,833.6 499.3,833.1 499.7,834.3 500.2,833.6 500.6,833.7 501.1,834.6 501.5,834.5 502.0,834.3 502.4,833.8 502.9,834.1 503.3,834.0 503.8,833.7 504.2,833.8 504.7,833.7 505.1,833.7 505.6,833.1 506.0,833.6 506.5,832.7 506.9,833.1 507.4,833.0 507.8,832.4 508.3,832.2 508.7,832.7 509.2,831.8 509.6,832.0 510.1,831.6 510.5,830.8 511.0,831.0 511.4,830.4 511.9,830.3 512.3,829.3 512.8,829.6 513.2,829.5 513.7,829.2 514.1,828.8 514.6,828.1 515.0,827.8 515.5,827.2 515.9,827.1 516.4,826.7 516.8,826.3 517.3,826.1 517.7,825.7 518.2,825.2 518.6,824.8 519.1,824.9 519.5,824.9 520.0,824.3 520.4,823.7 520.9,824.2 521.3,823.3 521.8,822.8" fill="none" stroke="#5d9b34" stroke-width="5.6" stroke-linejoin="round" stroke-linecap="round"/>
<polyline points="126.6,828.6 127.1,828.8 127.5,828.0 128.0,828.1 128.4,828.6 128.9,828.1 129.3,828.1 129.8,828.8 130.2,827.7 130.7,828.8 131.1,828.6 131.6,828.8 132.0,828.5 132.5,828.9 132.9,828.5 133.4,828.2 133.8,828.4 134.3,828.6 134.7,828.0 135.2,828.7 135.6,828.2 136.1,828.6 136.5,828.4 137.0,828.5 137.4,828.4 137.9,828.5 138.3,828.7 138.8,828.6 139.2,828.4 139.7,828.5 140.1,828.8 140.6,828.7 141.0,828.7 141.5,828.5 141.9,828.4 142.4,828.5 142.8,828.7 143.3,828.5 143.7,828.9 144.2,829.3 144.6,828.5 145.1,829.0 145.5,828.8 146.0,828.8 146.4,828.3 146.9,828.8 147.3,828.4 147.8,828.6 148.2,828.8 148.7,828.9 149.1,828.4 149.6,828.4 150.0,828.3 150.5,828.0 150.9,828.4 151.4,828.4 151.8,828.5 152.3,828.5 152.7,828.6 153.2,828.8 153.6,827.9 154.1,829.0 154.5,828.4 155.0,828.4 155.4,828.5 155.9,828.8 156.3,828.6 156.8,828.6 157.2,828.8 157.7,828.5 158.1,828.6 158.6,828.7 159.0,828.3 159.5,828.8 159.9,828.4 160.4,828.7 160.8,828.4 161.3,828.5 161.7,828.4 162.2,828.8 162.7,828.7 163.1,828.7 163.6,828.5 164.0,828.3 164.5,828.2 164.9,828.6 165.4,828.5 165.8,829.0 166.3,829.1 166.7,828.8 167.2,828.7 167.6,829.0 168.1,829.0 168.5,828.3 169.0,828.7 169.4,829.0 169.9,827.8 170.3,828.5 170.8,828.6 171.2,828.3 171.7,828.7 172.1,828.0 172.6,828.9 173.0,828.9 173.5,828.5 173.9,828.7 174.4,828.1 174.8,829.0 175.3,828.7 175.7,828.4 176.2,828.3 176.6,828.2 177.1,828.4 177.5,827.9 178.0,828.6 178.4,828.5 178.9,828.3 179.3,828.6 179.8,828.6 180.2,828.6 180.7,828.7 181.1,828.8 181.6,828.7 182.0,829.0 182.5,828.4 182.9,829.0 183.4,827.9 183.8,828.0 184.3,828.2 184.7,828.6 185.2,828.7 185.6,828.2 186.1,828.5 186.5,828.4 187.0,828.7 187.4,828.2 187.9,828.7 188.3,828.5 188.8,829.0 189.2,828.7 189.7,828.4 190.1,828.6 190.6,828.6 191.0,828.3 191.5,828.5 191.9,828.2 192.4,829.2 192.8,828.4 193.3,828.4 193.7,829.0 194.2,828.9 194.6,828.3 195.1,828.8 195.5,828.7 196.0,828.3 196.4,828.6 196.9,828.4 197.3,828.8 197.8,828.4 198.2,828.2 198.7,828.4 199.2,829.1 199.6,828.3 200.1,828.5 200.5,828.8 201.0,828.1 201.4,829.0 201.9,828.0 202.3,828.7 202.8,828.1 203.2,828.5 203.7,828.9 204.1,828.5 204.6,828.4 205.0,828.4 205.5,828.2 205.9,828.8 206.4,828.4 206.8,828.3 207.3,828.6 207.7,828.8 208.2,828.8 208.6,828.3 209.1,828.3 209.5,828.8 210.0,828.9 210.4,828.2 210.9,829.0 211.3,828.5 211.8,828.7 212.2,829.0 212.7,828.5 213.1,828.6 213.6,828.1 214.0,827.9 214.5,828.6 214.9,828.2 215.4,828.2 215.8,828.7 216.3,828.8 216.7,828.1 217.2,828.6 217.6,828.5 218.1,828.6 218.5,828.6 219.0,828.7 219.4,828.3 219.9,828.2 220.3,828.6 220.8,828.9 221.2,828.5 221.7,828.9 222.1,828.7 222.6,828.2 223.0,827.8 223.5,828.4 223.9,828.8 224.4,828.3 224.8,829.2 225.3,828.7 225.7,828.1 226.2,828.3 226.6,828.9 227.1,829.0 227.5,828.3 228.0,828.5 228.4,828.7 228.9,828.4 229.3,828.7 229.8,829.1 230.2,828.3 230.7,828.7 231.1,828.8 231.6,828.9 232.0,828.4 232.5,828.7 232.9,828.3 233.4,828.6 233.8,828.2 234.3,828.6 234.8,828.7 235.2,829.1 235.7,828.8 236.1,828.3 236.6,827.6 237.0,828.9 237.5,828.8 237.9,828.4 238.4,828.4 238.8,828.7 239.3,828.5 239.7,829.0 240.2,828.6 240.6,828.3 241.1,828.0 241.5,828.6 242.0,828.6 242.4,828.4 242.9,828.2 243.3,828.4 243.8,828.7 244.2,828.4 244.7,828.2 245.1,828.7 245.6,828.9 246.0,828.4 246.5,828.4 246.9,828.2 247.4,828.5 247.8,828.7 248.3,828.6 248.7,828.8 249.2,828.8 249.6,828.7 250.1,828.7 250.5,828.2 251.0,828.9 251.4,828.5 251.9,828.7 252.3,828.1 252.8,828.4 253.2,828.6 253.7,828.3 254.1,828.5 254.6,828.7 255.0,828.1 255.5,828.3 255.9,828.0 256.4,828.2 256.8,828.3 257.3,828.5 257.7,828.8 258.2,828.3 258.6,828.5 259.1,828.3 259.5,828.5 260.0,828.7 260.4,828.8 260.9,828.3 261.3,828.1 261.8,828.6 262.2,828.4 262.7,828.1 263.1,828.8 263.6,828.6 264.0,828.8 264.5,828.2 264.9,828.4 265.4,828.6 265.8,829.0 266.3,828.6 266.7,828.2 267.2,828.6 267.6,828.6 268.1,828.3 268.5,828.9 269.0,828.5 269.4,828.3 269.9,828.7 270.4,828.7 270.8,828.4 271.3,828.5 271.7,828.6 272.2,828.5 272.6,828.4 273.1,828.8 273.5,828.7 274.0,828.4 274.4,828.2 274.9,828.1 275.3,828.8 275.8,828.2 276.2,828.3 276.7,828.5 277.1,828.4 277.6,828.3 278.0,828.0 278.5,828.8 278.9,828.3 279.4,828.6 279.8,828.6 280.3,828.2 280.7,828.3 281.2,828.8 281.6,828.6 282.1,828.4 282.5,828.9 283.0,828.3 283.4,828.5 283.9,828.5 284.3,828.4 284.8,828.0 285.2,828.5 285.7,828.6 286.1,828.0 286.6,828.7 287.0,828.7 287.5,828.9 287.9,828.2 288.4,828.4 288.8,828.4 289.3,828.5 289.7,828.5 290.2,828.7 290.6,828.7 291.1,828.4 291.5,828.5 292.0,828.0 292.4,828.7 292.9,828.6 293.3,828.8 293.8,828.1 294.2,828.9 294.7,828.3 295.1,828.1 295.6,828.5 296.0,828.3 296.5,829.1 296.9,828.6 297.4,829.0 297.8,828.5 298.3,828.5 298.7,828.7 299.2,828.2 299.6,828.4 300.1,828.7 300.5,828.7 301.0,828.9 301.4,828.6 301.9,827.9 302.3,828.7 302.8,828.4 303.2,828.7 303.7,828.3 304.1,828.4 304.6,828.6 305.0,829.0 305.5,828.7 305.9,828.2 306.4,828.6 306.9,828.3 307.3,828.6 307.8,829.0 308.2,828.4 308.7,828.4 309.1,828.7 309.6,828.6 310.0,828.4 310.5,828.7 310.9,828.4 311.4,828.6 311.8,829.2 312.3,828.6 312.7,828.7 313.2,828.7 313.6,828.4 314.1,828.6 314.5,828.4 315.0,828.2 315.4,828.5 315.9,829.0 316.3,828.7 316.8,828.2 317.2,828.6 317.7,828.7 318.1,828.5 318.6,828.4 319.0,828.4 319.5,828.3 319.9,828.7 320.4,828.6 320.8,828.6 321.3,828.5 321.7,829.1 322.2,828.6 322.6,828.9 323.1,828.1 323.5,828.1 324.0,828.0 324.4,828.3 324.9,828.6 325.3,828.2 325.8,828.6 326.2,828.3 326.7,828.8 327.1,828.7 327.6,828.4 328.0,828.0 328.5,828.5 328.9,827.9 329.4,827.7 329.8,828.9 330.3,828.5 330.7,828.8 331.2,828.6 331.6,828.7 332.1,828.5 332.5,828.2 333.0,828.2 333.4,828.4 333.9,828.5 334.3,828.5 334.8,828.5 335.2,828.3 335.7,828.5 336.1,828.4 336.6,828.9 337.0,828.3 337.5,828.0 337.9,828.5 338.4,828.9 338.8,828.1 339.3,828.6 339.7,829.4 340.2,828.6 340.6,828.3 341.1,828.4 341.5,828.1 342.0,828.3 342.5,828.5 342.9,829.1 343.4,828.8 343.8,828.4 344.3,828.3 344.7,828.8 345.2,828.7 345.6,828.4 346.1,829.0 346.5,829.0 347.0,828.6 347.4,828.4 347.9,828.6 348.3,829.1 348.8,828.5 349.2,828.9 349.7,828.3 350.1,828.5 350.6,828.4 351.0,828.3 351.5,828.7 351.9,828.3 352.4,828.2 352.8,828.4 353.3,828.1 353.7,828.7 354.2,828.3 354.6,828.4 355.1,828.8 355.5,828.5 356.0,828.7 356.4,828.7 356.9,828.5 357.3,828.2 357.8,828.6 358.2,828.5 358.7,828.9 359.1,828.5 359.6,828.2 360.0,828.3 360.5,828.4 360.9,828.7 361.4,828.8 361.8,828.5 362.3,828.9 362.7,828.9 363.2,828.2 363.6,828.8 364.1,828.0 364.5,828.9 365.0,828.4 365.4,828.8 365.9,828.4 366.3,828.8 366.8,828.5 367.2,828.5 367.7,828.6 368.1,828.3 368.6,828.0 369.0,828.6 369.5,828.2 369.9,828.4 370.4,828.5 370.8,827.8 371.3,829.1 371.7,828.7 372.2,829.0 372.6,828.6 373.1,828.5 373.5,827.4 374.0,828.4 374.4,828.0 374.9,828.1 375.3,828.6 375.8,828.4 376.2,828.0 376.7,828.5 377.1,828.4 377.6,828.4 378.0,828.9 378.5,828.8 379.0,828.4 379.4,828.4 379.9,828.8 380.3,828.6 380.8,828.6 381.2,828.6 381.7,828.4 382.1,828.5 382.6,828.5 383.0,829.0 383.5,828.9 383.9,828.5 384.4,829.0 384.8,828.5 385.3,828.8 385.7,828.8 386.2,828.4 386.6,828.8 387.1,828.8 387.5,828.7 388.0,828.5 388.4,827.8 388.9,829.1 389.3,828.5 389.8,828.6 390.2,828.3 390.7,828.6 391.1,829.2 391.6,828.1 392.0,828.8 392.5,828.5 392.9,828.9 393.4,828.8 393.8,828.6 394.3,828.2 394.7,828.2 395.2,828.6 395.6,828.3 396.1,828.5 396.5,828.4 397.0,828.4 397.4,828.2 397.9,828.6 398.3,828.5 398.8,828.4 399.2,828.4 399.7,828.6 400.1,827.9 400.6,828.5 401.0,828.2 401.5,828.4 401.9,828.1 402.4,829.0 402.8,827.8 403.3,828.5 403.7,828.8 404.2,828.4 404.6,827.8 405.1,828.3 405.5,828.8 406.0,828.6 406.4,828.1 406.9,828.9 407.3,828.6 407.8,828.6 408.2,827.9 408.7,828.6 409.1,828.2 409.6,828.8 410.0,828.8 410.5,828.3 410.9,828.4 411.4,829.1 411.8,828.4 412.3,828.4 412.7,828.8 413.2,828.6 413.6,828.6 414.1,828.8 414.6,828.8 415.0,828.8 415.5,828.7 415.9,829.0 416.4,828.7 416.8,829.1 417.3,828.6 417.7,828.7 418.2,829.0 418.6,828.4 419.1,828.1 419.5,828.3 420.0,829.0 420.4,828.3 420.9,828.6 421.3,828.6 421.8,828.8 422.2,828.6 422.7,828.2 423.1,828.4 423.6,828.7 424.0,828.7 424.5,828.6 424.9,828.3 425.4,828.0 425.8,828.8 426.3,828.5 426.7,828.6 427.2,828.6 427.6,828.3 428.1,828.2 428.5,828.8 429.0,828.7 429.4,828.0 429.9,828.3 430.3,828.2 430.8,828.5 431.2,828.4 431.7,828.2 432.1,828.4 432.6,828.6 433.0,828.3 433.5,828.0 433.9,828.6 434.4,828.0 434.8,828.1 435.3,828.5 435.7,828.3 436.2,828.3 436.6,828.1 437.1,828.1 437.5,828.7 438.0,828.7 438.4,828.0 438.9,828.3 439.3,828.2 439.8,828.2 440.2,827.9 440.7,828.7 441.1,828.1 441.6,828.6 442.0,828.2 442.5,828.1 442.9,828.9 443.4,828.4 443.8,828.6 444.3,828.6 444.7,828.5 445.2,828.9 445.6,828.9 446.1,828.4 446.5,828.4 447.0,828.8 447.4,829.1 447.9,828.0 448.3,828.4 448.8,828.6 449.2,829.1 449.7,829.0 450.2,828.7 450.6,829.1 451.1,828.4 451.5,828.8 452.0,828.8 452.4,829.2 452.9,829.1 453.3,829.1 453.8,828.8 454.2,829.0 454.7,829.0 455.1,828.8 455.6,828.8 456.0,828.5 456.5,829.0 456.9,829.2 457.4,828.9 457.8,828.5 458.3,829.0 458.7,828.8 459.2,828.9 459.6,828.7 460.1,828.7 460.5,829.0 461.0,828.8 461.4,828.5 461.9,828.4 462.3,828.4 462.8,828.4 463.2,828.7 463.7,828.7 464.1,828.3 464.6,828.9 465.0,828.5 465.5,829.0 465.9,828.6 466.4,828.6 466.8,828.7 467.3,828.2 467.7,828.5 468.2,828.4 468.6,828.3 469.1,828.4 469.5,827.8 470.0,828.3 470.4,828.1 470.9,828.5 471.3,828.2 471.8,828.1 472.2,828.1 472.7,828.2 473.1,827.9 473.6,827.5 474.0,828.0 474.5,828.0 474.9,828.0 475.4,827.2 475.8,827.4 476.3,827.7 476.7,827.7 477.2,828.1 477.6,827.9 478.1,827.8 478.5,827.8 479.0,828.1 479.4,828.1 479.9,827.8 480.3,827.8 480.8,828.5 481.2,827.9 481.7,827.6 482.1,828.2 482.6,828.0 483.0,828.5 483.5,827.8 483.9,828.4 484.4,828.5 484.8,828.3 485.3,827.5 485.7,828.4 486.2,828.7 486.7,828.2 487.1,828.3 487.6,828.0 488.0,828.8 488.5,829.0 488.9,828.7 489.4,828.5 489.8,828.6 490.3,828.4 490.7,829.2 491.2,829.0 491.6,828.9 492.1,828.7 492.5,828.8 493.0,829.1 493.4,829.3 493.9,828.8 494.3,828.9 494.8,828.4 495.2,829.3 495.7,828.8 496.1,829.6 496.6,829.5 497.0,829.5 497.5,829.5 497.9,829.7 498.4,829.6 498.8,829.5 499.3,829.6 499.7,829.3 500.2,829.5 500.6,829.5 501.1,829.1 501.5,829.4 502.0,829.5 502.4,829.5 502.9,829.5 503.3,829.4 503.8,829.7 504.2,829.2 504.7,829.0 505.1,829.1 505.6,829.6 506.0,829.9 506.5,829.5 506.9,829.3 507.4,829.1 507.8,829.3 508.3,829.3 508.7,828.8 509.2,829.3 509.6,828.8 510.1,828.8 510.5,829.4 511.0,828.9 511.4,829.1 511.9,829.1 512.3,829.3 512.8,829.2 513.2,828.5 513.7,828.7 514.1,828.4 514.6,828.8 515.0,828.5 515.5,828.4 515.9,828.7 516.4,828.6 516.8,828.0 517.3,828.0 517.7,828.2 518.2,827.9 518.6,827.6 519.1,827.3 519.5,828.0 520.0,827.5 520.4,827.0 520.9,827.5 521.3,827.0 521.8,828.1" fill="none" stroke="#1c6c12" stroke-width="5.6" stroke-linejoin="round" stroke-linecap="round"/>
<polyline points="126.6,828.4 127.1,828.3 127.5,828.5 128.0,828.7 128.4,828.7 128.9,828.4 129.3,828.2 129.8,828.4 130.2,828.7 130.7,828.8 131.1,828.5 131.6,828.2 132.0,828.3 132.5,828.6 132.9,828.9 133.4,828.7 133.8,828.3 134.3,828.1 134.7,828.3 135.2,828.8 135.6,829.0 136.1,828.7 136.5,828.2 137.0,828.0 137.4,828.3 137.9,828.8 138.3,829.1 138.8,828.8 139.2,828.3 139.7,827.9 140.1,828.0 140.6,828.6 141.0,829.1 141.5,829.1 141.9,828.6 142.4,827.9 142.8,827.7 143.3,828.1 143.7,828.9 144.2,829.4 144.6,829.2 145.1,828.5 145.5,827.7 146.0,827.5 146.4,828.0 146.9,828.9 147.3,829.6 147.8,829.5 148.2,828.7 148.7,827.8 149.1,827.2 149.6,827.6 150.0,828.5 150.5,829.5 150.9,829.9 151.4,829.4 151.8,828.4 152.3,827.3 152.7,826.9 153.2,827.5 153.6,828.6 154.1,829.8 154.5,830.3 155.0,829.7 155.4,828.5 155.9,827.2 156.3,826.5 156.8,826.9 157.2,828.1 157.7,829.6 158.1,830.6 158.6,830.5 159.0,829.5 159.5,827.9 159.9,826.5 160.4,826.1 160.8,826.7 161.3,828.3 161.7,830.0 162.2,831.1 162.7,831.1 163.1,829.9 163.6,828.1 164.0,826.3 164.5,825.5 164.9,825.9 165.4,827.4 165.8,829.4 166.3,831.2 166.7,831.9 167.2,831.3 167.6,829.6 168.1,827.4 168.5,825.5 169.0,824.7 169.4,825.3 169.9,827.0 170.3,829.4 170.8,831.5 171.2,832.7 171.7,832.4 172.1,830.7 172.6,828.3 173.0,825.8 173.5,824.1 173.9,823.9 174.4,825.1 174.8,827.5 175.3,830.3 175.7,832.6 176.2,833.7 176.6,833.3 177.1,831.4 177.5,828.6 178.0,825.6 178.4,823.4 178.9,822.6 179.3,823.5 179.8,825.8 180.2,828.9 180.7,832.0 181.1,834.3 181.6,835.0 182.0,834.1 182.5,831.6 182.9,828.3 183.4,824.9 183.8,822.3 184.3,821.2 184.7,821.9 185.2,824.3 185.6,827.7 186.1,831.4 186.5,834.6 187.0,836.3 187.4,836.4 187.9,834.6 188.3,831.4 188.8,827.4 189.2,823.6 189.7,820.7 190.1,819.5 190.6,820.2 191.0,822.6 191.5,826.4 191.9,830.7 192.4,834.6 192.8,837.4 193.3,838.5 193.7,837.6 194.2,834.9 194.6,830.8 195.1,826.3 195.5,822.0 196.0,818.8 196.4,817.4 196.9,818.0 197.3,820.6 197.8,824.6 198.2,829.4 198.7,834.2 199.2,838.1 199.6,840.4 200.1,840.7 200.5,839.0 201.0,835.4 201.4,830.6 201.9,825.4 202.3,820.5 202.8,816.8 203.2,814.9 203.7,815.2 204.1,817.5 204.6,821.5 205.0,826.8 205.5,832.4 205.9,837.5 206.4,841.4 206.8,843.5 207.3,843.4 207.7,841.2 208.2,837.1 208.6,831.7 209.1,825.8 209.5,820.1 210.0,815.4 210.4,812.5 210.9,811.6 211.3,813.0 211.8,816.4 212.2,821.5 212.7,827.6 213.1,834.0 213.6,839.7 214.0,844.2 214.5,846.7 214.9,847.1 215.4,845.2 215.8,841.2 216.3,835.7 216.7,829.2 217.2,822.4 217.6,816.3 218.1,811.5 218.5,808.5 219.0,807.8 219.4,809.3 219.9,813.0 220.3,818.5 220.8,825.2 221.2,832.4 221.7,839.2 222.1,845.1 222.6,849.2 223.0,851.3 223.5,851.1 223.9,848.5 224.4,843.9 224.8,837.7 225.3,830.4 225.7,822.8 226.2,815.7 226.6,809.7 227.1,805.4 227.5,803.2 228.0,803.4 228.4,806.0 228.9,810.6 229.3,817.0 229.8,824.5 230.2,832.5 230.7,840.3 231.1,847.1 231.6,852.4 232.0,855.7 232.5,856.7 232.9,855.3 233.4,851.6 233.8,845.9 234.3,838.7 234.8,830.5 235.2,822.0 235.7,814.0 236.1,807.0 236.6,801.6 237.0,798.3 237.5,797.3 237.9,798.7 238.4,802.5 238.8,808.2 239.3,815.6 239.7,824.1 240.2,833.0 240.6,841.6 241.1,849.5 241.5,855.9 242.0,860.4 242.4,862.7 242.9,862.6 243.3,860.1 243.8,855.4 244.2,848.8 244.7,840.6 245.1,831.6 245.6,822.2 246.0,813.2 246.5,805.0 246.9,798.3 247.4,793.5 247.8,790.8 248.3,790.6 248.7,792.8 249.2,797.2 249.6,803.7 250.1,811.8 250.5,821.0 251.0,830.7 251.4,840.5 251.9,849.6 252.3,857.6 252.8,864.0 253.2,868.3 253.7,870.4 254.1,870.1 254.6,867.4 255.0,862.4 255.5,855.5 255.9,847.0 256.4,837.4 256.8,827.2 257.3,816.9 257.7,807.2 258.2,798.5 258.6,791.3 259.1,786.0 259.5,782.9 260.0,782.2 260.4,783.8 260.9,787.7 261.3,793.8 261.8,801.6 262.2,810.9 262.7,821.2 263.1,831.9 263.6,842.6 264.0,852.7 264.5,861.7 264.9,869.2 265.4,874.9 265.8,878.4 266.3,879.6 266.7,878.5 267.2,875.0 267.6,869.4 268.1,861.9 268.5,852.8 269.0,842.5 269.4,831.5 269.9,820.3 270.4,809.3 270.8,799.0 271.3,790.0 271.7,782.5 272.2,776.9 272.6,773.4 273.1,772.2 273.5,773.3 274.0,776.7 274.4,782.3 274.9,789.8 275.3,798.9 275.8,809.3 276.2,820.5 276.7,832.2 277.1,843.8 277.6,854.9 278.0,865.1 278.5,873.9 278.9,881.1 279.4,886.4 279.8,889.6 280.3,890.5 280.7,889.1 281.2,885.5 281.6,879.7 282.1,872.1 282.5,862.8 283.0,852.3 283.4,840.8 283.9,828.8 284.3,816.7 284.8,804.9 285.2,793.8 285.7,783.8 286.1,775.3 286.6,768.5 287.0,763.6 287.5,760.9 287.9,760.4 288.4,762.2 288.8,766.1 289.3,772.0 289.7,779.8 290.2,789.3 290.6,800.0 291.1,811.7 291.5,824.1 292.0,836.6 292.4,849.0 292.9,860.9 293.3,871.8 293.8,881.6 294.2,889.8 294.7,896.2 295.1,900.6 295.6,903.0 296.0,903.2 296.5,901.3 296.9,897.2 297.4,891.1 297.8,883.2 298.3,873.7 298.7,862.9 299.2,851.0 299.6,838.5 300.1,825.6 300.5,812.6 301.0,800.1 301.4,788.2 301.9,777.3 302.3,767.7 302.8,759.6 303.2,753.4 303.7,749.0 304.1,746.7 304.6,746.4 305.0,748.3 305.5,752.2 305.9,758.1 306.4,765.8 306.9,775.1 307.3,785.7 307.8,797.5 308.2,810.1 308.7,823.3 309.1,836.6 309.6,849.9 310.0,862.7 310.5,874.7 310.9,885.8 311.4,895.5 311.8,903.8 312.3,910.4 312.7,915.1 313.2,917.9 313.6,918.7 314.1,917.4 314.5,914.2 315.0,909.0 315.4,902.0 315.9,893.4 316.3,883.3 316.8,871.9 317.2,859.6 317.7,846.5 318.1,833.0 318.6,819.3 319.0,805.7 319.5,792.5 319.9,780.0 320.4,768.4 320.8,758.0 321.3,749.0 321.7,741.6 322.2,735.8 322.6,731.9 323.1,729.9 323.5,729.9 324.0,731.7 324.4,735.5 324.9,741.1 325.3,748.4 325.8,757.3 326.2,767.6 326.7,779.1 327.1,791.5 327.6,804.8 328.0,818.5 328.5,832.5 328.9,846.5 329.4,860.2 329.8,873.4 330.3,885.9 330.7,897.4 331.2,907.7 331.6,916.7 332.1,924.1 332.5,929.9 333.0,934.0 333.4,936.2 333.9,936.6 334.3,935.2 334.8,931.9 335.2,926.9 335.7,920.2 336.1,911.9 336.6,902.2 337.0,891.3 337.5,879.2 337.9,866.3 338.4,852.7 338.8,838.7 339.3,824.4 339.7,810.2 340.2,796.1 340.6,782.5 341.1,769.6 341.5,757.6 342.0,746.6 342.5,736.8 342.9,728.3 343.4,721.4 343.8,716.1 344.3,712.4 344.7,710.5 345.2,710.3 345.6,711.8 346.1,715.1 346.5,720.1 347.0,726.7 347.4,734.7 347.9,744.2 348.3,754.9 348.8,766.6 349.2,779.3 349.7,792.8 350.1,806.8 350.6,821.2 351.0,835.7 351.5,850.1 351.9,864.4 352.4,878.2 352.8,891.3 353.3,903.7 353.7,915.1 354.2,925.4 354.6,934.5 355.1,942.2 355.5,948.4 356.0,953.1 356.4,956.2 356.9,957.7 357.3,957.5 357.8,955.7 358.2,952.2 358.7,947.2 359.1,940.7 359.6,932.7 360.0,923.4 360.5,913.0 360.9,901.4 361.4,888.9 361.8,875.7 362.3,861.8 362.7,847.5 363.2,832.9 363.6,818.2 364.1,803.6 364.5,789.2 365.0,775.2 365.4,761.8 365.9,749.2 366.3,737.4 366.8,726.6 367.2,716.9 367.7,708.5 368.1,701.4 368.6,695.7 369.0,691.4 369.5,688.7 369.9,687.5 370.4,687.8 370.8,689.7 371.3,693.0 371.7,697.9 372.2,704.2 372.6,711.8 373.1,720.7 373.5,730.7 374.0,741.8 374.4,753.9 374.9,766.8 375.3,780.3 375.8,794.4 376.2,808.9 376.7,823.6 377.1,838.4 377.6,853.1 378.0,867.7 378.5,881.9 379.0,895.6 379.4,908.7 379.9,921.0 380.3,932.5 380.8,943.0 381.2,952.4 381.7,960.6 382.1,967.6 382.6,973.3 383.0,977.6 383.5,980.6 383.9,982.1 384.4,982.2 384.8,980.8 385.3,978.1 385.7,973.9 386.2,968.4 386.6,961.7 387.1,953.7 387.5,944.5 388.0,934.3 388.4,923.1 388.9,911.1 389.3,898.3 389.8,884.8 390.2,870.8 390.7,856.4 391.1,841.7 391.6,826.9 392.0,812.0 392.5,797.3 392.9,782.8 393.4,768.6 393.8,754.9 394.3,741.8 394.7,729.4 395.2,717.7 395.6,707.0 396.1,697.2 396.5,688.5 397.0,680.8 397.4,674.4 397.9,669.2 398.3,665.2 398.8,662.6 399.2,661.2 399.7,661.2 400.1,662.5 400.6,665.1 401.0,668.9 401.5,674.0 401.9,680.4 402.4,687.8 402.8,696.4 403.3,705.9 403.7,716.5 404.2,727.8 404.6,740.0 405.1,752.9 405.5,766.3 406.0,780.2 406.4,794.6 406.9,809.2 407.3,823.9 407.8,838.8 408.2,853.5 408.7,868.2 409.1,882.6 409.6,896.6 410.0,910.2 410.5,923.2 410.9,935.6 411.4,947.3 411.8,958.2 412.3,968.2 412.7,977.3 413.2,985.4 413.6,992.3 414.1,998.2 414.6,1003.0 415.0,1006.5 415.5,1008.9 415.9,1010.1 416.4,1010.2 416.8,1009.0 417.3,1006.6 417.7,1003.0 418.2,998.3 418.6,992.5 419.1,985.6 419.5,977.7 420.0,968.8 420.4,959.1 420.9,948.4 421.3,937.0 421.8,924.9 422.2,912.1 422.7,898.8 423.1,885.1 423.6,870.9 424.0,856.5 424.5,841.9 424.9,827.1 425.4,812.3 425.8,797.6 426.3,783.1 426.7,768.8 427.2,754.8 427.6,741.2 428.1,728.1 428.5,715.5 429.0,703.6 429.4,692.4 429.9,681.9 430.3,672.2 430.8,663.4 431.2,655.6 431.7,648.7 432.1,642.8 432.6,637.9 433.0,634.0 433.5,631.3 433.9,629.6 434.4,629.0 434.8,629.4 435.3,631.0 435.7,633.6 436.2,637.3 436.6,642.0 437.1,647.7 437.5,654.4 438.0,662.0 438.4,670.5 438.9,679.8 439.3,689.9 439.8,700.7 440.2,712.2 440.7,724.3 441.1,737.0 441.6,750.1 442.0,763.7 442.5,777.6 442.9,791.7 443.4,806.1 443.8,820.5 444.3,835.1 444.7,849.5 445.2,863.9 445.6,878.2 446.1,892.2 446.5,905.8 447.0,919.1 447.4,932.0 447.9,944.4 448.3,956.2 448.8,967.4 449.2,978.0 449.7,987.8 450.2,996.9 450.6,1005.2 451.1,1012.6 451.5,1019.2 452.0,1024.9 452.4,1029.6 452.9,1033.5 453.3,1036.3 453.8,1038.2 454.2,1039.2 454.7,1039.1 455.1,1038.1 455.6,1036.2 456.0,1033.2 456.5,1029.4 456.9,1024.6 457.4,1019.0 457.8,1012.4 458.3,1005.1 458.7,996.9 459.2,988.0 459.6,978.3 460.1,968.0 460.5,957.1 461.0,945.6 461.4,933.5 461.9,920.9 462.3,908.0 462.8,894.6 463.2,881.0 463.7,867.1 464.1,853.0 464.6,838.8 465.0,824.5 465.5,810.1 465.9,795.8 466.4,781.7 466.8,767.6 467.3,753.8 467.7,740.2 468.2,727.0 468.6,714.1 469.1,701.7 469.5,689.7 470.0,678.2 470.4,667.3 470.9,657.0 471.3,647.3 471.8,638.3 472.2,630.1 472.7,622.5 473.1,615.7 473.6,609.7 474.0,604.5 474.5,600.1 474.9,596.6 475.4,593.9 475.8,592.0 476.3,591.0 476.7,590.9 477.2,591.7 477.6,593.2 478.1,595.7 478.5,598.9 479.0,603.0 479.4,607.9 479.9,613.6 480.3,620.0 480.8,627.2 481.2,635.0 481.7,643.5 482.1,652.7 482.6,662.5 483.0,672.9 483.5,683.9 483.9,695.3 484.4,707.1 484.8,719.4 485.3,732.1 485.7,745.0 486.2,758.3 486.7,771.8 487.1,785.4 487.6,799.2 488.0,813.1 488.5,827.1 488.9,841.0 489.4,854.9 489.8,868.7 490.3,882.3 490.7,895.8 491.2,909.0 491.6,922.0 492.1,934.6 492.5,946.9 493.0,958.8 493.4,970.3 493.9,981.4 494.3,991.9 494.8,1001.9 495.2,1011.3 495.7,1020.2 496.1,1028.4 496.6,1036.0 497.0,1043.0 497.5,1049.2 497.9,1054.8 498.4,1059.7 498.8,1063.8 499.3,1067.2 499.7,1069.9 500.2,1071.8 500.6,1073.0 501.1,1073.4 501.5,1073.1 502.0,1072.0 502.4,1070.2 502.9,1067.6 503.3,1064.3 503.8,1060.3 504.2,1055.7 504.7,1050.3 505.1,1044.2 505.6,1037.5 506.0,1030.2 506.5,1022.3 506.9,1013.8 507.4,1004.8 507.8,995.2 508.3,985.2 508.7,974.6 509.2,963.7 509.6,952.3 510.1,940.6 510.5,928.5 511.0,916.1 511.4,903.5 511.9,890.6 512.3,877.5 512.8,864.3 513.2,851.0 513.7,837.5 514.1,824.0 514.6,810.5 515.0,797.1 515.5,783.7 515.9,770.3 516.4,757.1 516.8,744.1 517.3,731.3 517.7,718.7 518.2,706.3 518.6,694.3 519.1,682.6 519.5,671.2 520.0,660.2 520.4,649.7 520.9,639.5 521.3,629.8 521.8,620.6" fill="none" stroke="#000" stroke-width="4.6" stroke-linejoin="round" stroke-linecap="round" stroke-dasharray="8.7 12.2 0 12.3"/>
</g>
<g clip-path="url(#c3)">
<polyline points="1081.3,803.7 1081.8,807.4 1082.3,813.6 1082.8,816.4 1083.3,821.3 1083.8,824.6 1084.3,825.7 1084.8,825.2 1085.3,821.8 1085.8,815.9 1086.3,809.6 1086.8,804.5 1087.3,802.9 1087.8,802.6 1088.3,804.7 1088.8,810.3 1089.3,814.5 1089.8,820.7 1090.3,828.7 1090.8,830.6 1091.3,831.1 1091.8,828.0 1092.3,821.0 1092.8,816.2 1093.3,809.7 1093.8,803.3 1094.3,798.6 1094.8,798.8 1095.3,800.6 1095.8,803.5 1096.3,810.0 1096.8,817.0 1097.3,823.3 1097.8,831.0 1098.3,833.3 1098.8,835.1 1099.3,831.7 1099.8,827.7 1100.3,823.4 1100.8,813.7 1101.3,808.9 1101.8,800.0 1102.3,796.2 1102.8,794.8 1103.4,795.2 1103.9,797.1 1104.4,801.9 1104.9,809.4 1105.4,815.8 1105.9,825.5 1106.4,831.0 1106.9,836.2 1107.4,841.2 1107.9,839.5 1108.4,839.0 1108.9,835.8 1109.4,827.5 1109.9,819.4 1110.4,810.0 1110.9,803.5 1111.4,794.7 1111.9,789.5 1112.4,787.0 1112.9,786.3 1113.4,789.3 1113.9,794.7 1114.4,799.8 1114.9,807.2 1115.4,816.4 1115.9,825.4 1116.4,834.6 1116.9,838.8 1117.4,843.8 1117.9,847.9 1118.4,846.4 1118.9,843.4 1119.4,839.6 1119.9,832.1 1120.4,824.2 1120.9,817.8 1121.4,807.6 1121.9,798.3 1122.4,790.4 1122.9,784.0 1123.4,783.5 1123.9,779.8 1124.4,779.6 1124.9,781.9 1125.4,786.4 1125.9,795.9 1126.4,803.4 1126.9,813.1 1127.4,820.5 1127.9,831.7 1128.4,837.4 1128.9,844.7 1129.4,850.5 1129.9,856.7 1130.4,856.4 1130.9,854.0 1131.4,853.1 1131.9,846.8 1132.4,839.8 1132.9,830.6 1133.4,822.2 1133.9,812.6 1134.4,803.8 1134.9,794.3 1135.4,786.3 1135.9,778.6 1136.4,774.4 1136.9,769.9 1137.4,771.4 1137.9,769.3 1138.4,773.5 1138.9,777.0 1139.4,784.5 1139.9,791.6 1140.4,799.8 1140.9,811.6 1141.4,820.8 1141.9,830.8 1142.4,839.6 1142.9,849.8 1143.4,855.4 1143.9,861.1 1144.4,865.5 1144.9,866.9 1145.4,868.4 1145.9,863.5 1146.4,860.8 1146.9,853.9 1147.5,849.8 1148.0,841.9 1148.5,831.3 1149.0,823.5 1149.5,811.4 1150.0,802.3 1150.5,792.2 1151.0,782.6 1151.5,774.8 1152.0,766.2 1152.5,762.2 1153.0,760.5 1153.5,756.2 1154.0,758.4 1154.5,758.6 1155.0,763.3 1155.5,767.8 1156.0,772.0 1156.5,781.6 1157.0,790.5 1157.5,799.9 1158.0,809.7 1158.5,818.2 1159.0,831.2 1159.5,841.2 1160.0,848.7 1160.5,859.4 1161.0,865.6 1161.5,870.3 1162.0,876.3 1162.5,880.0 1163.0,882.0 1163.5,882.3 1164.0,880.4 1164.5,876.5 1165.0,870.7 1165.5,865.0 1166.0,859.3 1166.5,851.2 1167.0,840.5 1167.5,833.3 1168.0,821.6 1168.5,811.0 1169.0,801.4 1169.5,791.2 1170.0,780.1 1170.5,773.2 1171.0,764.3 1171.5,757.0 1172.0,750.4 1172.5,747.3 1173.0,741.5 1173.5,741.2 1174.0,740.8 1174.5,742.1 1175.0,745.0 1175.5,749.3 1176.0,752.4 1176.5,759.9 1177.0,767.7 1177.5,775.1 1178.0,786.1 1178.5,794.5 1179.0,805.4 1179.5,816.8 1180.0,825.6 1180.5,838.3 1181.0,846.2 1181.5,857.4 1182.0,865.0 1182.5,872.2 1183.0,880.3 1183.5,887.7 1184.0,892.2 1184.5,896.4 1185.0,899.8 1185.5,901.1 1186.0,899.9 1186.5,898.1 1187.0,897.9 1187.5,892.4 1188.0,886.8 1188.5,881.2 1189.0,875.3 1189.5,865.2 1190.0,858.8 1190.5,847.6 1191.0,836.7 1191.6,830.2 1192.1,817.4 1192.6,806.9 1193.1,796.5 1193.6,787.2 1194.1,776.8 1194.6,768.5 1195.1,758.1 1195.6,749.5 1196.1,743.4 1196.6,737.2 1197.1,731.2 1197.6,726.3 1198.1,722.8 1198.6,720.8 1199.1,719.5 1199.6,720.9 1200.1,723.5 1200.6,722.4 1201.1,724.9 1201.6,732.3 1202.1,736.9 1202.6,742.3 1203.1,748.8 1203.6,757.0 1204.1,765.0 1204.6,775.5 1205.1,784.7 1205.6,794.7 1206.1,805.9 1206.6,814.6 1207.1,825.6 1207.6,835.6 1208.1,847.2 1208.6,855.7 1209.1,867.3 1209.6,874.9 1210.1,886.5 1210.6,892.7 1211.1,898.0 1211.6,905.6 1212.1,910.4 1212.6,916.9 1213.1,917.3 1213.6,921.0 1214.1,923.4 1214.6,923.7 1215.1,923.6 1215.6,921.3 1216.1,920.4 1216.6,919.0 1217.1,913.7 1217.6,907.3 1218.1,902.3 1218.6,896.8 1219.1,888.6 1219.6,881.3 1220.1,872.4 1220.6,865.7 1221.1,855.7 1221.6,844.4 1222.1,835.3 1222.6,824.6 1223.1,812.7 1223.6,804.8 1224.1,794.0 1224.6,784.7 1225.1,774.9 1225.6,764.8 1226.1,756.9 1226.6,748.8 1227.1,736.9 1227.6,730.6 1228.1,722.2 1228.6,716.7 1229.1,710.9 1229.6,705.2 1230.1,700.8 1230.6,699.2 1231.1,694.0 1231.6,694.3 1232.1,692.0 1232.6,689.4 1233.1,692.5 1233.6,692.3 1234.1,696.6 1234.6,698.6 1235.1,702.9 1235.7,707.1 1236.2,713.6 1236.7,719.5 1237.2,724.8 1237.7,733.8 1238.2,740.7 1238.7,747.3 1239.2,757.2 1239.7,766.4 1240.2,775.9 1240.7,784.1 1241.2,794.4 1241.7,803.7 1242.2,814.1 1242.7,822.0 1243.2,834.3 1243.7,845.7 1244.2,853.4 1244.7,863.1 1245.2,872.2 1245.7,883.1 1246.2,888.9 1246.7,898.4 1247.2,906.3 1247.7,915.2 1248.2,920.0 1248.7,926.9 1249.2,931.2 1249.7,938.2 1250.2,943.6 1250.7,946.1 1251.2,950.4 1251.7,951.6 1252.2,955.0 1252.7,955.2 1253.2,955.8 1253.7,955.4 1254.2,955.0 1254.7,953.7 1255.2,950.8 1255.7,948.4 1256.2,944.2 1256.7,940.5 1257.2,937.8 1257.7,930.3 1258.2,923.0 1258.7,917.8 1259.2,910.6 1259.7,903.5 1260.2,896.8 1260.7,889.7 1261.2,879.1 1261.7,870.2 1262.2,861.8 1262.7,852.8 1263.2,843.5 1263.7,834.4 1264.2,824.6 1264.7,815.2 1265.2,805.3 1265.7,796.9 1266.2,787.1 1266.7,776.4 1267.2,768.0 1267.7,761.0 1268.2,749.5 1268.7,743.3 1269.2,730.7 1269.7,723.8 1270.2,716.1 1270.7,710.1 1271.2,703.5 1271.7,696.1 1272.2,689.7 1272.7,684.9 1273.2,678.7 1273.7,673.5 1274.2,669.5 1274.7,667.5 1275.2,665.5 1275.7,660.7 1276.2,659.4 1276.7,656.8 1277.2,654.7 1277.7,654.4 1278.2,655.9 1278.7,655.9 1279.2,656.6 1279.8,660.1 1280.3,662.2 1280.8,664.5 1281.3,668.8 1281.8,673.1 1282.3,677.7 1282.8,681.8 1283.3,687.7 1283.8,691.9 1284.3,699.2 1284.8,703.8 1285.3,710.9 1285.8,720.5 1286.3,725.6 1286.8,734.9 1287.3,741.1 1287.8,750.2 1288.3,759.2 1288.8,767.1 1289.3,777.1 1289.8,785.2 1290.3,794.1 1290.8,803.7 1291.3,812.3 1291.8,822.9 1292.3,830.5 1292.8,841.3 1293.3,848.6 1293.8,857.7 1294.3,866.3 1294.8,876.3 1295.3,881.3 1295.8,892.9 1296.3,900.7 1296.8,909.5 1297.3,915.1 1297.8,924.4 1298.3,930.1 1298.8,938.9 1299.3,944.2 1299.8,951.1 1300.3,955.7 1300.8,962.4 1301.3,968.1 1301.8,971.6 1302.3,977.6 1302.8,981.3 1303.3,983.1 1303.8,988.9 1304.3,989.0 1304.8,992.4 1305.3,994.8 1305.8,995.1 1306.3,995.7 1306.8,997.4 1307.3,997.1 1307.8,995.9 1308.3,995.2 1308.8,994.8 1309.3,993.9 1309.8,992.1 1310.3,989.3 1310.8,985.3 1311.3,982.2 1311.8,978.9 1312.3,973.8 1312.8,971.2 1313.3,966.6 1313.8,961.6 1314.3,954.0 1314.8,952.3 1315.3,944.1 1315.8,937.7 1316.3,931.6 1316.8,922.6 1317.3,916.8 1317.8,910.0 1318.3,904.2 1318.8,895.2 1319.3,888.3 1319.8,880.0 1320.3,871.8 1320.8,864.3 1321.3,854.9 1321.8,845.5 1322.3,837.7 1322.8,830.0 1323.4,823.6 1323.9,812.0 1324.4,803.5 1324.9,796.2 1325.4,788.0 1325.9,778.4 1326.4,771.4 1326.9,761.5 1327.4,755.1 1327.9,746.9 1328.4,737.9 1328.9,731.5 1329.4,722.4 1329.9,714.3 1330.4,708.7 1330.9,699.4 1331.4,693.8 1331.9,686.0 1332.4,679.8 1332.9,674.1 1333.4,668.1 1333.9,663.5 1334.4,656.9 1334.9,651.7 1335.4,644.3 1335.9,640.2 1336.4,638.2 1336.9,631.9 1337.4,628.7 1337.9,625.7 1338.4,621.7 1338.9,618.5 1339.4,617.3 1339.9,614.7 1340.4,612.4 1340.9,611.9 1341.4,609.5 1341.9,608.8 1342.4,608.8 1342.9,608.7 1343.4,607.6 1343.9,607.4 1344.4,608.6 1344.9,610.8 1345.4,610.5 1345.9,612.7 1346.4,614.3 1346.9,615.9 1347.4,620.5 1347.9,622.6 1348.4,626.2 1348.9,629.8 1349.4,630.7 1349.9,635.7 1350.4,642.5 1350.9,644.9 1351.4,650.5 1351.9,653.8 1352.4,660.0 1352.9,665.7 1353.4,671.0 1353.9,676.6 1354.4,682.9 1354.9,689.4 1355.4,695.7 1355.9,701.6 1356.4,709.9 1356.9,715.6 1357.4,722.7 1357.9,730.2 1358.4,736.2 1358.9,745.6 1359.4,752.2 1359.9,760.2 1360.4,766.5 1360.9,775.1 1361.4,782.4 1361.9,789.8 1362.4,799.5 1362.9,805.3 1363.4,814.2 1363.9,821.5 1364.4,829.1 1364.9,836.0 1365.4,843.7 1365.9,850.4 1366.4,859.5 1366.9,867.7 1367.5,875.2 1368.0,881.4 1368.5,887.8 1369.0,896.2 1369.5,904.2 1370.0,910.3 1370.5,917.2 1371.0,924.1 1371.5,931.4 1372.0,939.6 1372.5,944.0 1373.0,948.5 1373.5,955.3 1374.0,963.5 1374.5,967.0 1375.0,974.2 1375.5,975.8 1376.0,982.6 1376.5,988.8 1377.0,991.6 1377.5,997.6 1378.0,1000.6 1378.5,1005.2 1379.0,1010.2 1379.5,1012.1 1380.0,1017.5 1380.5,1018.1 1381.0,1022.4 1381.5,1026.2 1382.0,1029.5 1382.5,1028.5 1383.0,1030.8 1383.5,1035.3 1384.0,1034.1 1384.5,1037.0 1385.0,1038.6 1385.5,1039.4 1386.0,1040.4 1386.5,1039.2 1387.0,1040.8 1387.5,1043.1 1388.0,1039.5 1388.5,1040.7 1389.0,1042.5 1389.5,1041.3 1390.0,1041.2 1390.5,1039.5 1391.0,1038.1 1391.5,1036.9 1392.0,1036.3 1392.5,1034.8 1393.0,1031.3 1393.5,1030.1 1394.0,1025.5 1394.5,1025.9 1395.0,1021.6 1395.5,1019.5 1396.0,1017.1 1396.5,1011.8 1397.0,1009.5 1397.5,1006.8 1398.0,1002.5 1398.5,997.1 1399.0,995.1 1399.5,988.3 1400.0,984.4 1400.5,980.7 1401.0,974.3 1401.5,969.0 1402.0,965.0 1402.5,960.1 1403.0,953.1 1403.5,948.0 1404.0,944.7 1404.5,938.3 1405.0,932.4 1405.5,926.6 1406.0,921.6 1406.5,913.1 1407.0,907.6 1407.5,901.3 1408.0,893.6 1408.5,889.0 1409.0,881.9 1409.5,874.9 1410.0,868.9 1410.5,861.9 1411.0,854.2 1411.6,848.1 1412.1,839.9 1412.6,835.0 1413.1,827.1 1413.6,821.8 1414.1,813.5 1414.6,807.1 1415.1,798.0 1415.6,791.6 1416.1,784.9 1416.6,776.6 1417.1,770.0 1417.6,763.8 1418.1,758.2 1418.6,752.0 1419.1,743.8 1419.6,737.2 1420.1,730.7 1420.6,723.6 1421.1,718.2 1421.6,708.5 1422.1,704.5 1422.6,697.5 1423.1,689.9 1423.6,685.6 1424.1,676.8 1424.6,670.6 1425.1,665.7 1425.6,660.4 1426.1,653.9 1426.6,649.4 1427.1,640.5 1427.6,636.1 1428.1,631.4 1428.6,626.1 1429.1,619.4 1429.6,613.3 1430.1,611.0 1430.6,605.3 1431.1,601.7 1431.6,594.6 1432.1,590.6 1432.6,584.1 1433.1,582.2 1433.6,578.4 1434.1,574.7 1434.6,569.3 1435.1,568.1 1435.6,562.2 1436.1,559.3 1436.6,556.8 1437.1,554.2 1437.6,549.3 1438.1,545.8 1438.6,545.4 1439.1,542.0 1439.6,538.6 1440.1,538.8 1440.6,536.5 1441.1,535.6 1441.6,532.9 1442.1,531.4 1442.6,530.5 1443.1,529.7 1443.6,529.5 1444.1,528.5 1444.6,527.6 1445.1,525.8 1445.6,526.9 1446.1,527.4 1446.6,526.3 1447.1,526.9 1447.6,528.8 1448.1,529.5 1448.6,529.2 1449.1,530.6 1449.6,533.1 1450.1,533.5 1450.6,535.4 1451.1,536.0 1451.6,539.9 1452.1,540.2 1452.6,542.9 1453.1,546.7 1453.6,547.1 1454.1,549.9 1454.6,554.9 1455.1,554.6 1455.7,560.8 1456.2,563.8 1456.7,566.5 1457.2,568.9 1457.7,572.7 1458.2,577.1 1458.7,579.4 1459.2,584.4 1459.7,587.5 1460.2,590.2 1460.7,597.2 1461.2,604.4 1461.7,606.8 1462.2,612.0 1462.7,615.6 1463.2,620.4 1463.7,626.7 1464.2,631.6 1464.7,635.9 1465.2,641.0 1465.7,648.7 1466.2,650.5 1466.7,656.9 1467.2,662.4 1467.7,667.7 1468.2,674.7 1468.7,679.5 1469.2,684.2 1469.7,690.0 1470.2,696.6 1470.7,703.3 1471.2,709.8 1471.7,713.8 1472.2,720.7 1472.7,727.8 1473.2,735.8 1473.7,740.7 1474.2,748.1 1474.7,751.1 1475.2,758.6 1475.7,765.9 1476.2,771.8 1476.7,775.3 1477.2,783.1" fill="none" stroke="#ff0000" stroke-width="6.0" stroke-linejoin="round" stroke-linecap="round"/>
<polyline points="1081.3,815.5 1081.8,814.5 1082.3,816.1 1082.8,817.3 1083.3,816.0 1083.8,814.2 1084.3,815.2 1084.8,816.5 1085.3,816.4 1085.8,815.1 1086.3,813.5 1086.8,815.4 1087.3,815.4 1087.8,811.6 1088.3,813.6 1088.8,813.0 1089.3,815.3 1089.8,814.9 1090.3,817.8 1090.8,817.0 1091.3,815.9 1091.8,816.0 1092.3,816.8 1092.8,814.4 1093.3,814.9 1093.8,814.8 1094.3,812.1 1094.8,811.0 1095.3,811.9 1095.8,814.7 1096.3,813.6 1096.8,815.0 1097.3,817.4 1097.8,820.5 1098.3,817.5 1098.8,817.9 1099.3,818.0 1099.8,819.5 1100.3,818.2 1100.8,814.2 1101.3,813.0 1101.8,812.1 1102.3,811.8 1102.8,810.7 1103.4,811.6 1103.9,811.9 1104.4,813.5 1104.9,813.7 1105.4,815.9 1105.9,816.1 1106.4,817.9 1106.9,820.6 1107.4,818.6 1107.9,821.8 1108.4,819.7 1108.9,818.1 1109.4,816.5 1109.9,818.4 1110.4,813.3 1110.9,811.2 1111.4,809.4 1111.9,811.9 1112.4,809.6 1112.9,808.8 1113.4,809.6 1113.9,808.8 1114.4,812.4 1114.9,812.3 1115.4,815.1 1115.9,819.3 1116.4,820.8 1116.9,821.9 1117.4,822.5 1117.9,822.3 1118.4,823.6 1118.9,821.9 1119.4,823.3 1119.9,823.1 1120.4,818.2 1120.9,815.1 1121.4,813.5 1121.9,811.8 1122.4,808.3 1122.9,805.0 1123.4,806.0 1123.9,806.1 1124.4,806.3 1124.9,804.1 1125.4,807.6 1125.9,808.8 1126.4,810.5 1126.9,813.2 1127.4,818.0 1127.9,818.8 1128.4,821.4 1128.9,823.9 1129.4,825.0 1129.9,827.8 1130.4,827.7 1130.9,828.0 1131.4,825.8 1131.9,825.7 1132.4,822.5 1132.9,821.6 1133.4,817.7 1133.9,814.9 1134.4,811.6 1134.9,808.4 1135.4,806.0 1135.9,803.8 1136.4,803.9 1136.9,799.5 1137.4,800.8 1137.9,800.6 1138.4,802.0 1138.9,801.7 1139.4,805.8 1139.9,806.9 1140.4,809.3 1140.9,812.1 1141.4,816.0 1141.9,820.0 1142.4,825.2 1142.9,825.5 1143.4,828.2 1143.9,830.7 1144.4,832.2 1144.9,833.7 1145.4,834.5 1145.9,832.2 1146.4,830.8 1146.9,831.3 1147.5,826.7 1148.0,824.5 1148.5,820.4 1149.0,817.4 1149.5,812.7 1150.0,809.0 1150.5,805.5 1151.0,804.3 1151.5,798.9 1152.0,797.0 1152.5,796.1 1153.0,792.7 1153.5,794.0 1154.0,791.5 1154.5,791.2 1155.0,794.7 1155.5,795.1 1156.0,798.0 1156.5,800.8 1157.0,806.4 1157.5,808.2 1158.0,812.7 1158.5,816.3 1159.0,821.3 1159.5,824.3 1160.0,829.0 1160.5,832.2 1161.0,834.7 1161.5,838.6 1162.0,839.8 1162.5,842.1 1163.0,842.6 1163.5,843.9 1164.0,842.0 1164.5,840.3 1165.0,839.7 1165.5,836.3 1166.0,833.6 1166.5,831.7 1167.0,826.2 1167.5,820.9 1168.0,818.3 1168.5,815.1 1169.0,808.4 1169.5,804.7 1170.0,797.8 1170.5,795.7 1171.0,791.9 1171.5,789.3 1172.0,785.6 1172.5,784.3 1173.0,783.0 1173.5,781.2 1174.0,781.8 1174.5,780.0 1175.0,783.6 1175.5,784.2 1176.0,787.2 1176.5,790.9 1177.0,791.2 1177.5,799.0 1178.0,799.6 1178.5,807.2 1179.0,810.4 1179.5,813.2 1180.0,822.7 1180.5,826.9 1181.0,829.1 1181.5,834.9 1182.0,840.0 1182.5,843.5 1183.0,848.1 1183.5,850.1 1184.0,851.3 1184.5,855.3 1185.0,856.1 1185.5,855.8 1186.0,855.1 1186.5,857.3 1187.0,855.2 1187.5,854.3 1188.0,852.0 1188.5,848.8 1189.0,845.6 1189.5,842.8 1190.0,838.7 1190.5,832.7 1191.0,826.9 1191.6,820.5 1192.1,817.0 1192.6,811.2 1193.1,805.0 1193.6,799.6 1194.1,795.2 1194.6,790.2 1195.1,783.6 1195.6,781.5 1196.1,777.7 1196.6,775.4 1197.1,770.3 1197.6,768.5 1198.1,764.4 1198.6,765.3 1199.1,763.4 1199.6,763.2 1200.1,763.0 1200.6,767.1 1201.1,765.9 1201.6,769.7 1202.1,772.6 1202.6,776.2 1203.1,780.1 1203.6,784.2 1204.1,790.9 1204.6,792.9 1205.1,798.6 1205.6,805.1 1206.1,809.8 1206.6,813.2 1207.1,820.9 1207.6,827.4 1208.1,831.0 1208.6,839.1 1209.1,843.8 1209.6,849.3 1210.1,853.8 1210.6,857.3 1211.1,861.6 1211.6,866.6 1212.1,869.2 1212.6,871.7 1213.1,874.4 1213.6,875.7 1214.1,877.6 1214.6,878.2 1215.1,877.4 1215.6,877.9 1216.1,875.3 1216.6,874.3 1217.1,872.8 1217.6,869.8 1218.1,866.5 1218.6,862.5 1219.1,858.1 1219.6,854.0 1220.1,849.8 1220.6,842.3 1221.1,837.4 1221.6,832.6 1222.1,825.9 1222.6,820.6 1223.1,815.1 1223.6,808.7 1224.1,800.0 1224.6,795.7 1225.1,789.7 1225.6,785.4 1226.1,778.8 1226.6,771.8 1227.1,768.6 1227.6,763.1 1228.1,758.5 1228.6,755.1 1229.1,750.5 1229.6,748.7 1230.1,745.7 1230.6,744.5 1231.1,739.4 1231.6,740.5 1232.1,739.9 1232.6,738.3 1233.1,740.4 1233.6,740.7 1234.1,742.7 1234.6,743.6 1235.1,746.2 1235.7,748.0 1236.2,751.8 1236.7,755.8 1237.2,759.4 1237.7,763.6 1238.2,768.7 1238.7,772.2 1239.2,777.8 1239.7,783.8 1240.2,790.9 1240.7,795.2 1241.2,803.1 1241.7,807.8 1242.2,814.3 1242.7,821.2 1243.2,827.8 1243.7,834.0 1244.2,837.4 1244.7,845.9 1245.2,851.8 1245.7,856.5 1246.2,862.6 1246.7,867.4 1247.2,874.8 1247.7,879.5 1248.2,879.6 1248.7,887.2 1249.2,891.2 1249.7,894.2 1250.2,896.4 1250.7,901.3 1251.2,902.0 1251.7,904.1 1252.2,904.8 1252.7,906.2 1253.2,907.3 1253.7,907.7 1254.2,908.8 1254.7,904.5 1255.2,905.6 1255.7,902.8 1256.2,898.5 1256.7,898.0 1257.2,894.0 1257.7,891.4 1258.2,886.7 1258.7,883.3 1259.2,879.4 1259.7,872.8 1260.2,869.4 1260.7,865.2 1261.2,858.7 1261.7,852.1 1262.2,847.8 1262.7,839.8 1263.2,833.6 1263.7,825.9 1264.2,822.3 1264.7,814.5 1265.2,810.3 1265.7,802.6 1266.2,795.6 1266.7,788.9 1267.2,783.0 1267.7,776.8 1268.2,771.2 1268.7,765.1 1269.2,758.5 1269.7,752.7 1270.2,747.3 1270.7,741.8 1271.2,736.7 1271.7,735.1 1272.2,729.6 1272.7,725.2 1273.2,722.0 1273.7,717.0 1274.2,714.3 1274.7,712.5 1275.2,710.1 1275.7,707.0 1276.2,707.1 1276.7,705.9 1277.2,704.0 1277.7,704.0 1278.2,703.1 1278.7,704.6 1279.2,705.0 1279.8,707.4 1280.3,709.3 1280.8,710.3 1281.3,715.2 1281.8,714.8 1282.3,717.1 1282.8,721.3 1283.3,725.2 1283.8,727.8 1284.3,733.1 1284.8,736.6 1285.3,740.1 1285.8,746.6 1286.3,751.6 1286.8,757.4 1287.3,763.3 1287.8,769.1 1288.3,775.2 1288.8,780.3 1289.3,789.2 1289.8,794.2 1290.3,799.7 1290.8,807.7 1291.3,813.5 1291.8,820.6 1292.3,826.0 1292.8,832.2 1293.3,838.1 1293.8,845.5 1294.3,853.1 1294.8,858.5 1295.3,864.4 1295.8,869.6 1296.3,879.1 1296.8,882.4 1297.3,890.3 1297.8,893.2 1298.3,898.7 1298.8,903.8 1299.3,908.2 1299.8,913.3 1300.3,918.7 1300.8,921.8 1301.3,924.8 1301.8,929.7 1302.3,932.9 1302.8,937.1 1303.3,937.4 1303.8,941.5 1304.3,943.8 1304.8,945.3 1305.3,947.2 1305.8,947.8 1306.3,947.1 1306.8,948.1 1307.3,947.7 1307.8,947.5 1308.3,949.4 1308.8,947.3 1309.3,945.3 1309.8,943.1 1310.3,945.1 1310.8,943.2 1311.3,939.0 1311.8,937.3 1312.3,935.1 1312.8,930.6 1313.3,928.4 1313.8,926.2 1314.3,920.1 1314.8,915.9 1315.3,911.0 1315.8,906.1 1316.3,902.1 1316.8,897.6 1317.3,892.8 1317.8,888.5 1318.3,881.8 1318.8,874.7 1319.3,869.2 1319.8,861.9 1320.3,858.1 1320.8,853.6 1321.3,844.8 1321.8,838.3 1322.3,834.1 1322.8,828.1 1323.4,819.9 1323.9,812.9 1324.4,808.2 1324.9,801.0 1325.4,794.9 1325.9,788.9 1326.4,782.6 1326.9,774.8 1327.4,769.0 1327.9,763.1 1328.4,758.9 1328.9,748.5 1329.4,745.3 1329.9,738.7 1330.4,734.0 1330.9,726.9 1331.4,723.4 1331.9,716.5 1332.4,711.7 1332.9,705.7 1333.4,703.0 1333.9,698.0 1334.4,693.2 1334.9,686.8 1335.4,686.4 1335.9,680.9 1336.4,678.3 1336.9,674.1 1337.4,670.7 1337.9,668.4 1338.4,665.7 1338.9,663.4 1339.4,662.2 1339.9,659.9 1340.4,659.8 1340.9,657.2 1341.4,656.5 1341.9,655.1 1342.4,653.6 1342.9,653.6 1343.4,653.4 1343.9,653.0 1344.4,656.9 1344.9,654.8 1345.4,656.1 1345.9,657.4 1346.4,660.0 1346.9,659.8 1347.4,661.1 1347.9,663.3 1348.4,666.8 1348.9,668.6 1349.4,671.2 1349.9,673.3 1350.4,677.1 1350.9,681.6 1351.4,685.2 1351.9,689.0 1352.4,692.9 1352.9,697.8 1353.4,700.9 1353.9,706.9 1354.4,711.7 1354.9,715.4 1355.4,721.3 1355.9,726.0 1356.4,733.1 1356.9,735.6 1357.4,741.9 1357.9,747.6 1358.4,752.7 1358.9,758.8 1359.4,765.6 1359.9,768.9 1360.4,777.4 1360.9,782.0 1361.4,787.3 1361.9,795.9 1362.4,801.4 1362.9,808.5 1363.4,812.8 1363.9,820.4 1364.4,827.3 1364.9,831.1 1365.4,837.7 1365.9,845.6 1366.4,849.6 1366.9,856.7 1367.5,860.1 1368.0,867.1 1368.5,875.2 1369.0,880.7 1369.5,887.0 1370.0,891.7 1370.5,897.3 1371.0,902.0 1371.5,908.0 1372.0,914.8 1372.5,919.3 1373.0,922.0 1373.5,927.2 1374.0,933.2 1374.5,937.8 1375.0,942.3 1375.5,946.4 1376.0,952.3 1376.5,953.8 1377.0,959.2 1377.5,962.1 1378.0,968.3 1378.5,968.9 1379.0,971.0 1379.5,977.6 1380.0,976.8 1380.5,980.5 1381.0,984.2 1381.5,987.4 1382.0,986.9 1382.5,989.7 1383.0,991.2 1383.5,993.7 1384.0,995.7 1384.5,995.2 1385.0,998.1 1385.5,997.2 1386.0,1000.4 1386.5,1000.2 1387.0,1001.1 1387.5,998.7 1388.0,1002.0 1388.5,1001.5 1389.0,999.7 1389.5,999.9 1390.0,997.5 1390.5,997.2 1391.0,997.7 1391.5,996.6 1392.0,998.0 1392.5,995.7 1393.0,993.7 1393.5,991.9 1394.0,991.3 1394.5,988.8 1395.0,986.6 1395.5,982.4 1396.0,980.5 1396.5,978.6 1397.0,975.8 1397.5,972.3 1398.0,970.2 1398.5,966.5 1399.0,964.6 1399.5,958.7 1400.0,954.7 1400.5,951.5 1401.0,947.5 1401.5,943.5 1402.0,937.7 1402.5,935.2 1403.0,932.3 1403.5,927.6 1404.0,921.2 1404.5,916.1 1405.0,911.6 1405.5,906.6 1406.0,902.2 1406.5,898.8 1407.0,892.9 1407.5,888.7 1408.0,882.0 1408.5,877.6 1409.0,870.6 1409.5,865.4 1410.0,861.6 1410.5,853.3 1411.0,847.6 1411.6,844.1 1412.1,836.8 1412.6,830.4 1413.1,825.7 1413.6,818.7 1414.1,813.5 1414.6,806.8 1415.1,801.8 1415.6,796.3 1416.1,789.7 1416.6,783.6 1417.1,778.3 1417.6,773.1 1418.1,767.6 1418.6,761.4 1419.1,755.8 1419.6,749.2 1420.1,743.5 1420.6,738.1 1421.1,732.3 1421.6,726.5 1422.1,719.6 1422.6,714.4 1423.1,710.7 1423.6,704.3 1424.1,699.7 1424.6,694.2 1425.1,689.1 1425.6,684.4 1426.1,680.1 1426.6,676.2 1427.1,668.6 1427.6,662.8 1428.1,660.2 1428.6,654.1 1429.1,650.5 1429.6,645.4 1430.1,642.1 1430.6,637.3 1431.1,633.1 1431.6,631.3 1432.1,624.8 1432.6,621.3 1433.1,620.0 1433.6,613.3 1434.1,610.5 1434.6,607.0 1435.1,603.6 1435.6,601.3 1436.1,599.0 1436.6,595.6 1437.1,592.9 1437.6,587.7 1438.1,585.6 1438.6,585.7 1439.1,583.4 1439.6,580.7 1440.1,578.6 1440.6,578.1 1441.1,576.8 1441.6,572.4 1442.1,571.9 1442.6,573.4 1443.1,572.6 1443.6,570.7 1444.1,568.9 1444.6,568.0 1445.1,568.7 1445.6,569.9 1446.1,568.1 1446.6,567.9 1447.1,568.8 1447.6,569.8 1448.1,569.4 1448.6,570.8 1449.1,572.7 1449.6,572.5 1450.1,575.1 1450.6,574.1 1451.1,576.1 1451.6,579.1 1452.1,579.6 1452.6,580.4 1453.1,585.8 1453.6,585.8 1454.1,586.2 1454.6,591.8 1455.1,592.9 1455.7,596.7 1456.2,598.0 1456.7,603.2 1457.2,605.3 1457.7,607.3 1458.2,609.7 1458.7,612.7 1459.2,616.0 1459.7,618.8 1460.2,622.8 1460.7,626.4 1461.2,631.9 1461.7,634.9 1462.2,635.5 1462.7,640.5 1463.2,646.1 1463.7,650.4 1464.2,654.4 1464.7,660.2 1465.2,662.3 1465.7,669.2 1466.2,673.5 1466.7,675.9 1467.2,685.0 1467.7,687.3 1468.2,694.3 1468.7,698.2 1469.2,702.6 1469.7,707.9 1470.2,712.5 1470.7,718.6 1471.2,723.1 1471.7,729.5 1472.2,734.0 1472.7,740.3 1473.2,743.6 1473.7,751.0 1474.2,754.4 1474.7,761.0 1475.2,766.4 1475.7,770.4 1476.2,777.1 1476.7,784.7 1477.2,787.8" fill="none" stroke="#ff8000" stroke-width="6.0" stroke-linejoin="round" stroke-linecap="round"/>
<polyline points="1081.3,818.0 1081.8,814.8 1082.3,815.6 1082.8,816.8 1083.3,815.5 1083.8,816.0 1084.3,813.6 1084.8,816.1 1085.3,813.5 1085.8,813.9 1086.3,815.8 1086.8,815.8 1087.3,813.5 1087.8,815.0 1088.3,814.8 1088.8,815.4 1089.3,816.6 1089.8,816.0 1090.3,816.8 1090.8,817.5 1091.3,816.2 1091.8,814.0 1092.3,813.9 1092.8,815.4 1093.3,814.9 1093.8,814.3 1094.3,813.2 1094.8,814.2 1095.3,815.1 1095.8,815.2 1096.3,813.9 1096.8,812.7 1097.3,816.4 1097.8,818.2 1098.3,815.4 1098.8,816.4 1099.3,816.1 1099.8,814.8 1100.3,815.7 1100.8,816.7 1101.3,816.9 1101.8,814.5 1102.3,815.4 1102.8,813.7 1103.4,815.3 1103.9,814.5 1104.4,816.0 1104.9,815.3 1105.4,815.9 1105.9,815.3 1106.4,815.0 1106.9,817.0 1107.4,817.9 1107.9,815.0 1108.4,816.6 1108.9,816.0 1109.4,815.6 1109.9,814.1 1110.4,813.9 1110.9,813.7 1111.4,813.0 1111.9,814.3 1112.4,813.7 1112.9,813.2 1113.4,813.1 1113.9,813.5 1114.4,813.7 1114.9,814.7 1115.4,815.9 1115.9,817.9 1116.4,816.1 1116.9,816.9 1117.4,818.9 1117.9,817.7 1118.4,817.9 1118.9,818.0 1119.4,819.6 1119.9,818.3 1120.4,816.9 1120.9,813.7 1121.4,815.4 1121.9,814.0 1122.4,814.0 1122.9,812.7 1123.4,811.3 1123.9,813.6 1124.4,814.4 1124.9,811.1 1125.4,812.2 1125.9,813.6 1126.4,812.9 1126.9,813.9 1127.4,818.2 1127.9,817.3 1128.4,817.0 1128.9,819.7 1129.4,820.0 1129.9,819.2 1130.4,820.6 1130.9,821.5 1131.4,820.7 1131.9,820.7 1132.4,817.9 1132.9,819.3 1133.4,815.2 1133.9,816.7 1134.4,813.7 1134.9,814.0 1135.4,811.6 1135.9,809.3 1136.4,808.4 1136.9,807.7 1137.4,808.9 1137.9,808.7 1138.4,809.0 1138.9,809.2 1139.4,811.2 1139.9,810.8 1140.4,812.9 1140.9,813.5 1141.4,815.7 1141.9,817.0 1142.4,819.9 1142.9,820.9 1143.4,823.0 1143.9,823.0 1144.4,823.5 1144.9,822.9 1145.4,825.1 1145.9,820.2 1146.4,823.1 1146.9,820.9 1147.5,820.0 1148.0,822.3 1148.5,818.4 1149.0,814.9 1149.5,817.2 1150.0,812.1 1150.5,812.1 1151.0,810.0 1151.5,807.8 1152.0,808.6 1152.5,805.4 1153.0,805.6 1153.5,805.2 1154.0,803.6 1154.5,800.9 1155.0,804.8 1155.5,805.4 1156.0,807.2 1156.5,809.4 1157.0,810.0 1157.5,810.6 1158.0,813.9 1158.5,815.3 1159.0,818.5 1159.5,817.7 1160.0,824.0 1160.5,823.5 1161.0,825.2 1161.5,826.8 1162.0,829.4 1162.5,830.2 1163.0,829.7 1163.5,829.4 1164.0,830.6 1164.5,829.8 1165.0,827.2 1165.5,825.4 1166.0,825.6 1166.5,823.9 1167.0,821.9 1167.5,816.4 1168.0,816.2 1168.5,814.3 1169.0,810.8 1169.5,807.1 1170.0,806.0 1170.5,806.5 1171.0,803.1 1171.5,801.7 1172.0,800.1 1172.5,799.9 1173.0,798.1 1173.5,798.3 1174.0,796.6 1174.5,797.1 1175.0,799.2 1175.5,800.4 1176.0,800.3 1176.5,800.7 1177.0,802.7 1177.5,805.4 1178.0,811.1 1178.5,810.6 1179.0,813.5 1179.5,815.8 1180.0,819.5 1180.5,821.4 1181.0,824.4 1181.5,823.5 1182.0,828.0 1182.5,831.2 1183.0,833.1 1183.5,835.0 1184.0,836.1 1184.5,837.9 1185.0,838.4 1185.5,837.8 1186.0,838.1 1186.5,838.4 1187.0,836.7 1187.5,836.9 1188.0,836.9 1188.5,836.0 1189.0,833.0 1189.5,830.1 1190.0,827.2 1190.5,823.8 1191.0,822.7 1191.6,819.9 1192.1,815.2 1192.6,811.7 1193.1,810.3 1193.6,806.3 1194.1,802.2 1194.6,800.4 1195.1,798.0 1195.6,797.6 1196.1,791.6 1196.6,790.3 1197.1,789.0 1197.6,788.1 1198.1,787.8 1198.6,785.7 1199.1,785.2 1199.6,783.9 1200.1,786.5 1200.6,784.3 1201.1,786.8 1201.6,786.9 1202.1,790.8 1202.6,791.3 1203.1,792.7 1203.6,796.3 1204.1,800.7 1204.6,802.5 1205.1,804.8 1205.6,810.1 1206.1,813.5 1206.6,815.2 1207.1,820.0 1207.6,821.8 1208.1,827.2 1208.6,831.4 1209.1,833.6 1209.6,834.4 1210.1,839.8 1210.6,841.7 1211.1,844.0 1211.6,847.6 1212.1,847.5 1212.6,850.2 1213.1,851.4 1213.6,854.7 1214.1,855.5 1214.6,857.0 1215.1,854.4 1215.6,854.2 1216.1,852.5 1216.6,850.7 1217.1,851.2 1217.6,849.6 1218.1,846.9 1218.6,843.5 1219.1,843.4 1219.6,839.1 1220.1,837.0 1220.6,833.8 1221.1,829.2 1221.6,827.3 1222.1,823.9 1222.6,818.3 1223.1,815.1 1223.6,811.4 1224.1,807.4 1224.6,802.9 1225.1,799.9 1225.6,795.0 1226.1,791.7 1226.6,787.1 1227.1,784.0 1227.6,781.3 1228.1,779.5 1228.6,776.5 1229.1,774.8 1229.6,769.1 1230.1,770.4 1230.6,768.1 1231.1,766.0 1231.6,767.9 1232.1,766.8 1232.6,766.1 1233.1,766.8 1233.6,767.5 1234.1,767.5 1234.6,766.6 1235.1,768.6 1235.7,771.1 1236.2,773.1 1236.7,777.2 1237.2,777.3 1237.7,780.4 1238.2,785.0 1238.7,787.0 1239.2,790.9 1239.7,794.9 1240.2,799.3 1240.7,802.9 1241.2,807.3 1241.7,810.0 1242.2,814.3 1242.7,818.6 1243.2,823.4 1243.7,827.9 1244.2,829.6 1244.7,837.8 1245.2,838.7 1245.7,843.6 1246.2,847.8 1246.7,852.1 1247.2,855.3 1247.7,859.6 1248.2,863.0 1248.7,864.6 1249.2,868.9 1249.7,868.7 1250.2,870.6 1250.7,877.2 1251.2,876.8 1251.7,876.2 1252.2,877.3 1252.7,878.1 1253.2,878.1 1253.7,877.9 1254.2,877.5 1254.7,876.0 1255.2,877.0 1255.7,874.9 1256.2,876.1 1256.7,872.8 1257.2,871.9 1257.7,866.8 1258.2,863.3 1258.7,862.4 1259.2,861.2 1259.7,856.7 1260.2,853.1 1260.7,849.2 1261.2,844.5 1261.7,840.6 1262.2,840.2 1262.7,831.7 1263.2,829.3 1263.7,824.9 1264.2,818.3 1264.7,815.5 1265.2,812.1 1265.7,807.4 1266.2,801.4 1266.7,795.9 1267.2,790.8 1267.7,788.0 1268.2,784.0 1268.7,777.5 1269.2,775.5 1269.7,769.5 1270.2,766.9 1270.7,763.2 1271.2,760.1 1271.7,756.2 1272.2,753.9 1272.7,751.2 1273.2,747.9 1273.7,746.0 1274.2,742.8 1274.7,741.1 1275.2,739.7 1275.7,738.2 1276.2,737.1 1276.7,734.1 1277.2,735.3 1277.7,735.6 1278.2,735.2 1278.7,734.4 1279.2,735.8 1279.8,736.6 1280.3,737.7 1280.8,738.6 1281.3,739.9 1281.8,741.7 1282.3,746.0 1282.8,747.7 1283.3,751.9 1283.8,751.2 1284.3,753.9 1284.8,756.9 1285.3,761.6 1285.8,764.1 1286.3,769.2 1286.8,773.2 1287.3,778.8 1287.8,782.2 1288.3,786.4 1288.8,789.3 1289.3,793.1 1289.8,800.0 1290.3,803.9 1290.8,808.8 1291.3,814.7 1291.8,820.6 1292.3,824.4 1292.8,830.0 1293.3,833.7 1293.8,838.4 1294.3,843.2 1294.8,847.9 1295.3,851.9 1295.8,858.0 1296.3,860.6 1296.8,867.6 1297.3,870.1 1297.8,873.9 1298.3,879.1 1298.8,883.8 1299.3,885.2 1299.8,890.1 1300.3,891.9 1300.8,895.1 1301.3,898.8 1301.8,901.6 1302.3,903.1 1302.8,906.1 1303.3,909.5 1303.8,910.3 1304.3,911.6 1304.8,913.3 1305.3,914.5 1305.8,915.9 1306.3,916.5 1306.8,917.9 1307.3,918.6 1307.8,915.9 1308.3,917.5 1308.8,916.1 1309.3,917.2 1309.8,914.5 1310.3,914.3 1310.8,908.9 1311.3,911.4 1311.8,909.4 1312.3,905.3 1312.8,902.8 1313.3,903.7 1313.8,898.5 1314.3,894.9 1314.8,894.0 1315.3,888.7 1315.8,886.5 1316.3,883.4 1316.8,878.9 1317.3,875.1 1317.8,872.0 1318.3,864.0 1318.8,862.5 1319.3,858.3 1319.8,852.1 1320.3,848.4 1320.8,842.2 1321.3,839.1 1321.8,833.6 1322.3,828.9 1322.8,823.9 1323.4,819.3 1323.9,814.1 1324.4,807.2 1324.9,804.6 1325.4,799.4 1325.9,794.2 1326.4,788.2 1326.9,783.4 1327.4,778.0 1327.9,775.4 1328.4,769.0 1328.9,764.7 1329.4,760.1 1329.9,755.0 1330.4,752.7 1330.9,746.0 1331.4,741.9 1331.9,739.3 1332.4,733.9 1332.9,728.3 1333.4,726.5 1333.9,721.9 1334.4,719.3 1334.9,716.5 1335.4,713.5 1335.9,710.0 1336.4,705.4 1336.9,703.2 1337.4,702.3 1337.9,698.3 1338.4,697.3 1338.9,696.0 1339.4,693.1 1339.9,693.0 1340.4,692.3 1340.9,688.2 1341.4,690.5 1341.9,687.3 1342.4,688.9 1342.9,687.1 1343.4,687.1 1343.9,687.4 1344.4,689.5 1344.9,687.8 1345.4,688.4 1345.9,690.2 1346.4,690.4 1346.9,690.5 1347.4,693.8 1347.9,694.4 1348.4,697.6 1348.9,698.1 1349.4,700.0 1349.9,700.4 1350.4,704.6 1350.9,707.7 1351.4,709.6 1351.9,715.1 1352.4,716.1 1352.9,721.1 1353.4,724.6 1353.9,726.4 1354.4,731.0 1354.9,733.8 1355.4,740.6 1355.9,742.9 1356.4,747.9 1356.9,751.9 1357.4,758.0 1357.9,759.6 1358.4,764.9 1358.9,770.8 1359.4,776.0 1359.9,780.3 1360.4,782.8 1360.9,789.3 1361.4,794.5 1361.9,798.6 1362.4,804.1 1362.9,808.9 1363.4,813.4 1363.9,818.8 1364.4,823.3 1364.9,830.5 1365.4,834.2 1365.9,839.6 1366.4,844.1 1366.9,849.2 1367.5,854.7 1368.0,859.3 1368.5,862.8 1369.0,869.1 1369.5,874.5 1370.0,877.2 1370.5,881.4 1371.0,887.1 1371.5,891.1 1372.0,896.4 1372.5,900.0 1373.0,902.8 1373.5,907.1 1374.0,911.7 1374.5,916.0 1375.0,921.1 1375.5,922.7 1376.0,926.0 1376.5,928.8 1377.0,931.0 1377.5,935.8 1378.0,938.2 1378.5,943.1 1379.0,943.5 1379.5,946.4 1380.0,948.3 1380.5,951.3 1381.0,953.6 1381.5,954.6 1382.0,958.6 1382.5,959.0 1383.0,960.1 1383.5,963.4 1384.0,965.0 1384.5,964.5 1385.0,965.8 1385.5,966.1 1386.0,966.7 1386.5,968.6 1387.0,967.8 1387.5,967.4 1388.0,969.2 1388.5,969.3 1389.0,970.2 1389.5,968.0 1390.0,966.6 1390.5,969.5 1391.0,966.8 1391.5,965.9 1392.0,966.5 1392.5,965.3 1393.0,964.8 1393.5,963.2 1394.0,960.7 1394.5,958.6 1395.0,957.4 1395.5,954.8 1396.0,953.4 1396.5,952.7 1397.0,947.7 1397.5,945.6 1398.0,945.0 1398.5,939.8 1399.0,938.3 1399.5,935.8 1400.0,930.9 1400.5,932.3 1401.0,928.1 1401.5,922.4 1402.0,919.9 1402.5,917.1 1403.0,910.9 1403.5,908.2 1404.0,906.2 1404.5,901.6 1405.0,896.0 1405.5,891.0 1406.0,890.6 1406.5,884.1 1407.0,880.4 1407.5,877.4 1408.0,871.3 1408.5,868.2 1409.0,862.6 1409.5,855.8 1410.0,852.2 1410.5,847.2 1411.0,842.6 1411.6,838.0 1412.1,832.6 1412.6,829.9 1413.1,824.1 1413.6,818.0 1414.1,814.6 1414.6,809.4 1415.1,802.7 1415.6,797.4 1416.1,794.6 1416.6,789.9 1417.1,783.5 1417.6,778.8 1418.1,774.8 1418.6,768.6 1419.1,763.7 1419.6,759.2 1420.1,751.4 1420.6,748.1 1421.1,743.9 1421.6,738.8 1422.1,732.1 1422.6,729.3 1423.1,726.4 1423.6,720.7 1424.1,716.4 1424.6,712.5 1425.1,707.2 1425.6,702.8 1426.1,698.7 1426.6,694.9 1427.1,689.3 1427.6,687.6 1428.1,681.1 1428.6,677.9 1429.1,673.7 1429.6,672.6 1430.1,664.7 1430.6,664.5 1431.1,660.0 1431.6,655.0 1432.1,652.8 1432.6,649.3 1433.1,648.0 1433.6,643.0 1434.1,639.4 1434.6,636.0 1435.1,634.2 1435.6,631.0 1436.1,628.2 1436.6,626.8 1437.1,624.5 1437.6,619.5 1438.1,620.2 1438.6,616.1 1439.1,615.3 1439.6,612.1 1440.1,612.6 1440.6,609.8 1441.1,608.6 1441.6,607.8 1442.1,606.1 1442.6,606.1 1443.1,604.4 1443.6,603.9 1444.1,602.0 1444.6,602.4 1445.1,603.4 1445.6,602.3 1446.1,602.0 1446.6,602.9 1447.1,600.8 1447.6,602.1 1448.1,602.2 1448.6,604.4 1449.1,604.8 1449.6,604.1 1450.1,607.6 1450.6,606.8 1451.1,608.3 1451.6,610.2 1452.1,611.0 1452.6,613.7 1453.1,614.1 1453.6,617.3 1454.1,619.2 1454.6,618.4 1455.1,622.7 1455.7,626.3 1456.2,625.4 1456.7,629.6 1457.2,634.9 1457.7,633.9 1458.2,635.6 1458.7,639.0 1459.2,640.5 1459.7,645.3 1460.2,647.6 1460.7,652.4 1461.2,654.5 1461.7,656.4 1462.2,660.8 1462.7,664.7 1463.2,670.4 1463.7,672.4 1464.2,677.1 1464.7,678.7 1465.2,684.2 1465.7,687.0 1466.2,692.3 1466.7,693.4 1467.2,700.7 1467.7,703.5 1468.2,705.2 1468.7,712.0 1469.2,717.4 1469.7,720.3 1470.2,724.4 1470.7,729.0 1471.2,736.4 1471.7,738.8 1472.2,745.8 1472.7,746.3 1473.2,752.9 1473.7,758.2 1474.2,761.8 1474.7,766.7 1475.2,773.3 1475.7,775.2 1476.2,782.0 1476.7,788.4 1477.2,790.1" fill="none" stroke="#f4a460" stroke-width="6.0" stroke-linejoin="round" stroke-linecap="round"/>
<polyline points="1081.3,813.3 1081.8,813.6 1082.3,814.5 1082.8,816.4 1083.3,814.0 1083.8,812.9 1084.3,814.2 1084.8,813.2 1085.3,816.2 1085.8,813.9 1086.3,814.0 1086.8,817.1 1087.3,817.3 1087.8,816.1 1088.3,815.1 1088.8,814.6 1089.3,815.5 1089.8,815.3 1090.3,815.4 1090.8,815.1 1091.3,814.5 1091.8,814.6 1092.3,815.3 1092.8,814.9 1093.3,815.8 1093.8,814.2 1094.3,815.9 1094.8,813.1 1095.3,815.2 1095.8,814.9 1096.3,816.2 1096.8,815.7 1097.3,815.0 1097.8,815.2 1098.3,816.1 1098.8,816.8 1099.3,815.2 1099.8,815.1 1100.3,814.5 1100.8,813.6 1101.3,815.6 1101.8,817.8 1102.3,815.4 1102.8,817.5 1103.4,816.8 1103.9,813.8 1104.4,814.4 1104.9,816.0 1105.4,816.1 1105.9,815.4 1106.4,817.6 1106.9,814.7 1107.4,815.8 1107.9,813.0 1108.4,816.7 1108.9,814.0 1109.4,816.2 1109.9,813.9 1110.4,816.5 1110.9,814.2 1111.4,815.7 1111.9,816.2 1112.4,815.3 1112.9,814.4 1113.4,814.5 1113.9,813.0 1114.4,814.1 1114.9,818.6 1115.4,815.8 1115.9,817.9 1116.4,815.8 1116.9,814.6 1117.4,817.2 1117.9,817.0 1118.4,815.3 1118.9,815.8 1119.4,813.4 1119.9,815.0 1120.4,814.6 1120.9,813.0 1121.4,815.8 1121.9,815.1 1122.4,816.3 1122.9,814.6 1123.4,813.6 1123.9,813.1 1124.4,814.9 1124.9,815.8 1125.4,815.9 1125.9,816.8 1126.4,814.9 1126.9,813.4 1127.4,818.4 1127.9,818.2 1128.4,813.7 1128.9,817.7 1129.4,815.2 1129.9,817.3 1130.4,814.7 1130.9,814.7 1131.4,815.5 1131.9,814.6 1132.4,815.5 1132.9,814.7 1133.4,812.9 1133.9,813.8 1134.4,815.9 1134.9,815.9 1135.4,815.1 1135.9,814.9 1136.4,814.5 1136.9,815.3 1137.4,813.6 1137.9,814.4 1138.4,814.0 1138.9,814.6 1139.4,813.9 1139.9,816.4 1140.4,812.9 1140.9,814.7 1141.4,814.7 1141.9,814.7 1142.4,814.3 1142.9,814.9 1143.4,815.7 1143.9,816.4 1144.4,818.4 1144.9,816.0 1145.4,816.7 1145.9,816.7 1146.4,813.1 1146.9,818.6 1147.5,815.9 1148.0,814.2 1148.5,814.3 1149.0,813.7 1149.5,816.8 1150.0,816.1 1150.5,813.8 1151.0,814.7 1151.5,811.9 1152.0,813.6 1152.5,813.5 1153.0,813.1 1153.5,813.9 1154.0,813.4 1154.5,814.5 1155.0,813.7 1155.5,814.4 1156.0,813.6 1156.5,816.0 1157.0,816.4 1157.5,814.1 1158.0,814.7 1158.5,816.6 1159.0,816.0 1159.5,817.4 1160.0,813.7 1160.5,818.7 1161.0,814.7 1161.5,818.2 1162.0,816.8 1162.5,817.8 1163.0,818.1 1163.5,816.4 1164.0,816.5 1164.5,817.9 1165.0,818.5 1165.5,814.4 1166.0,815.0 1166.5,816.4 1167.0,816.6 1167.5,815.5 1168.0,815.3 1168.5,813.4 1169.0,815.8 1169.5,814.1 1170.0,814.7 1170.5,811.6 1171.0,810.6 1171.5,812.7 1172.0,811.6 1172.5,810.2 1173.0,812.2 1173.5,812.9 1174.0,810.3 1174.5,811.0 1175.0,812.0 1175.5,810.0 1176.0,811.8 1176.5,814.8 1177.0,812.3 1177.5,813.3 1178.0,811.2 1178.5,814.2 1179.0,814.9 1179.5,814.6 1180.0,815.5 1180.5,818.2 1181.0,816.7 1181.5,817.9 1182.0,816.1 1182.5,815.3 1183.0,820.4 1183.5,820.6 1184.0,820.7 1184.5,820.8 1185.0,821.0 1185.5,820.2 1186.0,818.9 1186.5,822.0 1187.0,822.2 1187.5,822.4 1188.0,818.3 1188.5,817.6 1189.0,821.0 1189.5,820.6 1190.0,817.8 1190.5,815.9 1191.0,815.4 1191.6,815.8 1192.1,814.4 1192.6,814.2 1193.1,814.6 1193.6,810.7 1194.1,812.4 1194.6,813.2 1195.1,811.7 1195.6,812.5 1196.1,809.8 1196.6,807.9 1197.1,810.5 1197.6,807.0 1198.1,805.4 1198.6,807.4 1199.1,809.3 1199.6,808.8 1200.1,808.2 1200.6,809.5 1201.1,809.7 1201.6,808.7 1202.1,809.0 1202.6,808.4 1203.1,811.3 1203.6,807.9 1204.1,809.7 1204.6,810.6 1205.1,813.4 1205.6,811.2 1206.1,814.8 1206.6,812.8 1207.1,814.7 1207.6,818.2 1208.1,818.6 1208.6,816.5 1209.1,818.5 1209.6,820.9 1210.1,821.2 1210.6,822.0 1211.1,824.0 1211.6,823.9 1212.1,825.1 1212.6,825.3 1213.1,824.6 1213.6,826.8 1214.1,824.8 1214.6,825.8 1215.1,825.0 1215.6,824.8 1216.1,824.2 1216.6,824.7 1217.1,824.3 1217.6,825.0 1218.1,823.5 1218.6,824.8 1219.1,823.3 1219.6,821.2 1220.1,821.4 1220.6,819.8 1221.1,820.8 1221.6,816.6 1222.1,818.1 1222.6,815.7 1223.1,815.1 1223.6,812.7 1224.1,813.3 1224.6,812.9 1225.1,812.9 1225.6,809.7 1226.1,809.8 1226.6,806.4 1227.1,804.2 1227.6,808.0 1228.1,805.9 1228.6,802.9 1229.1,800.9 1229.6,801.5 1230.1,800.8 1230.6,800.0 1231.1,799.5 1231.6,797.8 1232.1,798.9 1232.6,801.2 1233.1,800.2 1233.6,799.4 1234.1,800.9 1234.6,800.5 1235.1,801.2 1235.7,801.9 1236.2,800.7 1236.7,802.8 1237.2,804.5 1237.7,804.9 1238.2,804.9 1238.7,803.2 1239.2,806.8 1239.7,806.4 1240.2,808.9 1240.7,813.7 1241.2,811.7 1241.7,814.7 1242.2,816.7 1242.7,817.8 1243.2,815.5 1243.7,821.3 1244.2,821.5 1244.7,820.6 1245.2,822.7 1245.7,827.2 1246.2,826.4 1246.7,828.2 1247.2,829.1 1247.7,829.0 1248.2,831.9 1248.7,832.6 1249.2,831.2 1249.7,836.5 1250.2,835.3 1250.7,834.9 1251.2,837.8 1251.7,837.5 1252.2,838.8 1252.7,837.2 1253.2,838.4 1253.7,836.6 1254.2,836.3 1254.7,837.5 1255.2,837.8 1255.7,836.6 1256.2,836.4 1256.7,837.5 1257.2,833.8 1257.7,834.1 1258.2,832.5 1258.7,834.3 1259.2,830.3 1259.7,827.6 1260.2,828.3 1260.7,829.7 1261.2,826.3 1261.7,825.0 1262.2,823.1 1262.7,822.1 1263.2,819.6 1263.7,819.2 1264.2,816.6 1264.7,816.1 1265.2,813.3 1265.7,810.4 1266.2,810.6 1266.7,807.3 1267.2,807.6 1267.7,805.2 1268.2,803.3 1268.7,799.7 1269.2,800.7 1269.7,796.5 1270.2,798.5 1270.7,795.3 1271.2,792.5 1271.7,791.4 1272.2,792.3 1272.7,791.4 1273.2,787.5 1273.7,789.3 1274.2,786.0 1274.7,786.6 1275.2,785.2 1275.7,781.5 1276.2,781.9 1276.7,782.4 1277.2,785.0 1277.7,782.6 1278.2,782.9 1278.7,783.1 1279.2,781.3 1279.8,785.6 1280.3,783.2 1280.8,784.0 1281.3,785.7 1281.8,783.1 1282.3,787.8 1282.8,787.0 1283.3,788.0 1283.8,792.1 1284.3,792.2 1284.8,792.9 1285.3,792.0 1285.8,793.2 1286.3,795.2 1286.8,797.3 1287.3,802.2 1287.8,800.7 1288.3,803.5 1288.8,803.1 1289.3,804.8 1289.8,805.6 1290.3,809.6 1290.8,811.5 1291.3,816.0 1291.8,816.6 1292.3,820.4 1292.8,819.7 1293.3,824.5 1293.8,825.3 1294.3,828.2 1294.8,829.8 1295.3,830.6 1295.8,834.0 1296.3,834.9 1296.8,838.5 1297.3,837.2 1297.8,841.7 1298.3,841.3 1298.8,841.6 1299.3,849.3 1299.8,849.0 1300.3,849.5 1300.8,849.1 1301.3,852.7 1301.8,852.9 1302.3,855.5 1302.8,854.9 1303.3,858.3 1303.8,856.5 1304.3,862.4 1304.8,861.7 1305.3,857.4 1305.8,860.1 1306.3,861.9 1306.8,858.1 1307.3,859.8 1307.8,859.8 1308.3,861.8 1308.8,860.3 1309.3,860.2 1309.8,862.7 1310.3,859.2 1310.8,859.7 1311.3,857.0 1311.8,856.2 1312.3,857.9 1312.8,856.9 1313.3,854.7 1313.8,852.9 1314.3,853.0 1314.8,851.3 1315.3,848.8 1315.8,847.5 1316.3,844.9 1316.8,844.4 1317.3,844.1 1317.8,843.4 1318.3,838.1 1318.8,837.6 1319.3,835.6 1319.8,833.4 1320.3,832.9 1320.8,829.1 1321.3,829.8 1321.8,824.6 1322.3,822.9 1322.8,816.9 1323.4,816.4 1323.9,814.9 1324.4,812.0 1324.9,808.8 1325.4,808.3 1325.9,805.2 1326.4,802.9 1326.9,796.7 1327.4,797.5 1327.9,797.8 1328.4,791.8 1328.9,787.0 1329.4,789.4 1329.9,781.2 1330.4,783.7 1330.9,780.1 1331.4,780.0 1331.9,777.5 1332.4,776.8 1332.9,774.6 1333.4,774.1 1333.9,767.8 1334.4,769.1 1334.9,765.4 1335.4,763.8 1335.9,763.5 1336.4,761.1 1336.9,759.9 1337.4,759.1 1337.9,757.1 1338.4,756.0 1338.9,756.4 1339.4,755.8 1339.9,754.3 1340.4,752.3 1340.9,749.9 1341.4,749.2 1341.9,750.3 1342.4,749.1 1342.9,749.9 1343.4,748.5 1343.9,749.7 1344.4,749.4 1344.9,750.5 1345.4,750.3 1345.9,748.1 1346.4,752.7 1346.9,751.7 1347.4,753.1 1347.9,751.8 1348.4,751.5 1348.9,755.3 1349.4,759.7 1349.9,756.2 1350.4,757.4 1350.9,761.9 1351.4,761.3 1351.9,762.6 1352.4,767.2 1352.9,764.8 1353.4,766.9 1353.9,768.9 1354.4,772.6 1354.9,774.1 1355.4,776.0 1355.9,776.6 1356.4,780.7 1356.9,779.7 1357.4,783.4 1357.9,789.2 1358.4,786.4 1358.9,790.9 1359.4,794.3 1359.9,796.0 1360.4,801.1 1360.9,801.0 1361.4,807.2 1361.9,807.9 1362.4,807.4 1362.9,810.2 1363.4,815.1 1363.9,818.6 1364.4,818.8 1364.9,822.8 1365.4,825.2 1365.9,827.3 1366.4,832.3 1366.9,832.5 1367.5,839.1 1368.0,837.0 1368.5,843.7 1369.0,845.1 1369.5,847.7 1370.0,848.4 1370.5,850.9 1371.0,853.9 1371.5,856.1 1372.0,858.6 1372.5,861.7 1373.0,866.6 1373.5,869.4 1374.0,871.6 1374.5,870.7 1375.0,873.1 1375.5,875.0 1376.0,876.5 1376.5,879.1 1377.0,882.0 1377.5,884.5 1378.0,886.8 1378.5,884.2 1379.0,886.2 1379.5,890.8 1380.0,890.8 1380.5,891.2 1381.0,890.9 1381.5,895.1 1382.0,895.2 1382.5,894.9 1383.0,899.8 1383.5,899.3 1384.0,899.1 1384.5,900.8 1385.0,897.6 1385.5,899.8 1386.0,901.2 1386.5,903.1 1387.0,900.9 1387.5,901.6 1388.0,903.4 1388.5,903.5 1389.0,905.0 1389.5,903.1 1390.0,901.8 1390.5,901.4 1391.0,901.8 1391.5,901.1 1392.0,902.6 1392.5,901.9 1393.0,899.1 1393.5,899.4 1394.0,900.4 1394.5,897.8 1395.0,896.4 1395.5,895.6 1396.0,895.3 1396.5,895.0 1397.0,892.5 1397.5,889.4 1398.0,890.1 1398.5,889.8 1399.0,886.9 1399.5,887.4 1400.0,883.7 1400.5,882.6 1401.0,879.1 1401.5,878.4 1402.0,875.1 1402.5,871.4 1403.0,872.7 1403.5,871.4 1404.0,867.4 1404.5,865.9 1405.0,863.3 1405.5,861.9 1406.0,857.9 1406.5,856.1 1407.0,856.6 1407.5,851.4 1408.0,848.0 1408.5,844.2 1409.0,843.9 1409.5,841.5 1410.0,836.0 1410.5,835.6 1411.0,831.8 1411.6,828.5 1412.1,825.2 1412.6,823.3 1413.1,821.9 1413.6,816.1 1414.1,815.0 1414.6,812.2 1415.1,805.8 1415.6,804.3 1416.1,803.9 1416.6,800.1 1417.1,796.7 1417.6,794.4 1418.1,792.9 1418.6,786.2 1419.1,783.2 1419.6,780.9 1420.1,778.8 1420.6,775.0 1421.1,771.4 1421.6,770.7 1422.1,766.8 1422.6,764.2 1423.1,759.6 1423.6,757.3 1424.1,756.5 1424.6,752.8 1425.1,746.7 1425.6,747.7 1426.1,743.4 1426.6,741.7 1427.1,736.5 1427.6,735.7 1428.1,733.6 1428.6,732.0 1429.1,728.3 1429.6,724.4 1430.1,722.2 1430.6,722.5 1431.1,716.3 1431.6,716.5 1432.1,715.4 1432.6,711.7 1433.1,710.6 1433.6,708.5 1434.1,706.6 1434.6,704.0 1435.1,702.7 1435.6,702.5 1436.1,697.8 1436.6,697.5 1437.1,693.6 1437.6,693.0 1438.1,691.4 1438.6,690.7 1439.1,687.8 1439.6,688.8 1440.1,688.5 1440.6,685.6 1441.1,688.7 1441.6,684.6 1442.1,683.0 1442.6,683.0 1443.1,680.1 1443.6,680.2 1444.1,680.4 1444.6,680.6 1445.1,678.3 1445.6,680.5 1446.1,680.1 1446.6,678.5 1447.1,678.7 1447.6,676.9 1448.1,680.1 1448.6,682.6 1449.1,679.5 1449.6,679.2 1450.1,681.6 1450.6,679.8 1451.1,680.2 1451.6,684.2 1452.1,684.8 1452.6,686.7 1453.1,685.2 1453.6,686.0 1454.1,687.3 1454.6,690.9 1455.1,691.5 1455.7,693.8 1456.2,695.4 1456.7,696.5 1457.2,698.3 1457.7,698.0 1458.2,698.8 1458.7,700.3 1459.2,702.9 1459.7,705.7 1460.2,706.7 1460.7,707.9 1461.2,711.1 1461.7,712.7 1462.2,715.3 1462.7,717.8 1463.2,719.3 1463.7,723.2 1464.2,722.6 1464.7,728.5 1465.2,728.3 1465.7,733.2 1466.2,731.9 1466.7,735.4 1467.2,740.3 1467.7,742.5 1468.2,746.2 1468.7,747.5 1469.2,749.7 1469.7,749.7 1470.2,757.8 1470.7,757.2 1471.2,762.6 1471.7,764.5 1472.2,766.7 1472.7,770.2 1473.2,773.4 1473.7,777.4 1474.2,780.3 1474.7,783.2 1475.2,785.0 1475.7,791.8 1476.2,793.7 1476.7,797.9 1477.2,800.8" fill="none" stroke="#ece878" stroke-width="6.0" stroke-linejoin="round" stroke-linecap="round"/>
<polyline points="1081.3,816.6 1081.8,813.5 1082.3,811.8 1082.8,813.1 1083.3,817.2 1083.8,815.2 1084.3,817.1 1084.8,814.6 1085.3,813.3 1085.8,814.4 1086.3,813.9 1086.8,815.5 1087.3,818.5 1087.8,818.5 1088.3,815.5 1088.8,814.4 1089.3,813.3 1089.8,815.9 1090.3,815.2 1090.8,814.9 1091.3,813.6 1091.8,815.4 1092.3,817.1 1092.8,813.6 1093.3,814.6 1093.8,814.7 1094.3,817.3 1094.8,815.3 1095.3,818.1 1095.8,818.5 1096.3,815.7 1096.8,816.0 1097.3,814.4 1097.8,813.0 1098.3,815.4 1098.8,812.4 1099.3,816.3 1099.8,814.1 1100.3,817.3 1100.8,815.1 1101.3,815.8 1101.8,815.6 1102.3,814.3 1102.8,818.3 1103.4,815.1 1103.9,816.6 1104.4,815.1 1104.9,814.7 1105.4,815.9 1105.9,815.9 1106.4,817.2 1106.9,814.4 1107.4,816.4 1107.9,814.6 1108.4,817.6 1108.9,813.1 1109.4,817.0 1109.9,813.4 1110.4,816.0 1110.9,814.4 1111.4,815.5 1111.9,814.2 1112.4,815.3 1112.9,813.2 1113.4,814.2 1113.9,814.2 1114.4,812.6 1114.9,816.4 1115.4,813.2 1115.9,815.2 1116.4,817.7 1116.9,814.6 1117.4,815.7 1117.9,812.7 1118.4,816.2 1118.9,815.3 1119.4,815.0 1119.9,818.4 1120.4,814.5 1120.9,816.9 1121.4,813.0 1121.9,812.6 1122.4,815.2 1122.9,817.8 1123.4,814.9 1123.9,814.9 1124.4,814.0 1124.9,815.7 1125.4,817.1 1125.9,815.5 1126.4,816.7 1126.9,812.4 1127.4,816.5 1127.9,816.4 1128.4,815.5 1128.9,817.4 1129.4,816.2 1129.9,815.7 1130.4,816.3 1130.9,815.9 1131.4,813.5 1131.9,814.7 1132.4,817.6 1132.9,816.1 1133.4,814.1 1133.9,816.3 1134.4,815.1 1134.9,815.2 1135.4,814.3 1135.9,815.4 1136.4,815.3 1136.9,816.4 1137.4,814.5 1137.9,816.5 1138.4,812.3 1138.9,815.1 1139.4,815.5 1139.9,813.9 1140.4,815.3 1140.9,815.1 1141.4,815.4 1141.9,816.6 1142.4,817.0 1142.9,816.7 1143.4,813.8 1143.9,816.6 1144.4,816.3 1144.9,816.4 1145.4,814.6 1145.9,812.5 1146.4,817.2 1146.9,814.8 1147.5,815.4 1148.0,816.0 1148.5,814.6 1149.0,817.4 1149.5,813.9 1150.0,814.8 1150.5,816.7 1151.0,812.4 1151.5,813.5 1152.0,813.0 1152.5,817.1 1153.0,815.1 1153.5,815.5 1154.0,813.7 1154.5,812.5 1155.0,817.7 1155.5,814.7 1156.0,815.0 1156.5,813.3 1157.0,815.1 1157.5,817.1 1158.0,815.5 1158.5,817.0 1159.0,816.7 1159.5,815.6 1160.0,816.5 1160.5,815.4 1161.0,818.4 1161.5,812.4 1162.0,814.2 1162.5,815.1 1163.0,818.3 1163.5,819.7 1164.0,817.7 1164.5,816.6 1165.0,812.6 1165.5,814.0 1166.0,816.8 1166.5,813.9 1167.0,813.8 1167.5,815.5 1168.0,813.5 1168.5,814.7 1169.0,816.1 1169.5,816.7 1170.0,814.9 1170.5,812.9 1171.0,816.5 1171.5,816.8 1172.0,813.2 1172.5,818.3 1173.0,810.9 1173.5,814.5 1174.0,812.6 1174.5,810.8 1175.0,816.1 1175.5,815.6 1176.0,810.4 1176.5,814.5 1177.0,814.4 1177.5,814.1 1178.0,812.9 1178.5,812.7 1179.0,814.9 1179.5,815.8 1180.0,815.6 1180.5,815.3 1181.0,814.0 1181.5,816.1 1182.0,813.7 1182.5,818.2 1183.0,816.1 1183.5,814.4 1184.0,815.3 1184.5,816.9 1185.0,819.0 1185.5,818.8 1186.0,817.9 1186.5,817.2 1187.0,818.0 1187.5,819.9 1188.0,818.6 1188.5,816.4 1189.0,815.7 1189.5,819.1 1190.0,817.2 1190.5,819.0 1191.0,816.9 1191.6,810.0 1192.1,815.3 1192.6,815.6 1193.1,815.6 1193.6,816.3 1194.1,817.0 1194.6,813.7 1195.1,813.8 1195.6,810.7 1196.1,815.4 1196.6,811.8 1197.1,810.1 1197.6,815.2 1198.1,810.8 1198.6,814.4 1199.1,810.9 1199.6,809.3 1200.1,811.7 1200.6,811.3 1201.1,812.9 1201.6,811.5 1202.1,810.3 1202.6,812.6 1203.1,812.8 1203.6,812.3 1204.1,811.9 1204.6,816.2 1205.1,813.9 1205.6,815.5 1206.1,814.1 1206.6,813.7 1207.1,815.3 1207.6,814.2 1208.1,818.3 1208.6,817.8 1209.1,819.2 1209.6,818.0 1210.1,818.4 1210.6,819.2 1211.1,821.2 1211.6,819.8 1212.1,820.6 1212.6,819.2 1213.1,820.9 1213.6,818.8 1214.1,820.4 1214.6,823.8 1215.1,821.2 1215.6,823.2 1216.1,819.3 1216.6,818.4 1217.1,820.6 1217.6,819.6 1218.1,822.4 1218.6,823.3 1219.1,820.3 1219.6,819.4 1220.1,821.0 1220.6,817.9 1221.1,817.1 1221.6,816.0 1222.1,814.0 1222.6,814.6 1223.1,815.8 1223.6,814.5 1224.1,813.1 1224.6,815.1 1225.1,810.6 1225.6,810.7 1226.1,811.9 1226.6,812.0 1227.1,804.3 1227.6,808.5 1228.1,807.8 1228.6,806.0 1229.1,806.9 1229.6,807.7 1230.1,806.6 1230.6,808.9 1231.1,806.0 1231.6,809.4 1232.1,806.1 1232.6,805.8 1233.1,809.2 1233.6,803.7 1234.1,808.7 1234.6,805.3 1235.1,808.0 1235.7,807.0 1236.2,808.8 1236.7,804.2 1237.2,806.9 1237.7,806.2 1238.2,808.3 1238.7,809.0 1239.2,810.5 1239.7,811.8 1240.2,811.1 1240.7,812.6 1241.2,813.8 1241.7,816.6 1242.2,815.6 1242.7,815.0 1243.2,817.5 1243.7,817.0 1244.2,818.6 1244.7,820.9 1245.2,821.5 1245.7,822.0 1246.2,822.1 1246.7,822.8 1247.2,821.3 1247.7,825.5 1248.2,827.7 1248.7,823.9 1249.2,826.3 1249.7,826.3 1250.2,822.5 1250.7,824.7 1251.2,826.5 1251.7,826.2 1252.2,827.8 1252.7,826.6 1253.2,829.3 1253.7,829.5 1254.2,829.1 1254.7,825.8 1255.2,825.7 1255.7,828.9 1256.2,825.9 1256.7,827.7 1257.2,825.3 1257.7,827.1 1258.2,824.5 1258.7,825.7 1259.2,825.3 1259.7,824.2 1260.2,823.2 1260.7,823.6 1261.2,824.1 1261.7,818.3 1262.2,820.8 1262.7,822.1 1263.2,821.9 1263.7,821.8 1264.2,817.2 1264.7,813.0 1265.2,816.8 1265.7,813.7 1266.2,815.0 1266.7,809.2 1267.2,809.4 1267.7,808.4 1268.2,805.7 1268.7,804.2 1269.2,804.2 1269.7,805.8 1270.2,806.1 1270.7,804.7 1271.2,805.0 1271.7,798.4 1272.2,800.8 1272.7,799.6 1273.2,798.8 1273.7,795.2 1274.2,798.7 1274.7,795.4 1275.2,796.3 1275.7,796.7 1276.2,799.1 1276.7,794.3 1277.2,796.8 1277.7,796.1 1278.2,795.0 1278.7,795.2 1279.2,793.6 1279.8,796.6 1280.3,795.4 1280.8,795.5 1281.3,796.3 1281.8,795.6 1282.3,797.6 1282.8,795.8 1283.3,799.5 1283.8,801.3 1284.3,799.8 1284.8,798.6 1285.3,802.2 1285.8,803.2 1286.3,803.7 1286.8,803.9 1287.3,805.5 1287.8,805.8 1288.3,810.2 1288.8,806.2 1289.3,808.9 1289.8,812.4 1290.3,810.1 1290.8,812.8 1291.3,812.5 1291.8,818.1 1292.3,814.8 1292.8,818.7 1293.3,823.5 1293.8,820.3 1294.3,823.3 1294.8,825.8 1295.3,825.8 1295.8,829.9 1296.3,827.1 1296.8,829.6 1297.3,831.0 1297.8,829.4 1298.3,832.8 1298.8,835.1 1299.3,836.7 1299.8,836.3 1300.3,835.5 1300.8,839.1 1301.3,840.7 1301.8,838.4 1302.3,840.6 1302.8,841.5 1303.3,838.8 1303.8,844.7 1304.3,843.0 1304.8,846.7 1305.3,844.7 1305.8,843.7 1306.3,843.1 1306.8,847.2 1307.3,843.9 1307.8,844.1 1308.3,845.6 1308.8,841.3 1309.3,845.1 1309.8,846.4 1310.3,844.0 1310.8,847.3 1311.3,841.4 1311.8,841.8 1312.3,843.5 1312.8,841.2 1313.3,840.6 1313.8,837.6 1314.3,840.9 1314.8,841.1 1315.3,841.3 1315.8,837.5 1316.3,838.5 1316.8,835.1 1317.3,833.0 1317.8,833.2 1318.3,832.7 1318.8,827.9 1319.3,828.8 1319.8,826.7 1320.3,824.1 1320.8,826.3 1321.3,824.2 1321.8,817.1 1322.3,819.9 1322.8,819.7 1323.4,816.8 1323.9,815.7 1324.4,815.2 1324.9,812.2 1325.4,809.9 1325.9,808.3 1326.4,805.7 1326.9,807.8 1327.4,805.7 1327.9,800.4 1328.4,800.8 1328.9,796.5 1329.4,796.4 1329.9,797.6 1330.4,792.9 1330.9,793.9 1331.4,790.4 1331.9,787.4 1332.4,784.5 1332.9,786.7 1333.4,784.1 1333.9,783.5 1334.4,781.4 1334.9,785.6 1335.4,781.0 1335.9,778.8 1336.4,777.4 1336.9,778.4 1337.4,774.9 1337.9,773.6 1338.4,774.5 1338.9,774.2 1339.4,773.7 1339.9,772.3 1340.4,770.1 1340.9,769.1 1341.4,771.8 1341.9,772.2 1342.4,771.7 1342.9,768.6 1343.4,769.7 1343.9,769.5 1344.4,769.2 1344.9,769.4 1345.4,770.4 1345.9,772.1 1346.4,771.7 1346.9,770.8 1347.4,770.8 1347.9,772.5 1348.4,773.2 1348.9,770.9 1349.4,774.6 1349.9,774.2 1350.4,775.9 1350.9,777.7 1351.4,779.7 1351.9,779.1 1352.4,780.7 1352.9,779.1 1353.4,783.5 1353.9,783.6 1354.4,783.2 1354.9,785.8 1355.4,786.2 1355.9,787.1 1356.4,792.6 1356.9,792.2 1357.4,794.7 1357.9,792.6 1358.4,796.6 1358.9,797.4 1359.4,797.2 1359.9,802.3 1360.4,803.4 1360.9,804.7 1361.4,807.6 1361.9,807.1 1362.4,809.7 1362.9,811.3 1363.4,814.7 1363.9,817.3 1364.4,819.2 1364.9,821.2 1365.4,825.2 1365.9,823.9 1366.4,825.1 1366.9,828.4 1367.5,831.1 1368.0,832.1 1368.5,833.7 1369.0,835.5 1369.5,835.0 1370.0,841.1 1370.5,841.0 1371.0,842.3 1371.5,845.0 1372.0,847.3 1372.5,850.3 1373.0,851.3 1373.5,850.9 1374.0,851.3 1374.5,856.3 1375.0,856.0 1375.5,857.4 1376.0,858.1 1376.5,860.8 1377.0,861.8 1377.5,862.5 1378.0,867.0 1378.5,866.3 1379.0,870.4 1379.5,871.9 1380.0,871.1 1380.5,873.3 1381.0,871.0 1381.5,871.1 1382.0,874.1 1382.5,874.6 1383.0,875.5 1383.5,876.2 1384.0,876.2 1384.5,876.4 1385.0,878.2 1385.5,879.1 1386.0,879.1 1386.5,877.3 1387.0,879.5 1387.5,876.8 1388.0,879.7 1388.5,877.3 1389.0,881.5 1389.5,880.8 1390.0,878.9 1390.5,878.8 1391.0,879.7 1391.5,876.0 1392.0,878.8 1392.5,878.2 1393.0,879.1 1393.5,875.1 1394.0,875.9 1394.5,876.0 1395.0,878.6 1395.5,874.7 1396.0,875.3 1396.5,873.1 1397.0,871.4 1397.5,873.1 1398.0,870.5 1398.5,868.4 1399.0,868.4 1399.5,868.0 1400.0,868.0 1400.5,866.1 1401.0,865.7 1401.5,860.7 1402.0,860.7 1402.5,861.3 1403.0,857.8 1403.5,858.3 1404.0,859.8 1404.5,851.0 1405.0,849.4 1405.5,851.8 1406.0,848.8 1406.5,845.5 1407.0,844.6 1407.5,843.4 1408.0,840.9 1408.5,838.5 1409.0,837.0 1409.5,833.7 1410.0,832.4 1410.5,831.1 1411.0,827.8 1411.6,828.3 1412.1,821.2 1412.6,824.0 1413.1,819.2 1413.6,816.3 1414.1,814.0 1414.6,812.0 1415.1,808.1 1415.6,809.6 1416.1,805.7 1416.6,803.1 1417.1,801.8 1417.6,799.6 1418.1,794.4 1418.6,795.2 1419.1,792.6 1419.6,789.9 1420.1,787.6 1420.6,784.7 1421.1,783.0 1421.6,779.8 1422.1,777.9 1422.6,775.1 1423.1,771.5 1423.6,772.8 1424.1,766.7 1424.6,767.8 1425.1,763.9 1425.6,762.5 1426.1,761.1 1426.6,761.6 1427.1,754.0 1427.6,755.6 1428.1,753.7 1428.6,748.8 1429.1,748.4 1429.6,743.7 1430.1,742.1 1430.6,741.8 1431.1,740.7 1431.6,738.2 1432.1,739.7 1432.6,735.7 1433.1,734.1 1433.6,733.5 1434.1,730.8 1434.6,732.0 1435.1,726.8 1435.6,724.8 1436.1,727.5 1436.6,723.9 1437.1,720.5 1437.6,721.0 1438.1,722.1 1438.6,721.0 1439.1,717.0 1439.6,714.5 1440.1,718.1 1440.6,715.5 1441.1,715.9 1441.6,714.4 1442.1,712.8 1442.6,712.6 1443.1,713.0 1443.6,708.2 1444.1,711.2 1444.6,710.8 1445.1,708.6 1445.6,710.1 1446.1,710.3 1446.6,708.4 1447.1,711.5 1447.6,708.8 1448.1,708.4 1448.6,709.2 1449.1,710.7 1449.6,710.7 1450.1,713.7 1450.6,711.7 1451.1,711.5 1451.6,711.1 1452.1,712.8 1452.6,714.3 1453.1,715.7 1453.6,715.2 1454.1,715.8 1454.6,715.0 1455.1,717.8 1455.7,719.5 1456.2,720.0 1456.7,721.7 1457.2,722.4 1457.7,726.7 1458.2,727.0 1458.7,727.7 1459.2,726.5 1459.7,728.7 1460.2,729.8 1460.7,729.8 1461.2,734.7 1461.7,733.0 1462.2,735.8 1462.7,739.2 1463.2,737.5 1463.7,743.8 1464.2,745.2 1464.7,745.6 1465.2,746.6 1465.7,749.5 1466.2,754.5 1466.7,753.7 1467.2,755.4 1467.7,753.4 1468.2,757.4 1468.7,761.5 1469.2,765.6 1469.7,765.6 1470.2,770.2 1470.7,770.4 1471.2,772.4 1471.7,776.0 1472.2,777.3 1472.7,780.6 1473.2,783.4 1473.7,782.6 1474.2,786.6 1474.7,790.5 1475.2,793.7 1475.7,794.7 1476.2,796.7 1476.7,798.8 1477.2,800.4" fill="none" stroke="#b8ec70" stroke-width="6.0" stroke-linejoin="round" stroke-linecap="round"/>
<polyline points="1081.3,814.3 1081.8,817.7 1082.3,810.9 1082.8,812.8 1083.3,813.5 1083.8,812.4 1084.3,818.5 1084.8,816.1 1085.3,816.4 1085.8,812.7 1086.3,817.8 1086.8,816.0 1087.3,812.0 1087.8,813.9 1088.3,816.1 1088.8,811.2 1089.3,818.1 1089.8,814.3 1090.3,815.8 1090.8,814.2 1091.3,815.9 1091.8,817.1 1092.3,814.8 1092.8,818.1 1093.3,814.1 1093.8,816.0 1094.3,813.3 1094.8,816.2 1095.3,816.7 1095.8,814.4 1096.3,812.6 1096.8,819.7 1097.3,815.0 1097.8,813.9 1098.3,818.3 1098.8,817.2 1099.3,813.9 1099.8,817.0 1100.3,816.6 1100.8,811.6 1101.3,817.3 1101.8,817.1 1102.3,820.2 1102.8,817.6 1103.4,817.9 1103.9,811.6 1104.4,812.7 1104.9,818.0 1105.4,811.1 1105.9,813.6 1106.4,815.7 1106.9,813.6 1107.4,814.5 1107.9,816.9 1108.4,819.1 1108.9,817.2 1109.4,815.3 1109.9,816.0 1110.4,816.9 1110.9,813.2 1111.4,817.6 1111.9,813.4 1112.4,816.3 1112.9,815.0 1113.4,817.7 1113.9,815.3 1114.4,817.0 1114.9,819.0 1115.4,815.3 1115.9,815.4 1116.4,813.5 1116.9,814.7 1117.4,817.5 1117.9,816.6 1118.4,820.6 1118.9,817.7 1119.4,812.5 1119.9,812.0 1120.4,813.7 1120.9,814.6 1121.4,814.0 1121.9,814.2 1122.4,819.0 1122.9,817.1 1123.4,812.7 1123.9,812.7 1124.4,814.7 1124.9,815.9 1125.4,816.1 1125.9,816.4 1126.4,817.3 1126.9,819.4 1127.4,815.0 1127.9,816.3 1128.4,815.8 1128.9,811.6 1129.4,814.0 1129.9,816.8 1130.4,814.1 1130.9,818.6 1131.4,813.1 1131.9,814.8 1132.4,815.7 1132.9,814.1 1133.4,812.2 1133.9,816.3 1134.4,817.4 1134.9,810.7 1135.4,815.2 1135.9,812.0 1136.4,816.7 1136.9,814.4 1137.4,816.6 1137.9,813.9 1138.4,815.8 1138.9,816.7 1139.4,811.9 1139.9,814.5 1140.4,819.6 1140.9,815.8 1141.4,817.3 1141.9,817.9 1142.4,816.6 1142.9,816.4 1143.4,815.3 1143.9,817.1 1144.4,819.4 1144.9,816.5 1145.4,813.5 1145.9,818.3 1146.4,814.1 1146.9,814.4 1147.5,816.3 1148.0,814.7 1148.5,816.9 1149.0,816.2 1149.5,817.5 1150.0,814.3 1150.5,812.3 1151.0,816.7 1151.5,812.6 1152.0,819.8 1152.5,817.1 1153.0,817.3 1153.5,811.4 1154.0,816.4 1154.5,813.4 1155.0,819.6 1155.5,814.9 1156.0,813.9 1156.5,815.3 1157.0,821.1 1157.5,814.9 1158.0,813.5 1158.5,812.5 1159.0,814.5 1159.5,819.0 1160.0,815.9 1160.5,813.5 1161.0,817.3 1161.5,814.3 1162.0,816.6 1162.5,815.4 1163.0,813.9 1163.5,817.1 1164.0,809.4 1164.5,815.3 1165.0,814.8 1165.5,817.1 1166.0,815.4 1166.5,816.1 1167.0,818.6 1167.5,818.7 1168.0,814.7 1168.5,815.5 1169.0,820.9 1169.5,819.8 1170.0,815.8 1170.5,815.2 1171.0,813.7 1171.5,817.6 1172.0,813.6 1172.5,815.5 1173.0,815.9 1173.5,815.1 1174.0,812.7 1174.5,813.6 1175.0,812.9 1175.5,816.3 1176.0,815.5 1176.5,817.4 1177.0,816.2 1177.5,815.9 1178.0,816.1 1178.5,813.6 1179.0,814.3 1179.5,813.7 1180.0,815.1 1180.5,813.1 1181.0,815.3 1181.5,813.5 1182.0,814.6 1182.5,814.2 1183.0,816.0 1183.5,818.6 1184.0,819.1 1184.5,811.8 1185.0,815.2 1185.5,815.1 1186.0,816.5 1186.5,817.1 1187.0,809.9 1187.5,818.5 1188.0,816.2 1188.5,816.1 1189.0,818.4 1189.5,818.6 1190.0,817.3 1190.5,816.4 1191.0,816.6 1191.6,813.7 1192.1,817.9 1192.6,814.3 1193.1,811.9 1193.6,813.0 1194.1,817.3 1194.6,821.1 1195.1,812.7 1195.6,813.4 1196.1,815.6 1196.6,811.5 1197.1,815.1 1197.6,813.9 1198.1,816.3 1198.6,813.3 1199.1,814.9 1199.6,815.0 1200.1,811.6 1200.6,813.5 1201.1,817.2 1201.6,812.5 1202.1,812.3 1202.6,816.0 1203.1,815.1 1203.6,814.3 1204.1,815.1 1204.6,814.4 1205.1,813.4 1205.6,816.0 1206.1,810.6 1206.6,816.9 1207.1,816.7 1207.6,811.4 1208.1,810.7 1208.6,816.0 1209.1,816.6 1209.6,818.7 1210.1,814.1 1210.6,816.3 1211.1,818.7 1211.6,816.1 1212.1,814.2 1212.6,815.8 1213.1,812.6 1213.6,814.9 1214.1,816.5 1214.6,817.6 1215.1,816.4 1215.6,814.9 1216.1,815.7 1216.6,815.2 1217.1,816.9 1217.6,815.7 1218.1,814.6 1218.6,817.5 1219.1,819.8 1219.6,813.1 1220.1,815.4 1220.6,817.4 1221.1,815.7 1221.6,816.5 1222.1,819.5 1222.6,815.9 1223.1,818.4 1223.6,814.6 1224.1,815.0 1224.6,812.0 1225.1,814.5 1225.6,813.2 1226.1,814.4 1226.6,814.3 1227.1,816.3 1227.6,810.8 1228.1,812.4 1228.6,813.8 1229.1,811.9 1229.6,813.1 1230.1,813.6 1230.6,811.4 1231.1,809.1 1231.6,812.3 1232.1,814.7 1232.6,812.9 1233.1,807.7 1233.6,813.3 1234.1,809.0 1234.6,812.2 1235.1,810.1 1235.7,812.1 1236.2,815.4 1236.7,813.0 1237.2,807.7 1237.7,812.8 1238.2,811.5 1238.7,813.8 1239.2,813.6 1239.7,812.9 1240.2,812.9 1240.7,809.4 1241.2,814.6 1241.7,815.3 1242.2,816.7 1242.7,818.5 1243.2,819.5 1243.7,814.9 1244.2,820.8 1244.7,814.0 1245.2,815.6 1245.7,818.5 1246.2,820.7 1246.7,818.5 1247.2,818.8 1247.7,816.7 1248.2,821.1 1248.7,820.6 1249.2,820.2 1249.7,820.9 1250.2,821.9 1250.7,824.5 1251.2,824.5 1251.7,822.6 1252.2,821.7 1252.7,819.2 1253.2,816.4 1253.7,817.7 1254.2,820.6 1254.7,817.4 1255.2,821.6 1255.7,822.5 1256.2,816.2 1256.7,823.4 1257.2,821.8 1257.7,821.3 1258.2,817.3 1258.7,821.5 1259.2,818.2 1259.7,820.5 1260.2,821.9 1260.7,818.4 1261.2,818.1 1261.7,820.6 1262.2,819.5 1262.7,818.9 1263.2,814.7 1263.7,815.3 1264.2,815.3 1264.7,814.2 1265.2,815.8 1265.7,813.2 1266.2,815.1 1266.7,816.1 1267.2,814.2 1267.7,811.7 1268.2,811.5 1268.7,808.9 1269.2,814.3 1269.7,810.6 1270.2,808.8 1270.7,811.3 1271.2,808.2 1271.7,809.2 1272.2,810.4 1272.7,805.1 1273.2,810.2 1273.7,804.7 1274.2,807.5 1274.7,808.3 1275.2,807.9 1275.7,807.4 1276.2,807.4 1276.7,804.9 1277.2,809.4 1277.7,802.5 1278.2,803.4 1278.7,802.1 1279.2,807.3 1279.8,810.3 1280.3,806.7 1280.8,805.8 1281.3,804.9 1281.8,806.9 1282.3,806.2 1282.8,805.9 1283.3,809.9 1283.8,803.0 1284.3,809.7 1284.8,807.1 1285.3,805.7 1285.8,810.2 1286.3,809.0 1286.8,806.0 1287.3,810.7 1287.8,808.4 1288.3,810.6 1288.8,811.3 1289.3,810.9 1289.8,813.6 1290.3,814.2 1290.8,812.3 1291.3,814.5 1291.8,814.7 1292.3,819.1 1292.8,817.1 1293.3,815.2 1293.8,816.6 1294.3,818.6 1294.8,821.1 1295.3,822.0 1295.8,820.5 1296.3,819.0 1296.8,822.7 1297.3,820.6 1297.8,824.8 1298.3,822.1 1298.8,827.5 1299.3,825.6 1299.8,828.9 1300.3,825.7 1300.8,826.4 1301.3,830.2 1301.8,830.2 1302.3,830.0 1302.8,832.7 1303.3,831.9 1303.8,832.1 1304.3,828.9 1304.8,827.8 1305.3,832.1 1305.8,831.9 1306.3,831.0 1306.8,832.8 1307.3,832.3 1307.8,830.0 1308.3,831.3 1308.8,832.0 1309.3,833.0 1309.8,828.5 1310.3,832.8 1310.8,831.1 1311.3,833.4 1311.8,832.2 1312.3,830.4 1312.8,831.1 1313.3,828.7 1313.8,829.3 1314.3,832.0 1314.8,833.5 1315.3,825.9 1315.8,828.7 1316.3,823.7 1316.8,826.2 1317.3,827.3 1317.8,823.7 1318.3,824.8 1318.8,823.5 1319.3,824.8 1319.8,820.6 1320.3,818.8 1320.8,821.5 1321.3,815.6 1321.8,819.9 1322.3,817.2 1322.8,820.4 1323.4,820.1 1323.9,810.5 1324.4,811.0 1324.9,810.7 1325.4,815.9 1325.9,810.8 1326.4,809.4 1326.9,809.2 1327.4,807.8 1327.9,809.5 1328.4,806.9 1328.9,808.1 1329.4,805.5 1329.9,803.0 1330.4,804.6 1330.9,802.6 1331.4,802.1 1331.9,800.3 1332.4,797.5 1332.9,798.1 1333.4,797.0 1333.9,800.2 1334.4,797.1 1334.9,793.8 1335.4,796.8 1335.9,795.2 1336.4,795.7 1336.9,790.1 1337.4,793.4 1337.9,793.5 1338.4,790.1 1338.9,788.6 1339.4,789.4 1339.9,788.0 1340.4,789.3 1340.9,789.7 1341.4,790.1 1341.9,790.1 1342.4,790.1 1342.9,787.8 1343.4,788.7 1343.9,788.2 1344.4,787.1 1344.9,788.5 1345.4,791.4 1345.9,790.3 1346.4,791.1 1346.9,793.0 1347.4,788.9 1347.9,792.0 1348.4,792.5 1348.9,792.4 1349.4,788.6 1349.9,791.6 1350.4,789.2 1350.9,792.1 1351.4,793.4 1351.9,791.8 1352.4,792.4 1352.9,794.1 1353.4,797.3 1353.9,796.8 1354.4,799.1 1354.9,797.9 1355.4,798.0 1355.9,795.8 1356.4,796.9 1356.9,799.4 1357.4,799.8 1357.9,802.3 1358.4,797.8 1358.9,801.6 1359.4,800.2 1359.9,806.2 1360.4,807.2 1360.9,806.9 1361.4,810.0 1361.9,810.8 1362.4,814.8 1362.9,811.8 1363.4,814.7 1363.9,814.4 1364.4,817.9 1364.9,822.5 1365.4,818.7 1365.9,818.5 1366.4,825.0 1366.9,825.5 1367.5,825.3 1368.0,826.3 1368.5,830.7 1369.0,824.4 1369.5,827.2 1370.0,831.9 1370.5,835.6 1371.0,832.0 1371.5,829.6 1372.0,833.3 1372.5,833.6 1373.0,839.3 1373.5,837.8 1374.0,842.6 1374.5,836.0 1375.0,840.1 1375.5,846.9 1376.0,847.3 1376.5,843.1 1377.0,844.8 1377.5,846.6 1378.0,845.4 1378.5,843.2 1379.0,847.5 1379.5,853.0 1380.0,850.1 1380.5,853.3 1381.0,852.9 1381.5,851.0 1382.0,852.7 1382.5,855.1 1383.0,853.4 1383.5,855.6 1384.0,853.1 1384.5,855.1 1385.0,854.1 1385.5,855.8 1386.0,853.9 1386.5,856.1 1387.0,856.0 1387.5,857.4 1388.0,856.0 1388.5,860.3 1389.0,850.8 1389.5,858.1 1390.0,856.4 1390.5,857.7 1391.0,857.6 1391.5,855.6 1392.0,857.5 1392.5,857.1 1393.0,858.9 1393.5,857.7 1394.0,857.9 1394.5,851.1 1395.0,857.5 1395.5,856.5 1396.0,853.3 1396.5,850.1 1397.0,856.4 1397.5,855.5 1398.0,851.2 1398.5,850.1 1399.0,853.2 1399.5,853.3 1400.0,850.7 1400.5,846.2 1401.0,847.0 1401.5,844.4 1402.0,845.4 1402.5,844.3 1403.0,841.9 1403.5,842.4 1404.0,840.6 1404.5,842.0 1405.0,840.2 1405.5,836.8 1406.0,837.2 1406.5,837.1 1407.0,832.8 1407.5,831.8 1408.0,831.7 1408.5,832.1 1409.0,827.2 1409.5,822.3 1410.0,828.2 1410.5,828.4 1411.0,825.3 1411.6,824.3 1412.1,823.5 1412.6,821.9 1413.1,816.1 1413.6,814.6 1414.1,811.7 1414.6,811.8 1415.1,813.0 1415.6,808.1 1416.1,810.2 1416.6,808.1 1417.1,808.4 1417.6,801.6 1418.1,800.6 1418.6,802.2 1419.1,800.3 1419.6,798.1 1420.1,796.1 1420.6,793.2 1421.1,793.4 1421.6,791.1 1422.1,793.7 1422.6,789.6 1423.1,791.3 1423.6,782.0 1424.1,781.4 1424.6,781.3 1425.1,779.0 1425.6,775.6 1426.1,776.5 1426.6,780.5 1427.1,776.1 1427.6,779.4 1428.1,774.6 1428.6,774.2 1429.1,770.2 1429.6,768.0 1430.1,769.6 1430.6,766.9 1431.1,764.4 1431.6,764.1 1432.1,763.0 1432.6,766.6 1433.1,761.2 1433.6,757.4 1434.1,757.5 1434.6,760.2 1435.1,756.6 1435.6,754.4 1436.1,756.1 1436.6,751.6 1437.1,753.9 1437.6,752.0 1438.1,750.7 1438.6,744.9 1439.1,749.6 1439.6,749.5 1440.1,746.0 1440.6,747.9 1441.1,745.8 1441.6,750.6 1442.1,744.5 1442.6,744.7 1443.1,747.0 1443.6,740.9 1444.1,743.9 1444.6,743.5 1445.1,745.7 1445.6,746.2 1446.1,743.8 1446.6,745.8 1447.1,741.4 1447.6,740.5 1448.1,743.8 1448.6,746.0 1449.1,743.5 1449.6,745.1 1450.1,742.6 1450.6,742.9 1451.1,744.5 1451.6,743.7 1452.1,742.0 1452.6,740.9 1453.1,746.2 1453.6,744.0 1454.1,746.6 1454.6,749.0 1455.1,744.5 1455.7,747.1 1456.2,748.3 1456.7,748.6 1457.2,750.5 1457.7,753.2 1458.2,747.9 1458.7,750.7 1459.2,753.0 1459.7,752.5 1460.2,752.8 1460.7,757.0 1461.2,756.4 1461.7,759.4 1462.2,758.5 1462.7,761.6 1463.2,756.9 1463.7,764.2 1464.2,763.6 1464.7,765.0 1465.2,768.1 1465.7,766.7 1466.2,770.3 1466.7,772.4 1467.2,772.9 1467.7,776.0 1468.2,773.3 1468.7,776.0 1469.2,776.8 1469.7,783.5 1470.2,781.5 1470.7,785.4 1471.2,785.2 1471.7,784.2 1472.2,788.1 1472.7,790.8 1473.2,789.7 1473.7,791.6 1474.2,791.6 1474.7,801.4 1475.2,798.4 1475.7,801.8 1476.2,804.6 1476.7,804.3 1477.2,808.9" fill="none" stroke="#049604" stroke-width="6.0" stroke-linejoin="round" stroke-linecap="round"/>
<polyline points="1081.3,805.2 1081.8,807.3 1082.3,811.7 1082.8,817.1 1083.3,822.3 1083.8,825.9 1084.3,826.9 1084.8,825.1 1085.3,821.0 1085.8,815.4 1086.3,809.6 1086.8,804.9 1087.3,802.4 1087.8,802.6 1088.3,805.6 1088.8,810.6 1089.3,816.8 1089.8,822.8 1090.3,827.5 1090.8,830.0 1091.3,829.7 1091.8,826.7 1092.3,821.6 1092.8,815.1 1093.3,808.6 1093.8,803.0 1094.3,799.4 1094.8,798.4 1095.3,800.2 1095.8,804.4 1096.3,810.5 1096.8,817.5 1097.3,824.3 1097.8,829.9 1098.3,833.4 1098.8,834.4 1099.3,832.7 1099.8,828.5 1100.3,822.3 1100.8,815.1 1101.3,807.7 1101.8,801.2 1102.3,796.4 1102.8,793.9 1103.4,794.0 1103.9,796.8 1104.4,801.8 1104.9,808.6 1105.4,816.3 1105.9,824.1 1106.4,830.9 1106.9,836.2 1107.4,839.2 1107.9,839.8 1108.4,837.7 1108.9,833.2 1109.4,826.8 1109.9,819.1 1110.4,810.9 1110.9,803.0 1111.4,796.1 1111.9,791.0 1112.4,788.1 1112.9,787.6 1113.4,789.7 1113.9,794.1 1114.4,800.4 1114.9,808.2 1115.4,816.7 1115.9,825.2 1116.4,833.0 1116.9,839.5 1117.4,844.1 1117.9,846.5 1118.4,846.5 1118.9,844.1 1119.4,839.4 1119.9,832.9 1120.4,825.0 1120.9,816.2 1121.4,807.3 1121.9,798.8 1122.4,791.3 1122.9,785.4 1123.4,781.5 1123.9,779.7 1124.4,780.3 1124.9,783.2 1125.4,788.1 1125.9,794.9 1126.4,803.0 1126.9,812.0 1127.4,821.3 1127.9,830.3 1128.4,838.6 1128.9,845.6 1129.4,851.0 1129.9,854.4 1130.4,855.6 1130.9,854.7 1131.4,851.6 1131.9,846.5 1132.4,839.7 1132.9,831.5 1133.4,822.4 1133.9,812.9 1134.4,803.3 1134.9,794.3 1135.4,786.2 1135.9,779.4 1136.4,774.2 1136.9,770.9 1137.4,769.7 1137.9,770.5 1138.4,773.3 1138.9,778.1 1139.4,784.6 1139.9,792.4 1140.4,801.3 1140.9,811.0 1141.4,820.8 1141.9,830.6 1142.4,839.8 1142.9,848.1 1143.4,855.2 1143.9,860.8 1144.4,864.7 1144.9,866.7 1145.4,866.8 1145.9,864.9 1146.4,861.2 1146.9,855.8 1147.5,848.9 1148.0,840.7 1148.5,831.5 1149.0,821.7 1149.5,811.6 1150.0,801.5 1150.5,791.9 1151.0,782.9 1151.5,774.9 1152.0,768.1 1152.5,762.8 1153.0,759.1 1153.5,757.2 1154.0,757.0 1154.5,758.6 1155.0,761.9 1155.5,766.9 1156.0,773.3 1156.5,781.0 1157.0,789.8 1157.5,799.3 1158.0,809.4 1158.5,819.7 1159.0,829.9 1159.5,839.9 1160.0,849.2 1160.5,857.7 1161.0,865.2 1161.5,871.4 1162.0,876.2 1162.5,879.5 1163.0,881.2 1163.5,881.3 1164.0,879.7 1164.5,876.6 1165.0,871.9 1165.5,865.9 1166.0,858.7 1166.5,850.4 1167.0,841.2 1167.5,831.4 1168.0,821.1 1168.5,810.7 1169.0,800.3 1169.5,790.1 1170.0,780.4 1170.5,771.5 1171.0,763.4 1171.5,756.3 1172.0,750.4 1172.5,745.8 1173.0,742.6 1173.5,740.8 1174.0,740.5 1174.5,741.7 1175.0,744.3 1175.5,748.2 1176.0,753.5 1176.5,760.0 1177.0,767.6 1177.5,776.0 1178.0,785.3 1178.5,795.1 1179.0,805.3 1179.5,815.8 1180.0,826.3 1180.5,836.7 1181.0,846.8 1181.5,856.4 1182.0,865.4 1182.5,873.5 1183.0,880.8 1183.5,887.0 1184.0,892.1 1184.5,895.9 1185.0,898.6 1185.5,899.9 1186.0,899.9 1186.5,898.6 1187.0,896.0 1187.5,892.2 1188.0,887.3 1188.5,881.2 1189.0,874.2 1189.5,866.2 1190.0,857.5 1190.5,848.2 1191.0,838.3 1191.6,828.1 1192.1,817.6 1192.6,807.1 1193.1,796.6 1193.6,786.4 1194.1,776.4 1194.6,767.0 1195.1,758.1 1195.6,750.0 1196.1,742.6 1196.6,736.1 1197.1,730.7 1197.6,726.2 1198.1,722.8 1198.6,720.5 1199.1,719.4 1199.6,719.5 1200.1,720.6 1200.6,722.9 1201.1,726.3 1201.6,730.7 1202.1,736.1 1202.6,742.5 1203.1,749.6 1203.6,757.6 1204.1,766.2 1204.6,775.4 1205.1,785.0 1205.6,795.1 1206.1,805.3 1206.6,815.7 1207.1,826.2 1207.6,836.5 1208.1,846.7 1208.6,856.6 1209.1,866.2 1209.6,875.2 1210.1,883.7 1210.6,891.5 1211.1,898.7 1211.6,905.0 1212.1,910.5 1212.6,915.1 1213.1,918.8 1213.6,921.5 1214.1,923.3 1214.6,924.1 1215.1,923.8 1215.6,922.6 1216.1,920.5 1216.6,917.4 1217.1,913.4 1217.6,908.5 1218.1,902.8 1218.6,896.3 1219.1,889.1 1219.6,881.3 1220.1,872.9 1220.6,864.0 1221.1,854.6 1221.6,845.0 1222.1,835.0 1222.6,824.9 1223.1,814.6 1223.6,804.3 1224.1,794.1 1224.6,784.0 1225.1,774.2 1225.6,764.6 1226.1,755.3 1226.6,746.5 1227.1,738.2 1227.6,730.4 1228.1,723.3 1228.6,716.7 1229.1,710.9 1229.6,705.8 1230.1,701.5 1230.6,697.9 1231.1,695.2 1231.6,693.2 1232.1,692.1 1232.6,691.9 1233.1,692.5 1233.6,693.9 1234.1,696.1 1234.6,699.1 1235.1,702.9 1235.7,707.4 1236.2,712.6 1236.7,718.5 1237.2,725.0 1237.7,732.1 1238.2,739.8 1238.7,747.9 1239.2,756.4 1239.7,765.4 1240.2,774.6 1240.7,784.2 1241.2,793.9 1241.7,803.8 1242.2,813.8 1242.7,823.8 1243.2,833.8 1243.7,843.6 1244.2,853.4 1244.7,863.0 1245.2,872.3 1245.7,881.3 1246.2,890.0 1246.7,898.3 1247.2,906.1 1247.7,913.5 1248.2,920.4 1248.7,926.7 1249.2,932.5 1249.7,937.7 1250.2,942.2 1250.7,946.1 1251.2,949.3 1251.7,951.9 1252.2,953.8 1252.7,954.9 1253.2,955.4 1253.7,955.2 1254.2,954.4 1254.7,952.8 1255.2,950.6 1255.7,947.7 1256.2,944.2 1256.7,940.1 1257.2,935.4 1257.7,930.1 1258.2,924.3 1258.7,918.0 1259.2,911.1 1259.7,903.9 1260.2,896.2 1260.7,888.2 1261.2,879.8 1261.7,871.2 1262.2,862.2 1262.7,853.1 1263.2,843.8 1263.7,834.3 1264.2,824.7 1264.7,815.1 1265.2,805.5 1265.7,795.9 1266.2,786.3 1266.7,776.9 1267.2,767.6 1267.7,758.5 1268.2,749.5 1268.7,740.9 1269.2,732.5 1269.7,724.4 1270.2,716.7 1270.7,709.3 1271.2,702.3 1271.7,695.8 1272.2,689.6 1272.7,684.0 1273.2,678.8 1273.7,674.1 1274.2,670.0 1274.7,666.3 1275.2,663.2 1275.7,660.6 1276.2,658.6 1276.7,657.2 1277.2,656.3 1277.7,655.9 1278.2,656.1 1278.7,656.9 1279.2,658.2 1279.8,660.0 1280.3,662.4 1280.8,665.3 1281.3,668.7 1281.8,672.5 1282.3,676.9 1282.8,681.7 1283.3,687.0 1283.8,692.6 1284.3,698.7 1284.8,705.2 1285.3,712.0 1285.8,719.2 1286.3,726.6 1286.8,734.4 1287.3,742.4 1287.8,750.6 1288.3,759.1 1288.8,767.7 1289.3,776.5 1289.8,785.4 1290.3,794.4 1290.8,803.5 1291.3,812.6 1291.8,821.8 1292.3,830.9 1292.8,840.0 1293.3,849.1 1293.8,858.1 1294.3,866.9 1294.8,875.6 1295.3,884.2 1295.8,892.6 1296.3,900.8 1296.8,908.7 1297.3,916.4 1297.8,923.9 1298.3,931.0 1298.8,937.9 1299.3,944.5 1299.8,950.7 1300.3,956.6 1300.8,962.1 1301.3,967.2 1301.8,972.0 1302.3,976.3 1302.8,980.3 1303.3,983.8 1303.8,987.0 1304.3,989.7 1304.8,992.0 1305.3,993.8 1305.8,995.3 1306.3,996.2 1306.8,996.8 1307.3,996.9 1307.8,996.6 1308.3,995.9 1308.8,994.7 1309.3,993.1 1309.8,991.1 1310.3,988.7 1310.8,985.9 1311.3,982.7 1311.8,979.1 1312.3,975.2 1312.8,970.9 1313.3,966.2 1313.8,961.2 1314.3,955.9 1314.8,950.2 1315.3,944.3 1315.8,938.1 1316.3,931.6 1316.8,924.9 1317.3,917.9 1317.8,910.7 1318.3,903.3 1318.8,895.7 1319.3,887.9 1319.8,880.0 1320.3,872.0 1320.8,863.8 1321.3,855.5 1321.8,847.1 1322.3,838.7 1322.8,830.2 1323.4,821.6 1323.9,813.1 1324.4,804.5 1324.9,796.0 1325.4,787.5 1325.9,779.0 1326.4,770.6 1326.9,762.3 1327.4,754.1 1327.9,745.9 1328.4,737.9 1328.9,730.1 1329.4,722.4 1329.9,714.8 1330.4,707.4 1330.9,700.3 1331.4,693.3 1331.9,686.5 1332.4,680.0 1332.9,673.7 1333.4,667.6 1333.9,661.8 1334.4,656.2 1334.9,650.9 1335.4,645.9 1335.9,641.2 1336.4,636.8 1336.9,632.7 1337.4,628.9 1337.9,625.4 1338.4,622.2 1338.9,619.3 1339.4,616.7 1339.9,614.5 1340.4,612.5 1340.9,611.0 1341.4,609.7 1341.9,608.7 1342.4,608.1 1342.9,607.9 1343.4,607.9 1343.9,608.3 1344.4,608.9 1344.9,609.9 1345.4,611.3 1345.9,612.9 1346.4,614.8 1346.9,617.1 1347.4,619.6 1347.9,622.4 1348.4,625.6 1348.9,629.0 1349.4,632.6 1349.9,636.6 1350.4,640.8 1350.9,645.3 1351.4,650.0 1351.9,654.9 1352.4,660.1 1352.9,665.5 1353.4,671.1 1353.9,676.9 1354.4,683.0 1354.9,689.2 1355.4,695.5 1355.9,702.1 1356.4,708.8 1356.9,715.6 1357.4,722.6 1357.9,729.7 1358.4,737.0 1358.9,744.3 1359.4,751.7 1359.9,759.2 1360.4,766.8 1360.9,774.5 1361.4,782.2 1361.9,790.0 1362.4,797.8 1362.9,805.6 1363.4,813.5 1363.9,821.3 1364.4,829.2 1364.9,837.0 1365.4,844.8 1365.9,852.6 1366.4,860.3 1366.9,868.0 1367.5,875.6 1368.0,883.2 1368.5,890.7 1369.0,898.0 1369.5,905.3 1370.0,912.5 1370.5,919.6 1371.0,926.6 1371.5,933.4 1372.0,940.1 1372.5,946.6 1373.0,953.1 1373.5,959.3 1374.0,965.4 1374.5,971.3 1375.0,977.1 1375.5,982.7 1376.0,988.1 1376.5,993.3 1377.0,998.3 1377.5,1003.1 1378.0,1007.7 1378.5,1012.1 1379.0,1016.3 1379.5,1020.3 1380.0,1024.0 1380.5,1027.6 1381.0,1030.9 1381.5,1034.0 1382.0,1036.9 1382.5,1039.5 1383.0,1041.9 1383.5,1044.1 1384.0,1046.0 1384.5,1047.7 1385.0,1049.2 1385.5,1050.4 1386.0,1051.4 1386.5,1052.2 1387.0,1052.7 1387.5,1053.0 1388.0,1053.1 1388.5,1052.9 1389.0,1052.5 1389.5,1051.9 1390.0,1051.0 1390.5,1050.0 1391.0,1048.6 1391.5,1047.1 1392.0,1045.4 1392.5,1043.4 1393.0,1041.2 1393.5,1038.8 1394.0,1036.2 1394.5,1033.4 1395.0,1030.4 1395.5,1027.2 1396.0,1023.8 1396.5,1020.2 1397.0,1016.5 1397.5,1012.5 1398.0,1008.4 1398.5,1004.1 1399.0,999.6 1399.5,995.0 1400.0,990.2 1400.5,985.2 1401.0,980.1 1401.5,974.9 1402.0,969.5 1402.5,964.0 1403.0,958.4 1403.5,952.6 1404.0,946.8 1404.5,940.8 1405.0,934.7 1405.5,928.5 1406.0,922.2 1406.5,915.8 1407.0,909.4 1407.5,902.8 1408.0,896.2 1408.5,889.6 1409.0,882.8 1409.5,876.0 1410.0,869.2 1410.5,862.3 1411.0,855.4 1411.6,848.4 1412.1,841.5 1412.6,834.4 1413.1,827.4 1413.6,820.4 1414.1,813.4 1414.6,806.3 1415.1,799.3 1415.6,792.3 1416.1,785.3 1416.6,778.3 1417.1,771.4 1417.6,764.4 1418.1,757.5 1418.6,750.7 1419.1,743.9 1419.6,737.2 1420.1,730.5 1420.6,723.8 1421.1,717.3 1421.6,710.8 1422.1,704.4 1422.6,698.0 1423.1,691.8 1423.6,685.6 1424.1,679.5 1424.6,673.5 1425.1,667.6 1425.6,661.8 1426.1,656.1 1426.6,650.5 1427.1,645.1 1427.6,639.7 1428.1,634.5 1428.6,629.4 1429.1,624.4 1429.6,619.5 1430.1,614.8 1430.6,610.2 1431.1,605.7 1431.6,601.4 1432.1,597.2 1432.6,593.1 1433.1,589.2 1433.6,585.4 1434.1,581.8 1434.6,578.4 1435.1,575.0 1435.6,571.9 1436.1,568.8 1436.6,566.0 1437.1,563.3 1437.6,560.7 1438.1,558.3 1438.6,556.1 1439.1,554.0 1439.6,552.1 1440.1,550.3 1440.6,548.7 1441.1,547.3 1441.6,546.0 1442.1,544.9 1442.6,543.9 1443.1,543.1 1443.6,542.5 1444.1,542.0 1444.6,541.7 1445.1,541.5 1445.6,541.5 1446.1,541.7 1446.6,542.0 1447.1,542.4 1447.6,543.0 1448.1,543.8 1448.6,544.7 1449.1,545.8 1449.6,547.0 1450.1,548.4 1450.6,549.9 1451.1,551.6 1451.6,553.4 1452.1,555.4 1452.6,557.5 1453.1,559.7 1453.6,562.1 1454.1,564.6 1454.6,567.3 1455.1,570.1 1455.7,573.0 1456.2,576.0 1456.7,579.2 1457.2,582.4 1457.7,585.9 1458.2,589.4 1458.7,593.0 1459.2,596.8 1459.7,600.7 1460.2,604.6 1460.7,608.7 1461.2,612.9 1461.7,617.2 1462.2,621.6 1462.7,626.1 1463.2,630.7 1463.7,635.3 1464.2,640.1 1464.7,645.0 1465.2,649.9 1465.7,654.9 1466.2,660.0 1466.7,665.2 1467.2,670.4 1467.7,675.7 1468.2,681.1 1468.7,686.5 1469.2,692.0 1469.7,697.6 1470.2,703.2 1470.7,708.8 1471.2,714.6 1471.7,720.3 1472.2,726.1 1472.7,732.0 1473.2,737.8 1473.7,743.8 1474.2,749.7 1474.7,755.7 1475.2,761.7 1475.7,767.7 1476.2,773.8 1476.7,779.8 1477.2,785.9" fill="none" stroke="#000" stroke-width="4.8" stroke-linejoin="round" stroke-linecap="round" stroke-dasharray="8 14.5 0 14.5"/>
</g>
<g clip-path="url(#c2)">
<polyline points="597.2,866.9 597.8,862.9 598.4,861.8 599.0,855.9 599.6,867.3 600.2,871.3 600.8,876.9 601.4,875.2 602.0,876.3 602.6,894.1 603.2,890.8 603.8,902.4 604.4,893.3 605.0,884.5 605.6,904.2 606.2,905.1 606.8,895.2 607.4,895.5 608.0,893.8 608.6,893.5 609.2,897.7 609.8,888.9 610.4,894.8 611.0,882.3 611.6,885.9 612.2,890.6 612.8,878.1 613.4,871.1 614.0,875.9 614.6,867.9 615.2,869.3 615.8,867.6 616.4,871.6 617.0,855.1 617.6,858.6 618.2,853.3 618.8,856.8 619.4,854.5 620.0,846.2 620.6,850.9 621.2,850.8 621.9,854.1 622.5,849.7 623.1,849.0 623.7,855.2 624.3,856.4 624.9,862.7 625.5,856.3 626.1,866.8 626.7,868.6 627.3,865.7 627.9,876.3 628.5,884.9 629.1,886.5 629.7,888.2 630.3,884.1 630.9,893.1 631.5,897.8 632.1,896.9 632.7,897.7 633.3,907.1 633.9,901.0 634.5,904.3 635.1,906.6 635.7,917.1 636.3,907.9 636.9,903.1 637.5,908.2 638.1,897.6 638.7,903.8 639.3,905.6 639.9,897.3 640.5,895.4 641.1,890.2 641.7,890.4 642.3,881.0 642.9,883.5 643.5,876.7 644.1,877.1 644.7,870.9 645.3,862.6 645.9,861.0 646.5,855.6 647.1,850.2 647.7,844.2 648.3,838.2 648.9,834.4 649.5,830.0 650.1,829.8 650.7,829.8 651.3,831.4 651.9,825.3 652.5,825.8 653.1,829.0 653.7,816.6 654.3,829.7 654.9,823.0 655.5,823.9 656.1,828.9 656.7,821.4 657.3,833.7 657.9,840.1 658.5,834.9 659.1,848.3 659.7,855.1 660.3,858.3 660.9,861.9 661.5,864.5 662.1,868.6 662.7,880.5 663.3,879.0 663.9,877.4 664.5,893.0 665.1,895.9 665.7,897.6 666.3,900.3 666.9,911.3 667.5,916.4 668.1,920.3 668.7,916.1 669.3,919.8 669.9,933.6 670.5,935.8 671.2,936.6 671.8,938.3 672.4,935.3 673.0,939.9 673.6,933.1 674.2,938.9 674.8,948.4 675.4,939.6 676.0,933.1 676.6,942.8 677.2,927.1 677.8,931.0 678.4,934.8 679.0,921.1 679.6,918.8 680.2,920.9 680.8,915.5 681.4,913.8 682.0,909.1 682.6,902.7 683.2,904.7 683.8,894.0 684.4,890.3 685.0,885.8 685.6,891.6 686.2,886.6 686.8,872.6 687.4,872.3 688.0,867.8 688.6,863.1 689.2,860.2 689.8,851.3 690.4,847.9 691.0,842.7 691.6,833.8 692.2,835.0 692.8,822.0 693.4,829.5 694.0,808.1 694.6,817.9 695.2,807.0 695.8,802.1 696.4,802.0 697.0,796.2 697.6,796.5 698.2,800.0 698.8,790.3 699.4,785.8 700.0,790.6 700.6,793.9 701.2,789.4 701.8,785.9 702.4,786.3 703.0,784.1 703.6,787.3 704.2,789.3 704.8,800.6 705.4,788.1 706.0,799.2 706.6,799.9 707.2,808.4 707.8,812.2 708.4,816.2 709.0,815.8 709.6,821.3 710.2,830.0 710.8,830.6 711.4,844.9 712.0,847.2 712.6,856.3 713.2,855.4 713.8,865.3 714.4,867.0 715.0,869.2 715.6,887.7 716.2,876.8 716.8,887.9 717.4,894.5 718.0,904.4 718.6,902.5 719.2,913.5 719.8,908.5 720.5,913.0 721.1,909.2 721.7,920.3 722.3,918.4 722.9,921.1 723.5,920.8 724.1,932.1 724.7,931.2 725.3,942.2 725.9,943.3 726.5,942.8 727.1,944.3 727.7,951.0 728.3,950.4 728.9,948.6 729.5,955.0 730.1,956.1 730.7,960.8 731.3,954.5 731.9,955.0 732.5,962.6 733.1,966.5 733.7,961.8 734.3,972.3 734.9,975.2 735.5,978.3 736.1,976.5 736.7,975.3 737.3,987.2 737.9,988.6 738.5,988.0 739.1,987.9 739.7,973.1 740.3,1003.8 740.9,998.0 741.5,1004.5 742.1,987.4 742.7,1015.6 743.3,997.7 743.9,973.6 744.5,988.3 745.1,991.4 745.7,982.3 746.3,974.9 746.9,974.9 747.5,980.5 748.1,963.8 748.7,963.4 749.3,956.5 749.9,948.8 750.5,945.8 751.1,944.9 751.7,941.1 752.3,935.3 752.9,928.1 753.5,924.0 754.1,922.3 754.7,913.4 755.3,907.8 755.9,900.7 756.5,896.4 757.1,885.9 757.7,883.9 758.3,875.1 758.9,871.8 759.5,867.6 760.1,862.3 760.7,852.8 761.3,843.5 761.9,834.0 762.5,832.2 763.1,826.9 763.7,820.1 764.3,806.8 764.9,804.4 765.5,800.0 766.1,789.1 766.7,790.3 767.3,778.9 767.9,773.5 768.5,768.1 769.1,766.3 769.8,753.3 770.4,745.7 771.0,752.0 771.6,742.3 772.2,736.2 772.8,726.6 773.4,732.9 774.0,731.7 774.6,725.5 775.2,715.7 775.8,720.7 776.4,718.3 777.0,711.4 777.6,724.6 778.2,724.0 778.8,712.4 779.4,712.9 780.0,721.0 780.6,714.2 781.2,716.3 781.8,716.2 782.4,720.8 783.0,720.5 783.6,723.3 784.2,721.4 784.8,724.1 785.4,719.0 786.0,725.0 786.6,735.3 787.2,730.5 787.8,729.4 788.4,736.5 789.0,736.5 789.6,743.7 790.2,744.3 790.8,753.7 791.4,750.9 792.0,762.5 792.6,756.5 793.2,770.6 793.8,776.7 794.4,771.1 795.0,777.7 795.6,780.9 796.2,783.9 796.8,789.9 797.4,797.3 798.0,797.6 798.6,801.5 799.2,805.3 799.8,804.3 800.4,818.6 801.0,820.0 801.6,822.6 802.2,830.6 802.8,837.7 803.4,839.7 804.0,838.0 804.6,847.0 805.2,848.0 805.8,857.0 806.4,856.8 807.0,864.8 807.6,869.4 808.2,869.8 808.8,873.8 809.4,872.3 810.0,887.3 810.6,883.0 811.2,882.5 811.8,886.8 812.4,896.5 813.0,900.8 813.6,903.3 814.2,903.5 814.8,906.9 815.4,909.3 816.0,911.2 816.6,920.1 817.2,923.1 817.8,926.1 818.4,929.2 819.1,927.2 819.7,928.2 820.3,922.6 820.9,932.3 821.5,936.5 822.1,933.7 822.7,943.9 823.3,942.2 823.9,942.0 824.5,944.8 825.1,948.3 825.7,953.1 826.3,958.4 826.9,956.4 827.5,960.0 828.1,957.2 828.7,962.1 829.3,961.4 829.9,971.2 830.5,963.6 831.1,972.0 831.7,976.4 832.3,977.5 832.9,976.5 833.5,971.8 834.1,975.0 834.7,983.5 835.3,980.6 835.9,982.9 836.5,989.9 837.1,989.3 837.7,994.8 838.3,992.1 838.9,1000.1 839.5,994.9 840.1,997.0 840.7,998.0 841.3,999.6 841.9,993.9 842.5,1000.9 843.1,1000.2 843.7,999.9 844.3,1000.8 844.9,1003.1 845.5,1009.0 846.1,1012.4 846.7,1012.7 847.3,1013.0 847.9,1012.7 848.5,1014.4 849.1,1011.5 849.7,1017.3 850.3,1011.7 850.9,1015.9 851.5,1022.7 852.1,1019.2 852.7,1034.1 853.3,1019.9 853.9,1024.7 854.5,1026.0 855.1,1034.9 855.7,1020.8 856.3,1032.1 856.9,1032.9 857.5,1029.4 858.1,1035.7 858.7,1040.3 859.3,1034.2 859.9,1044.4 860.5,1037.8 861.1,1043.8 861.7,1040.7 862.3,1050.7 862.9,1044.5 863.5,1046.1 864.1,1036.8 864.7,1044.8 865.3,1038.1 865.9,1050.4 866.5,1043.1 867.1,1054.3 867.7,1043.3 868.4,1058.8 869.0,1050.7 869.6,1062.9 870.2,1052.8 870.8,1053.0 871.4,1050.8 872.0,1053.7 872.6,1063.3 873.2,1059.2 873.8,1055.1 874.4,1055.8 875.0,1057.8 875.6,1056.7 876.2,1053.8 876.8,1056.9 877.4,1048.4 878.0,1052.8 878.6,1051.5 879.2,1041.1 879.8,1047.5 880.4,1041.2 881.0,1036.3 881.6,1032.0 882.2,1035.6 882.8,1029.9 883.4,1027.1 884.0,1029.0 884.6,1029.3 885.2,1024.8 885.8,1011.6 886.4,1009.3 887.0,1010.1 887.6,1002.8 888.2,997.1 888.8,991.8 889.4,985.2 890.0,971.6 890.6,976.7 891.2,967.4 891.8,964.6 892.4,957.9 893.0,952.4 893.6,943.5 894.2,938.1 894.8,928.1 895.4,921.8 896.0,919.0 896.6,901.9 897.2,906.3 897.8,893.8 898.4,880.3 899.0,884.0 899.6,869.7 900.2,862.6 900.8,859.6 901.4,860.5 902.0,841.6 902.6,839.3 903.2,834.5 903.8,820.6 904.4,820.6 905.0,806.8 905.6,805.3 906.2,794.0 906.8,792.4 907.4,782.5 908.0,776.9 908.6,768.7 909.2,758.0 909.8,751.8 910.4,743.0 911.0,731.6 911.6,729.3 912.2,728.2 912.8,715.1 913.4,706.5 914.0,695.8 914.6,688.5 915.2,681.6 915.8,678.8 916.4,668.6 917.0,669.3 917.7,652.5 918.3,648.9 918.9,641.9 919.5,638.6 920.1,630.6 920.7,627.0 921.3,616.3 921.9,617.2 922.5,602.9 923.1,598.7 923.7,587.8 924.3,589.8 924.9,584.8 925.5,578.7 926.1,574.3 926.7,570.2 927.3,569.3 927.9,565.0 928.5,558.9 929.1,554.0 929.7,553.5 930.3,549.9 930.9,543.5 931.5,536.7 932.1,537.3 932.7,531.6 933.3,528.2 933.9,526.8 934.5,529.3 935.1,527.6 935.7,531.5 936.3,526.1 936.9,521.0 937.5,526.0 938.1,516.8 938.7,516.3 939.3,523.0 939.9,518.5 940.5,527.5 941.1,526.7 941.7,525.0 942.3,524.3 942.9,525.9 943.5,529.4 944.1,520.2 944.7,527.6 945.3,529.1 945.9,529.2 946.5,532.8 947.1,536.1 947.7,539.2 948.3,545.2 948.9,536.1 949.5,547.2 950.1,552.4 950.7,551.8 951.3,557.4 951.9,547.2 952.5,556.0 953.1,555.3 953.7,558.3 954.3,564.7 954.9,568.1 955.5,576.3 956.1,577.5 956.7,583.1 957.3,584.6 957.9,591.3 958.5,588.2 959.1,594.3 959.7,601.8 960.3,611.8 960.9,607.7 961.5,611.4 962.1,619.3 962.7,628.0 963.3,626.1 963.9,628.0 964.5,642.9 965.1,638.0 965.7,650.6 966.3,647.8 967.0,645.7 967.6,655.6 968.2,658.1 968.8,665.0 969.4,667.7 970.0,663.0 970.6,670.5 971.2,680.4 971.8,684.4 972.4,686.8 973.0,682.7 973.6,693.7 974.2,694.3 974.8,703.4 975.4,710.6 976.0,705.0 976.6,714.0 977.2,720.4 977.8,724.0 978.4,727.9 979.0,731.6 979.6,738.9 980.2,732.9 980.8,739.7 981.4,741.4 982.0,750.1 982.6,751.4 983.2,755.8 983.8,756.0 984.4,761.1 985.0,766.6 985.6,774.0 986.2,779.9 986.8,782.2 987.4,785.5 988.0,789.0 988.6,795.4 989.2,788.8 989.8,797.8 990.4,810.1 991.0,810.7 991.6,815.7" fill="none" stroke="#ff0000" stroke-width="5.8" stroke-linejoin="round" stroke-linecap="round"/>
<polyline points="597.2,860.0 597.8,866.1 598.4,862.9 599.0,864.8 599.6,865.2 600.2,872.1 600.8,871.3 601.4,876.2 602.0,876.1 602.6,875.7 603.2,869.6 603.8,882.4 604.4,882.0 605.0,885.9 605.6,883.8 606.2,887.4 606.8,886.2 607.4,889.2 608.0,882.0 608.6,885.4 609.2,895.8 609.8,887.7 610.4,887.2 611.0,893.8 611.6,887.1 612.2,883.6 612.8,882.4 613.4,876.9 614.0,881.3 614.6,869.7 615.2,867.0 615.8,866.1 616.4,866.2 617.0,862.8 617.6,862.4 618.2,854.9 618.8,855.7 619.4,849.2 620.0,856.7 620.6,849.7 621.2,856.9 621.9,855.7 622.5,859.4 623.1,854.8 623.7,858.3 624.3,857.6 624.9,856.5 625.5,864.4 626.1,865.4 626.7,866.2 627.3,872.5 627.9,877.2 628.5,877.0 629.1,879.5 629.7,881.4 630.3,884.0 630.9,892.0 631.5,890.5 632.1,889.9 632.7,897.9 633.3,896.6 633.9,901.5 634.5,899.6 635.1,894.7 635.7,900.6 636.3,904.6 636.9,899.5 637.5,899.3 638.1,895.1 638.7,902.6 639.3,899.2 639.9,894.3 640.5,897.2 641.1,885.1 641.7,893.5 642.3,886.2 642.9,885.3 643.5,878.9 644.1,870.2 644.7,867.3 645.3,862.4 645.9,859.9 646.5,865.7 647.1,853.8 647.7,858.1 648.3,850.1 648.9,846.7 649.5,844.5 650.1,838.4 650.7,840.9 651.3,830.2 651.9,832.9 652.5,830.0 653.1,831.1 653.7,830.6 654.3,834.4 654.9,828.2 655.5,840.2 656.1,836.5 656.7,840.2 657.3,843.5 657.9,844.3 658.5,851.1 659.1,848.7 659.7,852.5 660.3,858.7 660.9,860.2 661.5,870.5 662.1,877.3 662.7,877.0 663.3,879.9 663.9,874.2 664.5,887.8 665.1,887.2 665.7,891.5 666.3,890.6 666.9,901.0 667.5,902.3 668.1,908.2 668.7,913.2 669.3,916.1 669.9,917.4 670.5,911.4 671.2,917.0 671.8,919.8 672.4,920.2 673.0,922.9 673.6,921.4 674.2,921.5 674.8,918.9 675.4,917.6 676.0,926.0 676.6,918.5 677.2,913.3 677.8,920.5 678.4,916.2 679.0,912.9 679.6,907.6 680.2,907.3 680.8,907.8 681.4,902.7 682.0,898.1 682.6,897.5 683.2,889.2 683.8,891.2 684.4,893.1 685.0,888.7 685.6,882.8 686.2,879.4 686.8,872.8 687.4,869.9 688.0,861.2 688.6,860.5 689.2,854.2 689.8,858.3 690.4,853.2 691.0,845.4 691.6,843.6 692.2,838.0 692.8,835.7 693.4,835.3 694.0,823.6 694.6,822.3 695.2,828.9 695.8,822.6 696.4,817.7 697.0,812.9 697.6,813.4 698.2,816.1 698.8,806.7 699.4,809.0 700.0,803.0 700.6,805.5 701.2,802.7 701.8,803.2 702.4,803.4 703.0,809.0 703.6,804.6 704.2,809.0 704.8,816.0 705.4,815.2 706.0,817.6 706.6,817.6 707.2,820.1 707.8,830.0 708.4,827.2 709.0,834.0 709.6,841.6 710.2,839.1 710.8,849.1 711.4,855.0 712.0,852.4 712.6,856.1 713.2,865.9 713.8,863.8 714.4,867.9 715.0,877.0 715.6,871.7 716.2,882.4 716.8,884.7 717.4,897.2 718.0,889.5 718.6,896.9 719.2,896.0 719.8,906.3 720.5,898.7 721.1,900.2 721.7,901.1 722.3,920.6 722.9,910.2 723.5,913.2 724.1,927.3 724.7,921.1 725.3,920.8 725.9,917.3 726.5,927.1 727.1,925.1 727.7,927.8 728.3,927.9 728.9,932.2 729.5,929.1 730.1,930.3 730.7,940.0 731.3,932.6 731.9,940.5 732.5,940.1 733.1,936.4 733.7,941.2 734.3,940.6 734.9,940.9 735.5,942.5 736.1,947.5 736.7,949.7 737.3,944.7 737.9,945.1 738.5,947.0 739.1,949.4 739.7,946.0 740.3,949.4 740.9,954.2 741.5,948.3 742.1,947.3 742.7,946.0 743.3,951.5 743.9,950.3 744.5,945.7 745.1,947.5 745.7,945.0 746.3,940.0 746.9,940.4 747.5,933.5 748.1,937.0 748.7,929.8 749.3,929.6 749.9,921.8 750.5,927.9 751.1,925.2 751.7,917.1 752.3,920.1 752.9,916.4 753.5,910.1 754.1,905.8 754.7,908.1 755.3,898.1 755.9,895.8 756.5,890.5 757.1,885.4 757.7,882.2 758.3,873.3 758.9,870.8 759.5,868.6 760.1,863.0 760.7,854.9 761.3,851.0 761.9,844.6 762.5,844.7 763.1,838.9 763.7,827.5 764.3,830.0 764.9,819.3 765.5,817.6 766.1,817.6 766.7,816.6 767.3,805.1 767.9,805.7 768.5,801.7 769.1,801.5 769.8,787.5 770.4,787.9 771.0,784.9 771.6,780.5 772.2,778.2 772.8,776.1 773.4,772.2 774.0,772.9 774.6,779.1 775.2,765.7 775.8,765.4 776.4,765.7 777.0,759.3 777.6,769.1 778.2,774.0 778.8,758.3 779.4,762.1 780.0,769.6 780.6,765.0 781.2,761.4 781.8,768.0 782.4,762.0 783.0,757.0 783.6,760.2 784.2,766.0 784.8,765.6 785.4,771.2 786.0,768.6 786.6,771.7 787.2,775.5 787.8,778.4 788.4,768.6 789.0,777.1 789.6,783.0 790.2,783.0 790.8,778.6 791.4,780.5 792.0,790.8 792.6,790.5 793.2,790.7 793.8,797.8 794.4,803.5 795.0,805.7 795.6,805.1 796.2,810.8 796.8,815.7 797.4,815.0 798.0,814.0 798.6,818.0 799.2,824.4 799.8,820.1 800.4,832.8 801.0,833.5 801.6,841.3 802.2,836.9 802.8,843.3 803.4,852.0 804.0,852.2 804.6,846.1 805.2,853.0 805.8,858.3 806.4,858.8 807.0,870.5 807.6,870.8 808.2,875.6 808.8,876.8 809.4,878.1 810.0,877.7 810.6,879.2 811.2,882.4 811.8,879.4 812.4,893.7 813.0,894.9 813.6,895.9 814.2,903.5 814.8,904.3 815.4,904.5 816.0,911.7 816.6,909.5 817.2,909.3 817.8,920.1 818.4,926.6 819.1,920.6 819.7,926.9 820.3,924.9 820.9,929.3 821.5,928.8 822.1,928.0 822.7,931.3 823.3,937.5 823.9,942.4 824.5,949.1 825.1,950.0 825.7,947.1 826.3,945.8 826.9,950.5 827.5,952.1 828.1,957.5 828.7,959.5 829.3,961.6 829.9,955.2 830.5,966.2 831.1,958.6 831.7,965.9 832.3,962.6 832.9,965.4 833.5,965.3 834.1,965.5 834.7,974.2 835.3,976.6 835.9,976.4 836.5,979.3 837.1,975.7 837.7,980.0 838.3,981.1 838.9,981.1 839.5,985.7 840.1,981.6 840.7,993.5 841.3,987.6 841.9,988.2 842.5,994.1 843.1,995.3 843.7,991.1 844.3,996.9 844.9,1004.0 845.5,1003.4 846.1,996.5 846.7,1004.6 847.3,998.3 847.9,999.5 848.5,1006.5 849.1,1005.2 849.7,1011.5 850.3,1011.3 850.9,1013.7 851.5,1010.5 852.1,1018.5 852.7,1015.7 853.3,1016.4 853.9,1016.0 854.5,1026.6 855.1,1026.7 855.7,1024.7 856.3,1023.6 856.9,1023.5 857.5,1024.4 858.1,1019.1 858.7,1025.0 859.3,1026.3 859.9,1031.1 860.5,1027.6 861.1,1028.9 861.7,1029.9 862.3,1033.5 862.9,1031.7 863.5,1029.3 864.1,1038.3 864.7,1043.7 865.3,1033.8 865.9,1034.7 866.5,1038.6 867.1,1039.8 867.7,1028.8 868.4,1040.6 869.0,1043.7 869.6,1041.4 870.2,1038.1 870.8,1042.2 871.4,1040.9 872.0,1037.8 872.6,1039.7 873.2,1036.9 873.8,1036.4 874.4,1038.9 875.0,1033.5 875.6,1036.3 876.2,1027.2 876.8,1031.9 877.4,1027.3 878.0,1030.5 878.6,1023.1 879.2,1023.1 879.8,1010.4 880.4,1012.8 881.0,1007.1 881.6,1011.4 882.2,1005.7 882.8,997.7 883.4,997.6 884.0,984.2 884.6,984.9 885.2,978.0 885.8,972.3 886.4,968.6 887.0,959.8 887.6,959.3 888.2,949.9 888.8,941.1 889.4,938.6 890.0,932.9 890.6,928.4 891.2,920.8 891.8,912.4 892.4,909.4 893.0,908.2 893.6,895.4 894.2,890.3 894.8,881.9 895.4,877.2 896.0,865.7 896.6,869.3 897.2,862.3 897.8,850.3 898.4,849.9 899.0,838.8 899.6,833.6 900.2,835.0 900.8,820.4 901.4,812.4 902.0,811.0 902.6,811.2 903.2,798.0 903.8,798.9 904.4,790.2 905.0,782.9 905.6,781.6 906.2,779.3 906.8,768.5 907.4,762.7 908.0,760.1 908.6,754.5 909.2,743.8 909.8,741.4 910.4,737.5 911.0,732.7 911.6,724.8 912.2,719.9 912.8,715.8 913.4,715.0 914.0,706.4 914.6,702.4 915.2,695.1 915.8,686.6 916.4,682.6 917.0,679.0 917.7,676.3 918.3,673.3 918.9,666.6 919.5,665.1 920.1,660.4 920.7,658.1 921.3,651.3 921.9,647.5 922.5,637.0 923.1,637.7 923.7,637.4 924.3,629.9 924.9,630.8 925.5,622.4 926.1,619.9 926.7,609.0 927.3,619.3 927.9,612.6 928.5,609.6 929.1,605.3 929.7,601.2 930.3,604.5 930.9,601.3 931.5,595.6 932.1,591.4 932.7,596.9 933.3,596.8 933.9,586.2 934.5,586.1 935.1,584.3 935.7,590.7 936.3,587.5 936.9,585.7 937.5,584.9 938.1,586.9 938.7,586.9 939.3,583.8 939.9,589.4 940.5,590.5 941.1,591.0 941.7,592.2 942.3,590.6 942.9,592.5 943.5,594.1 944.1,588.7 944.7,593.6 945.3,596.9 945.9,592.7 946.5,600.3 947.1,599.9 947.7,601.8 948.3,605.2 948.9,606.3 949.5,606.6 950.1,613.8 950.7,612.3 951.3,612.3 951.9,614.5 952.5,616.8 953.1,612.3 953.7,620.6 954.3,626.0 954.9,628.6 955.5,631.0 956.1,632.4 956.7,637.9 957.3,634.9 957.9,647.0 958.5,644.4 959.1,648.3 959.7,657.4 960.3,654.9 960.9,658.7 961.5,666.4 962.1,659.9 962.7,668.9 963.3,675.9 963.9,679.8 964.5,684.0 965.1,683.9 965.7,687.8 966.3,696.1 967.0,698.0 967.6,700.1 968.2,702.3 968.8,705.3 969.4,709.5 970.0,708.2 970.6,710.2 971.2,716.3 971.8,727.1 972.4,723.3 973.0,723.9 973.6,729.2 974.2,731.1 974.8,734.8 975.4,743.3 976.0,749.9 976.6,742.4 977.2,749.4 977.8,749.4 978.4,755.0 979.0,757.8 979.6,755.8 980.2,767.6 980.8,766.7 981.4,773.5 982.0,772.7 982.6,774.4 983.2,776.9 983.8,781.7 984.4,789.9 985.0,787.5 985.6,788.4 986.2,791.2 986.8,790.4 987.4,798.9 988.0,807.3 988.6,808.8 989.2,809.9 989.8,809.9 990.4,820.5 991.0,816.8 991.6,821.0" fill="none" stroke="#ff7f00" stroke-width="5.8" stroke-linejoin="round" stroke-linecap="round"/>
<polyline points="597.2,866.8 597.8,862.3 598.4,867.8 599.0,866.4 599.6,868.9 600.2,868.8 600.8,875.5 601.4,871.7 602.0,883.0 602.6,879.1 603.2,881.7 603.8,876.5 604.4,881.8 605.0,886.9 605.6,889.6 606.2,887.5 606.8,890.6 607.4,881.3 608.0,898.4 608.6,888.6 609.2,896.5 609.8,883.9 610.4,888.9 611.0,879.4 611.6,885.0 612.2,877.7 612.8,878.7 613.4,873.2 614.0,874.9 614.6,882.8 615.2,873.0 615.8,873.6 616.4,863.0 617.0,862.5 617.6,862.5 618.2,859.4 618.8,858.9 619.4,860.4 620.0,851.1 620.6,856.5 621.2,857.8 621.9,862.4 622.5,860.1 623.1,858.8 623.7,860.7 624.3,863.3 624.9,863.6 625.5,869.3 626.1,867.8 626.7,875.4 627.3,875.7 627.9,877.9 628.5,875.1 629.1,879.1 629.7,883.1 630.3,889.7 630.9,889.5 631.5,887.7 632.1,888.1 632.7,899.0 633.3,897.0 633.9,896.3 634.5,896.4 635.1,898.1 635.7,896.2 636.3,903.3 636.9,892.8 637.5,901.3 638.1,896.3 638.7,893.5 639.3,889.8 639.9,889.0 640.5,887.0 641.1,883.4 641.7,885.7 642.3,879.9 642.9,874.4 643.5,879.1 644.1,878.1 644.7,873.6 645.3,862.1 645.9,859.4 646.5,861.6 647.1,856.4 647.7,852.6 648.3,847.8 648.9,855.1 649.5,848.1 650.1,845.0 650.7,841.2 651.3,840.5 651.9,840.7 652.5,837.8 653.1,847.2 653.7,828.1 654.3,836.1 654.9,836.7 655.5,843.1 656.1,840.9 656.7,837.2 657.3,840.2 657.9,848.5 658.5,855.7 659.1,853.9 659.7,858.6 660.3,858.0 660.9,868.6 661.5,868.5 662.1,870.5 662.7,876.6 663.3,875.1 663.9,886.1 664.5,890.0 665.1,890.4 665.7,889.7 666.3,896.7 666.9,900.7 667.5,898.7 668.1,903.3 668.7,908.2 669.3,908.1 669.9,911.2 670.5,910.0 671.2,912.9 671.8,917.3 672.4,917.0 673.0,917.4 673.6,915.1 674.2,915.2 674.8,919.1 675.4,916.6 676.0,914.3 676.6,910.9 677.2,912.8 677.8,905.8 678.4,911.0 679.0,907.0 679.6,908.8 680.2,909.2 680.8,903.3 681.4,899.8 682.0,897.9 682.6,895.9 683.2,894.8 683.8,893.7 684.4,888.9 685.0,883.2 685.6,878.4 686.2,889.6 686.8,873.0 687.4,868.0 688.0,863.9 688.6,863.4 689.2,859.0 689.8,859.3 690.4,854.6 691.0,849.0 691.6,851.1 692.2,846.7 692.8,840.1 693.4,842.2 694.0,834.4 694.6,836.7 695.2,828.2 695.8,826.2 696.4,825.9 697.0,825.0 697.6,821.5 698.2,825.7 698.8,818.0 699.4,815.0 700.0,810.4 700.6,815.6 701.2,814.2 701.8,808.8 702.4,807.9 703.0,816.1 703.6,811.8 704.2,812.7 704.8,816.6 705.4,823.7 706.0,825.8 706.6,823.3 707.2,820.2 707.8,831.9 708.4,829.3 709.0,831.7 709.6,846.1 710.2,847.7 710.8,844.4 711.4,850.1 712.0,855.4 712.6,861.1 713.2,862.7 713.8,870.6 714.4,863.4 715.0,879.2 715.6,884.6 716.2,881.1 716.8,879.6 717.4,889.1 718.0,890.4 718.6,896.3 719.2,895.6 719.8,901.3 720.5,903.6 721.1,907.4 721.7,906.4 722.3,900.3 722.9,908.8 723.5,909.9 724.1,904.8 724.7,916.4 725.3,919.4 725.9,915.9 726.5,923.5 727.1,919.7 727.7,918.4 728.3,927.5 728.9,927.1 729.5,920.8 730.1,931.6 730.7,931.6 731.3,929.7 731.9,932.8 732.5,935.8 733.1,928.5 733.7,937.0 734.3,934.9 734.9,938.4 735.5,938.6 736.1,943.3 736.7,936.2 737.3,941.5 737.9,936.3 738.5,945.1 739.1,943.2 739.7,940.2 740.3,941.7 740.9,944.4 741.5,942.6 742.1,946.4 742.7,941.5 743.3,950.4 743.9,940.2 744.5,935.4 745.1,936.2 745.7,935.3 746.3,938.4 746.9,933.9 747.5,935.4 748.1,932.6 748.7,930.7 749.3,939.7 749.9,922.6 750.5,921.7 751.1,917.7 751.7,920.9 752.3,912.2 752.9,909.7 753.5,915.6 754.1,910.5 754.7,900.7 755.3,899.4 755.9,893.3 756.5,891.5 757.1,880.2 757.7,887.8 758.3,881.9 758.9,876.4 759.5,873.6 760.1,866.7 760.7,860.5 761.3,860.6 761.9,850.4 762.5,842.7 763.1,839.1 763.7,831.6 764.3,830.2 764.9,829.9 765.5,819.4 766.1,818.9 766.7,810.9 767.3,814.0 767.9,816.7 768.5,809.8 769.1,801.6 769.8,796.9 770.4,796.3 771.0,789.1 771.6,793.6 772.2,789.4 772.8,781.1 773.4,782.1 774.0,779.9 774.6,773.6 775.2,773.1 775.8,778.2 776.4,773.7 777.0,779.3 777.6,772.8 778.2,771.0 778.8,778.0 779.4,766.7 780.0,765.3 780.6,770.4 781.2,768.9 781.8,767.1 782.4,773.1 783.0,769.4 783.6,772.3 784.2,779.6 784.8,778.4 785.4,778.3 786.0,773.8 786.6,778.5 787.2,776.9 787.8,783.4 788.4,787.9 789.0,778.2 789.6,777.9 790.2,787.9 790.8,792.0 791.4,789.5 792.0,799.6 792.6,798.9 793.2,805.6 793.8,801.5 794.4,804.9 795.0,809.8 795.6,813.4 796.2,819.1 796.8,819.5 797.4,815.3 798.0,823.6 798.6,821.0 799.2,831.2 799.8,831.4 800.4,835.7 801.0,838.0 801.6,837.4 802.2,850.0 802.8,843.4 803.4,846.5 804.0,851.8 804.6,854.4 805.2,858.3 805.8,858.1 806.4,863.1 807.0,869.0 807.6,868.3 808.2,868.3 808.8,873.0 809.4,876.8 810.0,878.8 810.6,884.2 811.2,887.2 811.8,895.1 812.4,892.2 813.0,891.1 813.6,898.6 814.2,903.1 814.8,899.6 815.4,904.6 816.0,907.2 816.6,908.6 817.2,910.2 817.8,915.1 818.4,920.1 819.1,913.5 819.7,921.5 820.3,926.5 820.9,925.3 821.5,923.9 822.1,934.8 822.7,927.5 823.3,934.4 823.9,929.1 824.5,935.5 825.1,940.0 825.7,937.2 826.3,938.9 826.9,946.2 827.5,946.0 828.1,950.3 828.7,947.1 829.3,956.7 829.9,954.2 830.5,962.6 831.1,955.0 831.7,966.2 832.3,963.9 832.9,961.0 833.5,964.7 834.1,966.6 834.7,970.0 835.3,969.9 835.9,975.8 836.5,970.3 837.1,970.0 837.7,971.4 838.3,975.4 838.9,972.4 839.5,976.3 840.1,975.9 840.7,979.1 841.3,981.6 841.9,985.5 842.5,993.1 843.1,983.3 843.7,987.1 844.3,981.2 844.9,995.9 845.5,987.5 846.1,994.8 846.7,992.8 847.3,997.0 847.9,994.0 848.5,996.5 849.1,994.6 849.7,998.2 850.3,998.2 850.9,996.6 851.5,1000.3 852.1,1003.6 852.7,1000.0 853.3,1005.6 853.9,1004.9 854.5,1008.4 855.1,1010.5 855.7,1019.4 856.3,1007.8 856.9,1015.0 857.5,1009.4 858.1,1006.6 858.7,1018.0 859.3,1011.3 859.9,1015.4 860.5,1014.2 861.1,1020.4 861.7,1016.8 862.3,1016.9 862.9,1013.1 863.5,1011.1 864.1,1017.7 864.7,1020.4 865.3,1011.9 865.9,1020.1 866.5,1020.2 867.1,1019.9 867.7,1018.9 868.4,1018.1 869.0,1022.5 869.6,1020.8 870.2,1013.9 870.8,1014.4 871.4,1017.4 872.0,1016.9 872.6,1017.4 873.2,1011.8 873.8,1015.4 874.4,1011.5 875.0,1011.5 875.6,1009.9 876.2,1005.3 876.8,1002.9 877.4,1002.1 878.0,997.4 878.6,993.8 879.2,992.2 879.8,989.3 880.4,983.8 881.0,977.0 881.6,971.4 882.2,970.2 882.8,967.3 883.4,961.8 884.0,950.4 884.6,948.8 885.2,950.1 885.8,941.8 886.4,938.1 887.0,932.2 887.6,931.2 888.2,919.8 888.8,918.9 889.4,910.7 890.0,897.9 890.6,894.0 891.2,894.7 891.8,889.6 892.4,883.6 893.0,881.3 893.6,872.7 894.2,864.7 894.8,861.6 895.4,849.8 896.0,846.8 896.6,842.7 897.2,829.1 897.8,826.8 898.4,823.1 899.0,811.2 899.6,807.2 900.2,809.6 900.8,801.7 901.4,799.8 902.0,798.8 902.6,783.1 903.2,780.0 903.8,785.0 904.4,774.7 905.0,777.5 905.6,764.0 906.2,763.5 906.8,759.9 907.4,750.4 908.0,750.3 908.6,747.0 909.2,738.8 909.8,738.7 910.4,730.6 911.0,729.4 911.6,722.5 912.2,719.1 912.8,714.6 913.4,716.7 914.0,703.0 914.6,706.1 915.2,695.7 915.8,699.9 916.4,695.1 917.0,691.4 917.7,683.0 918.3,684.9 918.9,678.5 919.5,681.9 920.1,674.8 920.7,669.1 921.3,667.1 921.9,670.0 922.5,658.8 923.1,660.8 923.7,648.0 924.3,652.4 924.9,641.3 925.5,644.1 926.1,641.9 926.7,641.8 927.3,637.3 927.9,632.2 928.5,637.5 929.1,624.7 929.7,629.6 930.3,624.0 930.9,630.3 931.5,617.3 932.1,614.4 932.7,614.3 933.3,612.6 933.9,613.7 934.5,610.7 935.1,606.1 935.7,611.0 936.3,607.2 936.9,606.0 937.5,609.1 938.1,607.5 938.7,607.7 939.3,610.5 939.9,600.9 940.5,611.4 941.1,604.7 941.7,607.7 942.3,618.9 942.9,611.7 943.5,609.8 944.1,611.4 944.7,618.3 945.3,615.4 945.9,621.6 946.5,622.3 947.1,620.9 947.7,620.9 948.3,617.6 948.9,623.6 949.5,622.9 950.1,632.6 950.7,634.3 951.3,634.1 951.9,628.5 952.5,641.3 953.1,644.4 953.7,641.6 954.3,639.7 954.9,651.9 955.5,649.8 956.1,656.3 956.7,649.4 957.3,654.9 957.9,659.3 958.5,663.5 959.1,667.3 959.7,669.2 960.3,675.2 960.9,679.4 961.5,683.5 962.1,682.9 962.7,689.0 963.3,686.4 963.9,699.9 964.5,693.7 965.1,696.9 965.7,697.5 966.3,705.6 967.0,712.9 967.6,713.9 968.2,709.7 968.8,717.6 969.4,720.9 970.0,724.4 970.6,725.5 971.2,728.9 971.8,736.4 972.4,735.9 973.0,733.2 973.6,734.6 974.2,742.9 974.8,747.1 975.4,743.5 976.0,751.7 976.6,758.0 977.2,757.3 977.8,757.4 978.4,757.4 979.0,767.5 979.6,766.8 980.2,772.8 980.8,770.6 981.4,776.5 982.0,779.4 982.6,786.6 983.2,787.2 983.8,790.0 984.4,804.2 985.0,791.7 985.6,797.5 986.2,801.1 986.8,804.5 987.4,806.0 988.0,808.2 988.6,816.4 989.2,814.4 989.8,817.4 990.4,820.7 991.0,828.9 991.6,827.3" fill="none" stroke="#ffa126" stroke-width="5.8" stroke-linejoin="round" stroke-linecap="round"/>
<polyline points="597.2,871.0 597.8,865.7 598.4,863.0 599.0,865.4 599.6,870.7 600.2,872.7 600.8,874.2 601.4,872.5 602.0,877.6 602.6,878.8 603.2,887.2 603.8,882.9 604.4,884.1 605.0,884.4 605.6,879.4 606.2,889.1 606.8,889.6 607.4,883.3 608.0,888.8 608.6,885.8 609.2,884.3 609.8,884.2 610.4,886.1 611.0,879.1 611.6,875.9 612.2,883.2 612.8,879.1 613.4,873.3 614.0,875.6 614.6,876.6 615.2,873.0 615.8,866.9 616.4,871.7 617.0,865.9 617.6,864.1 618.2,866.4 618.8,861.2 619.4,860.0 620.0,858.3 620.6,858.2 621.2,866.5 621.9,858.4 622.5,859.9 623.1,859.2 623.7,866.5 624.3,861.6 624.9,864.8 625.5,871.7 626.1,865.0 626.7,873.9 627.3,876.7 627.9,873.8 628.5,879.3 629.1,878.0 629.7,882.1 630.3,882.2 630.9,882.1 631.5,886.7 632.1,885.1 632.7,886.5 633.3,893.5 633.9,888.6 634.5,890.1 635.1,892.2 635.7,889.0 636.3,887.1 636.9,890.0 637.5,897.2 638.1,889.9 638.7,890.9 639.3,890.3 639.9,886.8 640.5,887.5 641.1,879.0 641.7,881.8 642.3,880.6 642.9,875.7 643.5,873.3 644.1,869.6 644.7,869.0 645.3,868.7 645.9,865.6 646.5,871.0 647.1,866.2 647.7,855.2 648.3,857.7 648.9,848.3 649.5,846.4 650.1,855.3 650.7,848.5 651.3,838.4 651.9,850.2 652.5,845.5 653.1,847.3 653.7,847.4 654.3,847.8 654.9,847.5 655.5,845.7 656.1,852.2 656.7,849.1 657.3,855.0 657.9,852.6 658.5,855.4 659.1,861.5 659.7,860.8 660.3,866.3 660.9,869.4 661.5,865.2 662.1,878.4 662.7,873.0 663.3,875.3 663.9,882.7 664.5,879.6 665.1,882.9 665.7,893.2 666.3,889.4 666.9,892.0 667.5,898.3 668.1,895.9 668.7,897.2 669.3,904.0 669.9,909.9 670.5,902.9 671.2,908.0 671.8,912.3 672.4,908.4 673.0,915.8 673.6,909.0 674.2,902.8 674.8,917.7 675.4,906.0 676.0,910.4 676.6,908.0 677.2,909.0 677.8,902.7 678.4,903.9 679.0,905.3 679.6,905.7 680.2,901.1 680.8,894.0 681.4,900.4 682.0,892.8 682.6,891.0 683.2,896.9 683.8,883.9 684.4,885.5 685.0,875.1 685.6,874.3 686.2,878.5 686.8,875.5 687.4,875.7 688.0,874.1 688.6,863.8 689.2,864.6 689.8,862.2 690.4,858.6 691.0,852.8 691.6,849.0 692.2,849.6 692.8,847.5 693.4,843.9 694.0,834.5 694.6,846.5 695.2,841.0 695.8,833.2 696.4,832.4 697.0,826.8 697.6,824.8 698.2,821.1 698.8,829.5 699.4,823.5 700.0,825.7 700.6,820.9 701.2,823.4 701.8,820.9 702.4,826.7 703.0,824.0 703.6,827.1 704.2,827.3 704.8,829.3 705.4,832.9 706.0,827.3 706.6,832.3 707.2,831.9 707.8,841.8 708.4,847.9 709.0,846.3 709.6,847.6 710.2,847.5 710.8,849.8 711.4,852.5 712.0,854.6 712.6,860.6 713.2,865.9 713.8,872.0 714.4,869.9 715.0,876.9 715.6,880.6 716.2,878.4 716.8,882.2 717.4,882.4 718.0,890.2 718.6,885.9 719.2,890.9 719.8,894.8 720.5,898.9 721.1,901.9 721.7,904.8 722.3,896.9 722.9,908.5 723.5,903.0 724.1,907.7 724.7,910.4 725.3,911.6 725.9,911.8 726.5,909.7 727.1,912.3 727.7,915.6 728.3,921.6 728.9,924.3 729.5,912.8 730.1,924.1 730.7,927.2 731.3,918.9 731.9,929.1 732.5,922.3 733.1,922.6 733.7,926.0 734.3,924.4 734.9,933.5 735.5,933.7 736.1,930.9 736.7,930.9 737.3,931.8 737.9,930.5 738.5,935.2 739.1,940.4 739.7,931.9 740.3,934.3 740.9,930.7 741.5,926.2 742.1,933.1 742.7,931.0 743.3,935.8 743.9,929.0 744.5,930.3 745.1,929.9 745.7,926.6 746.3,932.7 746.9,925.5 747.5,924.5 748.1,919.0 748.7,929.1 749.3,921.2 749.9,911.1 750.5,918.0 751.1,915.7 751.7,905.4 752.3,900.2 752.9,905.8 753.5,905.8 754.1,902.3 754.7,898.5 755.3,896.8 755.9,893.4 756.5,886.5 757.1,883.6 757.7,878.6 758.3,876.7 758.9,877.5 759.5,867.1 760.1,865.2 760.7,864.4 761.3,859.6 761.9,853.9 762.5,851.0 763.1,848.0 763.7,841.2 764.3,836.5 764.9,837.7 765.5,833.1 766.1,833.4 766.7,826.7 767.3,821.1 767.9,816.6 768.5,815.9 769.1,813.9 769.8,813.3 770.4,807.4 771.0,809.4 771.6,802.8 772.2,801.0 772.8,802.3 773.4,796.2 774.0,796.4 774.6,792.2 775.2,794.7 775.8,790.3 776.4,785.7 777.0,789.8 777.6,787.2 778.2,791.9 778.8,790.8 779.4,796.2 780.0,790.3 780.6,793.6 781.2,789.2 781.8,796.9 782.4,793.0 783.0,790.0 783.6,789.4 784.2,797.2 784.8,793.6 785.4,784.0 786.0,791.1 786.6,794.4 787.2,805.7 787.8,800.6 788.4,797.0 789.0,799.4 789.6,800.2 790.2,800.1 790.8,804.9 791.4,804.0 792.0,815.2 792.6,802.1 793.2,813.9 793.8,817.2 794.4,811.9 795.0,817.2 795.6,818.2 796.2,826.0 796.8,825.2 797.4,826.1 798.0,834.9 798.6,834.1 799.2,836.6 799.8,839.2 800.4,843.1 801.0,847.5 801.6,844.1 802.2,847.2 802.8,846.5 803.4,853.3 804.0,857.8 804.6,863.0 805.2,860.0 805.8,863.8 806.4,858.1 807.0,859.5 807.6,864.3 808.2,875.2 808.8,879.2 809.4,877.4 810.0,881.9 810.6,876.6 811.2,884.1 811.8,888.7 812.4,890.1 813.0,888.3 813.6,898.6 814.2,896.1 814.8,904.9 815.4,903.4 816.0,907.3 816.6,906.2 817.2,908.9 817.8,907.4 818.4,911.3 819.1,917.8 819.7,922.3 820.3,922.5 820.9,923.1 821.5,924.2 822.1,927.9 822.7,923.3 823.3,925.6 823.9,931.5 824.5,934.0 825.1,934.8 825.7,935.8 826.3,937.4 826.9,944.6 827.5,942.0 828.1,948.7 828.7,943.6 829.3,942.9 829.9,950.5 830.5,947.8 831.1,952.0 831.7,953.8 832.3,946.1 832.9,951.3 833.5,954.2 834.1,958.9 834.7,957.4 835.3,961.0 835.9,960.2 836.5,966.4 837.1,964.6 837.7,966.8 838.3,971.4 838.9,961.7 839.5,965.8 840.1,972.5 840.7,975.9 841.3,974.4 841.9,975.8 842.5,976.1 843.1,980.3 843.7,978.9 844.3,976.9 844.9,976.7 845.5,986.0 846.1,980.1 846.7,984.5 847.3,985.7 847.9,984.1 848.5,986.3 849.1,982.4 849.7,983.3 850.3,987.7 850.9,989.8 851.5,982.1 852.1,982.7 852.7,988.6 853.3,991.3 853.9,988.0 854.5,987.2 855.1,994.8 855.7,987.3 856.3,994.8 856.9,991.0 857.5,997.1 858.1,995.6 858.7,997.9 859.3,996.6 859.9,993.5 860.5,1000.6 861.1,998.8 861.7,996.1 862.3,1000.0 862.9,991.4 863.5,1003.9 864.1,990.0 864.7,1001.3 865.3,995.6 865.9,993.2 866.5,996.8 867.1,1003.3 867.7,999.1 868.4,997.1 869.0,994.6 869.6,992.2 870.2,990.6 870.8,988.1 871.4,994.8 872.0,986.0 872.6,993.5 873.2,984.5 873.8,986.3 874.4,986.1 875.0,973.7 875.6,974.1 876.2,967.2 876.8,972.9 877.4,968.1 878.0,960.5 878.6,958.6 879.2,952.0 879.8,950.3 880.4,945.1 881.0,943.5 881.6,930.5 882.2,931.6 882.8,929.9 883.4,918.6 884.0,914.5 884.6,910.6 885.2,905.7 885.8,903.0 886.4,897.1 887.0,899.6 887.6,892.3 888.2,886.3 888.8,876.1 889.4,868.0 890.0,868.0 890.6,863.5 891.2,853.6 891.8,853.9 892.4,845.3 893.0,841.1 893.6,842.2 894.2,831.3 894.8,826.6 895.4,826.3 896.0,820.7 896.6,816.4 897.2,802.0 897.8,794.2 898.4,794.0 899.0,785.9 899.6,791.2 900.2,778.5 900.8,773.5 901.4,771.7 902.0,777.8 902.6,767.7 903.2,769.0 903.8,761.9 904.4,765.0 905.0,759.8 905.6,759.0 906.2,752.5 906.8,751.7 907.4,744.6 908.0,742.8 908.6,741.5 909.2,740.4 909.8,738.6 910.4,734.8 911.0,729.5 911.6,729.1 912.2,725.9 912.8,724.5 913.4,722.1 914.0,721.7 914.6,723.5 915.2,712.4 915.8,710.0 916.4,713.1 917.0,700.6 917.7,709.2 918.3,699.2 918.9,699.7 919.5,697.3 920.1,692.2 920.7,690.9 921.3,692.0 921.9,693.9 922.5,692.5 923.1,685.6 923.7,678.8 924.3,679.4 924.9,680.9 925.5,677.9 926.1,674.5 926.7,667.9 927.3,674.0 927.9,666.1 928.5,665.2 929.1,666.6 929.7,665.3 930.3,655.1 930.9,656.6 931.5,656.8 932.1,654.1 932.7,649.5 933.3,651.4 933.9,644.9 934.5,650.6 935.1,651.6 935.7,648.6 936.3,651.1 936.9,648.7 937.5,642.9 938.1,641.2 938.7,645.2 939.3,647.1 939.9,651.5 940.5,652.3 941.1,648.1 941.7,649.5 942.3,652.6 942.9,652.7 943.5,646.2 944.1,649.0 944.7,653.1 945.3,653.4 945.9,650.7 946.5,655.1 947.1,656.7 947.7,664.4 948.3,666.1 948.9,668.3 949.5,671.1 950.1,664.7 950.7,665.1 951.3,671.1 951.9,668.2 952.5,670.1 953.1,673.9 953.7,680.9 954.3,672.6 954.9,675.0 955.5,684.2 956.1,677.5 956.7,686.6 957.3,692.0 957.9,693.2 958.5,701.0 959.1,698.3 959.7,705.5 960.3,698.6 960.9,704.4 961.5,713.3 962.1,709.1 962.7,720.0 963.3,716.1 963.9,717.7 964.5,721.7 965.1,728.6 965.7,727.6 966.3,730.4 967.0,732.1 967.6,729.5 968.2,731.3 968.8,734.2 969.4,744.5 970.0,747.4 970.6,747.2 971.2,748.1 971.8,759.5 972.4,756.8 973.0,750.6 973.6,763.9 974.2,764.5 974.8,766.9 975.4,765.1 976.0,769.5 976.6,772.9 977.2,779.6 977.8,774.6 978.4,779.3 979.0,784.2 979.6,784.2 980.2,784.0 980.8,794.6 981.4,797.3 982.0,797.9 982.6,799.8 983.2,810.0 983.8,803.7 984.4,800.0 985.0,807.6 985.6,805.3 986.2,821.6 986.8,814.2 987.4,811.3 988.0,813.1 988.6,823.0 989.2,826.6 989.8,824.9 990.4,833.1 991.0,832.6 991.6,839.9" fill="none" stroke="#ffe066" stroke-width="5.8" stroke-linejoin="round" stroke-linecap="round"/>
<polyline points="597.2,869.7 597.8,870.3 598.4,864.0 599.0,869.7 599.6,874.5 600.2,872.9 600.8,878.6 601.4,874.1 602.0,876.1 602.6,874.4 603.2,873.2 603.8,886.1 604.4,877.4 605.0,876.4 605.6,884.9 606.2,872.7 606.8,883.8 607.4,871.0 608.0,877.9 608.6,877.0 609.2,879.6 609.8,876.2 610.4,884.1 611.0,882.5 611.6,886.5 612.2,875.5 612.8,879.7 613.4,872.8 614.0,872.5 614.6,879.4 615.2,870.1 615.8,871.0 616.4,870.3 617.0,868.4 617.6,869.6 618.2,868.7 618.8,863.9 619.4,871.8 620.0,872.3 620.6,870.3 621.2,862.9 621.9,868.6 622.5,859.7 623.1,880.5 623.7,871.3 624.3,870.9 624.9,868.8 625.5,865.3 626.1,872.5 626.7,877.0 627.3,870.6 627.9,868.8 628.5,886.7 629.1,875.1 629.7,877.4 630.3,883.1 630.9,882.6 631.5,880.5 632.1,882.4 632.7,884.3 633.3,888.7 633.9,883.3 634.5,887.5 635.1,884.7 635.7,887.6 636.3,884.4 636.9,882.0 637.5,883.8 638.1,881.7 638.7,889.5 639.3,881.3 639.9,881.2 640.5,884.1 641.1,881.2 641.7,890.8 642.3,877.9 642.9,878.6 643.5,884.9 644.1,872.2 644.7,875.5 645.3,870.3 645.9,871.0 646.5,866.6 647.1,866.9 647.7,867.1 648.3,862.6 648.9,860.1 649.5,871.6 650.1,861.4 650.7,863.1 651.3,864.5 651.9,854.2 652.5,855.2 653.1,863.2 653.7,863.5 654.3,855.8 654.9,862.0 655.5,861.3 656.1,868.6 656.7,861.9 657.3,857.7 657.9,865.3 658.5,865.0 659.1,858.8 659.7,863.7 660.3,862.9 660.9,867.7 661.5,866.9 662.1,880.2 662.7,878.4 663.3,883.4 663.9,869.2 664.5,879.1 665.1,881.9 665.7,886.0 666.3,888.4 666.9,897.1 667.5,877.8 668.1,888.5 668.7,889.0 669.3,895.9 669.9,891.3 670.5,890.3 671.2,892.8 671.8,890.5 672.4,896.9 673.0,892.4 673.6,890.3 674.2,891.7 674.8,892.4 675.4,894.2 676.0,897.6 676.6,891.0 677.2,894.4 677.8,896.1 678.4,888.6 679.0,897.5 679.6,892.4 680.2,886.1 680.8,884.5 681.4,888.8 682.0,885.9 682.6,882.8 683.2,884.0 683.8,885.6 684.4,879.3 685.0,878.9 685.6,877.7 686.2,872.1 686.8,873.8 687.4,875.3 688.0,871.1 688.6,862.3 689.2,871.4 689.8,867.9 690.4,868.4 691.0,862.1 691.6,867.0 692.2,858.4 692.8,855.6 693.4,860.3 694.0,859.1 694.6,860.3 695.2,852.7 695.8,856.2 696.4,853.0 697.0,851.1 697.6,851.2 698.2,844.2 698.8,840.3 699.4,854.9 700.0,849.0 700.6,844.4 701.2,849.5 701.8,847.3 702.4,844.4 703.0,839.8 703.6,841.1 704.2,847.7 704.8,846.7 705.4,849.7 706.0,850.0 706.6,855.3 707.2,859.1 707.8,855.0 708.4,851.1 709.0,853.7 709.6,866.2 710.2,861.3 710.8,864.9 711.4,863.1 712.0,870.6 712.6,864.4 713.2,870.8 713.8,869.4 714.4,869.9 715.0,883.0 715.6,877.6 716.2,872.1 716.8,879.7 717.4,877.0 718.0,880.9 718.6,886.0 719.2,884.1 719.8,882.2 720.5,882.5 721.1,883.0 721.7,894.5 722.3,887.7 722.9,897.7 723.5,893.6 724.1,894.9 724.7,892.5 725.3,894.6 725.9,891.7 726.5,900.2 727.1,895.1 727.7,897.7 728.3,900.1 728.9,905.7 729.5,899.3 730.1,901.0 730.7,899.8 731.3,903.9 731.9,905.4 732.5,903.4 733.1,903.7 733.7,903.4 734.3,899.1 734.9,909.8 735.5,899.6 736.1,920.3 736.7,904.8 737.3,912.4 737.9,901.3 738.5,913.4 739.1,905.7 739.7,914.2 740.3,915.0 740.9,907.1 741.5,906.6 742.1,912.8 742.7,899.9 743.3,910.6 743.9,902.6 744.5,912.5 745.1,911.8 745.7,906.8 746.3,910.6 746.9,903.8 747.5,913.4 748.1,903.0 748.7,904.8 749.3,905.3 749.9,899.2 750.5,899.6 751.1,899.1 751.7,892.5 752.3,893.0 752.9,891.0 753.5,885.5 754.1,889.4 754.7,883.9 755.3,887.2 755.9,881.1 756.5,879.6 757.1,882.0 757.7,884.0 758.3,881.2 758.9,877.9 759.5,869.9 760.1,870.8 760.7,869.5 761.3,864.5 761.9,861.5 762.5,856.9 763.1,863.1 763.7,856.6 764.3,854.1 764.9,859.1 765.5,853.0 766.1,855.5 766.7,851.1 767.3,846.9 767.9,854.0 768.5,849.2 769.1,847.6 769.8,842.8 770.4,845.0 771.0,839.4 771.6,843.4 772.2,841.2 772.8,835.8 773.4,836.3 774.0,836.4 774.6,836.7 775.2,832.1 775.8,830.3 776.4,837.2 777.0,838.6 777.6,839.8 778.2,828.7 778.8,839.5 779.4,841.5 780.0,835.4 780.6,832.0 781.2,841.0 781.8,836.4 782.4,841.7 783.0,838.7 783.6,829.3 784.2,835.4 784.8,837.3 785.4,836.2 786.0,835.6 786.6,837.5 787.2,842.3 787.8,842.8 788.4,830.9 789.0,843.3 789.6,836.7 790.2,845.7 790.8,839.0 791.4,842.9 792.0,848.1 792.6,840.7 793.2,854.2 793.8,853.0 794.4,857.2 795.0,858.6 795.6,858.7 796.2,862.8 796.8,862.0 797.4,856.1 798.0,871.2 798.6,871.0 799.2,871.6 799.8,871.4 800.4,867.2 801.0,870.1 801.6,872.8 802.2,875.6 802.8,868.4 803.4,884.4 804.0,885.7 804.6,882.2 805.2,882.3 805.8,885.2 806.4,888.6 807.0,891.6 807.6,888.5 808.2,891.3 808.8,891.4 809.4,895.0 810.0,886.3 810.6,891.0 811.2,886.5 811.8,897.3 812.4,896.1 813.0,898.6 813.6,898.7 814.2,901.0 814.8,901.9 815.4,910.4 816.0,904.8 816.6,902.1 817.2,914.0 817.8,908.8 818.4,906.3 819.1,904.8 819.7,911.4 820.3,910.5 820.9,906.5 821.5,909.5 822.1,917.8 822.7,919.6 823.3,914.2 823.9,918.6 824.5,922.8 825.1,922.7 825.7,921.6 826.3,924.8 826.9,926.1 827.5,927.1 828.1,933.2 828.7,921.1 829.3,924.2 829.9,924.0 830.5,931.5 831.1,931.4 831.7,930.4 832.3,930.2 832.9,941.7 833.5,933.7 834.1,939.8 834.7,936.8 835.3,939.8 835.9,930.8 836.5,936.1 837.1,938.8 837.7,933.5 838.3,939.9 838.9,943.0 839.5,941.2 840.1,942.4 840.7,941.2 841.3,938.4 841.9,942.7 842.5,942.9 843.1,938.9 843.7,942.3 844.3,940.0 844.9,943.6 845.5,949.8 846.1,949.4 846.7,951.9 847.3,941.0 847.9,944.2 848.5,948.1 849.1,950.5 849.7,945.3 850.3,947.5 850.9,945.9 851.5,950.8 852.1,952.1 852.7,941.4 853.3,951.7 853.9,948.1 854.5,942.7 855.1,955.6 855.7,945.4 856.3,947.9 856.9,948.7 857.5,946.9 858.1,952.6 858.7,956.6 859.3,939.7 859.9,948.1 860.5,943.0 861.1,941.6 861.7,944.5 862.3,943.2 862.9,941.7 863.5,937.6 864.1,941.3 864.7,937.6 865.3,943.1 865.9,943.0 866.5,940.2 867.1,938.2 867.7,936.9 868.4,930.5 869.0,934.2 869.6,936.6 870.2,928.2 870.8,934.1 871.4,933.3 872.0,932.1 872.6,934.7 873.2,937.1 873.8,931.6 874.4,932.7 875.0,934.4 875.6,929.9 876.2,930.7 876.8,931.8 877.4,936.2 878.0,929.3 878.6,921.1 879.2,924.2 879.8,923.1 880.4,927.1 881.0,922.3 881.6,928.8 882.2,927.5 882.8,923.0 883.4,930.3 884.0,923.7 884.6,922.0 885.2,915.7 885.8,924.5 886.4,919.1 887.0,922.2 887.6,919.9 888.2,926.2 888.8,916.2 889.4,904.3 890.0,903.1 890.6,900.3 891.2,886.5 891.8,889.5 892.4,891.6 893.0,882.3 893.6,876.5 894.2,864.5 894.8,869.2 895.4,858.6 896.0,851.2 896.6,853.4 897.2,844.9 897.8,848.8 898.4,836.0 899.0,841.4 899.6,830.6 900.2,818.8 900.8,820.7 901.4,818.7 902.0,814.9 902.6,803.5 903.2,806.6 903.8,801.4 904.4,804.1 905.0,800.9 905.6,800.2 906.2,793.7 906.8,792.9 907.4,783.4 908.0,782.1 908.6,782.6 909.2,782.0 909.8,789.2 910.4,777.9 911.0,772.5 911.6,769.5 912.2,783.1 912.8,779.2 913.4,767.7 914.0,771.3 914.6,766.9 915.2,766.7 915.8,761.3 916.4,770.1 917.0,763.8 917.7,756.6 918.3,758.5 918.9,761.6 919.5,755.4 920.1,755.1 920.7,758.8 921.3,751.5 921.9,750.6 922.5,752.8 923.1,747.6 923.7,755.2 924.3,746.5 924.9,749.5 925.5,751.6 926.1,749.4 926.7,741.5 927.3,747.6 927.9,746.0 928.5,746.5 929.1,746.3 929.7,738.5 930.3,732.8 930.9,735.7 931.5,738.4 932.1,736.8 932.7,740.6 933.3,740.6 933.9,742.8 934.5,731.8 935.1,738.4 935.7,739.4 936.3,738.7 936.9,734.9 937.5,737.5 938.1,734.8 938.7,733.9 939.3,728.9 939.9,739.0 940.5,732.5 941.1,736.3 941.7,735.0 942.3,726.6 942.9,730.4 943.5,734.4 944.1,730.8 944.7,732.7 945.3,728.2 945.9,734.6 946.5,730.7 947.1,733.6 947.7,732.9 948.3,733.7 948.9,735.8 949.5,733.1 950.1,729.8 950.7,736.5 951.3,736.0 951.9,733.3 952.5,738.3 953.1,732.2 953.7,733.3 954.3,745.9 954.9,739.8 955.5,742.1 956.1,735.0 956.7,735.1 957.3,744.3 957.9,742.9 958.5,741.1 959.1,743.0 959.7,739.3 960.3,739.0 960.9,741.3 961.5,740.0 962.1,741.4 962.7,746.2 963.3,748.4 963.9,750.4 964.5,744.9 965.1,745.5 965.7,745.8 966.3,751.9 967.0,753.0 967.6,751.2 968.2,748.0 968.8,752.4 969.4,753.8 970.0,758.8 970.6,754.5 971.2,754.9 971.8,761.7 972.4,751.6 973.0,763.2 973.6,756.6 974.2,762.0 974.8,761.5 975.4,766.2 976.0,766.2 976.6,762.1 977.2,766.7 977.8,768.3 978.4,764.4 979.0,766.2 979.6,769.5 980.2,770.3 980.8,765.5 981.4,774.2 982.0,773.1 982.6,774.1 983.2,782.7 983.8,786.0 984.4,779.0 985.0,777.3 985.6,781.2 986.2,785.4 986.8,787.2 987.4,782.7 988.0,788.4 988.6,795.0 989.2,787.2 989.8,790.4 990.4,791.2 991.0,789.9 991.6,790.2" fill="none" stroke="#d9e876" stroke-width="5.8" stroke-linejoin="round" stroke-linecap="round"/>
<polyline points="597.2,868.5 597.8,871.9 598.4,881.0 599.0,870.5 599.6,873.1 600.2,867.0 600.8,867.9 601.4,872.2 602.0,868.9 602.6,876.2 603.2,876.8 603.8,881.1 604.4,879.3 605.0,877.5 605.6,874.2 606.2,882.6 606.8,876.0 607.4,869.2 608.0,885.8 608.6,880.9 609.2,879.4 609.8,874.7 610.4,869.9 611.0,872.8 611.6,877.9 612.2,880.9 612.8,876.7 613.4,875.8 614.0,873.8 614.6,878.1 615.2,866.5 615.8,875.8 616.4,868.8 617.0,870.2 617.6,875.5 618.2,869.7 618.8,869.4 619.4,870.0 620.0,865.2 620.6,870.8 621.2,857.2 621.9,863.7 622.5,873.1 623.1,880.5 623.7,864.0 624.3,869.1 624.9,870.5 625.5,876.0 626.1,878.9 626.7,881.6 627.3,862.5 627.9,867.8 628.5,878.5 629.1,868.4 629.7,886.2 630.3,875.5 630.9,876.3 631.5,884.2 632.1,883.0 632.7,886.3 633.3,881.9 633.9,876.6 634.5,878.3 635.1,881.1 635.7,878.1 636.3,891.2 636.9,873.8 637.5,883.0 638.1,888.4 638.7,883.8 639.3,884.5 639.9,880.5 640.5,878.8 641.1,890.0 641.7,872.8 642.3,869.7 642.9,881.2 643.5,868.8 644.1,868.7 644.7,868.7 645.3,864.7 645.9,877.3 646.5,866.5 647.1,873.3 647.7,856.9 648.3,871.1 648.9,871.3 649.5,859.8 650.1,861.3 650.7,863.4 651.3,862.3 651.9,859.8 652.5,854.4 653.1,865.4 653.7,864.7 654.3,864.9 654.9,862.9 655.5,862.9 656.1,869.4 656.7,862.8 657.3,870.7 657.9,867.2 658.5,867.8 659.1,868.8 659.7,862.1 660.3,862.5 660.9,866.3 661.5,865.2 662.1,875.0 662.7,868.6 663.3,876.5 663.9,876.5 664.5,877.5 665.1,886.1 665.7,883.9 666.3,883.0 666.9,881.7 667.5,884.9 668.1,889.1 668.7,891.4 669.3,886.8 669.9,892.9 670.5,893.5 671.2,889.1 671.8,888.2 672.4,893.1 673.0,897.7 673.6,888.3 674.2,886.0 674.8,891.5 675.4,891.3 676.0,900.0 676.6,884.9 677.2,893.7 677.8,885.0 678.4,890.5 679.0,887.9 679.6,887.5 680.2,894.2 680.8,872.6 681.4,891.6 682.0,883.0 682.6,886.4 683.2,882.8 683.8,874.4 684.4,888.1 685.0,879.1 685.6,875.1 686.2,875.6 686.8,873.2 687.4,877.2 688.0,880.0 688.6,877.3 689.2,871.9 689.8,865.4 690.4,867.1 691.0,858.9 691.6,864.6 692.2,862.9 692.8,861.7 693.4,869.4 694.0,857.8 694.6,864.4 695.2,860.1 695.8,846.7 696.4,862.2 697.0,855.2 697.6,853.7 698.2,853.8 698.8,853.8 699.4,856.0 700.0,844.0 700.6,862.0 701.2,857.4 701.8,845.9 702.4,850.3 703.0,856.5 703.6,857.4 704.2,854.9 704.8,842.3 705.4,852.8 706.0,860.6 706.6,855.8 707.2,860.8 707.8,852.2 708.4,858.9 709.0,855.8 709.6,862.1 710.2,854.9 710.8,863.8 711.4,865.8 712.0,873.2 712.6,871.8 713.2,869.5 713.8,874.9 714.4,862.5 715.0,875.1 715.6,879.7 716.2,872.9 716.8,880.9 717.4,877.7 718.0,881.0 718.6,884.8 719.2,876.1 719.8,882.9 720.5,879.3 721.1,886.6 721.7,892.4 722.3,892.3 722.9,889.8 723.5,889.0 724.1,888.6 724.7,887.1 725.3,895.8 725.9,889.7 726.5,897.0 727.1,895.1 727.7,880.8 728.3,887.3 728.9,895.3 729.5,886.0 730.1,888.2 730.7,891.1 731.3,888.9 731.9,897.2 732.5,897.1 733.1,900.9 733.7,894.7 734.3,903.5 734.9,900.4 735.5,896.3 736.1,901.1 736.7,897.5 737.3,891.0 737.9,904.0 738.5,893.3 739.1,903.0 739.7,904.3 740.3,899.1 740.9,895.4 741.5,903.2 742.1,903.1 742.7,901.6 743.3,902.6 743.9,898.1 744.5,901.9 745.1,899.4 745.7,896.1 746.3,899.1 746.9,891.3 747.5,899.0 748.1,898.7 748.7,885.1 749.3,886.7 749.9,892.3 750.5,887.9 751.1,889.1 751.7,891.9 752.3,885.4 752.9,885.9 753.5,880.2 754.1,893.3 754.7,879.9 755.3,881.5 755.9,884.1 756.5,881.6 757.1,880.2 757.7,883.1 758.3,878.3 758.9,870.8 759.5,880.0 760.1,873.4 760.7,881.2 761.3,871.7 761.9,865.9 762.5,866.6 763.1,864.9 763.7,868.9 764.3,860.0 764.9,865.5 765.5,856.0 766.1,858.1 766.7,859.7 767.3,850.1 767.9,857.7 768.5,850.3 769.1,853.6 769.8,853.2 770.4,847.9 771.0,849.8 771.6,851.2 772.2,851.1 772.8,849.1 773.4,849.3 774.0,850.8 774.6,853.8 775.2,860.7 775.8,849.2 776.4,849.7 777.0,843.0 777.6,846.5 778.2,843.5 778.8,840.9 779.4,849.5 780.0,853.1 780.6,845.3 781.2,851.6 781.8,849.9 782.4,842.0 783.0,846.0 783.6,843.5 784.2,854.7 784.8,848.4 785.4,843.6 786.0,854.7 786.6,848.1 787.2,847.4 787.8,860.0 788.4,842.9 789.0,854.2 789.6,852.5 790.2,845.1 790.8,861.9 791.4,852.7 792.0,857.9 792.6,856.8 793.2,862.0 793.8,853.2 794.4,865.9 795.0,860.4 795.6,860.9 796.2,865.1 796.8,867.3 797.4,868.6 798.0,864.1 798.6,868.1 799.2,872.0 799.8,878.0 800.4,873.7 801.0,873.4 801.6,877.4 802.2,872.1 802.8,888.8 803.4,870.0 804.0,883.3 804.6,888.4 805.2,892.0 805.8,880.9 806.4,883.1 807.0,887.5 807.6,887.5 808.2,887.3 808.8,890.9 809.4,884.5 810.0,887.8 810.6,892.1 811.2,899.9 811.8,887.0 812.4,896.4 813.0,899.8 813.6,890.1 814.2,894.7 814.8,907.1 815.4,906.4 816.0,901.5 816.6,906.4 817.2,902.3 817.8,890.6 818.4,889.8 819.1,904.6 819.7,901.6 820.3,902.1 820.9,907.7 821.5,914.8 822.1,904.0 822.7,910.6 823.3,908.6 823.9,908.3 824.5,916.1 825.1,905.5 825.7,913.7 826.3,913.9 826.9,917.7 827.5,913.2 828.1,912.6 828.7,920.5 829.3,916.0 829.9,921.4 830.5,925.7 831.1,922.2 831.7,918.5 832.3,919.4 832.9,917.5 833.5,926.1 834.1,924.9 834.7,923.6 835.3,921.6 835.9,925.4 836.5,929.6 837.1,932.7 837.7,920.5 838.3,921.3 838.9,929.5 839.5,920.0 840.1,927.3 840.7,925.3 841.3,921.8 841.9,930.1 842.5,931.7 843.1,936.4 843.7,927.3 844.3,926.9 844.9,925.3 845.5,926.7 846.1,929.2 846.7,924.7 847.3,934.9 847.9,928.6 848.5,928.2 849.1,931.3 849.7,923.0 850.3,929.1 850.9,925.0 851.5,927.2 852.1,932.3 852.7,922.7 853.3,926.6 853.9,931.6 854.5,932.3 855.1,936.6 855.7,932.5 856.3,932.9 856.9,930.8 857.5,933.6 858.1,928.8 858.7,931.6 859.3,938.1 859.9,932.8 860.5,934.2 861.1,935.4 861.7,930.3 862.3,924.4 862.9,933.1 863.5,936.6 864.1,927.6 864.7,912.5 865.3,928.4 865.9,923.8 866.5,926.4 867.1,920.0 867.7,916.8 868.4,923.7 869.0,917.0 869.6,927.0 870.2,920.7 870.8,927.2 871.4,920.2 872.0,923.7 872.6,919.6 873.2,925.8 873.8,919.7 874.4,920.8 875.0,924.9 875.6,927.2 876.2,930.4 876.8,928.4 877.4,926.4 878.0,930.7 878.6,931.1 879.2,927.7 879.8,936.6 880.4,935.2 881.0,933.8 881.6,936.1 882.2,937.1 882.8,938.5 883.4,929.4 884.0,937.3 884.6,936.9 885.2,930.1 885.8,922.4 886.4,920.2 887.0,922.9 887.6,915.3 888.2,912.5 888.8,909.9 889.4,902.5 890.0,897.8 890.6,895.0 891.2,882.6 891.8,887.2 892.4,873.9 893.0,865.7 893.6,860.7 894.2,864.4 894.8,861.9 895.4,864.1 896.0,853.0 896.6,837.8 897.2,852.9 897.8,849.8 898.4,835.9 899.0,834.0 899.6,842.2 900.2,831.1 900.8,826.3 901.4,831.9 902.0,817.6 902.6,825.3 903.2,811.2 903.8,812.7 904.4,814.1 905.0,815.6 905.6,807.3 906.2,803.7 906.8,801.5 907.4,801.3 908.0,797.4 908.6,790.4 909.2,796.7 909.8,791.7 910.4,787.0 911.0,787.8 911.6,782.4 912.2,778.1 912.8,785.9 913.4,782.4 914.0,795.9 914.6,783.1 915.2,777.5 915.8,784.8 916.4,772.7 917.0,786.5 917.7,770.8 918.3,778.5 918.9,780.0 919.5,776.7 920.1,774.9 920.7,777.6 921.3,778.4 921.9,773.7 922.5,766.2 923.1,768.0 923.7,762.9 924.3,771.2 924.9,769.3 925.5,768.5 926.1,765.7 926.7,763.6 927.3,757.0 927.9,761.2 928.5,763.1 929.1,757.0 929.7,766.3 930.3,768.2 930.9,758.6 931.5,760.4 932.1,760.1 932.7,755.9 933.3,761.2 933.9,759.8 934.5,757.1 935.1,755.5 935.7,753.6 936.3,757.2 936.9,756.2 937.5,768.2 938.1,751.2 938.7,763.7 939.3,756.5 939.9,744.4 940.5,757.3 941.1,762.9 941.7,748.1 942.3,757.9 942.9,756.0 943.5,755.9 944.1,751.7 944.7,751.4 945.3,755.5 945.9,749.9 946.5,759.2 947.1,752.0 947.7,758.0 948.3,752.1 948.9,758.5 949.5,757.6 950.1,749.0 950.7,761.2 951.3,761.7 951.9,753.9 952.5,758.1 953.1,759.1 953.7,758.2 954.3,748.1 954.9,763.0 955.5,759.9 956.1,758.3 956.7,763.8 957.3,760.1 957.9,758.2 958.5,765.0 959.1,756.2 959.7,767.1 960.3,763.0 960.9,761.3 961.5,748.8 962.1,772.0 962.7,763.2 963.3,753.5 963.9,768.4 964.5,761.2 965.1,765.8 965.7,773.9 966.3,766.1 967.0,772.6 967.6,768.7 968.2,776.6 968.8,766.9 969.4,781.9 970.0,772.2 970.6,766.2 971.2,770.3 971.8,774.8 972.4,774.9 973.0,776.3 973.6,762.6 974.2,775.9 974.8,776.4 975.4,780.3 976.0,779.9 976.6,775.6 977.2,781.9 977.8,783.6 978.4,783.2 979.0,783.1 979.6,781.5 980.2,785.3 980.8,784.8 981.4,788.2 982.0,780.0 982.6,786.1 983.2,788.8 983.8,787.0 984.4,789.4 985.0,797.3 985.6,791.9 986.2,784.5 986.8,790.7 987.4,788.6 988.0,798.1 988.6,802.8 989.2,800.2 989.8,791.9 990.4,803.7 991.0,803.8 991.6,796.1" fill="none" stroke="#9dc55b" stroke-width="5.8" stroke-linejoin="round" stroke-linecap="round"/>
<polyline points="597.2,873.3 597.8,873.2 598.4,870.8 599.0,872.4 599.6,874.6 600.2,872.5 600.8,877.4 601.4,874.8 602.0,872.1 602.6,880.5 603.2,877.1 603.8,881.9 604.4,873.7 605.0,874.7 605.6,873.5 606.2,873.4 606.8,873.6 607.4,875.2 608.0,882.0 608.6,874.1 609.2,882.4 609.8,867.4 610.4,876.5 611.0,874.7 611.6,882.7 612.2,871.6 612.8,870.7 613.4,882.7 614.0,877.5 614.6,876.6 615.2,876.8 615.8,867.0 616.4,862.9 617.0,877.2 617.6,867.0 618.2,872.6 618.8,864.8 619.4,882.1 620.0,872.6 620.6,865.0 621.2,874.0 621.9,865.1 622.5,873.1 623.1,865.7 623.7,868.6 624.3,873.6 624.9,875.6 625.5,873.4 626.1,867.9 626.7,873.8 627.3,877.5 627.9,859.9 628.5,883.0 629.1,877.5 629.7,874.6 630.3,882.5 630.9,878.3 631.5,880.7 632.1,886.1 632.7,877.7 633.3,885.3 633.9,883.9 634.5,875.0 635.1,885.9 635.7,878.1 636.3,875.4 636.9,876.2 637.5,878.5 638.1,881.4 638.7,886.5 639.3,879.0 639.9,877.2 640.5,881.1 641.1,882.7 641.7,873.6 642.3,881.7 642.9,874.1 643.5,877.6 644.1,882.3 644.7,866.4 645.3,870.2 645.9,869.7 646.5,877.9 647.1,871.2 647.7,868.6 648.3,872.5 648.9,860.9 649.5,877.1 650.1,864.1 650.7,875.5 651.3,873.7 651.9,872.1 652.5,863.4 653.1,869.2 653.7,869.1 654.3,870.2 654.9,873.1 655.5,870.7 656.1,871.5 656.7,868.9 657.3,869.7 657.9,879.6 658.5,872.3 659.1,864.5 659.7,873.0 660.3,872.0 660.9,875.9 661.5,876.6 662.1,874.7 662.7,881.5 663.3,877.0 663.9,884.7 664.5,876.5 665.1,886.1 665.7,876.7 666.3,875.8 666.9,888.6 667.5,878.8 668.1,884.4 668.7,877.8 669.3,886.1 669.9,885.4 670.5,885.9 671.2,879.1 671.8,894.0 672.4,881.9 673.0,885.1 673.6,887.9 674.2,886.7 674.8,881.3 675.4,881.7 676.0,877.6 676.6,888.1 677.2,893.6 677.8,887.2 678.4,885.2 679.0,885.9 679.6,877.9 680.2,872.6 680.8,880.8 681.4,890.1 682.0,876.6 682.6,883.7 683.2,879.8 683.8,875.5 684.4,876.9 685.0,878.2 685.6,875.8 686.2,872.8 686.8,872.6 687.4,865.2 688.0,887.5 688.6,876.5 689.2,874.8 689.8,867.5 690.4,869.4 691.0,865.7 691.6,875.3 692.2,868.9 692.8,864.2 693.4,866.6 694.0,867.5 694.6,863.7 695.2,856.7 695.8,873.3 696.4,855.8 697.0,861.3 697.6,866.0 698.2,858.7 698.8,861.1 699.4,855.5 700.0,864.5 700.6,856.3 701.2,864.8 701.8,859.1 702.4,857.5 703.0,861.2 703.6,858.1 704.2,864.1 704.8,856.9 705.4,864.6 706.0,866.1 706.6,864.0 707.2,864.4 707.8,868.8 708.4,862.1 709.0,867.2 709.6,864.7 710.2,875.2 710.8,875.4 711.4,871.5 712.0,875.8 712.6,872.7 713.2,870.5 713.8,868.8 714.4,868.0 715.0,872.0 715.6,879.5 716.2,874.5 716.8,880.2 717.4,876.0 718.0,883.9 718.6,873.6 719.2,878.4 719.8,882.2 720.5,887.7 721.1,880.7 721.7,884.9 722.3,881.9 722.9,886.8 723.5,886.4 724.1,881.6 724.7,878.1 725.3,891.0 725.9,886.5 726.5,884.2 727.1,887.1 727.7,888.7 728.3,877.2 728.9,891.3 729.5,886.1 730.1,890.3 730.7,888.8 731.3,899.1 731.9,884.9 732.5,890.2 733.1,893.9 733.7,882.1 734.3,891.2 734.9,892.9 735.5,894.2 736.1,885.6 736.7,890.6 737.3,892.3 737.9,897.0 738.5,895.2 739.1,889.6 739.7,891.3 740.3,900.5 740.9,895.3 741.5,890.2 742.1,878.9 742.7,894.5 743.3,901.1 743.9,887.2 744.5,892.7 745.1,896.3 745.7,887.4 746.3,890.8 746.9,893.7 747.5,894.9 748.1,889.0 748.7,887.6 749.3,895.6 749.9,882.4 750.5,892.1 751.1,879.2 751.7,883.5 752.3,885.1 752.9,882.0 753.5,885.5 754.1,882.2 754.7,873.6 755.3,882.9 755.9,875.7 756.5,882.7 757.1,877.8 757.7,872.4 758.3,881.4 758.9,873.5 759.5,884.0 760.1,878.5 760.7,874.2 761.3,867.4 761.9,867.2 762.5,873.8 763.1,869.3 763.7,867.0 764.3,874.1 764.9,864.1 765.5,859.0 766.1,858.7 766.7,866.3 767.3,864.7 767.9,866.4 768.5,863.7 769.1,861.9 769.8,857.0 770.4,859.2 771.0,863.2 771.6,854.7 772.2,854.0 772.8,860.4 773.4,858.4 774.0,857.4 774.6,864.2 775.2,855.8 775.8,853.2 776.4,847.2 777.0,855.1 777.6,857.3 778.2,856.6 778.8,853.2 779.4,852.4 780.0,860.1 780.6,855.1 781.2,852.9 781.8,864.9 782.4,849.4 783.0,856.6 783.6,851.6 784.2,855.8 784.8,856.8 785.4,856.1 786.0,854.5 786.6,852.0 787.2,857.3 787.8,861.4 788.4,860.0 789.0,861.8 789.6,854.5 790.2,863.0 790.8,852.4 791.4,859.5 792.0,861.2 792.6,855.7 793.2,864.2 793.8,864.7 794.4,860.7 795.0,861.8 795.6,870.7 796.2,855.8 796.8,865.4 797.4,874.7 798.0,870.8 798.6,866.7 799.2,871.0 799.8,869.1 800.4,863.2 801.0,870.7 801.6,866.8 802.2,873.9 802.8,881.1 803.4,872.1 804.0,883.0 804.6,876.0 805.2,878.0 805.8,885.5 806.4,885.5 807.0,883.7 807.6,881.7 808.2,878.1 808.8,884.5 809.4,876.8 810.0,882.2 810.6,889.9 811.2,890.5 811.8,888.0 812.4,891.6 813.0,890.4 813.6,887.2 814.2,890.3 814.8,887.8 815.4,896.3 816.0,897.9 816.6,901.1 817.2,903.7 817.8,898.4 818.4,896.9 819.1,898.9 819.7,898.8 820.3,890.3 820.9,905.4 821.5,902.5 822.1,904.3 822.7,907.0 823.3,897.4 823.9,904.5 824.5,899.4 825.1,911.0 825.7,898.0 826.3,896.9 826.9,912.0 827.5,908.7 828.1,909.9 828.7,907.4 829.3,916.5 829.9,909.0 830.5,908.4 831.1,915.0 831.7,923.2 832.3,916.4 832.9,915.6 833.5,910.7 834.1,917.5 834.7,920.3 835.3,912.5 835.9,913.9 836.5,912.5 837.1,915.9 837.7,911.5 838.3,914.2 838.9,924.9 839.5,916.0 840.1,913.5 840.7,917.0 841.3,910.7 841.9,919.6 842.5,914.5 843.1,923.5 843.7,918.0 844.3,920.7 844.9,922.9 845.5,924.4 846.1,917.6 846.7,916.8 847.3,921.8 847.9,924.6 848.5,923.1 849.1,915.7 849.7,924.8 850.3,914.2 850.9,927.1 851.5,918.2 852.1,916.5 852.7,914.1 853.3,921.7 853.9,923.2 854.5,926.3 855.1,915.6 855.7,920.4 856.3,921.9 856.9,921.7 857.5,918.4 858.1,919.2 858.7,913.7 859.3,928.5 859.9,914.4 860.5,920.2 861.1,917.6 861.7,918.1 862.3,916.5 862.9,912.0 863.5,913.8 864.1,920.7 864.7,913.7 865.3,913.1 865.9,910.3 866.5,911.1 867.1,911.0 867.7,905.2 868.4,914.2 869.0,898.6 869.6,910.6 870.2,912.2 870.8,903.4 871.4,901.6 872.0,900.3 872.6,899.0 873.2,903.2 873.8,904.9 874.4,903.3 875.0,905.0 875.6,907.8 876.2,898.8 876.8,899.2 877.4,909.2 878.0,912.3 878.6,915.8 879.2,923.7 879.8,921.6 880.4,923.3 881.0,923.4 881.6,930.1 882.2,936.1 882.8,926.0 883.4,922.3 884.0,940.6 884.6,931.5 885.2,926.3 885.8,934.2 886.4,933.5 887.0,924.2 887.6,922.5 888.2,920.9 888.8,906.7 889.4,903.2 890.0,902.7 890.6,901.4 891.2,897.8 891.8,887.5 892.4,887.7 893.0,875.0 893.6,871.4 894.2,875.3 894.8,864.6 895.4,856.8 896.0,857.1 896.6,861.0 897.2,854.9 897.8,852.6 898.4,848.0 899.0,845.9 899.6,845.1 900.2,837.1 900.8,832.3 901.4,838.7 902.0,840.5 902.6,829.7 903.2,829.0 903.8,824.9 904.4,827.7 905.0,821.2 905.6,824.6 906.2,813.5 906.8,808.9 907.4,819.0 908.0,824.9 908.6,813.6 909.2,812.2 909.8,807.5 910.4,807.0 911.0,803.6 911.6,792.4 912.2,806.4 912.8,804.7 913.4,800.2 914.0,809.8 914.6,796.9 915.2,802.6 915.8,805.5 916.4,802.0 917.0,795.1 917.7,792.8 918.3,790.2 918.9,793.1 919.5,797.7 920.1,791.2 920.7,793.4 921.3,781.6 921.9,801.0 922.5,783.6 923.1,786.8 923.7,787.8 924.3,789.5 924.9,791.0 925.5,792.3 926.1,794.4 926.7,777.4 927.3,781.9 927.9,782.6 928.5,783.5 929.1,793.4 929.7,785.5 930.3,783.2 930.9,778.0 931.5,787.5 932.1,781.2 932.7,783.2 933.3,781.6 933.9,785.0 934.5,779.4 935.1,780.4 935.7,789.1 936.3,774.7 936.9,770.0 937.5,783.8 938.1,774.4 938.7,783.9 939.3,781.7 939.9,771.1 940.5,778.2 941.1,772.1 941.7,777.6 942.3,774.3 942.9,779.7 943.5,772.4 944.1,770.8 944.7,775.9 945.3,781.6 945.9,780.8 946.5,783.5 947.1,776.5 947.7,777.0 948.3,782.7 948.9,775.4 949.5,782.4 950.1,771.6 950.7,776.3 951.3,773.0 951.9,783.7 952.5,785.2 953.1,789.2 953.7,778.1 954.3,786.4 954.9,775.4 955.5,781.1 956.1,778.5 956.7,788.1 957.3,785.2 957.9,781.9 958.5,779.6 959.1,789.1 959.7,782.0 960.3,787.6 960.9,780.4 961.5,785.4 962.1,786.0 962.7,783.0 963.3,780.0 963.9,786.7 964.5,780.3 965.1,790.7 965.7,785.2 966.3,791.9 967.0,786.1 967.6,791.5 968.2,787.5 968.8,785.1 969.4,792.7 970.0,796.6 970.6,789.7 971.2,786.9 971.8,788.5 972.4,794.1 973.0,786.5 973.6,792.1 974.2,787.6 974.8,795.6 975.4,790.0 976.0,787.0 976.6,795.9 977.2,794.6 977.8,790.9 978.4,791.8 979.0,793.1 979.6,795.8 980.2,802.8 980.8,796.2 981.4,802.6 982.0,796.9 982.6,808.4 983.2,791.8 983.8,790.2 984.4,797.4 985.0,803.8 985.6,801.9 986.2,797.1 986.8,798.7 987.4,805.5 988.0,797.4 988.6,800.2 989.2,801.7 989.8,806.3 990.4,805.3 991.0,809.2 991.6,805.7" fill="none" stroke="#5d9b34" stroke-width="5.8" stroke-linejoin="round" stroke-linecap="round"/>
<polyline points="597.2,876.9 597.8,867.7 598.4,873.4 599.0,872.7 599.6,872.2 600.2,872.3 600.8,881.3 601.4,867.8 602.0,873.9 602.6,877.4 603.2,879.6 603.8,878.3 604.4,878.1 605.0,875.1 605.6,879.6 606.2,874.8 606.8,874.7 607.4,878.9 608.0,864.3 608.6,876.0 609.2,873.7 609.8,874.8 610.4,876.1 611.0,871.8 611.6,868.1 612.2,875.3 612.8,879.1 613.4,871.8 614.0,885.3 614.6,873.5 615.2,875.1 615.8,872.3 616.4,881.4 617.0,875.9 617.6,878.7 618.2,876.1 618.8,870.4 619.4,874.3 620.0,876.2 620.6,867.2 621.2,873.1 621.9,883.4 622.5,878.5 623.1,871.3 623.7,871.3 624.3,872.5 624.9,872.4 625.5,878.4 626.1,874.6 626.7,880.2 627.3,878.7 627.9,879.3 628.5,879.1 629.1,876.8 629.7,876.5 630.3,879.5 630.9,870.3 631.5,878.2 632.1,868.3 632.7,871.2 633.3,882.4 633.9,871.9 634.5,883.5 635.1,869.3 635.7,874.9 636.3,881.6 636.9,887.5 637.5,878.5 638.1,883.3 638.7,870.9 639.3,882.5 639.9,877.3 640.5,873.6 641.1,875.8 641.7,874.4 642.3,876.7 642.9,871.7 643.5,879.7 644.1,872.0 644.7,880.6 645.3,873.5 645.9,879.8 646.5,874.9 647.1,870.7 647.7,867.2 648.3,882.2 648.9,876.9 649.5,877.7 650.1,866.6 650.7,876.9 651.3,868.9 651.9,874.9 652.5,879.5 653.1,871.7 653.7,878.0 654.3,868.7 654.9,868.2 655.5,865.8 656.1,877.7 656.7,864.8 657.3,868.0 657.9,882.0 658.5,862.2 659.1,865.0 659.7,878.9 660.3,872.3 660.9,881.0 661.5,875.2 662.1,873.8 662.7,872.0 663.3,879.5 663.9,875.7 664.5,880.5 665.1,874.2 665.7,873.1 666.3,876.3 666.9,871.1 667.5,873.3 668.1,875.4 668.7,871.6 669.3,883.9 669.9,877.9 670.5,886.8 671.2,878.1 671.8,880.4 672.4,874.0 673.0,880.4 673.6,881.4 674.2,878.7 674.8,878.9 675.4,875.6 676.0,882.6 676.6,885.6 677.2,886.0 677.8,872.2 678.4,884.2 679.0,880.1 679.6,883.1 680.2,873.0 680.8,880.1 681.4,870.9 682.0,880.5 682.6,875.2 683.2,872.7 683.8,871.4 684.4,882.1 685.0,877.7 685.6,876.0 686.2,884.5 686.8,871.5 687.4,872.8 688.0,871.9 688.6,881.2 689.2,873.0 689.8,871.5 690.4,868.2 691.0,875.8 691.6,869.5 692.2,862.7 692.8,874.5 693.4,874.2 694.0,873.5 694.6,879.1 695.2,873.2 695.8,863.0 696.4,875.7 697.0,871.8 697.6,864.6 698.2,867.7 698.8,869.2 699.4,872.0 700.0,870.8 700.6,870.1 701.2,866.7 701.8,869.7 702.4,865.4 703.0,879.6 703.6,866.1 704.2,873.0 704.8,870.4 705.4,872.8 706.0,867.6 706.6,871.6 707.2,868.1 707.8,875.5 708.4,870.8 709.0,865.9 709.6,866.7 710.2,874.4 710.8,872.2 711.4,875.1 712.0,874.2 712.6,873.8 713.2,868.1 713.8,871.5 714.4,867.4 715.0,867.3 715.6,881.6 716.2,874.0 716.8,878.0 717.4,884.1 718.0,881.6 718.6,878.9 719.2,868.2 719.8,876.4 720.5,878.0 721.1,877.4 721.7,881.1 722.3,876.7 722.9,878.2 723.5,886.0 724.1,880.7 724.7,861.4 725.3,875.2 725.9,878.9 726.5,875.3 727.1,883.6 727.7,878.4 728.3,874.6 728.9,887.1 729.5,882.9 730.1,881.3 730.7,880.8 731.3,882.1 731.9,878.3 732.5,874.6 733.1,878.1 733.7,874.8 734.3,874.8 734.9,883.1 735.5,878.8 736.1,882.1 736.7,877.0 737.3,882.1 737.9,881.3 738.5,872.0 739.1,881.4 739.7,888.3 740.3,879.9 740.9,879.1 741.5,883.1 742.1,880.2 742.7,875.4 743.3,883.0 743.9,881.3 744.5,883.9 745.1,878.6 745.7,880.8 746.3,884.7 746.9,880.7 747.5,870.7 748.1,888.1 748.7,886.4 749.3,877.6 749.9,886.0 750.5,869.2 751.1,886.1 751.7,884.9 752.3,880.7 752.9,872.5 753.5,873.6 754.1,874.5 754.7,875.6 755.3,870.3 755.9,885.4 756.5,874.7 757.1,868.7 757.7,880.7 758.3,873.5 758.9,868.7 759.5,868.2 760.1,874.8 760.7,864.5 761.3,870.9 761.9,867.7 762.5,878.0 763.1,876.1 763.7,875.8 764.3,862.9 764.9,882.9 765.5,880.1 766.1,866.7 766.7,869.6 767.3,884.7 767.9,871.7 768.5,870.9 769.1,863.1 769.8,878.3 770.4,871.2 771.0,863.1 771.6,864.4 772.2,872.5 772.8,869.2 773.4,874.9 774.0,860.7 774.6,869.4 775.2,860.9 775.8,863.1 776.4,871.4 777.0,867.7 777.6,863.7 778.2,864.7 778.8,859.3 779.4,861.3 780.0,865.3 780.6,863.3 781.2,870.2 781.8,869.5 782.4,863.6 783.0,864.8 783.6,871.9 784.2,866.8 784.8,870.4 785.4,869.2 786.0,860.1 786.6,871.2 787.2,869.8 787.8,863.8 788.4,866.4 789.0,866.1 789.6,874.3 790.2,867.6 790.8,869.6 791.4,872.1 792.0,871.3 792.6,870.4 793.2,865.3 793.8,860.7 794.4,870.0 795.0,863.8 795.6,871.1 796.2,879.6 796.8,872.7 797.4,867.3 798.0,867.4 798.6,879.3 799.2,864.7 799.8,880.0 800.4,880.7 801.0,880.4 801.6,871.4 802.2,877.3 802.8,875.5 803.4,891.7 804.0,881.5 804.6,882.2 805.2,878.7 805.8,884.8 806.4,877.0 807.0,886.7 807.6,890.5 808.2,892.1 808.8,878.2 809.4,881.0 810.0,889.0 810.6,880.1 811.2,886.7 811.8,886.8 812.4,893.7 813.0,889.6 813.6,886.7 814.2,886.5 814.8,890.6 815.4,883.3 816.0,881.4 816.6,892.8 817.2,887.1 817.8,896.9 818.4,887.7 819.1,894.7 819.7,891.0 820.3,889.7 820.9,892.1 821.5,886.0 822.1,895.3 822.7,894.1 823.3,890.5 823.9,892.6 824.5,891.5 825.1,894.1 825.7,897.3 826.3,890.4 826.9,893.6 827.5,889.8 828.1,888.0 828.7,896.6 829.3,898.7 829.9,897.6 830.5,898.8 831.1,905.6 831.7,888.0 832.3,894.2 832.9,885.0 833.5,899.3 834.1,893.8 834.7,895.5 835.3,897.3 835.9,892.2 836.5,897.0 837.1,897.5 837.7,896.3 838.3,908.0 838.9,900.6 839.5,900.6 840.1,888.9 840.7,894.0 841.3,892.9 841.9,893.6 842.5,897.5 843.1,888.4 843.7,897.3 844.3,903.1 844.9,892.9 845.5,890.1 846.1,895.1 846.7,893.7 847.3,890.6 847.9,887.5 848.5,892.0 849.1,886.4 849.7,892.9 850.3,883.9 850.9,900.6 851.5,889.0 852.1,891.9 852.7,892.5 853.3,899.1 853.9,887.3 854.5,893.2 855.1,896.8 855.7,894.8 856.3,892.5 856.9,890.5 857.5,895.0 858.1,894.5 858.7,887.3 859.3,889.0 859.9,878.2 860.5,889.1 861.1,882.5 861.7,876.7 862.3,885.3 862.9,878.5 863.5,880.9 864.1,881.2 864.7,872.7 865.3,884.5 865.9,881.8 866.5,886.7 867.1,877.9 867.7,871.8 868.4,877.3 869.0,871.5 869.6,878.9 870.2,869.3 870.8,875.3 871.4,877.0 872.0,866.8 872.6,875.2 873.2,872.7 873.8,875.4 874.4,873.1 875.0,876.6 875.6,883.7 876.2,877.2 876.8,876.9 877.4,878.0 878.0,881.5 878.6,872.1 879.2,884.9 879.8,881.0 880.4,880.8 881.0,887.0 881.6,886.7 882.2,876.1 882.8,874.0 883.4,874.1 884.0,879.7 884.6,870.1 885.2,864.2 885.8,859.0 886.4,853.0 887.0,853.4 887.6,848.1 888.2,842.2 888.8,859.7 889.4,842.1 890.0,848.4 890.6,843.5 891.2,844.6 891.8,850.3 892.4,849.5 893.0,842.7 893.6,845.5 894.2,840.9 894.8,846.2 895.4,833.7 896.0,845.3 896.6,833.8 897.2,847.5 897.8,841.0 898.4,838.1 899.0,849.9 899.6,848.1 900.2,841.2 900.8,837.4 901.4,836.2 902.0,839.9 902.6,837.3 903.2,847.8 903.8,843.9 904.4,834.4 905.0,843.8 905.6,841.8 906.2,848.6 906.8,840.6 907.4,846.8 908.0,836.8 908.6,830.7 909.2,835.7 909.8,835.8 910.4,837.9 911.0,832.6 911.6,839.9 912.2,836.1 912.8,822.6 913.4,838.7 914.0,834.4 914.6,837.7 915.2,824.2 915.8,830.7 916.4,835.0 917.0,834.2 917.7,822.1 918.3,823.5 918.9,822.3 919.5,825.9 920.1,820.6 920.7,818.1 921.3,820.7 921.9,831.3 922.5,832.6 923.1,829.8 923.7,821.0 924.3,829.3 924.9,827.0 925.5,821.2 926.1,825.3 926.7,827.0 927.3,815.8 927.9,817.7 928.5,816.0 929.1,815.0 929.7,812.2 930.3,819.1 930.9,819.5 931.5,826.9 932.1,819.2 932.7,820.7 933.3,812.4 933.9,813.9 934.5,809.7 935.1,811.3 935.7,810.6 936.3,813.6 936.9,815.2 937.5,817.5 938.1,815.5 938.7,819.9 939.3,813.1 939.9,815.2 940.5,824.5 941.1,827.6 941.7,817.8 942.3,816.4 942.9,815.4 943.5,807.5 944.1,816.7 944.7,819.7 945.3,811.6 945.9,808.4 946.5,805.2 947.1,818.1 947.7,814.3 948.3,815.1 948.9,805.7 949.5,809.6 950.1,812.9 950.7,809.5 951.3,814.8 951.9,814.1 952.5,813.3 953.1,815.7 953.7,814.6 954.3,811.7 954.9,812.4 955.5,806.5 956.1,809.7 956.7,814.4 957.3,824.9 957.9,821.6 958.5,817.0 959.1,816.7 959.7,821.4 960.3,817.1 960.9,814.9 961.5,818.8 962.1,816.6 962.7,816.7 963.3,819.9 963.9,820.9 964.5,817.6 965.1,815.9 965.7,822.5 966.3,827.7 967.0,822.7 967.6,815.8 968.2,826.4 968.8,814.3 969.4,821.9 970.0,818.7 970.6,823.4 971.2,817.1 971.8,820.0 972.4,818.8 973.0,830.4 973.6,817.8 974.2,829.8 974.8,823.6 975.4,819.9 976.0,823.7 976.6,820.7 977.2,822.7 977.8,823.5 978.4,828.3 979.0,820.0 979.6,819.8 980.2,828.3 980.8,830.5 981.4,825.7 982.0,830.8 982.6,827.0 983.2,824.2 983.8,825.4 984.4,822.0 985.0,827.4 985.6,835.2 986.2,834.9 986.8,828.7 987.4,822.6 988.0,834.1 988.6,837.4 989.2,826.8 989.8,834.7 990.4,831.4 991.0,830.1 991.6,840.6" fill="none" stroke="#1c6c12" stroke-width="5.8" stroke-linejoin="round" stroke-linecap="round"/>
<polyline points="597.2,860.9 597.8,861.5 598.4,862.6 599.0,864.1 599.6,865.9 600.2,868.0 600.8,870.4 601.4,873.0 602.0,875.6 602.6,878.3 603.2,880.8 603.8,883.3 604.4,885.6 605.0,887.6 605.6,889.3 606.2,890.6 606.8,891.6 607.4,892.2 608.0,892.3 608.6,892.0 609.2,891.4 609.8,890.3 610.4,888.9 611.0,887.1 611.6,885.1 612.2,882.8 612.8,880.3 613.4,877.6 614.0,874.8 614.6,872.0 615.2,869.2 615.8,866.5 616.4,863.9 617.0,861.4 617.6,859.2 618.2,857.2 618.8,855.6 619.4,854.2 620.0,853.3 620.6,852.7 621.2,852.6 621.9,852.8 622.5,853.6 623.1,854.7 623.7,856.2 624.3,858.2 624.9,860.4 625.5,863.0 626.1,865.8 626.7,868.9 627.3,872.1 627.9,875.3 628.5,878.7 629.1,882.0 629.7,885.2 630.3,888.4 630.9,891.3 631.5,894.0 632.1,896.5 632.7,898.7 633.3,900.5 633.9,902.0 634.5,903.1 635.1,903.8 635.7,904.1 636.3,904.1 636.9,903.7 637.5,902.9 638.1,901.7 638.7,900.2 639.3,898.3 639.9,896.1 640.5,893.6 641.1,890.7 641.7,887.6 642.3,884.2 642.9,880.6 643.5,876.8 644.1,872.9 644.7,868.8 645.3,864.8 645.9,860.7 646.5,856.6 647.1,852.7 647.7,848.9 648.3,845.3 648.9,842.0 649.5,839.0 650.1,836.3 650.7,834.0 651.3,832.1 651.9,830.6 652.5,829.7 653.1,829.2 653.7,829.2 654.3,829.7 654.9,830.6 655.5,832.1 656.1,833.9 656.7,836.2 657.3,838.9 657.9,841.9 658.5,845.3 659.1,849.0 659.7,852.9 660.3,857.1 660.9,861.4 661.5,865.9 662.1,870.4 662.7,875.0 663.3,879.6 663.9,884.1 664.5,888.6 665.1,892.9 665.7,897.1 666.3,901.2 666.9,905.0 667.5,908.5 668.1,911.9 668.7,914.9 669.3,917.6 669.9,920.1 670.5,922.2 671.2,924.0 671.8,925.5 672.4,926.6 673.0,927.4 673.6,927.9 674.2,928.0 674.8,927.9 675.4,927.5 676.0,926.8 676.6,925.8 677.2,924.6 677.8,923.1 678.4,921.3 679.0,919.3 679.6,917.1 680.2,914.6 680.8,912.0 681.4,909.1 682.0,905.9 682.6,902.6 683.2,899.1 683.8,895.5 684.4,891.7 685.0,887.7 685.6,883.6 686.2,879.3 686.8,875.0 687.4,870.6 688.0,866.1 688.6,861.5 689.2,857.0 689.8,852.4 690.4,847.8 691.0,843.3 691.6,838.8 692.2,834.4 692.8,830.1 693.4,825.9 694.0,821.9 694.6,818.0 695.2,814.4 695.8,810.9 696.4,807.8 697.0,804.8 697.6,802.2 698.2,799.9 698.8,797.9 699.4,796.3 700.0,795.0 700.6,794.1 701.2,793.7 701.8,793.6 702.4,793.9 703.0,794.6 703.6,795.8 704.2,797.5 704.8,799.6 705.4,802.2 706.0,805.2 706.6,808.6 707.2,812.4 707.8,816.6 708.4,821.0 709.0,825.7 709.6,830.6 710.2,835.7 710.8,840.8 711.4,846.0 712.0,851.1 712.6,856.3 713.2,861.3 713.8,866.1 714.4,870.8 715.0,875.3 715.6,879.6 716.2,883.8 716.8,887.8 717.4,891.7 718.0,895.4 718.6,899.0 719.2,902.4 719.8,905.8 720.5,909.0 721.1,912.0 721.7,915.0 722.3,917.9 722.9,920.6 723.5,923.3 724.1,925.9 724.7,928.3 725.3,930.8 725.9,933.1 726.5,935.3 727.1,937.5 727.7,939.7 728.3,941.7 728.9,943.7 729.5,945.7 730.1,947.5 730.7,949.4 731.3,951.1 731.9,952.8 732.5,954.5 733.1,956.0 733.7,957.5 734.3,959.0 734.9,960.3 735.5,961.6 736.1,962.8 736.7,963.9 737.3,964.9 737.9,965.8 738.5,966.6 739.1,967.2 739.7,967.7 740.3,968.1 740.9,968.3 741.5,968.4 742.1,968.3 742.7,968.1 743.3,967.7 743.9,967.1 744.5,966.3 745.1,965.3 745.7,964.0 746.3,962.5 746.9,960.6 747.5,958.6 748.1,956.2 748.7,953.5 749.3,950.6 749.9,947.4 750.5,943.9 751.1,940.1 751.7,936.1 752.3,931.8 752.9,927.2 753.5,922.5 754.1,917.5 754.7,912.3 755.3,906.9 755.9,901.4 756.5,895.7 757.1,890.0 757.7,884.1 758.3,878.1 758.9,872.1 759.5,866.0 760.1,859.7 760.7,853.3 761.3,846.9 761.9,840.3 762.5,833.8 763.1,827.2 763.7,820.6 764.3,814.0 764.9,807.5 765.5,801.0 766.1,794.6 766.7,788.4 767.3,782.2 767.9,776.3 768.5,770.5 769.1,764.9 769.8,759.6 770.4,754.4 771.0,749.6 771.6,745.0 772.2,740.7 772.8,736.7 773.4,733.0 774.0,729.6 774.6,726.6 775.2,723.9 775.8,721.5 776.4,719.5 777.0,717.8 777.6,716.5 778.2,715.4 778.8,714.8 779.4,714.4 780.0,714.3 780.6,714.5 781.2,715.0 781.8,715.6 782.4,716.5 783.0,717.6 783.6,718.9 784.2,720.5 784.8,722.3 785.4,724.2 786.0,726.4 786.6,728.7 787.2,731.3 787.8,734.0 788.4,736.9 789.0,739.9 789.6,743.1 790.2,746.4 790.8,749.9 791.4,753.5 792.0,757.2 792.6,761.0 793.2,764.9 793.8,768.9 794.4,773.0 795.0,777.1 795.6,781.3 796.2,785.6 796.8,789.9 797.4,794.2 798.0,798.6 798.6,802.9 799.2,807.3 799.8,811.7 800.4,816.1 801.0,820.5 801.6,824.9 802.2,829.2 802.8,833.5 803.4,837.8 804.0,842.0 804.6,846.2 805.2,850.4 805.8,854.5 806.4,858.5 807.0,862.5 807.6,866.4 808.2,870.2 808.8,874.0 809.4,877.7 810.0,881.3 810.6,884.8 811.2,888.2 811.8,891.6 812.4,894.9 813.0,898.0 813.6,901.2 814.2,904.2 814.8,907.2 815.4,910.1 816.0,912.9 816.6,915.7 817.2,918.3 817.8,921.0 818.4,923.5 819.1,926.1 819.7,928.5 820.3,930.9 820.9,933.3 821.5,935.5 822.1,937.8 822.7,940.0 823.3,942.1 823.9,944.2 824.5,946.3 825.1,948.3 825.7,950.3 826.3,952.3 826.9,954.2 827.5,956.1 828.1,957.9 828.7,959.7 829.3,961.5 829.9,963.3 830.5,965.0 831.1,966.8 831.7,968.4 832.3,970.1 832.9,971.7 833.5,973.4 834.1,975.0 834.7,976.6 835.3,978.1 835.9,979.7 836.5,981.2 837.1,982.7 837.7,984.2 838.3,985.7 838.9,987.2 839.5,988.7 840.1,990.1 840.7,991.6 841.3,993.0 841.9,994.4 842.5,995.8 843.1,997.2 843.7,998.6 844.3,1000.0 844.9,1001.4 845.5,1002.7 846.1,1004.1 846.7,1005.4 847.3,1006.8 847.9,1008.1 848.5,1009.4 849.1,1010.7 849.7,1011.9 850.3,1013.2 850.9,1014.5 851.5,1015.7 852.1,1016.9 852.7,1018.2 853.3,1019.4 853.9,1020.5 854.5,1021.7 855.1,1022.9 855.7,1024.0 856.3,1025.1 856.9,1026.2 857.5,1027.2 858.1,1028.3 858.7,1029.3 859.3,1030.3 859.9,1031.3 860.5,1032.2 861.1,1033.1 861.7,1033.9 862.3,1034.8 862.9,1035.6 863.5,1036.3 864.1,1037.1 864.7,1037.7 865.3,1038.4 865.9,1038.9 866.5,1039.5 867.1,1040.0 867.7,1040.4 868.4,1040.8 869.0,1041.1 869.6,1041.4 870.2,1041.6 870.8,1041.7 871.4,1041.8 872.0,1041.8 872.6,1041.9 873.2,1041.9 873.8,1041.9 874.4,1041.8 875.0,1041.6 875.6,1041.3 876.2,1040.9 876.8,1040.3 877.4,1039.6 878.0,1038.8 878.6,1037.7 879.2,1036.5 879.8,1035.1 880.4,1033.5 881.0,1031.7 881.6,1029.6 882.2,1027.3 882.8,1024.8 883.4,1022.1 884.0,1019.1 884.6,1015.8 885.2,1012.3 885.8,1008.6 886.4,1004.6 887.0,1000.4 887.6,995.9 888.2,991.2 888.8,986.3 889.4,981.2 890.0,975.9 890.6,970.4 891.2,964.7 891.8,958.9 892.4,952.9 893.0,946.7 893.6,940.5 894.2,934.1 894.8,927.6 895.4,921.1 896.0,914.5 896.6,907.9 897.2,901.2 897.8,894.5 898.4,887.8 899.0,881.2 899.6,874.6 900.2,867.9 900.8,861.2 901.4,854.4 902.0,847.5 902.6,840.6 903.2,833.6 903.8,826.5 904.4,819.4 905.0,812.3 905.6,805.1 906.2,797.8 906.8,790.6 907.4,783.2 908.0,775.9 908.6,768.6 909.2,761.2 909.8,753.9 910.4,746.5 911.0,739.2 911.6,731.9 912.2,724.6 912.8,717.3 913.4,710.0 914.0,702.8 914.6,695.7 915.2,688.6 915.8,681.5 916.4,674.5 917.0,667.6 917.7,660.8 918.3,654.1 918.9,647.4 919.5,640.9 920.1,634.5 920.7,628.2 921.3,622.0 921.9,615.9 922.5,610.0 923.1,604.2 923.7,598.6 924.3,593.2 924.9,587.8 925.5,582.7 926.1,577.7 926.7,573.0 927.3,568.4 927.9,563.9 928.5,559.7 929.1,555.7 929.7,551.9 930.3,548.3 930.9,545.0 931.5,541.8 932.1,538.9 932.7,536.2 933.3,533.7 933.9,531.5 934.5,529.5 935.1,527.7 935.7,526.2 936.3,524.9 936.9,523.9 937.5,523.1 938.1,522.6 938.7,522.3 939.3,522.2 939.9,522.3 940.5,522.6 941.1,523.0 941.7,523.6 942.3,524.3 942.9,525.2 943.5,526.2 944.1,527.4 944.7,528.7 945.3,530.1 945.9,531.7 946.5,533.4 947.1,535.2 947.7,537.2 948.3,539.3 948.9,541.5 949.5,543.9 950.1,546.3 950.7,548.9 951.3,551.6 951.9,554.4 952.5,557.3 953.1,560.4 953.7,563.5 954.3,566.8 954.9,570.2 955.5,573.7 956.1,577.2 956.7,580.9 957.3,584.7 957.9,588.7 958.5,592.8 959.1,597.1 959.7,601.4 960.3,605.7 960.9,610.2 961.5,614.6 962.1,619.0 962.7,623.4 963.3,627.7 963.9,631.9 964.5,635.9 965.1,640.0 965.7,644.0 966.3,648.0 967.0,652.0 967.6,656.0 968.2,659.9 968.8,663.8 969.4,667.7 970.0,671.5 970.6,675.4 971.2,679.2 971.8,683.0 972.4,686.9 973.0,690.7 973.6,694.5 974.2,698.3 974.8,702.1 975.4,706.0 976.0,709.8 976.6,713.7 977.2,717.6 977.8,721.5 978.4,725.4 979.0,729.4 979.6,733.3 980.2,737.2 980.8,741.1 981.4,745.0 982.0,748.8 982.6,752.6 983.2,756.5 983.8,760.3 984.4,764.1 985.0,767.9 985.6,771.7 986.2,775.5 986.8,779.3 987.4,783.2 988.0,787.0 988.6,790.9 989.2,794.8 989.8,798.8 990.4,802.8 991.0,806.8 991.6,810.8" fill="none" stroke="#000" stroke-width="4.6" stroke-linejoin="round" stroke-linecap="round" stroke-dasharray="8.7 12.2 0 12.3"/>
</g>
<rect x="126.6" y="468.0" width="395.2" height="610.3" fill="none" stroke="#000" stroke-width="2.9"/>
<path d="M126.6,1078.3v-7.5M126.6,468.0v7.5M225.4,1078.3v-7.5M225.4,468.0v7.5M324.2,1078.3v-7.5M324.2,468.0v7.5M423.0,1078.3v-7.5M423.0,468.0v7.5M521.8,1078.3v-7.5M521.8,468.0v7.5M176.0,1078.3v-4M176.0,468.0v4M274.8,1078.3v-4M274.8,468.0v4M373.6,1078.3v-4M373.6,468.0v4M472.4,1078.3v-4M472.4,468.0v4M126.6,1069.3h7.5M126.6,948.9h7.5M126.6,828.5h7.5M126.6,708.1h7.5M126.6,587.7h7.5M126.6,467.3h7.5M126.6,1009.1h4M126.6,888.7h4M126.6,768.3h4M126.6,647.9h4M126.6,527.5h4" stroke="#000" stroke-width="2.4" fill="none"/>
<use href="#one" transform="translate(61.56,477.86) scale(0.01643,-0.01710)" fill="#000"/><text x="80.28" y="477.86" font-size="35.03" textLength="37.44" lengthAdjust="spacingAndGlyphs" fill="#000">50</text>
<use href="#one" transform="translate(61.56,598.26) scale(0.01643,-0.01710)" fill="#000"/><text x="80.28" y="598.26" font-size="35.03" textLength="37.44" lengthAdjust="spacingAndGlyphs" fill="#000">00</text>
<text x="80.28" y="718.66" font-size="35.03" textLength="37.44" lengthAdjust="spacingAndGlyphs" fill="#000">50</text>
<text x="99.00" y="839.06" font-size="35.03" textLength="18.72" lengthAdjust="spacingAndGlyphs" fill="#000">0</text>
<text x="69.07" y="959.46" font-size="35.03" textLength="48.65" lengthAdjust="spacingAndGlyphs" fill="#000">-50</text>
<text x="50.35" y="1079.86" font-size="35.03" textLength="11.21" lengthAdjust="spacingAndGlyphs" fill="#000">-</text><use href="#one" transform="translate(61.56,1079.86) scale(0.01643,-0.01710)" fill="#000"/><text x="80.28" y="1079.86" font-size="35.03" textLength="37.44" lengthAdjust="spacingAndGlyphs" fill="#000">00</text>
<use href="#one" transform="translate(118.16,1114.10) scale(0.01712,-0.01781)" fill="#000"/>
<text x="215.79" y="1114.10" font-size="35.95" textLength="19.21" lengthAdjust="spacingAndGlyphs" fill="#000">2</text>
<text x="314.83" y="1113.75" font-size="35.45" textLength="18.95" lengthAdjust="spacingAndGlyphs" fill="#000">3</text>
<text x="413.36" y="1114.10" font-size="36.48" textLength="19.50" lengthAdjust="spacingAndGlyphs" fill="#000">4</text>
<text x="512.22" y="1113.75" font-size="35.97" textLength="19.22" lengthAdjust="spacingAndGlyphs" fill="#000">5</text>
<rect x="597.2" y="468.3" width="394.4" height="610.0" fill="none" stroke="#000" stroke-width="2.9"/>
<path d="M597.2,1078.3v-7.5M597.2,468.3v7.5M728.7,1078.3v-7.5M728.7,468.3v7.5M860.1,1078.3v-7.5M860.1,468.3v7.5M991.6,1078.3v-7.5M991.6,468.3v7.5M662.9,1078.3v-4M662.9,468.3v4M794.4,1078.3v-4M794.4,468.3v4M925.9,1078.3v-4M925.9,468.3v4M597.2,1078.3h7.5M597.2,976.7h7.5M597.2,875.0h7.5M597.2,773.3h7.5M597.2,671.7h7.5M597.2,570.0h7.5M597.2,468.3h7.5M597.2,1027.5h4M597.2,925.8h4M597.2,824.2h4M597.2,722.5h4M597.2,620.8h4M597.2,519.2h4" stroke="#000" stroke-width="2.4" fill="none"/>
<text x="568.75" y="479.22" font-size="36.05" textLength="19.26" lengthAdjust="spacingAndGlyphs" fill="#000">4</text>
<text x="569.76" y="580.55" font-size="35.03" textLength="18.72" lengthAdjust="spacingAndGlyphs" fill="#000">3</text>
<text x="569.74" y="682.56" font-size="35.52" textLength="18.98" lengthAdjust="spacingAndGlyphs" fill="#000">2</text>
<use href="#one" transform="translate(574.10,784.23) scale(0.01691,-0.01760)" fill="#000"/>
<text x="569.60" y="885.56" font-size="35.03" textLength="18.72" lengthAdjust="spacingAndGlyphs" fill="#000">0</text>
<text x="562.56" y="987.57" font-size="36.05" textLength="11.53" lengthAdjust="spacingAndGlyphs" fill="#000">-</text><use href="#one" transform="translate(574.10,987.57) scale(0.01691,-0.01760)" fill="#000"/>
<text x="558.37" y="1089.24" font-size="35.52" textLength="30.35" lengthAdjust="spacingAndGlyphs" fill="#000">-2</text>
<use href="#one" transform="translate(588.76,1114.10) scale(0.01712,-0.01781)" fill="#000"/>
<text x="719.06" y="1114.10" font-size="35.95" textLength="19.21" lengthAdjust="spacingAndGlyphs" fill="#000">2</text>
<text x="850.76" y="1113.75" font-size="35.45" textLength="18.95" lengthAdjust="spacingAndGlyphs" fill="#000">3</text>
<text x="981.96" y="1114.10" font-size="36.48" textLength="19.50" lengthAdjust="spacingAndGlyphs" fill="#000">4</text>
<rect x="1081.3" y="467.5" width="395.9" height="609.2" fill="none" stroke="#000" stroke-width="2.9"/>
<path d="M1081.3,1076.7v-7.5M1081.3,467.5v7.5M1180.3,1076.7v-7.5M1180.3,467.5v7.5M1279.2,1076.7v-7.5M1279.2,467.5v7.5M1378.2,1076.7v-7.5M1378.2,467.5v7.5M1477.2,1076.7v-7.5M1477.2,467.5v7.5M1130.8,1076.7v-4M1130.8,467.5v4M1229.8,1076.7v-4M1229.8,467.5v4M1328.7,1076.7v-4M1328.7,467.5v4M1427.7,1076.7v-4M1427.7,467.5v4M1081.3,1076.0h7.5M1081.3,989.1h7.5M1081.3,902.2h7.5M1081.3,815.3h7.5M1081.3,728.4h7.5M1081.3,641.5h7.5M1081.3,554.6h7.5M1081.3,467.7h7.5M1081.3,1032.5h4M1081.3,945.6h4M1081.3,858.8h4M1081.3,771.8h4M1081.3,684.9h4M1081.3,598.0h4M1081.3,511.1h4" stroke="#000" stroke-width="2.4" fill="none"/>
<text x="1034.98" y="478.26" font-size="35.03" textLength="37.44" lengthAdjust="spacingAndGlyphs" fill="#000">40</text>
<text x="1034.98" y="565.16" font-size="35.03" textLength="37.44" lengthAdjust="spacingAndGlyphs" fill="#000">30</text>
<text x="1034.98" y="652.06" font-size="35.03" textLength="37.44" lengthAdjust="spacingAndGlyphs" fill="#000">20</text>
<use href="#one" transform="translate(1034.98,738.96) scale(0.01643,-0.01710)" fill="#000"/><text x="1053.70" y="738.96" font-size="35.03" textLength="18.72" lengthAdjust="spacingAndGlyphs" fill="#000">0</text>
<text x="1053.70" y="825.86" font-size="35.03" textLength="18.72" lengthAdjust="spacingAndGlyphs" fill="#000">0</text>
<text x="1023.77" y="912.76" font-size="35.03" textLength="11.21" lengthAdjust="spacingAndGlyphs" fill="#000">-</text><use href="#one" transform="translate(1034.98,912.76) scale(0.01643,-0.01710)" fill="#000"/><text x="1053.70" y="912.76" font-size="35.03" textLength="18.72" lengthAdjust="spacingAndGlyphs" fill="#000">0</text>
<text x="1023.77" y="999.66" font-size="35.03" textLength="48.65" lengthAdjust="spacingAndGlyphs" fill="#000">-20</text>
<text x="1023.77" y="1086.56" font-size="35.03" textLength="48.65" lengthAdjust="spacingAndGlyphs" fill="#000">-30</text>
<text x="1071.69" y="1112.60" font-size="35.95" textLength="19.21" lengthAdjust="spacingAndGlyphs" fill="#000">2</text>
<text x="1170.64" y="1112.60" font-size="36.48" textLength="19.50" lengthAdjust="spacingAndGlyphs" fill="#000">4</text>
<text x="1269.66" y="1112.25" font-size="35.45" textLength="18.95" lengthAdjust="spacingAndGlyphs" fill="#000">6</text>
<text x="1368.75" y="1112.25" font-size="35.45" textLength="18.95" lengthAdjust="spacingAndGlyphs" fill="#000">8</text>
<use href="#one" transform="translate(1457.07,1112.25) scale(0.01663,-0.01731)" fill="#000"/><text x="1476.01" y="1112.25" font-size="35.45" textLength="18.95" lengthAdjust="spacingAndGlyphs" fill="#000">0</text>
<text x="139.69" y="1064.17" font-size="54.38" textLength="32.84" lengthAdjust="spacingAndGlyphs" fill="#121212" stroke="#121212" stroke-width="0.8">C</text>
<text x="171.54" y="1063.87" font-size="54.74" textLength="30.44" lengthAdjust="spacingAndGlyphs" fill="#121212" stroke="#121212" stroke-width="0.8">d</text>
<text x="202.22" y="1064.09" font-size="31.36" textLength="17.44" lengthAdjust="spacingAndGlyphs" fill="#121212" stroke="#121212" stroke-width="0.8">3</text>
<text x="220.71" y="1064.50" font-size="54.72" textLength="31.18" lengthAdjust="spacingAndGlyphs" fill="#121212" stroke="#121212" stroke-width="0.8">A</text>
<text x="253.76" y="1064.20" font-size="51.06" textLength="20.41" lengthAdjust="spacingAndGlyphs" fill="#121212" stroke="#121212" stroke-width="0.8">s</text>
<text x="273.91" y="1064.50" font-size="31.79" textLength="17.68" lengthAdjust="spacingAndGlyphs" fill="#121212" stroke="#121212" stroke-width="0.8">2</text>
<text x="614.19" y="1065.20" font-size="54.65" textLength="26.49" lengthAdjust="spacingAndGlyphs" fill="#121212" stroke="#121212" stroke-width="0.8">L</text>
<text x="640.43" y="1065.00" font-size="50.93" textLength="23.17" lengthAdjust="spacingAndGlyphs" fill="#121212" stroke="#121212" stroke-width="0.8">a</text>
<text x="667.44" y="1065.20" font-size="54.94" textLength="29.56" lengthAdjust="spacingAndGlyphs" fill="#121212" stroke="#121212" stroke-width="0.8">R</text>
<text x="697.25" y="1065.00" font-size="55.34" textLength="30.06" lengthAdjust="spacingAndGlyphs" fill="#121212" stroke="#121212" stroke-width="0.8">h</text>
<text x="726.47" y="1065.00" font-size="54.22" textLength="15.06" lengthAdjust="spacingAndGlyphs" fill="#121212" stroke="#121212" stroke-width="0.8">I</text>
<text x="742.25" y="1065.00" font-size="51.29" textLength="28.53" lengthAdjust="spacingAndGlyphs" fill="#121212" stroke="#121212" stroke-width="0.8">n</text>
<text x="771.48" y="1064.89" font-size="31.24" textLength="17.01" lengthAdjust="spacingAndGlyphs" fill="#121212" stroke="#121212" stroke-width="0.8">5</text>
<text x="1093.76" y="1064.80" font-size="53.85" textLength="29.58" lengthAdjust="spacingAndGlyphs" fill="#121212" stroke="#121212" stroke-width="0.8">B</text>
<text x="1123.71" y="1064.60" font-size="51.34" textLength="11.41" lengthAdjust="spacingAndGlyphs" fill="#121212" stroke="#121212" stroke-width="0.8">i</text>
<text x="1135.34" y="1064.60" font-size="31.51" textLength="17.52" lengthAdjust="spacingAndGlyphs" fill="#121212" stroke="#121212" stroke-width="0.8">2</text>
<text x="1152.41" y="1064.37" font-size="54.24" textLength="39.31" lengthAdjust="spacingAndGlyphs" fill="#121212" stroke="#121212" stroke-width="0.8">O</text>
<text x="1190.46" y="1064.50" font-size="31.08" textLength="17.28" lengthAdjust="spacingAndGlyphs" fill="#121212" stroke="#121212" stroke-width="0.8">2</text>
<text x="1208.62" y="1064.37" font-size="54.24" textLength="26.18" lengthAdjust="spacingAndGlyphs" fill="#121212" stroke="#121212" stroke-width="0.8">S</text>
<text x="1235.68" y="1064.40" font-size="50.93" textLength="27.73" lengthAdjust="spacingAndGlyphs" fill="#121212" stroke="#121212" stroke-width="0.8">e</text>
<text x="274.56" y="1167.30" font-size="57.41" font-style="italic" textLength="29.03" lengthAdjust="spacingAndGlyphs" fill="#121212" stroke="#121212" stroke-width="0.8">B</text>
<text x="315.88" y="1167.30" font-size="54.70" textLength="64.24" lengthAdjust="spacingAndGlyphs" fill="#121212" stroke="#121212" stroke-width="0.8">(T)</text>
<text x="743.76" y="1167.30" font-size="57.41" font-style="italic" textLength="29.14" lengthAdjust="spacingAndGlyphs" fill="#121212" stroke="#121212" stroke-width="0.8">B</text>
<text x="785.39" y="1167.30" font-size="54.70" textLength="64.02" lengthAdjust="spacingAndGlyphs" fill="#121212" stroke="#121212" stroke-width="0.8">(T)</text>
<text x="1227.06" y="1167.30" font-size="57.41" font-style="italic" textLength="29.03" lengthAdjust="spacingAndGlyphs" fill="#121212" stroke="#121212" stroke-width="0.8">B</text>
<text x="1268.70" y="1167.30" font-size="54.70" textLength="63.91" lengthAdjust="spacingAndGlyphs" fill="#121212" stroke="#121212" stroke-width="0.8">(T)</text>
</svg></body></html>
